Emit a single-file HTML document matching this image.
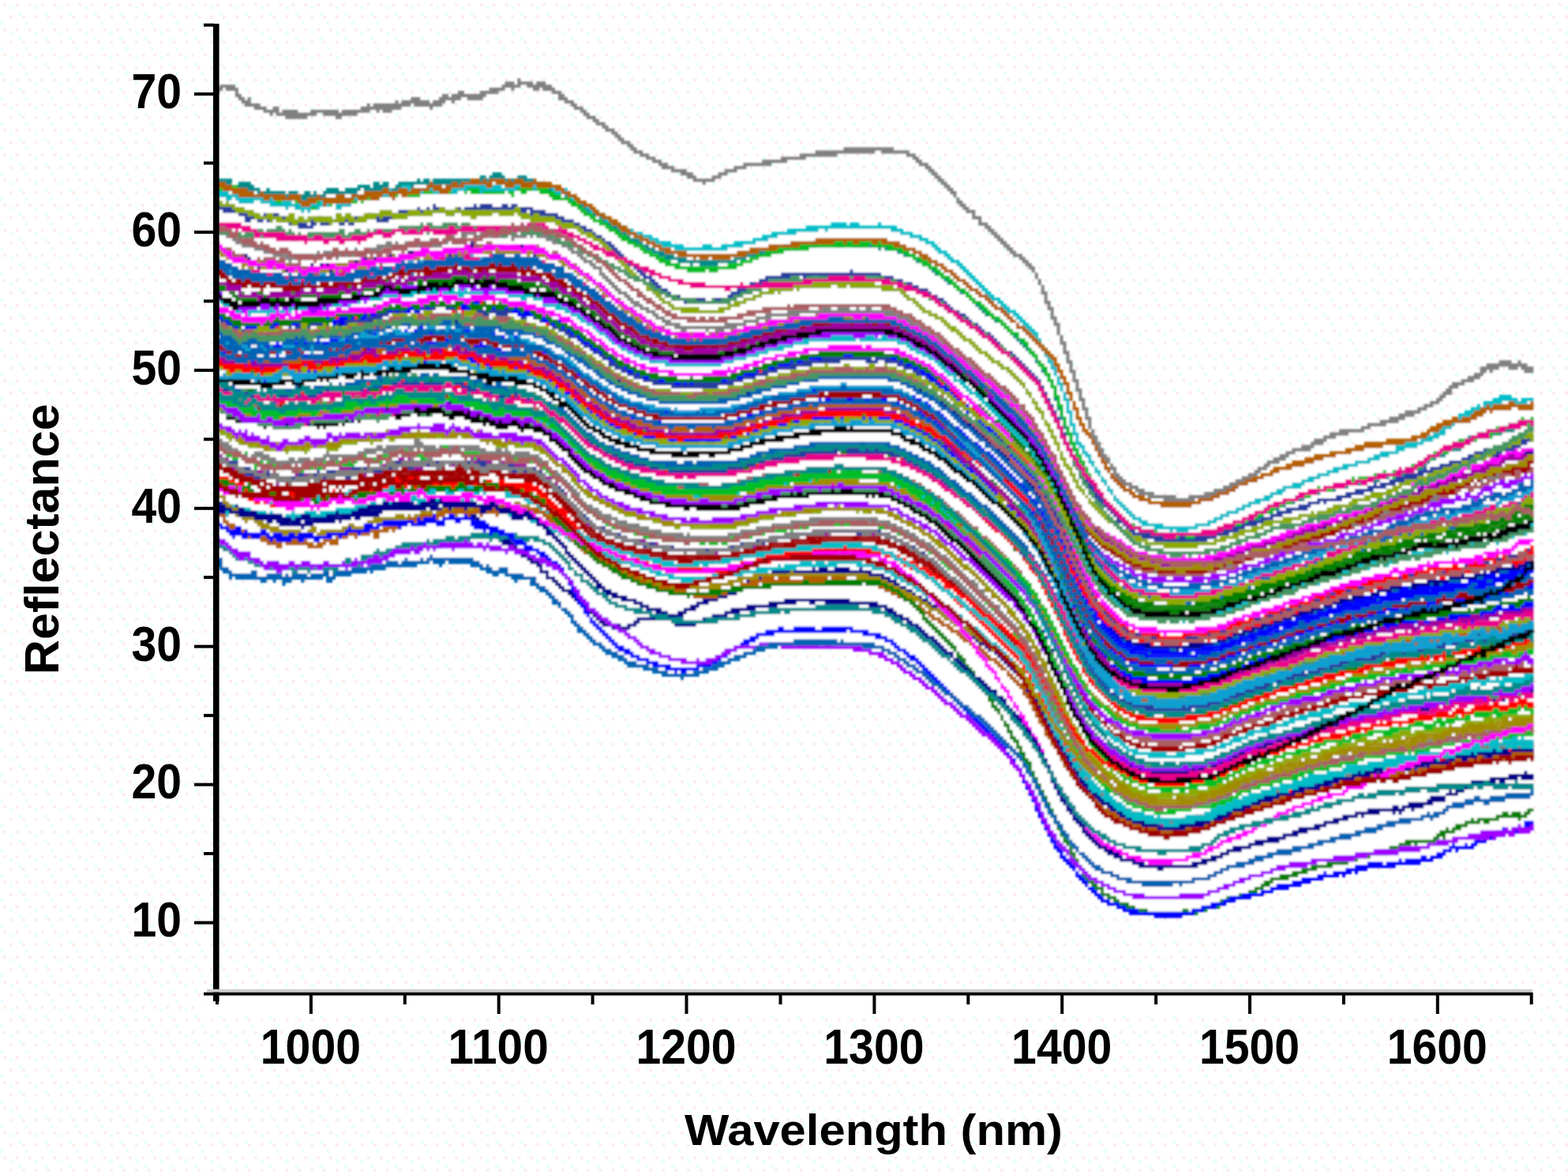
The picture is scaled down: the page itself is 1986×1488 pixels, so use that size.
<!DOCTYPE html><html><head><meta charset="utf-8"><title>Reflectance</title><style>html,body{margin:0;padding:0;background:#fff}svg{display:block}text{font-family:"Liberation Sans",sans-serif;font-weight:bold;fill:#000}</style></head><body>
<svg width="1986" height="1488" viewBox="0 0 1986 1488">
<defs><pattern id="dz" width="8" height="8" patternUnits="userSpaceOnUse" patternTransform="scale(3.9720 3.9680)"><rect width="8" height="8" fill="#fff"/><g fill="#fdeeee"><rect x="1" y="1" width="1" height="1"/><rect x="5" y="1" width="1" height="1"/><rect x="3" y="5" width="1" height="1"/><rect x="7" y="5" width="1" height="1"/></g><g fill="#e8ffff"><rect x="3" y="2" width="1" height="1"/><rect x="6" y="4" width="1" height="1"/><rect x="0" y="7" width="1" height="1"/></g></pattern><filter id="bl" x="0" y="0" width="100%" height="100%" filterUnits="userSpaceOnUse"><feGaussianBlur stdDeviation="0.9"/></filter></defs>
<rect width="100%" height="100%" fill="url(#dz)"/>
<g filter="url(#bl)"><g transform="scale(3.9720 3.9680)" stroke="none">
<polygon fill="#fff" points="69.0,57.3 71.0,57.8 73.0,58.3 75.0,58.8 77.0,59.3 79.0,59.7 81.0,60.2 83.0,60.6 85.0,61.1 87.0,61.6 89.0,62.0 91.0,62.2 93.0,62.1 95.0,62.0 97.0,61.9 99.0,61.8 101.0,61.6 103.0,61.5 105.0,61.3 107.0,61.1 109.0,60.9 111.0,60.7 113.0,60.5 115.0,60.3 117.0,60.1 119.0,59.9 121.0,59.7 123.0,59.5 125.0,59.3 127.0,59.1 129.0,58.9 131.0,58.7 133.0,58.5 135.0,58.4 137.0,58.2 139.0,58.1 141.0,57.9 143.0,57.8 145.0,57.7 147.0,57.7 149.0,57.6 151.0,57.5 153.0,57.4 155.0,57.4 157.0,57.4 159.0,57.3 161.0,57.4 163.0,57.4 165.0,57.5 167.0,57.7 169.0,57.8 171.0,58.2 173.0,58.7 175.0,59.1 177.0,59.7 179.0,60.2 181.0,61.2 183.0,62.4 185.0,63.8 187.0,65.3 189.0,66.6 191.0,67.9 193.0,69.2 195.0,70.5 197.0,71.5 199.0,72.6 201.0,73.5 203.0,74.4 205.0,75.2 207.0,76.0 209.0,76.9 211.0,77.6 213.0,78.3 215.0,78.9 217.0,79.3 219.0,79.4 221.0,79.4 223.0,79.4 225.0,79.4 227.0,79.4 229.0,79.3 231.0,79.0 233.0,78.6 235.0,78.1 237.0,77.6 239.0,77.1 241.0,76.6 243.0,76.1 245.0,75.6 247.0,75.2 249.0,74.8 251.0,74.4 253.0,74.1 255.0,73.7 257.0,73.4 259.0,73.0 261.0,72.8 263.0,72.5 265.0,72.3 267.0,72.2 269.0,72.2 271.0,72.2 273.0,72.2 275.0,72.2 277.0,72.3 279.0,72.3 281.0,72.5 283.0,72.9 285.0,73.3 287.0,73.7 289.0,74.3 291.0,75.0 293.0,75.9 295.0,76.8 297.0,77.9 299.0,79.2 301.0,80.8 303.0,82.5 305.0,84.1 307.0,85.8 309.0,87.7 311.0,89.6 313.0,91.5 315.0,93.3 317.0,95.0 319.0,96.6 321.0,98.3 323.0,99.9 325.0,101.7 327.0,103.6 329.0,105.6 331.0,108.2 333.0,111.3 335.0,113.3 337.0,116.4 339.0,120.6 341.0,125.2 343.0,130.8 345.0,135.8 347.0,138.2 349.0,141.2 351.0,145.7 353.0,149.5 355.0,152.5 357.0,154.9 359.0,156.5 361.0,157.7 363.0,158.7 365.0,159.6 367.0,160.4 369.0,160.9 371.0,161.1 373.0,161.1 375.0,161.1 377.0,161.1 379.0,161.0 381.0,160.6 383.0,160.0 385.0,159.4 387.0,158.6 389.0,157.7 391.0,156.9 393.0,156.0 395.0,155.0 397.0,154.1 399.0,153.2 401.0,152.5 403.0,151.7 405.0,151.0 407.0,150.3 409.0,149.6 411.0,149.0 413.0,148.4 415.0,147.8 417.0,147.2 419.0,146.6 421.0,146.1 423.0,145.5 425.0,145.0 427.0,144.5 429.0,143.9 431.0,143.4 433.0,142.9 435.0,142.5 437.0,142.1 439.0,141.8 441.0,141.6 443.0,141.5 445.0,141.3 447.0,141.1 449.0,140.7 451.0,140.0 453.0,139.0 455.0,137.9 457.0,136.8 459.0,136.0 461.0,135.4 463.0,134.8 465.0,134.1 467.0,132.7 469.0,131.6 471.0,130.5 473.0,129.4 475.0,128.5 477.0,127.9 479.0,127.6 481.0,127.6 483.0,127.6 485.0,127.6 487.0,127.6 489.0,127.6 489.0,127.6 489.0,264.5 489.0,264.5 487.0,264.6 485.0,264.8 483.0,265.0 481.0,265.2 479.0,265.5 477.0,266.0 475.0,266.8 473.0,267.8 471.0,268.7 469.0,269.5 467.0,270.2 465.0,270.9 463.0,271.6 461.0,272.3 459.0,272.9 457.0,273.4 455.0,273.9 453.0,274.3 451.0,274.7 449.0,275.0 447.0,275.3 445.0,275.6 443.0,275.8 441.0,276.1 439.0,276.4 437.0,276.6 435.0,277.0 433.0,277.3 431.0,277.8 429.0,278.3 427.0,278.8 425.0,279.2 423.0,279.6 421.0,280.0 419.0,280.5 417.0,281.0 415.0,281.5 413.0,282.0 411.0,282.5 409.0,283.1 407.0,283.6 405.0,284.1 403.0,284.5 401.0,285.0 399.0,285.5 397.0,286.1 395.0,286.7 393.0,287.3 391.0,288.0 389.0,288.6 387.0,289.1 385.0,289.8 383.0,290.4 381.0,291.0 379.0,291.7 377.0,291.9 375.0,292.0 373.0,292.0 371.0,292.0 369.0,291.9 367.0,291.7 365.0,291.4 363.0,291.1 361.0,290.7 359.0,290.1 357.0,289.5 355.0,288.9 353.0,288.0 351.0,286.8 349.0,285.0 347.0,283.0 345.0,280.7 343.0,278.2 341.0,275.8 339.0,273.2 337.0,270.2 335.0,266.7 333.0,262.7 331.0,258.3 329.0,253.3 327.0,249.1 325.0,245.7 323.0,243.1 321.0,240.8 319.0,238.7 317.0,236.7 315.0,234.9 313.0,233.2 311.0,231.5 309.0,229.8 307.0,228.1 305.0,226.4 303.0,224.8 301.0,223.2 299.0,221.6 297.0,220.0 295.0,218.3 293.0,216.7 291.0,215.3 289.0,213.9 287.0,212.5 285.0,211.1 283.0,209.9 281.0,208.9 279.0,208.2 277.0,207.7 275.0,207.3 273.0,206.9 271.0,206.7 269.0,206.5 267.0,206.5 265.0,206.4 263.0,206.3 261.0,206.3 259.0,206.2 257.0,206.2 255.0,206.1 253.0,206.1 251.0,206.1 249.0,206.1 247.0,206.1 245.0,206.5 243.0,207.0 241.0,207.7 239.0,208.4 237.0,209.3 235.0,210.1 233.0,210.9 231.0,211.7 229.0,212.6 227.0,213.4 225.0,214.1 223.0,214.6 221.0,215.1 219.0,215.5 217.0,215.7 215.0,215.6 213.0,215.2 211.0,214.7 209.0,214.2 207.0,213.6 205.0,213.0 203.0,212.3 201.0,211.5 199.0,210.7 197.0,209.7 195.0,208.6 193.0,207.4 191.0,206.1 189.0,204.6 187.0,202.7 185.0,200.5 183.0,198.0 181.0,195.6 179.0,193.5 177.0,191.6 175.0,189.8 173.0,188.0 171.0,186.5 169.0,185.3 167.0,184.5 165.0,183.9 163.0,183.3 161.0,182.8 159.0,182.3 157.0,181.8 155.0,181.2 153.0,180.7 151.0,180.2 149.0,179.7 147.0,179.4 145.0,179.2 143.0,179.2 141.0,179.3 139.0,179.3 137.0,179.4 135.0,179.5 133.0,179.6 131.0,179.8 129.0,179.9 127.0,180.1 125.0,180.3 123.0,180.6 121.0,180.9 119.0,181.2 117.0,181.6 115.0,182.1 113.0,182.6 111.0,183.0 109.0,183.4 107.0,183.6 105.0,183.8 103.0,184.0 101.0,184.2 99.0,184.3 97.0,184.4 95.0,184.5 93.0,184.6 91.0,184.7 89.0,184.7 87.0,184.7 85.0,184.7 83.0,184.6 81.0,184.5 79.0,184.3 77.0,184.1 75.0,183.5 73.0,182.6 71.0,181.4 69.0,180.3 69.0,180.3"/>
<path fill="#000000" d="M69 119h1v1h1v1h2v-1h1v1h6v1h2v-1h1v1h5v-1h6v1h2v-1h2v-1h2v-1h2v1h1v-1h1v1h1v-1h4v-1h2v1h2v-1h1v-1h1v1h1v1h1v-1h1v-1h1v1h5v-1h2v1h2v-1h5v-1h6v1h1v-1h4v1h2v1h4v1h6v1h5v1h1v-1h3v1h3v1h3v1h2v1h2v1h2v2h2v1h2v1h1v1h1v1h1v1h1v1h1v1h1v1h1v1h2v1h2v1h1v1h2v1h3v1h3v1h3v1h5v1h9v1h1v-1h13v-1h4v-1h3v-1h3v-1h5v-1h6v-1h5v-1h8v-1h4v1h1v-1h1v1h13v1h3v1h1v1h3v1h2v1h1v1h2v1h2v1h1v1h2v1h1v1h1v1h1v1h2v1h1v1h1v1h2v1h1v1h1v1h1v1h1v1h1v1h1v1h2v1h1v1h1v1h1v1h1v1h1v1h1v1h1v1h1v1h1v2h1v1h1v1h1v2h1v1h1v2h1v2h1v2h1v2h1v1h1v3h1v2h1v2h1v2h1v2h1v2h1v2h1v2h1v2h1v2h1v1h1v1h1v2h1v1h1v1h1v1h1v1h2v1h1v1h2v1h2v1h5v1h11v-1h5v-1h4v-1h3v-1h2v-1h3v-1h3v-1h3v-1h3v-1h2v-1h3v-1h3v-1h2v-1h4v-1h2v-1h3v-1h2v-1h4v-1h4v-1h4v-1h3v-1h2v-1h6v-1h3v-1h3v-1h2v1h1v-1h1v1h1v-1h2v-1h3v-1h4v-1h3v-1h3v-1h2v-1h1v1h1v-1h2v-1h1v-1h1v-1h2v-1h2v-1h1v-2h2v-2h1v3h-2v1h-1v2h-1v1h-3v2h-2v1h-2v1h-4v1h-1v2h-1v-1h-2v1h-4v1h-3v1h-4v1h-6v1h-5v1h-1v1h-1v-1h-1v1h-5v1h-2v1h-3v1h-3v1h-7v1h-2v1h-2v1h-3v1h-3v1h-3v1h-2v1h-2v1h-4v1h-2v1h-3v1h-4v1h-2v1h-2v1h-2v1h-5v1h-4v1h-4v1h-4v-1h-9v-1h-3v-1h-2v-1h-2v-1h-2v-1h-1v-1h-1v-1h-1v-1h-1v-1h-1v-2h-1v-1h-1v-2h-1v-2h-1v-1h-1v-2h-1v-2h-1v-2h-1v-2h-1v-2h-1v-2h-1v-3h-1v-2h-1v-2h-1v-1h-1v-2h-1v-2h-1v-2h-1v-2h-1v-1h-1v-1h-1v-2h-1v-1h-1v-1h-1v-1h-1v-1h-1v-1h-1v-1h-1v-1h-1v-1h-1v-1h-1v-1h-2v-1h-1v-1h-1v-1h-1v-1h-1v-1h-1v-1h-1v-1h-2v-1h-1v-1h-1v-1h-2v-1h-1v-1h-1v-1h-1v-1h-2v-1h-1v-1h-2v-1h-2v-1h-1v-1h-3v-1h-2v-1h-1v-1h-3v-1h-22v1h-7v1h-5v1h-6v1h-4v1h-3v1h-4v1h-5v1h-2v-1h-3v1h-9v-1h-7v-1h-4v-1h-4v-1h-3v-1h-2v-1h-2v-1h-1v-1h-2v-1h-2v-1h-1v-1h-1v-1h-1v-1h-1v-1h-1v-1h-1v-1h-3v-2h-2v-1h-1v-1h-1v-1h-2v-1h-2v-1h-6v-1h-7v1h-2v-2h-3v-1h-3v-1h-6v-1h-12v1h-7v1h-1v-1h-1v1h-3v-1h-1v1h-2v1h-1v-2h-1v1h-1v1h-3v-1h-2v1h-3v1h-1v-1h-1v1h-1v-1h-1v1h-4v2h-2v-1h-2v-1h-2v1h-4v1h-4v-1h-8v1h-1v-2h-3v1h-1v-1h-1z"/>
<path fill="#000000" d="M69 130h2v1h4v2h1v-1h4v1h3v1h1v1h2v-1h1v1h3v-1h2v1h2v-1h3v-2h2v2h7v-1h1v1h1v-1h5v-1h3v-1h1v1h2v-1h1v1h3v-2h2v1h1v1h1v-1h3v-1h4v1h2v-1h5v1h1v1h2v-1h4v1h1v-1h1v2h2v-1h1v2h1v-1h2v1h2v1h1v-1h1v1h3v-1h2v1h1v1h1v-1h2v1h4v1h1v1h2v2h2v1h1v1h1v1h2v2h1v1h1v1h1v1h1v1h1v1h2v1h1v1h2v1h1v1h3v1h1v1h4v1h2v1h3v1h2v1h6v1h16v1h2v-1h5v-1h4v-1h5v-1h6v-1h1v1h1v-1h2v1h1v-1h8v-1h1v1h2v-1h4v1h10v1h3v1h2v1h2v1h2v1h1v1h2v1h2v1h1v1h2v1h1v1h1v1h1v1h1v1h1v1h2v1h1v1h1v1h1v1h1v1h1v1h1v1h1v1h1v1h1v1h1v1h1v1h1v1h1v1h1v1h1v1h1v1h1v1h1v1h1v2h1v1h1v2h1v2h1v1h1v1h1v2h1v2h1v2h1v2h1v3h1v2h1v2h1v2h1v2h1v3h1v2h1v2h1v2h1v1h1v2h1v2h1v1h1v2h1v1h1v1h1v1h1v1h1v1h1v1h1v1h2v1h1v1h2v1h2v1h2v1h6v1h5v-1h7v-1h1v1h2v-1h3v-1h2v-1h2v-1h2v-1h2v-1h3v-1h2v-1h1v1h1v-1h1v-1h3v-1h2v-1h2v-1h2v-1h3v-1h1v-1h2v-1h2v-1h2v-1h3v-1h1v-1h2v-1h3v-1h1v-1h3v-1h1v-1h2v-1h2v-1h2v-2h2v-1h2v1h1v-1h2v-1h1v-1h3v-1h3v-1h2v-1h2v-1h3v-1h1v-1h3v-1h2v-1h2v-1h3v-1h2v-1h2v-1h2v-1h3v-1h3v-1h2v1h-1v1h-1v1h-4v1h-3v2h-3v1h-3v2h-2v-1h-1v1h-1v1h-4v1h-1v1h-3v1h-1v1h-3v1h-1v1h-4v1h-2v1h-1v1h-5v1h-1v1h-2v1h-2v1h-2v1h-1v1h-2v1h-2v1h-2v1h-2v1h-2v1h-2v1h-3v1h-1v1h-2v1h-2v1h-2v1h-3v1h-2v1h-2v1h-3v1h-1v1h-3v1h-2v1h-4v1h-2v1h-2v1h-2v1h-2v1h-7v1h-14v-1h-3v-1h-3v-1h-1v-1h-2v-1h-1v-1h-2v-1h-1v-1h-1v-1h-1v-1h-1v-1h-1v-1h-1v-1h-1v-2h-1v-1h-1v-2h-1v-2h-1v-1h-1v-2h-1v-2h-1v-3h-1v-2h-1v-2h-1v-2h-1v-2h-1v-2h-1v-3h-1v-2h-1v-2h-1v-2h-1v-2h-1v-1h-1v-2h-1v-2h-1v-1h-1v-1h-1v-2h-1v-1h-1v-1h-1v-1h-1v-1h-1v-1h-1v-1h-1v-1h-1v-1h-1v-1h-1v-1h-1v-1h-1v-1h-1v-1h-1v-1h-1v-1h-1v-1h-1v-1h-1v-1h-1v-1h-2v-1h-1v-1h-1v-1h-1v-1h-1v-1h-1v-1h-2v-1h-1v-1h-2v-1h-2v-1h-1v-1h-2v-1h-2v-1h-2v-1h-4v-1h-1v1h-1v-1h-1v1h-1v-1h-18v1h-10v1h-4v1h-5v1h-3v1h-14v-1h-2v1h-2v-1h-6v-1h-5v-1h-3v-1h-2v-1h-3v-1h-3v-1h-2v-1h-2v-1h-1v-1h-2v-1h-1v-1h-2v-1h-1v-1h-1v-1h-1v-1h-1v-1h-1v-2h-2v-1h-1v-1h-1v-1h-2v-2h-2v-1h-3v-1h-3v1h-1v-1h-1v-1h-3v1h-4v-1h-2v-1h-1v1h-1v-1h-4v-1h-2v-1h-3v1h-2v-1h-2v-1h-4v1h-1v-1h-2v1h-1v-1h-2v1h-3v1h-2v-1h-1v-1h-1v1h-1v1h-3v-1h-5v2h-1v-1h-3v1h-1v1h-1v-1h-1v1h-4v1h-1v-1h-1v1h-1v-1h-3v-1h-1v1h-4v1h-6v-1h-2v1h-1v-1h-1v-1h-5v-2h-1v2h-2v-1h-3v-2h-2v-1h-1z"/>
<path fill="#00008b" d="M69 78h1v1h3v2h2v1h2v-1h2v1h1v1h2v1h2v-1h2v1h1v1h1v-1h2v1h4v-1h1v1h4v-1h1v1h2v-1h3v1h1v-1h7v-1h2v-1h2v1h2v-1h5v-1h2v1h1v-1h1v1h1v-1h1v-1h2v1h1v-1h1v1h1v-1h2v1h2v-1h6v-1h3v-1h2v-1h1v1h7v1h1v-1h1v1h4v-1h3v1h3v1h1v-1h2v1h1v1h3v1h3v1h2v1h1v1h2v1h1v1h2v1h1v1h1v1h1v1h2v1h1v1h1v1h1v1h1v1h2v1h1v1h2v1h1v1h1v1h2v1h1v1h2v1h3v1h2v1h4v1h9v-1h7v-1h5v-1h3v-1h4v-1h7v-1h8v-1h12v1h1v-1h7v1h5v1h2v1h3v1h1v1h2v1h2v1h1v1h2v1h1v1h1v1h1v1h2v1h1v1h1v1h1v1h2v1h1v1h2v1h1v1h1v1h2v1h1v1h1v1h1v1h1v1h1v1h1v1h1v1h1v1h1v1h1v1h1v1h1v1h1v2h1v1h1v1h1v2h1v2h1v2h1v1h1v2h1v2h1v2h1v2h1v2h1v2h1v2h1v2h1v2h1v1h1v1h1v1h1v1h1v1h1v1h2v1h1v1h1v1h2v1h2v1h2v1h1v1h3v1h3v1h4v1h11v-1h6v-1h4v-1h3v-1h2v-1h4v-1h2v-1h3v-1h6v-1h2v-1h3v-1h3v-1h2v-1h6v-1h1v-1h2v-1h3v-1h4v-1h1v-1h3v-1h2v-1h2v-1h3v1h1v-1h2v-1h1v-1h3v-1h2v-1h1v1h1v-1h1v-1h1v-1h2v-1h2v1h3v-1h1v-1h1v-1h2v-1h3v-1h1v-1h9v-1h1v-1h2v2h-2v1h-3v1h-7v1h-1v1h-2v1h-3v2h-4v1h-2v-1h-1v2h-2v1h-4v1h-4v1h-1v1h-1v1h-7v1h-1v1h-2v1h-3v1h-3v1h-3v1h-2v1h-2v1h-4v1h-2v1h-5v1h-3v1h-2v1h-5v1h-3v1h-3v1h-2v1h-3v1h-3v1h-4v1h-4v1h-11v1h-2v-1h-3v-1h-4v-1h-4v-1h-2v-1h-1v-1h-2v-1h-2v-1h-2v-1h-1v-1h-2v-1h-1v-1h-1v-1h-1v-1h-1v-1h-1v-1h-1v-2h-1v-1h-1v-2h-1v-2h-1v-2h-1v-2h-1v-2h-1v-2h-1v-2h-1v-2h-1v-2h-1v-2h-1v-1h-1v-2h-1v-1h-1v-2h-1v-1h-1v-1h-1v-1h-1v-1h-1v-1h-1v-1h-1v-1h-1v-1h-1v-1h-1v-1h-1v-1h-1v-1h-1v-1h-1v-1h-2v-1h-1v-1h-1v-1h-2v-1h-1v-1h-2v-1h-1v-1h-1v-1h-1v-1h-2v-1h-1v-1h-1v-1h-1v-1h-2v-1h-1v-1h-2v-1h-2v-1h-2v-1h-3v-1h-4v-1h-26v1h-8v1h-4v1h-4v1h-5v1h-2v1h-18v-1h-2v-1h-2v-1h-3v-1h-2v-1h-2v-1h-1v-1h-1v-1h-1v-1h-2v-1h-1v-1h-1v-1h-2v-1h-1v-1h-1v-1h-1v-1h-2v-1h-1v-1h-1v-1h-1v-1h-2v-1h-1v-1h-2v-1h-1v-1h-2v-1h-3v-1h-3v-1h-2v1h-1v-1h-1v-1h-1v1h-1v-1h-2v1h-4v-1h-1v1h-2v-1h-1v1h-2v-1h-2v1h-1v-1h-2v1h-3v1h-2v-1h-1v1h-3v-1h-1v1h-2v1h-1v-1h-4v1h-1v-1h-1v1h-4v1h-1v-1h-2v1h-3v-1h-1v1h-1v1h-3v-1h-1v2h-5v-1h-2v1h-1v2h-1v-1h-1v-1h-1v-1h-1v2h-1v-1h-1v1h-6v-1h-1v1h-1v-1h-1v1h-2v-1h-5v-1h-2v1h-1v-1h-1v-1h-4v-1h-3v-1h-2v-1h-2v-1h-1z"/>
<path fill="#aa5f64" d="M69 77h1v2h4v1h1v1h3v1h1v1h1v1h1v-1h1v-1h1v1h1v-1h4v1h1v-1h2v2h5v1h2v1h3v-1h1v1h2v-1h5v-1h2v-1h2v1h1v-1h3v-1h2v1h3v-1h1v-1h1v1h3v-1h6v-1h4v1h1v-1h10v-1h1v-1h1v1h1v-1h3v1h1v-2h2v1h4v1h2v-1h3v1h3v-1h1v1h1v-1h1v1h2v1h1v1h1v-1h2v1h1v1h1v1h2v1h2v1h1v1h1v1h2v1h1v1h1v1h2v1h1v1h1v1h1v1h1v1h2v1h1v1h1v1h1v1h2v1h1v1h2v1h2v1h1v1h3v1h2v1h11v1h1v-1h7v-1h4v-1h4v-1h3v-1h7v-1h9v-1h23v1h3v1h2v1h2v1h3v1h1v1h2v1h1v1h2v1h1v1h1v1h1v1h2v1h1v1h1v1h2v1h1v1h1v1h1v1h1v1h1v1h2v1h1v1h1v1h1v1h2v2h2v1h1v1h1v2h2v2h1v1h1v1h1v1h1v2h1v1h1v2h1v1h1v2h1v2h1v2h1v2h1v2h1v3h1v2h1v2h1v2h1v1h1v2h1v2h1v1h1v2h1v1h1v1h1v1h1v1h1v1h1v1h2v1h2v1h1v1h1v1h2v1h1v1h4v1h5v1h8v-1h8v-1h6v-1h1v-1h2v-1h3v-1h5v-1h3v-1h3v-1h3v-1h2v-1h4v-1h3v-1h3v-1h2v-1h4v-1h1v-1h4v-1h4v-1h2v-1h4v-1h3v-1h4v-1h2v-1h3v-1h3v-1h1v-1h3v-1h5v-1h1v1h1v-1h2v-1h1v-1h2v-1h2v-1h3v1h1v-1h4v-1h2v2h-2v1h-1v-1h-1v2h-2v-1h-3v1h-3v1h-2v1h-1v1h-4v1h-2v-1h-2v1h-1v1h-3v1h-2v1h-4v1h-2v1h-3v1h-2v1h-4v1h-3v1h-4v1h-2v1h-4v1h-2v1h-1v-1h-1v1h-2v1h-3v1h-2v1h-3v1h-4v1h-3v1h-1v1h-5v1h-5v1h-3v1h-2v1h-1v1h-6v1h-4v1h-15v-1h-5v-1h-3v-1h-1v-1h-2v-1h-1v-1h-2v-1h-1v-1h-2v-1h-1v-1h-1v-1h-1v-1h-1v-1h-1v-1h-1v-2h-1v-1h-1v-2h-1v-2h-1v-2h-1v-2h-1v-1h-1v-3h-1v-2h-1v-2h-1v-2h-1v-2h-1v-2h-1v-2h-1v-2h-1v-1h-1v-1h-1v-2h-1v-1h-1v-1h-1v-2h-1v-1h-1v-1h-1v-1h-1v-1h-1v-1h-2v-2h-2v-1h-1v-1h-1v-1h-1v-1h-2v-1h-1v-1h-1v-1h-1v-1h-1v-1h-1v-1h-2v-1h-1v-1h-1v-1h-1v-1h-2v-1h-1v-1h-1v-1h-2v-1h-2v-1h-1v-1h-2v-1h-2v-1h-2v-1h-3v-1h-7v-1h-2v1h-11v-1h-3v1h-7v1h-7v1h-4v1h-4v1h-3v1h-4v1h-15v-1h-4v-1h-3v-1h-2v-1h-1v-1h-2v-1h-2v-1h-1v-1h-2v-1h-1v-1h-1v-1h-1v-1h-2v-1h-1v-1h-1v-1h-1v-1h-1v-1h-2v-1h-1v-1h-1v-1h-2v-1h-1v-1h-1v-1h-2v-1h-2v-1h-1v-1h-4v-1h-2v-1h-1v1h-2v-1h-1v1h-3v-1h-3v1h-1v-1h-4v-1h-1v1h-4v1h-2v-1h-1v1h-1v1h-4v-1h-1v1h-10v1h-2v1h-1v-1h-1v-1h-1v1h-2v1h-4v1h-1v-1h-4v1h-3v1h-5v1h-3v-1h-1v1h-1v1h-1v-1h-1v1h-4v-1h-2v-1h-4v-1h-4v-1h-2v1h-1v-1h-1v1h-5v-1h-1v-1h-3v-1h-1v-1h-1v1h-1v-1h-2v-1h-1z"/>
<path fill="#0aa0d2" d="M69 83h2v1h1v1h3v1h1v1h1v-1h2v1h1v-1h1v1h5v1h1v-1h2v1h11v1h1v-1h1v-1h2v1h1v-1h1v1h1v-1h4v-1h1v1h1v-1h1v1h1v-1h2v-1h5v1h1v-1h5v-1h2v-1h2v1h2v-1h4v-1h2v1h8v-1h1v-1h2v1h6v-1h2v1h9v1h1v-1h2v1h1v1h4v1h3v1h1v1h3v1h1v1h2v1h1v1h1v1h1v1h2v1h1v1h1v1h1v1h2v1h1v1h1v1h2v1h1v1h2v1h1v1h2v1h3v1h1v1h3v1h5v1h4v-1h11v-1h3v-1h4v-1h3v-1h6v-1h6v-1h13v-1h1v1h1v-1h4v1h1v-1h2v1h8v1h3v1h2v1h2v1h2v1h1v1h2v1h2v1h1v1h1v1h1v1h1v1h1v1h2v1h1v1h1v1h2v1h1v1h1v1h1v1h1v1h1v1h1v1h1v1h1v1h2v1h1v1h1v1h1v1h1v1h1v1h1v1h1v2h1v1h1v1h1v2h1v2h1v1h1v1h1v2h1v2h1v2h1v2h1v2h1v3h1v2h1v2h1v2h1v2h1v2h1v2h1v2h1v2h1v1h1v2h1v1h1v1h1v1h1v1h1v1h1v1h1v1h1v1h2v1h1v1h3v1h3v1h3v1h4v-1h1v1h2v-1h10v-1h4v-1h4v-1h2v-1h2v-1h3v-1h4v-1h3v-1h3v-1h3v-1h3v-1h3v-1h3v-1h2v-1h1v1h1v-1h1v-1h1v1h1v-1h4v-1h3v-1h3v-1h3v-1h2v-1h4v-1h2v-1h4v-1h3v-1h4v-1h3v-1h7v-1h5v-1h1v-1h3v-1h2v-1h1v1h1v-1h2v-1h2v2h-2v1h-4v1h-4v1h-1v1h-1v1h-1v-1h-3v2h-8v1h-2v1h-5v1h-3v1h-4v1h-2v1h-1v-1h-2v1h-2v1h-1v1h-3v1h-4v1h-2v1h-2v-1h-1v1h-3v1h-1v1h-2v-1h-1v1h-2v1h-3v1h-4v1h-2v1h-2v1h-3v1h-5v1h-3v1h-3v1h-2v1h-4v1h-3v1h-2v1h-3v-1h-1v1h-14v-1h-3v-1h-4v-1h-2v-1h-1v-1h-2v-1h-1v-1h-1v-1h-1v-1h-1v-1h-1v-1h-1v-1h-1v-2h-1v-1h-1v-2h-1v-1h-1v-2h-1v-2h-1v-2h-1v-2h-1v-2h-1v-2h-1v-2h-1v-3h-1v-2h-1v-2h-1v-2h-1v-2h-1v-2h-1v-1h-1v-2h-1v-1h-1v-2h-1v-1h-1v-1h-1v-2h-1v-1h-1v-1h-1v-1h-1v-1h-1v-1h-1v-1h-1v-1h-2v-1h-1v-1h-1v-1h-1v-1h-1v-1h-1v-1h-1v-1h-1v-1h-1v-1h-2v-1h-1v-1h-1v-1h-2v-1h-1v-1h-1v-1h-1v-1h-1v-1h-2v-1h-1v-1h-2v-1h-2v-1h-2v-1h-1v-1h-2v-1h-4v-1h-23v1h-7v1h-8v1h-3v1h-4v1h-3v1h-4v1h-16v-1h-3v-1h-4v-1h-1v-1h-2v-1h-2v-1h-2v-1h-1v-1h-1v-1h-2v-1h-1v-1h-2v-1h-1v-1h-1v-1h-1v-1h-1v-1h-2v-1h-1v-1h-1v-1h-1v-1h-2v-1h-2v-1h-2v-1h-2v-1h-4v-1h-2v-1h-2v1h-4v-1h-2v-1h-1v1h-2v-1h-5v1h-2v-1h-1v1h-5v1h-1v-1h-8v1h-3v1h-3v-1h-2v1h-1v1h-11v1h-2v1h-1v-1h-2v1h-2v-1h-1v1h-3v1h-1v-1h-1v1h-2v1h-1v-1h-10v1h-1v-1h-2v1h-1v-1h-1v-1h-4v-1h-2v1h-2v-1h-4v-1h-3v-1h-1v-1h-1v-1h-1z"/>
<path fill="#eb008c" d="M69 82h1v1h1v1h2v1h2v1h4v1h1v-1h3v1h4v1h1v-1h2v1h5v-1h1v1h1v-1h1v2h1v-1h6v-1h4v-1h1v1h1v-1h1v1h1v-1h4v1h1v-1h1v-1h1v1h1v-1h2v1h1v-1h4v-1h10v-1h2v-1h6v1h1v-1h1v-1h2v1h3v1h1v-1h2v-1h2v1h1v-1h2v1h2v1h1v-1h3v1h1v-1h1v1h1v-1h1v1h3v1h2v1h3v1h1v1h2v1h1v1h2v1h2v1h1v1h2v1h1v1h2v2h2v1h1v1h1v1h1v1h2v1h1v1h2v1h2v1h2v1h2v1h2v1h2v1h7v1h2v-1h2v1h3v-1h6v-1h4v-1h3v-1h4v-1h6v-1h8v-1h5v-1h3v1h1v-1h3v1h15v1h3v1h2v1h2v1h2v1h1v1h2v1h1v1h1v1h2v1h1v1h1v1h1v1h1v1h2v1h1v1h1v1h2v1h1v1h1v1h1v1h1v1h1v1h2v1h1v2h1v1h2v1h1v2h1v1h1v1h1v1h1v1h1v1h1v2h1v1h1v1h1v2h1v2h1v1h1v3h1v2h1v1h1v3h1v2h1v2h1v2h1v2h1v3h1v1h1v2h1v3h1v1h1v2h1v2h1v1h1v1h1v1h1v1h1v1h1v1h1v1h1v1h2v1h1v1h1v1h4v1h8v1h8v-1h5v-1h4v-1h5v-1h3v-1h2v-1h2v-1h4v-1h3v-1h3v-1h4v-1h3v-1h4v-2h3v-1h4v-1h3v-1h2v-1h1v1h3v-1h2v-1h3v-1h2v-1h4v-1h3v-1h3v-1h3v-1h2v1h2v-1h3v-1h4v-1h3v-1h2v-1h2v1h2v-1h2v-1h4v-1h1v-1h2v-1h1v2h-2v1h-1v1h-4v1h-2v1h-2v1h-6v1h-2v1h-1v-1h-1v1h-3v1h-1v1h-2v-1h-3v1h-3v1h-5v1h-3v1h-3v1h-3v1h-1v1h-6v1h-2v1h-4v1h-3v1h-2v1h-3v1h-4v1h-4v1h-2v1h-3v1h-3v1h-4v1h-2v1h-3v1h-4v1h-3v1h-3v1h-18v-1h-5v-1h-3v-1h-1v-1h-1v-1h-2v-1h-1v-1h-1v-1h-1v-1h-1v-1h-1v-1h-1v-1h-1v-2h-1v-1h-1v-2h-1v-2h-1v-2h-1v-2h-1v-2h-1v-2h-1v-2h-1v-2h-1v-2h-1v-2h-1v-3h-1v-2h-1v-2h-1v-2h-1v-1h-1v-2h-1v-2h-1v-1h-1v-2h-1v-1h-1v-1h-1v-1h-1v-1h-1v-1h-1v-2h-1v-1h-1v-1h-1v-1h-1v-1h-1v-1h-1v-1h-2v-1h-1v-1h-1v-1h-1v-1h-1v-1h-1v-1h-2v-1h-1v-1h-1v-1h-2v-1h-1v-1h-1v-1h-1v-1h-1v-1h-2v-1h-1v-1h-1v-1h-2v-1h-1v-1h-2v-1h-2v-1h-3v-1h-2v-1h-23v1h-9v1h-5v1h-5v1h-3v1h-3v1h-5v1h-15v-1h-4v-1h-2v-1h-2v-1h-3v-1h-1v-1h-3v-1h-1v-1h-1v-1h-2v-1h-1v-1h-1v-1h-1v-1h-1v-1h-1v-1h-2v-1h-1v-1h-2v-1h-1v-1h-2v-1h-2v-1h-1v-1h-2v-1h-2v-1h-2v-1h-2v-1h-1v1h-1v-1h-1v1h-3v-1h-3v1h-2v-2h-6v1h-7v-1h-1v1h-3v1h-1v-1h-4v1h-1v1h-8v-1h-1v1h-2v1h-9v1h-3v1h-1v-1h-2v1h-8v1h-1v-1h-2v1h-2v1h-2v-1h-2v-1h-1v1h-8v-1h-5v-1h-4v-1h-1v1h-2v-1h-1v-1h-1v1h-1v-1h-1v-1h-1v-1h-1z"/>
<path fill="#ff0000" d="M69 99h1v1h2v1h2v1h3v1h1v-1h4v-1h6v1h2v-1h1v1h2v-1h4v1h1v-1h7v-1h1v1h1v-1h2v-1h2v1h3v1h1v-1h1v-1h6v-1h3v1h1v-1h2v-1h3v-1h1v2h1v-1h2v1h2v-1h2v-1h4v1h1v1h1v-1h4v-1h2v1h2v-1h2v1h2v-1h1v2h4v-1h2v1h6v1h1v1h3v1h1v2h5v1h2v1h1v1h2v1h2v1h1v1h2v1h1v1h1v1h1v1h2v1h1v1h2v1h2v1h3v1h1v1h3v1h5v1h16v-1h6v-1h5v-1h2v-1h3v-1h5v-1h5v-1h5v-1h27v1h2v1h2v1h2v1h2v1h2v1h1v1h2v1h1v1h1v1h2v1h1v1h1v1h1v1h1v1h1v1h1v1h2v1h1v1h1v1h1v1h1v1h1v1h1v1h1v1h1v1h1v1h1v1h1v1h1v1h1v1h1v1h1v1h1v1h1v2h1v1h1v1h1v2h1v1h1v2h1v2h1v2h1v2h1v2h1v2h1v3h1v2h1v2h1v2h1v2h1v2h1v3h1v2h1v2h1v2h1v2h1v2h1v1h1v1h1v1h1v1h1v1h1v1h1v1h2v1h1v1h2v1h8v1h7v-1h7v-1h5v-1h3v-1h1v-1h5v-1h5v-1h1v-1h4v-1h3v-1h2v-1h4v-1h2v-1h3v-1h3v-1h4v-1h4v-1h3v-1h3v-1h1v1h1v-1h6v-1h4v-1h2v-1h1v1h1v-1h2v-1h1v1h5v-1h2v1h2v-1h1v-1h4v-1h2v-1h2v1h1v-1h1v1h1v-1h5v-1h2v-1h2v-1h1v3h-2v1h-6v1h-1v1h-2v-1h-4v1h-2v1h-4v1h-12v1h-3v1h-4v1h-4v1h-6v1h-5v1h-2v1h-4v1h-4v1h-3v1h-3v1h-3v1h-3v1h-3v1h-3v1h-2v1h-3v1h-1v-1h-1v1h-2v1h-4v1h-2v1h-3v1h-8v1h-13v-1h-6v-1h-2v-1h-2v-1h-1v-1h-1v-1h-1v-1h-1v-1h-1v-1h-1v-1h-1v-2h-1v-2h-1v-1h-1v-2h-1v-2h-1v-3h-1v-2h-1v-2h-1v-2h-1v-2h-1v-2h-1v-3h-1v-2h-1v-2h-1v-2h-1v-2h-1v-2h-1v-2h-1v-2h-1v-1h-1v-2h-1v-1h-1v-2h-1v-1h-1v-1h-1v-1h-1v-1h-1v-1h-1v-1h-1v-1h-1v-2h-2v-2h-2v-1h-1v-1h-1v-1h-1v-1h-1v-1h-1v-1h-1v-1h-2v-1h-1v-1h-1v-1h-1v-1h-1v-1h-1v-1h-1v-1h-2v-1h-1v-1h-1v-1h-2v-1h-1v-1h-2v-1h-2v-1h-2v-1h-2v-1h-3v-1h-22v1h-7v1h-4v1h-5v1h-3v1h-3v1h-3v1h-6v1h-22v-1h-4v-1h-2v-1h-2v-1h-2v-1h-3v-1h-1v-1h-1v-1h-2v-1h-1v-1h-1v-1h-2v-1h-1v-1h-1v-1h-2v-1h-2v-1h-2v-1h-3v-1h-3v-1h-1v-1h-2v-1h-2v-1h-3v-1h-3v1h-2v-1h-2v1h-1v-1h-3v-1h-3v1h-4v1h-1v-1h-1v1h-2v-1h-1v-1h-5v1h-7v1h-1v-1h-2v1h-6v1h-6v1h-1v1h-1v-1h-9v1h-4v1h-1v-1h-6v1h-1v-1h-1v1h-2v1h-2v-2h-6v1h-8v-1h-1v-1h-3v-1h-1z"/>
<path fill="#00008b" d="M69 104h2v1h1v1h1v-1h1v1h2v1h9v-1h2v1h2v-1h3v-1h1v2h4v-1h1v1h1v-1h2v-1h1v1h2v-1h3v-1h1v-1h1v1h4v1h1v-1h1v-1h7v-1h6v-1h1v1h1v-1h7v-1h1v1h1v-1h3v1h3v1h8v1h1v-1h5v1h1v1h3v-1h2v1h6v1h2v1h2v1h2v1h3v2h2v1h1v1h1v1h2v1h1v1h1v1h2v1h1v1h2v1h2v1h1v1h2v1h2v1h2v1h3v1h3v1h7v1h3v-1h4v1h5v-1h1v1h1v-1h4v-1h4v-1h4v-1h2v-1h6v-1h3v-1h6v-1h15v-1h2v1h11v1h3v1h1v1h2v1h2v1h2v1h1v1h1v1h2v1h1v1h2v1h1v1h1v1h2v2h2v1h1v1h1v1h1v1h2v1h1v1h1v1h1v1h1v1h1v1h1v1h1v1h1v1h1v1h1v1h1v1h1v1h1v2h1v1h1v1h1v1h1v2h1v1h1v2h1v2h1v2h1v2h1v2h1v2h1v2h1v2h1v3h1v2h1v2h1v2h1v2h1v2h1v2h1v2h1v2h1v1h1v2h1v1h1v1h1v1h1v1h1v1h1v1h2v1h2v1h6v1h12v-1h9v-1h2v-1h3v-1h3v-1h3v-1h3v-1h3v-1h3v-1h3v-1h2v-1h4v-1h5v-1h2v-1h3v-1h4v-1h6v-1h2v-1h4v-1h7v-1h5v-1h7v-1h3v-1h2v1h3v-1h1v-1h1v1h1v-1h1v1h1v-1h1v-1h6v-1h4v-1h2v-1h1v2h-1v1h-3v1h-2v1h-3v1h-1v-1h-2v1h-1v1h-2v-1h-1v1h-3v1h-1v-1h-6v1h-1v1h-8v1h-7v1h-2v-1h-1v1h-1v1h-1v-1h-2v1h-2v1h-5v1h-3v1h-5v1h-2v1h-4v1h-2v1h-5v1h-3v1h-3v1h-2v1h-4v1h-3v1h-3v1h-2v1h-3v1h-5v1h-8v1h-1v-1h-13v-1h-3v-1h-1v-1h-2v-1h-1v-1h-1v-1h-1v-1h-1v-1h-1v-2h-1v-1h-1v-1h-1v-2h-1v-2h-1v-2h-1v-2h-1v-2h-1v-2h-1v-2h-1v-3h-1v-2h-1v-2h-1v-3h-1v-2h-1v-1h-1v-2h-1v-2h-1v-2h-1v-2h-1v-2h-1v-1h-1v-1h-1v-1h-1v-2h-1v-1h-1v-1h-1v-1h-1v-1h-1v-1h-1v-1h-1v-1h-1v-1h-1v-1h-1v-1h-1v-1h-1v-1h-1v-1h-1v-1h-2v-1h-1v-1h-1v-1h-1v-1h-2v-2h-2v-1h-1v-1h-1v-1h-2v-1h-1v-1h-2v-1h-1v-1h-1v-1h-2v-1h-2v-1h-2v-1h-1v-1h-4v-1h-23v1h-6v1h-5v1h-4v1h-4v1h-2v1h-5v1h-3v1h-20v-1h-6v-1h-3v-1h-2v-1h-2v-1h-2v-1h-2v-1h-1v-1h-2v-1h-2v-1h-1v-1h-2v-1h-1v-1h-1v-1h-2v-1h-1v-1h-1v-1h-2v-2h-1v1h-1v-1h-2v-1h-2v-1h-1v-1h-2v-1h-1v1h-2v-1h-1v1h-2v-1h-3v1h-2v-2h-2v1h-1v-1h-11v-1h-2v-1h-4v1h-1v-1h-1v1h-2v1h-1v-1h-4v1h-1v-1h-1v1h-7v1h-5v1h-2v1h-1v-1h-6v1h-3v1h-14v1h-6v-1h-1v1h-3v-1h-2v1h-1v-1h-3v-1h-3v-1h-2z"/>
<path fill="#0000ff" d="M69 108h3v1h1v-1h1v2h4v-1h1v1h1v1h2v-1h6v-1h1v1h1v-1h6v-1h1v1h4v-1h1v2h1v-1h2v-1h4v1h1v-1h2v1h1v-1h1v-1h3v1h1v-1h1v-1h2v1h2v-1h2v1h3v-1h1v-1h1v1h2v-1h1v-1h2v1h3v1h3v-1h1v-1h1v1h7v1h3v-1h1v1h2v-1h1v1h1v1h3v1h1v-1h4v2h1v1h5v1h4v1h1v1h2v1h2v1h1v1h1v1h1v1h1v1h3v1h1v1h1v1h2v1h1v1h2v1h1v1h2v1h3v1h3v1h3v1h6v1h16v-1h6v-1h3v-1h3v-1h4v-1h3v-1h2v1h1v-1h3v-1h10v-1h18v1h5v1h2v1h3v1h2v1h2v1h1v1h1v1h2v1h1v1h1v1h1v1h1v1h2v1h1v1h1v1h1v1h1v1h2v1h1v1h1v1h2v1h1v1h1v1h1v1h1v1h1v1h1v1h1v1h1v1h1v1h1v1h1v1h1v2h1v1h1v1h1v2h1v1h1v2h1v2h1v2h1v2h1v2h1v2h1v2h1v2h1v2h1v3h1v2h1v2h1v2h1v2h1v2h1v2h1v1h1v2h1v1h1v1h1v1h1v1h1v1h1v1h1v1h2v1h3v1h5v1h10v-1h1v1h3v-1h5v-1h3v-1h2v-1h4v-1h4v-1h3v-1h4v-1h3v-1h1v-1h4v-1h3v-1h3v-1h3v-1h4v-1h4v-1h4v-1h3v-1h6v-1h4v-1h5v-1h1v1h2v-1h6v-1h5v-1h2v1h2v-1h3v-1h2v-1h2v1h1v-1h2v-1h4v-1h4v1h-1v1h-4v1h-4v1h-3v1h-3v1h-2v1h-2v-1h-3v1h-8v1h-3v1h-2v-1h-2v1h-5v1h-6v1h-4v1h-3v1h-5v1h-5v1h-3v1h-2v1h-3v1h-3v1h-3v1h-2v1h-4v1h-3v1h-5v1h-2v1h-3v1h-3v1h-2v1h-3v-1h-1v1h-19v-1h-3v-1h-2v-1h-2v-1h-1v-1h-1v-1h-1v-1h-1v-1h-1v-1h-1v-1h-1v-2h-1v-2h-1v-2h-1v-1h-1v-2h-1v-3h-1v-2h-1v-2h-1v-2h-1v-2h-1v-2h-1v-2h-1v-3h-1v-2h-1v-1h-1v-2h-1v-2h-1v-2h-1v-1h-1v-2h-1v-1h-1v-1h-1v-2h-1v-1h-1v-1h-1v-1h-1v-1h-1v-1h-1v-1h-1v-1h-1v-1h-1v-1h-1v-1h-1v-1h-1v-1h-2v-1h-1v-1h-1v-1h-2v-1h-1v-1h-1v-1h-1v-1h-1v-1h-2v-1h-1v-1h-1v-1h-1v-1h-1v-1h-2v-1h-1v-1h-1v-1h-2v-1h-3v-1h-2v-1h-2v-1h-28v1h-6v1h-5v1h-3v1h-3v1h-4v1h-5v1h-12v1h-2v-1h-8v-1h-5v-1h-3v-1h-3v-1h-2v-1h-2v-1h-1v-1h-2v-1h-1v-1h-2v-1h-1v-1h-1v-1h-3v-1h-1v-1h-1v-1h-1v-1h-1v-1h-2v-1h-2v-1h-3v-1h-2v-1h-1v1h-2v-1h-2v-2h-7v1h-1v-2h-4v-1h-1v1h-2v-1h-7v-1h-2v1h-1v1h-3v-1h-7v1h-3v1h-1v-1h-4v1h-2v-1h-2v1h-1v1h-2v-1h-1v1h-1v1h-2v-1h-2v1h-1v-1h-3v1h-2v1h-2v-1h-3v1h-1v-1h-8v1h-3v-1h-1v2h-1v-1h-3v1h-2v-1h-6v-1h-3v-1h-1v-1h-1z"/>
<path fill="#0000ff" d="M69 112h3v2h5v-1h2v1h1v1h2v-1h1v1h2v-1h2v1h1v-2h1v1h6v-1h9v1h1v-1h3v-1h7v-1h1v-1h2v1h3v-1h6v-1h4v1h5v-1h3v-1h2v1h1v-1h1v1h2v-1h2v1h2v1h4v-1h1v1h2v1h1v-1h1v1h2v1h3v-1h2v1h2v1h1v1h4v1h2v1h2v1h2v1h1v1h2v1h2v1h1v1h1v1h1v1h2v1h1v1h1v1h2v1h2v1h1v1h2v1h2v1h4v1h2v1h4v1h1v-1h1v1h20v-1h4v-1h3v-1h4v-1h4v-1h6v-1h4v-1h5v-1h1v1h1v-1h20v1h4v1h2v1h2v1h3v1h1v1h2v1h2v1h1v1h1v1h1v1h2v1h1v1h1v1h1v1h1v1h1v1h2v1h1v1h1v1h1v1h1v1h2v1h1v1h1v1h1v1h1v1h1v1h1v1h1v1h1v1h1v1h1v2h1v1h1v1h1v1h1v2h1v1h1v2h1v2h1v2h1v1h1v3h1v2h1v2h1v2h1v2h1v2h1v2h1v2h1v2h1v3h1v1h1v2h1v2h1v1h1v1h1v1h1v1h1v1h1v1h1v1h2v1h1v1h2v1h7v1h10v-1h1v1h1v-1h6v-1h3v-1h3v-1h2v-1h4v-1h3v-1h3v-1h4v-1h4v-1h1v-1h3v-1h4v-1h3v-1h6v-1h2v-1h6v-1h3v-1h8v-1h3v-1h6v-1h3v-1h9v-1h2v1h1v-1h2v1h2v-1h1v-1h1v1h2v-1h1v-2h1v1h1v1h2v-1h1v-1h3v2h-2v1h-2v1h-2v-1h-1v1h-5v1h-7v1h-10v1h-4v1h-2v-1h-1v1h-2v1h-3v1h-5v-1h-1v1h-2v1h-5v1h-2v-1h-1v1h-2v1h-3v1h-5v1h-3v1h-3v1h-3v1h-4v1h-3v1h-3v1h-4v1h-3v1h-2v1h-3v1h-4v1h-4v1h-20v-1h-3v-1h-2v-1h-1v-1h-2v-1h-1v-1h-2v-2h-1v-1h-1v-1h-1v-1h-1v-2h-1v-2h-1v-2h-1v-2h-1v-2h-1v-2h-1v-2h-1v-2h-1v-2h-1v-3h-1v-2h-1v-1h-1v-3h-1v-2h-1v-1h-1v-2h-1v-2h-1v-2h-1v-1h-1v-1h-1v-1h-1v-2h-1v-1h-1v-1h-1v-1h-1v-1h-1v-1h-1v-1h-1v-1h-1v-1h-1v-1h-1v-1h-1v-1h-2v-1h-1v-1h-1v-1h-1v-1h-1v-1h-2v-1h-1v-1h-1v-1h-1v-1h-1v-1h-1v-1h-2v-1h-1v-1h-1v-1h-1v-1h-2v-1h-2v-1h-1v-1h-3v-1h-3v-1h-2v-1h-14v-1h-1v1h-12v1h-4v1h-7v1h-3v1h-4v1h-3v1h-4v1h-7v1h-4v-1h-6v1h-2v-1h-6v-1h-4v-1h-3v-1h-4v-1h-1v-1h-2v-1h-1v-1h-2v-1h-2v-1h-1v-1h-1v-1h-2v-1h-1v-1h-1v-1h-1v-1h-2v-1h-2v-1h-2v-1h-1v-1h-2v-1h-2v-1h-4v-1h-2v-1h-2v1h-1v-1h-3v-1h-5v-1h-1v1h-2v1h-2v-2h-2v-1h-2v1h-1v-1h-1v1h-2v-1h-4v1h-2v1h-2v-1h-3v1h-1v-1h-3v1h-2v-1h-1v1h-3v1h-2v-1h-1v1h-2v1h-1v1h-1v-1h-6v1h-4v-1h-1v1h-1v-1h-1v1h-6v1h-9v1h-5v-1h-1v-1h-2v1h-3v-1h-3v-1h-2z"/>
<path fill="#008000" d="M69 116h1v-1h2v1h2v1h1v1h3v-1h1v1h1v-1h7v-1h2v1h2v-1h2v1h4v-1h5v-1h1v1h3v-1h2v1h1v-1h1v-1h1v2h1v-1h2v1h1v-1h1v-1h1v-1h4v1h3v-1h3v-1h10v-1h1v1h7v1h9v1h3v1h4v1h1v-1h4v2h5v1h1v1h3v1h1v1h2v1h1v1h2v1h2v2h2v1h1v1h1v1h1v1h3v1h1v1h2v1h1v1h2v1h3v1h3v1h4v1h4v1h3v-1h2v1h11v-1h8v-1h3v-1h3v-1h4v-1h5v-1h6v-1h7v-1h17v1h1v-1h1v1h5v1h2v1h1v1h2v1h3v1h1v1h2v1h2v1h1v1h1v1h1v1h1v1h2v1h1v1h1v1h1v1h1v1h2v1h1v1h1v1h1v1h2v1h1v2h2v1h1v1h1v1h1v1h1v1h1v1h1v1h1v1h1v1h1v2h1v1h1v2h1v1h1v2h1v2h1v2h1v2h1v2h1v2h1v2h1v2h1v2h1v2h1v2h1v2h1v3h1v2h1v2h1v1h1v1h1v2h1v1h1v1h1v1h1v1h2v1h1v1h2v1h1v1h5v1h8v1h1v-1h9v-1h5v-1h3v-1h3v-1h2v-1h3v-1h3v-1h4v-1h3v-1h2v-1h5v-1h3v-1h4v-1h2v-1h5v-1h2v-1h2v1h1v-1h7v-1h4v-1h6v-1h3v-1h13v-1h1v1h1v-1h4v-1h4v-1h6v-1h3v-1h1v1h1v1h-3v1h-1v1h-4v-1h-2v1h-1v1h-1v-1h-1v1h-2v1h-1v-1h-1v1h-4v1h-3v-1h-1v1h-9v1h-5v1h-6v1h-2v1h-2v-1h-2v1h-6v1h-2v1h-2v-1h-1v1h-2v1h-5v1h-1v1h-5v1h-3v1h-2v1h-4v1h-4v1h-4v1h-1v1h-4v1h-2v1h-4v1h-9v1h-8v-1h-8v-1h-2v-1h-2v-1h-1v-1h-1v-1h-2v-1h-1v-1h-1v-1h-1v-2h-1v-1h-1v-1h-1v-2h-1v-2h-1v-2h-1v-2h-1v-2h-1v-2h-1v-2h-1v-2h-1v-2h-1v-3h-1v-2h-1v-1h-1v-3h-1v-1h-1v-2h-1v-2h-1v-2h-1v-1h-1v-1h-1v-2h-1v-1h-1v-1h-1v-1h-1v-1h-1v-1h-1v-1h-1v-1h-1v-1h-1v-1h-2v-2h-1v-1h-2v-1h-1v-1h-1v-1h-1v-1h-2v-1h-1v-1h-1v-1h-1v-1h-1v-1h-2v-1h-1v-1h-1v-1h-1v-1h-1v-1h-2v-1h-2v-1h-2v-1h-2v-1h-2v-1h-2v-1h-2v-1h-8v-1h-1v1h-2v-1h-7v1h-9v1h-5v1h-6v1h-3v1h-5v1h-2v1h-5v1h-24v-1h-3v-1h-4v-1h-3v-1h-3v-1h-1v-1h-1v-1h-2v-1h-1v-1h-3v-1h-1v-1h-1v-1h-2v-1h-1v-2h-2v-1h-2v-1h-2v-1h-1v-1h-1v-1h-3v-1h-2v-1h-1v1h-1v-1h-1v-1h-1v1h-2v-1h-4v1h-1v-1h-3v-1h-1v-1h-5v-1h-2v1h-3v-1h-6v-1h-1v1h-5v-1h-3v1h-2v1h-10v1h-1v1h-1v1h-2v-1h-3v1h-2v-1h-7v1h-6v1h-2v-1h-4v1h-12v1h-1v-1h-2v-1h-4v-1h-1z"/>
<path fill="#469664" d="M69 123h3v1h2v1h3v-1h3v1h4v1h2v-1h2v-1h4v1h2v1h1v-1h4v-1h3v-1h7v1h1v-1h1v-1h4v-1h1v1h2v-1h1v1h1v-1h3v-1h2v-1h1v1h5v-1h2v1h1v1h1v-1h4v1h2v-1h1v1h1v-1h1v1h6v1h4v1h3v1h5v-1h1v1h3v1h5v1h2v1h1v1h2v1h2v1h1v1h1v1h1v1h1v1h1v1h2v2h1v1h2v1h1v1h1v1h2v1h2v1h1v1h3v1h3v1h4v1h4v1h7v1h1v-1h2v1h1v-1h1v1h3v-1h11v-1h4v-1h2v-1h5v-1h6v-1h4v-1h2v1h1v-1h15v-1h2v1h8v1h2v1h3v1h2v1h2v1h2v1h2v1h1v1h1v1h2v1h1v1h1v1h2v1h1v1h1v1h1v1h1v1h2v1h1v1h1v1h2v1h1v1h1v1h1v1h1v1h1v1h1v1h2v2h2v2h1v1h1v1h1v1h1v1h1v2h1v1h1v2h1v2h1v1h1v2h1v2h1v2h1v2h1v2h1v2h1v2h1v2h1v2h1v2h1v1h1v2h1v2h1v2h2v1h1v2h1v1h1v1h2v1h1v1h2v1h2v1h1v1h8v1h1v-1h12v-1h5v-1h3v-1h3v-1h3v-1h3v-1h2v-1h5v-1h3v-1h1v-1h5v-1h5v-1h1v-1h4v-1h4v-1h1v1h1v-1h5v-1h1v-1h4v1h1v-1h1v-1h9v-1h6v-1h1v-1h3v1h2v-1h1v-1h2v1h1v-1h9v-1h2v1h1v-1h6v-1h3v2h-6v1h-4v1h-1v-1h-5v1h-8v1h-3v1h-2v-1h-1v1h-3v1h-4v1h-4v-1h-1v1h-4v1h-6v1h-5v1h-5v1h-2v1h-4v1h-3v1h-5v1h-3v1h-2v1h-4v1h-2v1h-4v1h-4v1h-3v1h-2v1h-2v1h-7v1h-2v-1h-1v1h-11v-1h-6v-1h-1v-1h-2v-1h-2v-1h-1v-1h-2v-2h-1v-1h-1v-1h-1v-1h-1v-1h-1v-1h-1v-2h-1v-2h-1v-2h-1v-1h-1v-2h-1v-2h-1v-2h-1v-2h-1v-2h-1v-2h-1v-2h-1v-2h-1v-2h-1v-2h-1v-2h-1v-1h-1v-2h-1v-1h-1v-1h-1v-1h-1v-2h-2v-2h-1v-1h-1v-1h-2v-1h-1v-1h-1v-1h-1v-1h-1v-1h-1v-1h-2v-1h-1v-1h-1v-1h-1v-1h-2v-1h-1v-1h-1v-1h-1v-1h-1v-1h-2v-1h-1v-1h-1v-1h-2v-1h-1v-1h-1v-1h-2v-1h-2v-1h-2v-1h-2v-1h-3v-1h-7v-1h-14v1h-9v1h-6v1h-5v1h-4v1h-2v1h-5v1h-20v-1h-6v-1h-4v-1h-4v-1h-2v-1h-3v-1h-1v-1h-2v-1h-2v-1h-1v-1h-1v-1h-2v-1h-1v-2h-2v-1h-1v-1h-1v-1h-1v-1h-1v-1h-2v-1h-1v-1h-2v-1h-2v-1h-4v-1h-11v-1h-2v-1h-2v1h-3v-3h-1v1h-3v-1h-2v1h-3v-1h-7v-1h-1v1h-2v1h-1v-1h-6v1h-5v1h-3v-1h-1v1h-1v1h-1v-1h-1v1h-8v1h-2v-1h-1v1h-2v1h-2v1h-1v-1h-3v-1h-1v-1h-1v1h-2v1h-1v1h-2v-1h-6v-1h-2v2h-2v-1h-1v-1h-2v-2h-1v1h-2z"/>
<path fill="#008000" d="M69 123h5v2h5v-1h2v1h4v1h4v-2h2v1h2v-1h7v1h1v-1h2v1h2v-1h1v-1h2v1h2v-1h9v-1h4v1h2v-1h3v-2h2v1h3v-1h1v1h11v1h3v-1h2v2h2v1h6v1h11v1h2v1h1v1h2v1h2v2h2v1h2v1h1v1h1v1h1v1h1v1h1v1h1v1h1v1h2v1h1v1h2v1h1v1h2v1h2v1h3v1h3v1h5v1h4v1h2v-1h2v1h17v-1h3v-1h4v-1h4v-1h3v-1h8v-1h8v-1h15v1h1v-1h1v1h5v1h3v1h2v1h2v1h2v1h1v1h2v1h2v1h1v1h1v1h1v1h1v1h1v1h2v1h1v1h1v1h1v1h2v1h1v1h1v1h1v1h1v1h1v1h1v1h2v1h1v1h1v1h1v1h1v1h1v2h1v1h2v2h1v1h1v1h1v2h1v1h1v2h1v2h1v2h1v2h1v2h1v2h1v2h1v2h1v3h1v2h1v2h1v2h1v1h1v2h1v2h1v2h1v2h1v1h1v1h1v1h1v1h1v1h1v1h1v1h2v1h1v1h2v1h2v1h6v1h3v-1h1v1h1v-1h9v-1h4v-1h1v1h1v-1h2v-1h3v-1h2v-1h3v-1h3v-1h3v-1h3v-1h4v-1h2v-1h1v1h2v-1h2v-1h3v-1h3v-1h4v-1h4v-1h8v-1h3v-1h4v-1h2v1h1v-1h2v-1h7v-1h2v1h3v-1h5v-1h6v-1h2v1h1v-1h2v-1h8v1h1v2h-1v-1h-3v-1h-1v1h-5v1h-3v1h-8v1h-1v-1h-1v1h-2v1h-3v-1h-3v1h-5v1h-6v1h-6v1h-3v1h-1v-1h-1v1h-4v1h-6v1h-3v1h-3v1h-3v1h-5v1h-1v1h-4v1h-4v1h-3v1h-3v1h-3v1h-3v1h-2v1h-5v1h-4v1h-13v-1h-7v-1h-1v-1h-2v-1h-1v-1h-2v-1h-1v-1h-1v-1h-1v-1h-1v-1h-1v-1h-1v-2h-1v-1h-1v-2h-1v-2h-1v-2h-1v-2h-1v-2h-1v-2h-1v-2h-1v-2h-1v-2h-1v-2h-1v-2h-1v-2h-1v-2h-1v-2h-1v-2h-1v-2h-1v-1h-1v-2h-1v-1h-1v-1h-1v-2h-1v-1h-2v-2h-1v-1h-1v-1h-1v-1h-1v-1h-1v-1h-2v-1h-1v-1h-1v-1h-1v-1h-1v-1h-1v-1h-1v-1h-2v-1h-1v-1h-1v-1h-1v-1h-1v-1h-2v-1h-1v-1h-1v-1h-1v-1h-1v-1h-2v-1h-2v-1h-1v-1h-2v-1h-2v-1h-2v-1h-4v-1h-15v-1h-1v1h-8v1h-8v1h-6v1h-4v1h-2v1h-4v1h-24v-1h-6v-1h-4v-1h-2v-1h-3v-1h-2v-1h-2v-1h-2v-1h-1v-1h-1v-1h-1v-1h-2v-1h-1v-1h-1v-1h-1v-1h-1v-1h-1v-1h-1v-1h-2v-1h-2v-2h-3v-1h-1v-1h-1v1h-1v-2h-1v1h-2v-1h-4v1h-1v-1h-3v-1h-6v-1h-5v-2h-1v1h-1v1h-1v-2h-5v-1h-1v1h-1v-1h-1v1h-6v-1h-1v1h-1v1h-3v1h-10v-1h-1v1h-2v-1h-1v1h-1v1h-2v-1h-2v1h-1v1h-1v-1h-2v1h-3v-1h-2v1h-1v-1h-1v2h-4v-2h-1v1h-1v1h-4v-1h-1v-1h-2v1h-2v-1h-2v1h-4v-1h-1v-1h-4z"/>
<path fill="#ff0000" d="M69 122h2v1h1v1h2v1h2v1h4v1h1v-1h9v-1h1v-1h1v1h3v-1h4v1h2v-1h6v-1h1v1h2v-2h1v2h1v-1h4v-1h3v1h3v-1h2v-1h1v1h2v-1h9v1h2v-1h2v1h1v-1h2v1h2v-1h3v1h2v2h1v-1h3v1h6v1h4v1h6v1h3v1h1v1h2v1h1v1h1v1h2v1h2v2h1v1h2v2h1v1h2v1h1v1h1v1h2v1h2v1h1v1h3v1h3v1h4v1h3v1h7v1h10v-1h1v1h2v-1h1v1h1v-1h5v-1h3v-1h6v-1h3v-1h5v-1h8v-1h21v1h5v1h2v1h2v1h2v1h2v1h1v1h2v1h2v1h1v1h1v1h1v1h1v1h2v1h1v1h1v1h1v1h2v1h1v1h1v2h2v1h1v1h1v1h1v1h1v1h2v1h1v1h1v1h1v1h1v1h1v1h1v2h1v1h1v1h1v2h1v1h1v2h1v2h1v1h1v2h1v3h1v1h1v2h1v3h1v1h1v3h1v2h1v2h1v2h1v2h1v2h1v2h1v1h1v2h1v1h1v1h1v1h1v1h1v1h1v1h1v1h1v1h1v1h2v1h2v1h4v1h11v-1h9v-1h3v-1h4v-1h3v-1h2v-1h3v-1h3v-1h3v-1h2v-1h5v-1h3v-1h3v-1h3v-1h5v-1h6v-1h2v-1h6v-1h4v-1h3v-1h2v1h3v-1h1v1h1v-1h3v-1h4v-1h3v1h1v-1h5v-1h1v1h3v-1h3v-1h4v-1h1v1h2v-1h1v-1h1v1h2v2h-4v1h-2v-1h-1v1h-4v1h-3v1h-1v-1h-1v1h-4v-1h-1v1h-7v2h-1v-1h-1v1h-2v-1h-1v1h-7v1h-4v1h-8v1h-2v1h-6v1h-3v1h-4v1h-4v1h-4v1h-3v1h-4v1h-2v1h-3v1h-4v1h-2v1h-3v1h-3v1h-3v1h-5v1h-6v1h-7v-1h-7v-1h-2v-1h-2v-1h-2v-1h-1v-1h-1v-1h-1v-1h-1v-1h-1v-1h-1v-1h-1v-1h-1v-1h-1v-2h-1v-1h-1v-3h-1v-1h-1v-2h-1v-2h-1v-2h-1v-2h-1v-3h-1v-2h-1v-2h-1v-2h-1v-2h-1v-2h-1v-2h-1v-2h-1v-2h-1v-1h-1v-1h-1v-2h-1v-1h-1v-2h-1v-1h-1v-1h-1v-1h-1v-1h-1v-1h-1v-1h-1v-1h-2v-1h-1v-1h-1v-1h-1v-1h-1v-1h-1v-1h-1v-1h-1v-1h-2v-1h-1v-1h-1v-1h-1v-1h-1v-1h-2v-2h-2v-1h-1v-1h-1v-1h-2v-1h-2v-1h-1v-1h-2v-1h-2v-1h-2v-1h-3v-1h-13v-1h-4v1h-1v-1h-1v1h-9v1h-7v1h-4v1h-3v1h-5v1h-4v1h-21v-1h-6v-1h-4v-1h-3v-1h-3v-1h-2v-1h-1v-1h-2v-1h-2v-1h-1v-1h-1v-1h-2v-1h-1v-2h-2v-2h-2v-1h-2v-1h-1v-1h-2v-1h-1v-1h-2v-1h-2v-1h-2v-1h-1v2h-1v-2h-5v-1h-4v-1h-1v1h-1v1h-1v-2h-1v-1h-1v1h-2v-1h-8v-1h-3v1h-3v-1h-1v1h-1v-1h-8v1h-9v1h-8v1h-1v-1h-4v1h-4v1h-3v-1h-2v1h-4v2h-2v-1h-10v-1h-6v-2h-2v-1h-2z"/>
<path fill="#aa5f64" d="M69 125h1v1h3v2h3v1h1v-1h4v1h1v-1h2v1h5v1h1v-1h2v1h2v-1h5v-1h2v-1h2v1h6v-1h3v-1h11v1h1v-1h6v-1h1v-1h1v1h2v1h5v-1h1v1h3v-1h5v1h3v1h3v1h1v1h1v-1h3v1h2v-1h3v1h1v1h7v1h1v1h1v1h2v1h1v1h1v1h2v1h1v1h1v1h1v1h1v1h1v1h1v1h1v1h1v1h1v1h3v1h1v1h2v1h2v1h4v1h2v1h3v1h5v1h8v1h3v-1h4v1h5v-1h4v-1h3v-1h5v-1h8v-1h6v-1h26v1h2v1h3v1h2v1h2v1h2v1h1v1h2v1h1v1h2v1h1v1h1v1h1v1h1v1h2v1h1v1h1v1h1v1h1v1h2v2h1v1h2v1h1v1h1v1h1v1h1v1h1v1h1v1h1v1h1v1h1v1h1v1h1v2h1v1h1v1h1v2h1v1h1v2h1v2h1v1h1v3h1v2h1v2h1v2h1v2h1v2h1v2h1v2h1v2h1v2h1v2h1v2h1v2h1v2h1v1h1v1h1v1h1v2h2v1h1v1h1v1h1v1h2v1h2v1h2v1h5v1h12v-1h6v-1h4v-1h2v-1h2v-1h3v-1h2v-1h4v-1h3v-1h3v-1h2v-1h3v-1h4v-1h4v-1h2v-1h4v-1h5v-1h6v-1h3v-1h1v1h2v-1h6v-1h4v-1h1v1h1v-1h5v-1h8v-1h4v-1h2v1h1v-1h4v-1h2v1h2v-1h1v-1h3v1h1v2h-1v-1h-1v-1h-1v2h-5v1h-5v1h-2v-1h-1v1h-4v1h-10v1h-5v1h-2v-1h-1v1h-4v1h-7v1h-4v1h-4v1h-1v-1h-2v1h-2v1h-4v1h-3v1h-3v1h-4v1h-3v1h-3v1h-4v1h-2v1h-4v1h-3v1h-1v1h-3v1h-3v1h-4v1h-6v1h-8v-1h-6v-1h-2v-1h-3v-1h-1v-1h-2v-1h-1v-1h-1v-1h-1v-1h-2v-2h-1v-1h-1v-1h-1v-2h-1v-1h-1v-2h-1v-2h-1v-2h-1v-2h-1v-2h-1v-2h-1v-2h-1v-2h-1v-2h-1v-2h-1v-3h-1v-2h-1v-2h-1v-1h-1v-2h-1v-2h-1v-2h-1v-1h-1v-1h-1v-2h-1v-1h-1v-1h-1v-1h-1v-1h-1v-1h-1v-1h-1v-1h-1v-1h-1v-1h-1v-1h-1v-1h-1v-1h-2v-1h-1v-2h-2v-1h-1v-1h-1v-1h-1v-1h-1v-1h-2v-1h-1v-1h-1v-1h-1v-1h-1v-1h-2v-1h-1v-1h-2v-1h-2v-1h-2v-1h-1v-1h-3v-1h-2v-1h-4v-1h-18v1h-8v1h-7v1h-6v1h-4v1h-4v1h-19v-1h-5v-1h-4v-1h-3v-1h-3v-1h-4v-1h-1v-1h-2v-1h-1v-1h-3v-1h-1v-1h-1v-1h-1v-1h-1v-1h-1v-1h-1v-2h-2v-1h-2v-1h-1v-1h-1v-1h-1v-1h-2v-1h-1v-1h-2v1h-1v-1h-3v-1h-2v-1h-2v1h-3v-1h-1v-1h-1v1h-1v1h-2v-1h-3v-1h-1v-1h-3v-1h-1v1h-1v-1h-2v1h-1v-1h-2v1h-7v-1h-1v-1h-1v1h-1v1h-13v1h-2v-1h-2v1h-1v1h-1v-1h-2v1h-9v1h-7v1h-1v-1h-8v-1h-1v1h-2v-1h-5v1h-1v-1h-1v-1h-2v-1h-1v-1h-1v2h-1z"/>
<path fill="#a00000" d="M69 126h3v1h1v1h1v-1h1v1h2v1h2v1h3v-1h2v1h1v1h1v-1h3v-1h2v1h1v1h1v-1h1v-1h3v1h8v-1h1v1h3v-1h4v-1h5v-1h15v-1h1v1h3v-1h4v-1h2v1h2v1h4v1h5v1h2v1h4v-1h3v1h3v1h6v2h2v1h1v1h2v1h1v1h2v1h1v1h1v1h1v1h1v1h1v1h1v1h1v1h1v1h2v1h2v1h1v1h2v1h2v1h3v1h3v1h4v1h5v1h3v1h18v-1h6v-1h4v-1h4v-1h7v-1h10v-1h2v1h4v-1h2v1h1v-1h1v1h10v1h2v1h3v1h1v1h2v1h1v1h3v1h1v1h1v1h2v1h1v1h1v1h1v1h1v1h2v1h1v1h1v1h1v1h1v1h1v1h1v1h2v2h2v1h1v1h1v1h1v1h1v1h1v1h1v1h1v1h1v1h1v2h1v1h1v1h1v2h1v1h1v2h1v1h1v2h1v2h1v2h1v2h1v2h1v2h1v3h1v2h1v2h1v2h1v2h1v2h1v2h1v1h1v2h1v2h1v1h1v2h1v1h1v1h2v2h1v1h1v1h3v1h1v1h2v1h3v1h1v-1h1v1h10v1h1v-1h4v-1h5v-1h3v-1h1v-1h4v-1h2v-1h3v-1h4v-1h3v-1h1v-1h4v-1h3v-1h4v-1h4v-1h2v-1h3v-1h7v-1h5v-1h5v-1h1v1h1v-1h4v-1h7v-1h1v1h3v-1h4v-1h5v-1h5v-1h7v-1h1v-1h1v1h5v2h-8v1h-6v1h-6v1h-2v-1h-1v2h-3v-1h-1v1h-1v1h-1v-1h-2v1h-4v-1h-3v1h-2v1h-6v1h-8v1h-5v1h-3v1h-3v1h-4v1h-4v1h-3v1h-4v1h-2v1h-1v1h-6v1h-2v1h-3v1h-3v1h-2v1h-2v1h-3v1h-7v1h-11v-1h-5v-1h-2v-1h-2v-1h-2v-1h-2v-2h-1v-1h-1v-1h-2v-1h-1v-2h-1v-1h-1v-1h-1v-2h-1v-2h-1v-2h-1v-1h-1v-2h-1v-2h-1v-2h-1v-3h-1v-2h-1v-2h-1v-2h-1v-2h-1v-2h-1v-2h-1v-2h-1v-2h-1v-1h-1v-2h-1v-1h-1v-2h-1v-1h-1v-1h-1v-2h-1v-1h-1v-1h-1v-1h-1v-1h-1v-1h-1v-1h-1v-1h-1v-1h-1v-1h-1v-1h-1v-1h-2v-1h-1v-1h-1v-1h-1v-1h-1v-1h-1v-1h-1v-1h-2v-1h-1v-1h-1v-1h-1v-1h-1v-1h-2v-1h-1v-1h-2v-1h-2v-1h-1v-1h-2v-1h-1v-1h-3v-1h-2v-1h-24v1h-8v1h-7v1h-4v1h-3v1h-8v1h-1v-1h-2v1h-2v-1h-10v-1h-6v-1h-4v-1h-3v-1h-3v-1h-3v-1h-1v-1h-2v-1h-1v-1h-2v-1h-2v-1h-1v-1h-1v-1h-1v-1h-1v-1h-1v-1h-1v-1h-1v-1h-1v-1h-2v-1h-1v-1h-3v-1h-1v-1h-1v-1h-4v-1h-2v-1h-11v-1h-3v-1h-5v-1h-2v-1h-1v1h-1v-1h-1v1h-6v1h-4v-1h-1v1h-11v1h-7v1h-3v1h-2v-1h-3v1h-13v-1h-2v1h-3v1h-1v-1h-1v-1h-2v1h-1v-1h-1v1h-2v-1h-1v-1h-3v1h-1v-1h-1v-1h-1v-1h-2z"/>
<path fill="#00bec8" d="M69 127h3v1h1v1h1v1h6v1h1v-1h1v1h1v1h1v-1h9v1h1v-1h3v-1h2v1h2v-1h2v1h1v-1h1v-1h2v1h2v-1h2v1h3v-1h1v1h3v-1h4v-1h1v-1h4v1h1v-1h3v-1h2v1h1v-1h1v1h1v1h1v-1h5v1h3v-1h2v1h5v1h1v1h3v1h13v1h2v1h1v1h2v1h2v1h1v1h1v1h1v1h2v1h1v1h1v1h1v1h1v1h1v1h1v1h1v1h2v1h1v1h2v1h1v1h3v1h2v1h2v1h4v1h3v1h5v1h22v-1h3v-1h4v-1h5v-1h9v-1h10v-1h2v1h15v1h3v1h2v1h2v1h2v1h1v1h2v1h2v1h1v1h1v1h2v1h1v1h1v1h1v1h1v1h1v1h2v1h1v1h1v1h1v1h1v1h1v1h1v1h1v1h1v1h1v1h1v1h1v1h1v1h1v1h1v1h1v1h1v1h1v1h1v2h1v1h1v1h1v2h1v1h1v2h1v2h1v2h1v2h1v2h1v2h1v2h1v3h1v1h1v3h1v2h1v2h1v2h1v2h1v2h1v1h1v2h1v1h1v1h1v1h1v2h1v1h2v1h1v1h2v1h1v1h1v1h1v1h3v1h9v1h3v-1h6v-1h6v-1h2v-1h3v-1h1v-1h4v-1h1v-1h4v-1h3v-1h4v-1h2v-1h3v-1h3v-1h4v-1h4v-1h5v-1h7v-1h5v-1h3v-1h7v-1h2v-1h1v1h2v-1h5v-1h6v-1h2v-1h1v1h3v-1h1v1h2v-1h1v1h1v-1h7v-1h3v2h-2v1h-7v1h-2v-1h-4v1h-2v-1h-3v1h-1v1h-5v1h-6v1h-1v-1h-1v1h-6v1h-3v1h-5v1h-7v1h-8v1h-1v1h-3v1h-5v1h-4v1h-2v1h-4v1h-2v1h-5v1h-2v1h-2v1h-3v1h-2v1h-3v1h-4v1h-6v1h-12v-1h-5v-1h-2v-1h-1v-1h-1v-1h-2v-1h-1v-1h-1v-1h-2v-2h-1v-1h-1v-1h-1v-1h-1v-1h-1v-2h-1v-2h-1v-1h-1v-2h-1v-3h-1v-2h-1v-1h-1v-3h-1v-2h-1v-2h-1v-2h-1v-2h-1v-2h-1v-2h-1v-2h-1v-2h-1v-2h-1v-1h-1v-2h-1v-1h-1v-2h-1v-1h-1v-1h-1v-1h-1v-1h-1v-1h-1v-1h-1v-1h-1v-1h-1v-1h-1v-1h-1v-1h-1v-1h-1v-1h-1v-1h-1v-1h-1v-1h-1v-1h-1v-1h-1v-1h-2v-1h-1v-1h-1v-1h-1v-1h-1v-1h-1v-1h-2v-1h-1v-1h-2v-1h-1v-1h-2v-1h-2v-1h-1v-1h-3v-1h-1v-1h-4v-1h-20v1h-9v1h-7v1h-5v1h-4v1h-5v1h-4v-1h-2v1h-4v-1h-10v-1h-5v-1h-3v-1h-3v-1h-2v-1h-2v-1h-3v-1h-1v-1h-2v-1h-1v-1h-2v-1h-1v-1h-1v-1h-1v-1h-1v-1h-1v-1h-1v-1h-1v-1h-2v-1h-1v-1h-1v-1h-1v-1h-2v-1h-2v-1h-1v-1h-14v-1h-3v-1h-1v-1h-3v-1h-1v1h-2v-1h-1v1h-1v-1h-1v1h-1v-1h-3v-1h-1v2h-2v-1h-3v-1h-2v1h-8v1h-2v1h-3v1h-3v-1h-1v1h-3v-1h-2v1h-2v-1h-2v1h-1v1h-1v-1h-1v1h-2v-1h-3v1h-7v-1h-1v1h-3v-1h-1v1h-1v1h-2v-2h-6v-1h-3v-1h-1v-1h-3z"/>
<path fill="#00008b" d="M69 128h2v1h1v1h4v1h1v1h5v1h9v1h4v-1h3v1h2v-1h2v-1h2v1h3v-1h4v1h2v-1h4v-1h2v-1h1v-1h2v1h1v1h2v-1h3v-1h2v1h2v-1h5v1h1v-1h4v-1h2v3h1v-1h5v1h2v1h3v1h1v-1h2v1h3v-1h2v1h2v-1h1v1h4v1h1v1h2v1h1v1h2v1h1v1h2v1h1v1h1v1h1v1h1v1h1v1h1v1h1v1h1v1h1v1h2v1h1v1h2v1h2v1h2v1h1v1h4v1h4v1h3v1h4v1h12v1h4v-1h9v-1h4v-1h5v-1h6v-1h1v1h1v-1h8v-1h2v1h1v-1h10v1h7v1h3v1h2v1h2v1h1v1h2v1h2v1h1v1h2v1h1v1h1v1h1v1h1v1h2v1h1v1h1v1h1v1h1v1h1v1h1v1h2v2h1v1h1v1h1v1h2v1h1v2h1v1h1v1h1v1h1v1h1v1h1v1h1v1h1v2h1v1h1v2h1v1h1v2h1v2h1v1h1v2h1v3h1v1h1v3h1v2h1v2h1v3h1v2h1v2h1v2h1v2h1v2h1v1h1v2h1v2h1v1h1v1h1v2h1v1h2v1h1v1h1v1h1v1h2v1h1v1h2v1h2v1h4v1h11v-1h5v-1h4v-1h4v-1h2v-1h2v-1h1v-1h4v-1h3v-1h1v-1h3v-1h6v-1h1v-1h5v-1h4v-1h1v-1h1v1h1v-1h5v-1h5v-1h4v-1h6v-1h3v-1h1v1h1v-1h7v-1h3v-1h8v-1h8v-1h1v1h1v-1h1v1h2v-1h3v-1h1v-1h3v2h-3v1h-1v1h-5v1h-1v-1h-2v1h-2v-1h-1v1h-3v-1h-1v1h-2v1h-7v1h-1v-1h-1v1h-1v1h-1v-1h-1v1h-4v1h-1v-1h-2v1h-1v-1h-1v1h-4v1h-6v1h-3v1h-5v1h-5v1h-1v1h-1v-1h-1v1h-3v1h-4v1h-3v1h-4v1h-3v1h-2v1h-4v1h-2v1h-2v1h-2v1h-3v1h-4v1h-3v1h-11v1h-1v-1h-6v-1h-3v-1h-1v-1h-2v-1h-1v-1h-2v-1h-1v-1h-1v-1h-1v-1h-2v-1h-1v-2h-1v-1h-1v-1h-1v-2h-1v-2h-1v-2h-1v-2h-1v-2h-1v-1h-1v-2h-1v-3h-1v-2h-1v-2h-1v-2h-1v-3h-1v-1h-1v-3h-1v-2h-1v-2h-1v-1h-1v-2h-1v-2h-1v-1h-1v-1h-1v-2h-1v-1h-1v-1h-1v-1h-1v-1h-1v-1h-1v-1h-1v-1h-1v-2h-1v-1h-2v-1h-1v-1h-1v-1h-1v-2h-2v-1h-1v-1h-1v-1h-1v-1h-1v-1h-1v-1h-1v-1h-2v-1h-1v-1h-1v-1h-1v-1h-1v-1h-2v-1h-1v-1h-2v-1h-2v-1h-1v-1h-3v-1h-1v-1h-3v-1h-26v1h-6v1h-5v1h-5v1h-5v1h-16v-1h-1v1h-2v-1h-6v-1h-3v-1h-4v-1h-3v-1h-3v-1h-2v-1h-1v-1h-2v-1h-2v-1h-1v-1h-2v-1h-1v-1h-1v-1h-1v-1h-1v-1h-1v-1h-1v-1h-1v-1h-1v-1h-1v-1h-3v-1h-1v-1h-1v-1h-2v-1h-1v-1h-8v-1h-2v1h-2v-1h-6v-1h-2v-1h-7v-2h-2v2h-1v-1h-6v-1h-1v1h-2v1h-1v-1h-4v1h-4v-1h-2v1h-2v1h-2v1h-3v1h-2v-1h-4v1h-3v-1h-1v1h-3v1h-2v-1h-4v1h-1v-1h-1v1h-1v-1h-6v-1h-2v1h-3v-1h-3v-1h-1v-1h-1v1h-1v-1h-1v-1h-3v-1h-1z"/>
<path fill="#eb008c" d="M69 128h1v1h2v1h3v1h2v1h3v1h2v-1h2v2h1v-1h3v-1h2v1h5v1h3v-1h2v-1h1v1h1v-2h1v1h5v-1h3v1h5v-1h4v1h1v-1h3v-1h1v-1h3v1h2v-1h5v1h1v-1h4v-1h2v1h1v1h3v-1h1v1h3v1h2v1h5v1h1v-1h1v1h1v1h1v-1h2v1h8v1h2v1h1v1h2v1h2v1h1v1h1v1h1v1h1v1h1v2h2v1h1v1h1v1h1v1h1v1h3v1h1v1h2v1h2v1h1v1h2v1h5v1h4v1h4v1h6v1h1v-1h6v1h1v-1h1v1h1v-1h8v-1h4v-1h6v-1h9v-1h5v-1h1v1h3v-1h6v1h1v-1h2v1h8v1h4v1h2v1h2v1h1v1h2v1h2v1h1v1h1v1h2v1h1v1h1v1h1v1h1v1h1v1h2v1h1v1h1v1h1v1h1v1h1v1h1v1h1v1h1v1h1v1h1v1h1v1h1v1h1v1h1v1h1v1h1v1h1v1h1v1h1v1h1v2h1v1h1v2h1v2h1v1h1v2h1v2h1v2h1v2h1v2h1v3h1v2h1v2h1v3h1v2h1v2h1v2h1v2h1v1h1v2h1v2h1v2h1v1h1v1h1v1h1v1h1v1h1v1h1v1h1v1h1v1h1v1h2v1h1v1h3v1h4v1h12v-1h5v-1h4v-1h2v-1h3v-1h2v-1h2v-1h2v-1h5v-1h2v-1h3v-1h3v-1h4v-1h4v-1h3v-1h4v-1h3v-1h5v-1h6v-1h3v-1h5v-1h4v1h3v-1h1v-1h2v1h1v-1h3v-1h5v-1h5v-1h5v-1h2v1h1v-1h8v2h-3v-1h-1v1h-2v1h-2v-1h-2v1h-2v-1h-1v1h-1v1h-1v-1h-1v1h-5v1h-3v-1h-1v1h-1v1h-3v1h-1v-1h-1v1h-3v1h-3v-1h-5v1h-3v1h-5v1h-5v1h-4v1h-4v1h-5v1h-2v1h-4v1h-4v1h-2v1h-3v1h-3v1h-5v1h-2v1h-2v1h-2v1h-2v1h-3v1h-4v1h-7v1h-7v-1h-4v-1h-3v-1h-3v-1h-1v-1h-2v-1h-1v-1h-1v-1h-1v-1h-1v-1h-1v-1h-1v-1h-1v-1h-1v-1h-1v-1h-1v-2h-1v-2h-1v-2h-1v-2h-1v-1h-1v-3h-1v-2h-1v-2h-1v-2h-1v-2h-1v-2h-1v-3h-1v-2h-1v-2h-1v-2h-1v-2h-1v-2h-1v-2h-1v-1h-1v-2h-1v-1h-1v-2h-1v-1h-1v-1h-1v-1h-1v-1h-1v-1h-1v-1h-1v-1h-1v-1h-1v-2h-2v-1h-1v-1h-1v-1h-1v-1h-1v-1h-1v-1h-1v-1h-1v-1h-1v-1h-1v-1h-1v-1h-2v-1h-1v-1h-1v-1h-1v-1h-1v-1h-2v-1h-1v-1h-2v-1h-1v-1h-2v-1h-2v-1h-1v-1h-3v-1h-4v-1h-22v1h-8v1h-6v1h-5v1h-5v1h-17v-1h-6v-1h-4v-1h-4v-1h-4v-1h-2v-1h-2v-1h-1v-1h-2v-1h-2v-1h-2v-1h-1v-1h-1v-1h-1v-1h-1v-1h-2v-2h-1v-1h-1v-1h-1v-1h-1v-1h-2v-1h-1v-1h-2v-1h-2v-1h-6v-1h-1v1h-2v-1h-3v-1h-8v-1h-1v-1h-5v-1h-3v-1h-1v1h-6v1h-2v-1h-3v1h-4v1h-2v-1h-2v1h-3v-1h-1v1h-5v1h-2v-1h-2v1h-4v1h-1v-1h-4v1h-2v1h-2v-1h-13v-1h-2v1h-3v-1h-2v-1h-2v-1h-3v-1h-1v-1h-1z"/>
<path fill="#8caa00" d="M69 135h1v2h2v1h1v1h3v1h1v-1h1v1h1v1h2v1h1v-1h3v1h2v1h1v-1h3v1h2v-1h2v1h1v-1h1v1h1v-1h2v-2h2v1h3v1h1v-1h3v-1h3v1h1v-2h5v1h1v-1h4v-1h1v1h2v-1h12v-1h1v1h2v1h1v-1h1v-1h3v1h2v-1h2v1h3v1h1v1h2v-1h1v1h2v1h2v-1h1v1h7v1h2v1h2v1h2v1h1v1h1v1h1v1h2v1h1v1h1v1h1v2h1v1h1v1h1v1h1v1h2v1h1v1h3v1h1v1h2v1h2v1h4v1h3v1h4v1h4v1h8v1h5v-1h10v-1h4v-1h4v-1h7v-1h7v-1h24v1h3v1h2v1h1v1h2v1h2v1h2v1h1v1h2v1h1v1h2v1h1v1h1v1h1v1h1v1h1v1h2v2h2v1h1v1h1v1h1v1h1v1h1v1h1v1h1v1h1v1h1v1h1v1h1v1h1v1h1v1h1v1h1v2h1v1h1v1h1v2h1v1h1v2h1v2h1v1h1v3h1v1h1v3h1v2h1v2h1v2h1v2h1v2h1v3h1v2h1v2h1v1h1v2h1v2h1v2h1v2h1v1h1v1h1v1h1v1h1v1h1v1h2v1h1v1h1v1h2v1h2v1h2v1h3v1h13v-1h6v-1h3v-1h3v-1h2v-1h2v-1h2v-1h3v-1h3v-1h3v-1h3v-1h3v-1h3v-1h6v-1h3v-1h2v-1h6v-1h1v-1h3v1h3v-1h2v-1h1v-1h2v1h2v-1h4v1h1v-1h4v-1h7v-1h1v1h3v-1h1v-1h6v-2h3v1h1v-1h4v-1h1v1h6v-1h1v2h-1v1h-4v1h-1v-2h-2v1h-4v1h-4v1h-2v-1h-1v1h-3v1h-2v1h-1v-1h-4v1h-6v1h-2v1h-1v-1h-4v1h-6v1h-4v1h-2v-1h-2v1h-3v1h-4v1h-3v1h-5v1h-4v1h-4v1h-1v1h-5v1h-2v1h-3v1h-3v1h-2v1h-1v1h-3v1h-2v1h-3v1h-8v1h-2v-1h-1v1h-8v-1h-2v-1h-3v-1h-1v-1h-2v-1h-2v-1h-1v-1h-1v-1h-2v-1h-1v-1h-1v-1h-1v-1h-1v-1h-1v-2h-1v-1h-1v-2h-1v-2h-1v-2h-1v-2h-1v-2h-1v-1h-1v-3h-1v-2h-1v-2h-1v-2h-1v-2h-1v-2h-1v-3h-1v-2h-1v-2h-1v-1h-1v-2h-1v-2h-1v-1h-1v-2h-1v-1h-1v-2h-1v-1h-1v-1h-1v-1h-1v-1h-1v-1h-1v-1h-1v-1h-1v-1h-1v-1h-1v-1h-1v-1h-1v-1h-1v-1h-1v-1h-1v-1h-1v-1h-1v-1h-1v-1h-2v-1h-1v-1h-1v-1h-1v-1h-1v-1h-2v-1h-1v-1h-1v-1h-2v-1h-1v-1h-2v-1h-2v-1h-2v-1h-2v-1h-2v-1h-4v-1h-1v1h-3v-1h-1v1h-1v-1h-11v1h-8v1h-7v1h-5v1h-3v1h-4v1h-15v-1h-3v1h-2v-1h-3v-1h-4v-1h-5v-1h-4v-1h-2v-1h-2v-1h-2v-1h-2v-1h-2v-1h-2v-1h-1v-1h-1v-1h-1v-1h-1v-1h-1v-2h-1v-1h-1v-1h-1v-1h-2v-1h-1v-1h-1v-1h-1v-1h-2v-1h-2v-1h-6v-1h-2v1h-4v-1h-1v-1h-4v-1h-3v-1h-1v1h-2v-1h-4v1h-5v-1h-1v1h-11v1h-2v-1h-2v1h-3v1h-1v-1h-4v1h-5v1h-1v1h-4v-1h-2v-1h-1v1h-2v1h-1v1h-1v-1h-5v1h-1v-1h-6v-1h-6v-1h-3v-1h-1v-1h-1v1h-1v-1h-1v-1h-2v-1h-1z"/>
<path fill="#00be28" d="M69 141h2v2h1v1h2v1h1v-1h2v1h1v-1h1v2h2v1h3v1h1v-1h2v1h1v1h1v-1h1v-1h2v1h1v1h4v-1h1v1h1v-1h3v-1h4v-1h1v1h2v-1h3v1h1v-1h2v-1h2v1h4v-1h3v-1h5v-1h1v1h3v-1h1v2h1v-1h1v-1h3v1h1v-1h1v-1h2v1h4v1h6v1h3v-1h1v1h1v-1h2v1h2v-1h1v1h4v1h5v1h1v1h1v1h1v1h1v1h1v1h1v1h2v1h1v1h1v1h1v2h1v1h1v1h1v1h1v1h2v1h1v1h1v1h2v1h1v1h3v1h4v1h3v1h4v1h7v1h18v-1h6v-1h3v-1h6v-1h7v-1h8v-1h1v1h1v-1h9v1h9v1h3v1h1v1h2v1h2v1h2v1h1v1h2v1h1v1h2v1h1v1h1v1h1v1h1v1h2v1h1v1h1v1h1v1h1v1h1v1h1v1h1v1h1v1h1v1h1v1h1v1h1v1h1v1h1v1h1v1h1v1h1v1h1v1h1v2h1v1h1v1h1v2h1v1h1v2h1v2h1v2h1v2h1v2h1v2h1v3h1v2h1v2h1v2h1v2h1v2h1v2h1v2h1v2h1v2h1v2h1v1h1v2h1v1h1v1h1v1h1v1h1v1h1v1h1v1h2v1h2v1h1v1h1v1h2v1h4v1h5v1h1v-1h7v-1h7v-1h2v-1h3v-1h3v-1h1v-1h3v-1h3v-1h2v-1h4v-1h3v-1h4v-1h3v-1h2v-1h5v-1h5v-1h5v-1h4v-1h5v-1h12v-1h1v-1h7v-1h1v-1h1v1h6v-1h3v-1h3v1h2v-1h1v-1h1v1h2v-1h6v2h-5v1h-6v1h-4v-1h-1v1h-3v1h-4v-1h-2v1h-4v1h-4v1h-2v1h-3v-1h-1v1h-1v-1h-1v1h-6v1h-7v1h-2v1h-5v1h-4v1h-5v1h-3v1h-2v1h-5v1h-3v1h-4v1h-3v1h-3v1h-1v1h-2v1h-2v1h-3v1h-8v1h-5v1h-7v-1h-4v-1h-3v-1h-2v-1h-1v-1h-1v-1h-2v-1h-2v-1h-1v-1h-1v-1h-1v-1h-1v-1h-1v-1h-1v-2h-1v-1h-1v-1h-1v-2h-1v-2h-1v-2h-1v-2h-1v-2h-1v-2h-1v-2h-1v-2h-1v-2h-1v-3h-1v-2h-1v-2h-1v-2h-1v-2h-1v-2h-1v-2h-1v-2h-1v-2h-1v-1h-1v-1h-1v-1h-1v-2h-1v-1h-1v-1h-1v-1h-1v-1h-1v-1h-1v-1h-1v-1h-1v-1h-1v-1h-1v-1h-1v-1h-1v-1h-1v-1h-1v-1h-1v-1h-1v-1h-1v-1h-1v-1h-1v-1h-2v-1h-1v-1h-1v-1h-1v-1h-1v-1h-2v-1h-1v-1h-2v-1h-1v-1h-2v-1h-2v-1h-2v-1h-1v-1h-5v-1h-22v1h-5v1h-1v-1h-1v1h-7v1h-4v1h-5v1h-3v1h-2v-1h-1v1h-3v-1h-1v1h-2v-1h-3v1h-1v-1h-8v-1h-6v-1h-3v-1h-3v-1h-4v-1h-2v-1h-1v-1h-2v-1h-1v-1h-2v-1h-1v-1h-1v-1h-1v-1h-1v-1h-1v-2h-1v-1h-1v-1h-1v-1h-2v-1h-1v-1h-1v-1h-1v-1h-1v-1h-1v-1h-1v-1h-1v1h-3v-1h-5v-1h-4v1h-3v-1h-3v1h-1v-1h-4v-1h-4v-1h-1v1h-5v1h-1v1h-2v-1h-6v-1h-2v1h-1v1h-1v-1h-1v1h-1v1h-5v-1h-3v1h-1v1h-4v-1h-6v2h-2v-1h-1v1h-3v1h-1v1h-1v-1h-2v-1h-1v-1h-1v1h-4v-1h-5v1h-1v-2h-2v-1h-2v-1h-1v1h-2v-1h-2v-1h-1v-1h-1v-1h-1z"/>
<path fill="#a000a0" d="M69 144h1v1h1v1h2v1h1v2h5v1h5v2h1v-1h3v1h6v-1h1v1h2v-1h4v1h2v-1h3v-1h2v-1h4v1h4v-1h1v1h1v-1h4v-1h3v-1h2v-1h2v1h1v-1h1v1h2v1h1v-1h13v1h1v-1h2v-1h1v1h1v-1h2v1h3v1h2v-1h2v1h7v1h3v1h1v1h2v1h2v2h2v2h2v1h1v2h1v1h1v1h1v1h1v2h1v1h1v1h1v1h2v1h3v1h2v1h2v1h3v1h6v1h4v1h3v1h20v-1h5v-1h4v-1h4v-1h5v-1h8v-1h21v1h4v1h2v1h2v1h2v1h1v1h2v1h2v1h1v1h2v1h1v1h1v1h1v1h1v1h1v1h1v1h2v1h1v1h1v1h1v1h1v1h1v1h1v1h1v1h1v2h2v1h1v1h1v1h1v1h1v1h1v1h1v2h1v1h1v1h1v1h1v2h1v2h1v1h1v2h1v2h1v2h1v2h1v2h1v2h1v2h1v3h1v2h1v2h1v3h1v2h1v1h1v2h1v2h1v2h1v2h1v2h1v1h1v2h1v1h1v1h1v1h2v1h1v1h1v1h1v1h2v1h2v1h1v1h3v1h5v1h10v-1h4v-1h5v-1h2v-1h2v-1h2v-1h2v-1h5v-1h2v-1h3v-1h3v-1h4v-1h3v-1h3v-1h3v-1h5v-1h8v-1h3v-1h6v-1h7v-1h5v-1h1v1h1v-1h1v-1h3v1h1v-1h4v-1h1v1h1v-1h2v-1h2v1h6v-1h3v-1h2v1h1v-1h2v1h2v2h-2v-1h-1v1h-7v1h-1v-1h-8v1h-3v1h-1v1h-1v-1h-6v1h-3v1h-5v1h-4v1h-1v-1h-4v1h-2v1h-1v-1h-2v1h-3v1h-8v1h-4v1h-3v1h-1v-1h-1v1h-1v1h-4v1h-5v1h-1v1h-4v1h-5v1h-1v1h-3v1h-1v1h-3v1h-2v1h-6v1h-6v1h-2v-1h-8v-1h-3v-1h-2v-1h-1v-1h-2v-1h-2v-1h-1v-1h-1v-1h-1v-1h-2v-2h-2v-2h-1v-1h-1v-2h-1v-1h-1v-2h-1v-2h-1v-2h-1v-2h-1v-2h-1v-2h-1v-2h-1v-2h-1v-2h-1v-3h-1v-2h-1v-2h-1v-2h-1v-3h-1v-2h-1v-1h-1v-2h-1v-2h-1v-1h-1v-2h-1v-1h-1v-1h-1v-1h-1v-2h-1v-1h-1v-1h-1v-1h-1v-1h-1v-1h-1v-1h-1v-1h-1v-1h-1v-1h-1v-1h-1v-1h-1v-1h-1v-1h-1v-1h-1v-1h-1v-1h-2v-2h-2v-1h-1v-1h-1v-1h-1v-1h-1v-1h-2v-1h-1v-1h-2v-1h-2v-1h-1v-1h-2v-1h-2v-1h-2v-1h-6v-1h-12v1h-10v1h-8v1h-3v1h-3v1h-5v1h-7v1h-4v-1h-1v1h-2v-1h-11v-1h-4v-1h-4v-1h-4v-1h-3v-1h-3v-1h-2v-1h-2v-1h-2v-1h-1v-1h-1v-1h-1v-2h-1v-1h-1v-1h-1v-1h-1v-2h-2v-1h-1v-2h-2v-2h-2v-1h-2v-1h-1v-1h-3v-1h-1v1h-9v-1h-3v-1h-4v1h-2v1h-1v-1h-4v-1h-1v1h-6v-1h-1v2h-3v-2h-2v1h-6v1h-2v1h-5v1h-1v-1h-3v1h-2v-1h-1v1h-3v1h-1v-1h-1v1h-1v1h-3v-1h-3v1h-3v-1h-1v1h-5v1h-1v-2h-5v-1h-4v-1h-3v-1h-3v-2h-2v-1h-1v-1h-1z"/>
<path fill="#283ca0" d="M69 145h1v1h1v1h5v2h4v1h2v1h1v1h1v-1h1v-1h1v1h3v1h6v-1h2v1h1v-1h3v-1h1v1h2v-1h3v1h1v-1h2v1h1v-1h1v-1h11v-1h2v-1h26v1h1v-1h3v1h3v1h1v-1h5v1h7v1h2v1h1v2h2v1h1v1h2v1h1v2h1v1h1v1h1v1h1v2h1v1h2v1h1v1h1v1h1v1h3v1h1v1h4v1h2v1h4v1h5v1h6v1h18v-1h3v-1h5v-1h5v-1h6v-1h7v-1h22v1h3v1h2v1h2v1h2v1h2v1h1v1h2v1h1v1h1v1h2v1h1v1h1v1h1v1h1v1h1v1h2v2h2v1h1v1h1v2h1v1h1v1h2v1h1v1h1v1h1v2h2v1h1v2h2v2h1v1h1v1h1v2h1v1h1v2h1v1h1v2h1v2h1v2h1v2h1v2h1v2h1v2h1v3h1v2h1v3h1v2h1v2h1v2h1v2h1v2h1v2h1v2h1v1h1v2h1v1h1v1h1v1h1v1h1v1h1v1h2v1h1v1h1v1h2v1h1v1h3v1h3v1h4v1h2v-1h10v-1h3v-1h3v-1h3v-1h2v-1h3v-1h2v-1h3v-1h3v-1h3v-1h6v-1h2v-1h3v-1h3v-1h1v1h2v-1h3v-1h2v-1h4v-1h1v1h1v-1h1v-1h2v1h2v-1h10v-1h2v-1h8v-1h7v-1h1v1h1v-1h4v-1h2v-1h1v1h1v1h2v-1h2v-1h1v1h1v-1h5v1h1v2h-4v-1h-2v1h-1v-1h-1v1h-2v1h-1v-1h-2v-1h-2v1h-3v1h-3v1h-1v-1h-1v1h-6v1h-1v-1h-1v1h-1v1h-1v-2h-1v1h-3v1h-4v1h-3v-1h-1v1h-5v1h-1v-1h-1v1h-4v1h-5v1h-3v1h-3v1h-4v1h-4v1h-3v1h-6v1h-2v1h-4v1h-2v1h-3v1h-2v1h-3v1h-2v1h-3v1h-4v1h-2v-1h-2v1h-8v-1h-4v-1h-3v-1h-2v-1h-1v-1h-2v-1h-1v-1h-1v-1h-2v-1h-1v-1h-1v-1h-1v-1h-1v-1h-1v-2h-1v-1h-1v-2h-1v-2h-1v-2h-1v-1h-1v-2h-1v-2h-1v-2h-1v-3h-1v-2h-1v-2h-1v-3h-1v-2h-1v-2h-1v-2h-1v-2h-1v-2h-1v-2h-1v-2h-1v-2h-1v-1h-1v-1h-1v-2h-1v-1h-1v-2h-1v-1h-2v-2h-1v-1h-2v-2h-1v-1h-1v-1h-1v-1h-2v-2h-2v-2h-1v-1h-1v-1h-1v-1h-1v-1h-2v-1h-1v-1h-1v-1h-1v-1h-1v-1h-1v-1h-2v-1h-1v-1h-2v-1h-1v-1h-2v-1h-1v-1h-2v-1h-2v-1h-3v-1h-2v-1h-5v1h-2v-1h-11v1h-7v1h-7v1h-4v1h-1v-1h-1v1h-2v1h-6v1h-6v1h-4v-1h-13v-1h-6v-1h-3v-1h-3v-1h-3v-1h-3v-1h-2v-1h-2v-1h-1v-1h-1v-1h-1v-1h-2v-2h-1v-1h-1v-1h-1v-1h-1v-1h-1v-2h-2v-1h-1v-1h-2v-1h-1v-2h-2v-1h-1v-1h-1v1h-3v-1h-1v1h-2v-1h-6v-1h-11v-1h-4v1h-6v-1h-1v1h-3v1h-3v-1h-2v1h-3v1h-1v-1h-1v1h-3v-1h-2v1h-4v1h-1v1h-2v-1h-3v1h-5v-1h-1v1h-3v1h-10v-1h-2v-1h-1v1h-4v-1h-3v-1h-2v-1h-1v-1h-2v-1h-3v-1h-1z"/>
<path fill="#808080" d="M69 73h3v1h1v1h1v-1h1v2h1v1h5v1h4v1h2v1h3v1h11v-1h1v1h1v-1h3v1h2v-1h5v-1h1v1h4v-1h2v-1h3v-1h2v1h1v-1h1v1h2v-1h8v-1h1v1h4v-1h2v-1h1v1h2v-2h5v1h1v-1h4v1h2v-1h3v-1h3v2h1v-1h3v-1h2v1h4v1h1v1h2v1h3v1h1v1h1v1h2v1h1v1h1v1h2v1h1v1h2v2h1v1h1v1h1v1h1v1h1v1h1v1h2v1h1v1h1v1h2v1h1v1h2v1h2v1h1v1h2v1h2v1h3v1h14v-1h6v-1h4v-1h3v-1h7v-1h11v-1h3v1h2v-1h4v1h2v-1h1v1h2v-1h2v1h7v1h3v1h2v1h1v1h2v1h2v1h1v1h2v1h1v1h1v1h2v1h1v1h1v1h1v1h2v1h1v1h1v1h1v1h2v1h1v1h1v1h1v1h1v1h2v1h1v1h1v1h1v1h1v1h1v1h1v1h1v1h1v1h1v1h1v2h1v1h1v1h1v2h1v1h1v2h1v2h1v2h1v2h1v2h1v2h1v3h1v2h1v2h1v2h1v1h1v2h1v2h1v1h1v2h1v1h1v1h1v1h1v1h1v1h2v1h1v1h2v1h1v1h2v1h1v1h2v1h3v1h5v1h3v-1h2v1h4v-1h7v-1h4v-1h2v-1h3v-1h3v-1h4v-1h2v-1h4v-1h2v-1h4v-1h3v-1h4v-1h4v-1h1v-1h3v-1h3v-1h4v-1h1v-1h1v1h1v-1h2v-1h3v-1h4v-1h3v-1h1v-1h1v1h1v-1h1v1h1v-1h1v-1h1v-1h2v-1h3v-1h3v-1h2v-1h1v-1h1v1h3v-1h3v-2h3v-1h1v1h1v-1h4v-1h1v-1h2v2h-1v1h-4v1h-2v1h-4v2h-5v1h-2v-1h-1v1h-1v1h-2v1h-4v1h-3v1h-1v1h-1v1h-5v1h-3v1h-2v1h-5v1h-2v1h-3v1h-3v1h-2v1h-4v1h-2v1h-3v1h-2v1h-4v1h-1v-1h-1v1h-3v1h-3v1h-2v1h-3v1h-5v1h-3v1h-2v1h-2v1h-3v1h-6v1h-16v-1h-4v-1h-2v-1h-2v-1h-1v-1h-2v-1h-1v-1h-2v-1h-1v-1h-2v-1h-1v-1h-1v-1h-1v-1h-1v-2h-1v-1h-1v-2h-1v-1h-1v-2h-1v-2h-1v-1h-1v-2h-1v-2h-1v-3h-1v-2h-1v-2h-1v-2h-1v-2h-1v-2h-1v-2h-1v-1h-1v-2h-1v-1h-1v-1h-1v-2h-1v-1h-1v-1h-1v-1h-1v-1h-1v-1h-1v-1h-1v-1h-1v-1h-1v-1h-1v-1h-2v-1h-1v-1h-1v-1h-1v-1h-1v-1h-2v-1h-1v-1h-1v-1h-1v-1h-2v-1h-1v-1h-1v-1h-1v-1h-2v-1h-1v-1h-1v-1h-2v-1h-1v-1h-2v-1h-2v-1h-2v-1h-2v-1h-4v-1h-27v1h-9v1h-4v1h-4v1h-3v1h-4v1h-3v-1h-2v1h-1v-1h-6v1h-2v-1h-2v-1h-3v-1h-1v-1h-2v-1h-1v-1h-2v-1h-2v-1h-2v-1h-1v-1h-1v-1h-1v-1h-2v-1h-1v-1h-1v-1h-1v-1h-1v-1h-1v-1h-1v-2h-2v-1h-1v-1h-2v-1h-1v-1h-1v-1h-2v-1h-1v-1h-2v-1h-3v-1h-2v-1h-2v-1h-2v1h-1v-1h-1v1h-4v1h-1v-2h-2v1h-5v-1h-1v1h-4v-1h-2v1h-1v1h-1v1h-3v-1h-1v1h-2v1h-19v1h-1v1h-4v1h-3v-1h-1v1h-5v1h-1v-1h-4v1h-10v1h-1v-1h-1v-1h-4v-1h-3v-1h-3v-1h-4v-1h-2v-1h-1v-1h-2v-1h-2v-1h-1z"/>
<path fill="#0064b4" d="M69 84h1v1h2v1h1v1h1v-1h2v1h1v1h4v-1h1v1h1v1h8v1h1v1h1v-1h4v-1h1v-1h1v1h1v-1h5v1h1v-1h2v1h4v-1h7v-1h1v-1h3v-1h2v1h2v-1h1v1h2v-1h5v-1h1v-1h2v1h1v-1h7v1h1v-1h3v1h7v-1h6v1h10v1h2v1h1v1h5v1h1v1h2v1h2v2h2v1h1v1h2v1h1v1h1v1h1v1h1v1h1v1h2v1h1v1h1v1h2v1h2v1h1v1h3v1h3v1h2v1h7v1h1v-1h1v1h2v-1h9v-1h3v-1h4v-1h4v-1h5v-1h6v-1h6v-1h22v1h4v1h1v1h2v1h2v1h3v1h1v1h1v1h2v1h1v1h1v1h1v1h2v1h1v1h1v1h1v1h1v1h2v1h1v1h1v1h1v1h1v1h1v1h2v1h1v1h1v1h1v1h1v1h1v1h1v1h1v1h1v2h1v1h1v1h1v1h1v1h1v2h1v1h1v2h1v1h1v2h1v2h1v2h1v3h1v2h1v2h1v2h1v2h1v3h1v2h1v2h1v2h1v2h1v2h1v1h1v2h1v1h1v1h1v2h1v1h1v1h1v1h1v1h1v1h2v1h1v1h2v1h1v-1h1v1h4v1h16v-1h5v-1h3v-1h4v-1h2v-1h3v-1h1v-1h5v-1h3v-1h4v-1h2v-1h3v-1h2v-1h5v-1h2v-1h5v-1h1v-1h1v-1h4v-1h1v-1h6v-1h5v-1h3v-1h7v-1h3v-1h6v-1h2v-1h2v1h1v-1h2v-1h1v-1h4v-1h2v-1h3v-1h2v2h-2v1h-4v1h-1v1h-2v1h-3v1h-4v1h-3v1h-6v1h-3v1h-2v-1h-1v1h-4v1h-3v1h-5v1h-2v-1h-1v1h-3v1h-2v1h-3v1h-1v1h-4v1h-2v1h-4v1h-4v1h-3v1h-2v1h-2v1h-4v1h-5v1h-2v1h-3v1h-2v1h-4v1h-3v1h-3v1h-5v1h-1v-1h-1v1h-2v-1h-1v1h-4v-1h-7v-1h-5v-1h-2v-1h-1v-1h-2v-1h-1v-1h-1v-1h-1v-1h-1v-1h-1v-2h-1v-1h-1v-1h-1v-2h-1v-2h-1v-1h-1v-2h-1v-3h-1v-2h-1v-2h-1v-2h-1v-2h-1v-2h-1v-3h-1v-2h-1v-2h-1v-2h-1v-2h-1v-2h-1v-1h-1v-2h-1v-1h-1v-2h-1v-1h-1v-1h-1v-1h-1v-2h-1v-1h-1v-1h-1v-1h-1v-1h-1v-1h-1v-1h-1v-1h-1v-1h-1v-1h-2v-2h-2v-1h-1v-1h-1v-1h-1v-1h-2v-1h-1v-1h-1v-1h-1v-1h-1v-1h-2v-1h-1v-1h-1v-1h-1v-1h-2v-1h-1v-1h-2v-1h-2v-1h-2v-1h-2v-1h-1v-1h-16v-1h-1v1h-11v1h-6v1h-5v1h-5v1h-2v1h-5v1h-3v1h-1v-1h-3v1h-12v-1h-4v-1h-3v-1h-3v-1h-2v-1h-1v-1h-2v-1h-2v-1h-1v-1h-1v-1h-2v-1h-1v-1h-1v-1h-1v-1h-1v-1h-2v-1h-1v-1h-1v-1h-2v-1h-2v-1h-1v-1h-1v-1h-4v-1h-2v-1h-2v-1h-2v-1h-1v1h-3v1h-1v-1h-4v-1h-3v1h-9v-1h-5v1h-1v-1h-1v1h-1v-1h-3v1h-4v1h-1v-1h-1v1h-1v1h-2v-1h-1v1h-3v-1h-3v1h-3v1h-1v1h-1v-1h-1v1h-2v-1h-2v1h-4v2h-1v-2h-7v1h-2v-1h-1v1h-1v1h-1v-1h-1v1h-2v1h-1v-1h-1v-1h-9v-1h-6v-1h-2v-1h-2v1h-1v-2h-2z"/>
<path fill="#00bec8" d="M69 94h1v1h1v1h1v-1h1v1h2v1h1v1h1v1h1v-1h4v1h1v-1h4v1h3v-1h8v-1h1v-1h1v1h3v1h1v-1h3v-1h3v1h1v-1h1v-1h4v-1h6v-1h2v1h1v-1h7v-1h4v-1h2v1h7v1h1v-1h1v1h1v-1h1v1h1v-1h1v-1h1v1h1v1h1v-1h1v1h1v-1h3v1h1v-2h2v2h1v-1h1v1h2v1h7v1h1v1h1v-1h1v1h2v1h2v1h2v1h1v1h2v1h1v1h2v1h2v1h1v1h1v1h2v1h1v1h1v1h2v1h1v1h3v1h2v1h1v1h4v1h5v1h11v-1h8v-1h3v-1h5v-1h3v-1h3v-1h5v-1h4v-1h6v-1h17v1h2v-1h2v1h1v-1h1v1h2v1h3v1h1v1h2v1h3v1h1v1h2v1h1v1h1v1h1v1h1v1h2v2h2v1h1v1h1v1h1v1h2v1h1v1h1v1h1v1h1v1h1v1h1v1h1v1h1v1h1v1h1v1h1v1h1v1h1v1h1v1h1v1h1v1h1v2h1v1h1v2h1v1h1v2h1v1h1v3h1v1h1v2h1v3h1v2h1v2h1v2h1v3h1v2h1v2h1v2h1v3h1v2h1v2h1v2h1v1h1v2h1v1h1v1h1v1h1v1h1v1h1v1h1v1h2v1h2v1h6v1h13v-1h7v-1h3v-1h3v-1h2v-1h4v-1h3v-1h5v-1h1v-1h2v-1h4v-1h2v-1h4v-1h3v-1h4v-1h4v-1h1v-1h4v-1h6v-2h1v1h1v-1h5v-1h4v-1h4v-1h8v-1h8v-1h1v-1h5v-1h3v-1h4v-2h2v3h-2v1h-4v1h-1v-1h-1v1h-2v1h-1v1h-1v-1h-2v1h-4v1h-5v1h-4v1h-1v-1h-1v-1h-1v1h-1v1h-1v-1h-2v1h-3v1h-2v1h-2v-1h-2v1h-1v1h-2v1h-2v-1h-1v1h-3v1h-4v1h-2v1h-3v1h-2v-1h-1v1h-3v1h-1v1h-4v1h-3v1h-3v1h-2v1h-4v1h-3v1h-3v1h-4v1h-2v1h-3v1h-5v1h-7v1h-1v-1h-1v1h-3v-1h-8v-1h-5v-1h-1v-1h-2v-1h-1v-1h-1v-1h-1v-1h-1v-1h-1v-1h-1v-1h-1v-2h-1v-1h-1v-2h-1v-2h-1v-2h-1v-3h-1v-2h-1v-2h-1v-2h-1v-3h-1v-2h-1v-3h-1v-1h-1v-3h-1v-2h-1v-2h-1v-2h-1v-1h-1v-2h-1v-1h-1v-2h-1v-1h-1v-2h-1v-1h-1v-1h-1v-1h-1v-1h-1v-1h-1v-1h-1v-1h-1v-1h-1v-1h-1v-1h-1v-1h-1v-1h-1v-1h-1v-1h-1v-1h-1v-1h-1v-1h-2v-1h-1v-1h-1v-1h-1v-1h-2v-2h-2v-1h-1v-1h-1v-1h-1v-1h-1v-1h-2v-1h-2v-1h-2v-1h-2v-1h-1v-1h-3v-1h-12v-1h-1v1h-15v1h-5v1h-3v1h-5v1h-3v1h-4v1h-4v1h-4v1h-18v-1h-5v-1h-3v-1h-2v-1h-2v-1h-2v-1h-1v-1h-2v-1h-1v-1h-1v-1h-2v-1h-1v-1h-1v-1h-2v-1h-2v-1h-1v-1h-2v-1h-2v-1h-3v-1h-4v-2h-3v-1h-2v1h-2v-1h-4v-2h-1v1h-13v1h-2v-1h-14v1h-5v1h-1v-1h-4v1h-7v1h-3v1h-7v1h-6v1h-3v-1h-3v1h-7v1h-1v-1h-5v1h-1v-1h-4v-2h-4v-1h-1v-1h-1z"/>
<path fill="#283ca0" d="M69 100h2v2h2v1h3v1h1v1h4v-1h2v-1h4v-1h2v1h1v-1h2v1h3v-1h1v2h2v-2h2v1h3v-1h3v-1h1v1h2v-1h2v1h4v-1h1v1h1v-1h3v-1h3v-1h5v-1h6v-1h1v-1h1v1h2v-1h2v1h8v1h6v1h1v-1h2v1h5v-1h2v1h2v1h3v-1h1v1h1v1h3v1h2v1h2v1h1v1h3v1h1v1h2v1h1v1h1v1h2v1h1v1h2v1h1v1h2v2h3v1h1v1h3v1h1v1h4v1h4v1h21v-1h3v-1h3v-1h5v-1h3v-1h6v-1h4v-1h5v-1h17v1h1v-1h5v1h1v-1h1v1h1v1h3v1h2v1h1v1h3v1h1v1h2v1h1v1h1v1h1v1h1v1h1v1h1v1h2v1h1v1h1v1h2v1h1v1h1v1h1v1h1v1h1v1h1v1h1v1h1v1h1v1h1v1h1v1h1v1h1v1h1v1h1v2h1v1h1v1h1v1h1v2h1v1h1v2h1v1h1v2h1v2h1v2h1v2h1v2h1v3h1v2h1v2h1v3h1v2h1v2h1v2h1v2h1v2h1v2h1v2h1v2h1v1h1v1h1v1h1v1h1v1h1v1h1v1h2v1h1v1h4v1h5v1h9v-1h7v-1h4v-1h4v-1h3v-1h3v-1h1v-1h4v-1h4v-1h2v-1h4v-1h4v-1h1v-1h4v-1h1v-1h5v-1h4v-1h2v1h1v-1h2v-1h5v-1h3v-1h3v-1h9v-1h4v1h1v-1h2v-1h2v-1h1v1h1v-1h4v-1h2v1h1v-1h1v-1h3v-1h5v-1h2v-1h1v1h1v2h-1v-1h-2v1h-1v1h-5v1h-1v-1h-1v1h-1v1h-4v1h-4v1h-5v1h-9v1h-1v-1h-3v1h-2v1h-5v1h-4v1h-3v1h-5v1h-5v1h-3v1h-2v1h-3v1h-4v1h-3v1h-2v1h-2v1h-4v1h-4v1h-2v1h-3v1h-5v1h-3v1h-4v1h-18v-1h-4v-1h-2v-1h-1v-1h-2v-1h-1v-1h-1v-1h-1v-1h-1v-1h-1v-1h-1v-2h-1v-1h-1v-2h-1v-2h-1v-2h-1v-2h-1v-2h-1v-2h-1v-3h-1v-2h-1v-2h-1v-3h-1v-2h-1v-2h-1v-2h-1v-2h-1v-2h-1v-2h-1v-1h-1v-2h-1v-2h-1v-1h-1v-1h-1v-2h-2v-2h-1v-1h-1v-1h-1v-1h-1v-1h-1v-1h-1v-1h-1v-1h-1v-1h-1v-1h-1v-1h-1v-1h-1v-1h-1v-1h-1v-1h-1v-1h-2v-1h-1v-1h-1v-1h-2v-1h-1v-1h-1v-1h-1v-1h-1v-1h-1v-1h-1v-1h-2v-1h-1v-1h-3v-1h-1v-1h-3v-1h-2v-1h-4v-1h-2v1h-4v-1h-8v1h-9v1h-5v1h-6v1h-3v1h-4v1h-4v1h-3v1h-5v1h-15v-1h-6v-1h-3v-1h-3v-1h-2v-1h-2v-1h-2v-1h-2v-2h-2v-1h-1v-1h-2v-1h-1v-1h-2v-1h-1v-1h-1v-1h-3v-1h-1v-1h-2v-1h-2v-1h-1v-1h-3v-1h-2v-1h-2v1h-2v-1h-1v-1h-3v1h-4v-1h-2v1h-3v-1h-2v-1h-1v1h-1v-1h-2v-1h-1v1h-4v-1h-3v1h-5v1h-2v-1h-2v1h-2v1h-2v-1h-2v1h-2v1h-2v1h-8v1h-3v-1h-1v1h-2v-1h-1v1h-1v1h-3v-1h-2v1h-5v-1h-1v1h-1v-1h-4v1h-1v1h-1v-1h-2v1h-4v1h-2v-1h-2v-1h-3v-1h-1v-1h-2v-1h-1z"/>
<path fill="#0064b4" d="M69 105h1v1h1v1h3v1h1v-1h1v2h1v-1h10v-1h1v1h3v-1h1v1h2v-1h4v-1h2v1h4v-1h4v1h2v-1h2v-1h7v-1h4v-1h5v-1h3v1h3v-2h1v1h2v1h4v-1h4v1h4v-1h2v1h2v1h9v1h1v-1h1v1h4v1h3v1h3v1h3v1h1v1h2v1h1v1h1v1h2v1h2v1h1v1h1v1h2v1h1v1h2v1h1v1h1v1h2v1h2v1h2v1h4v1h2v1h7v1h11v-1h2v1h1v-1h5v-1h6v-1h2v-1h3v-1h3v-1h6v-1h5v-1h14v-1h1v1h1v-1h1v1h3v-1h1v1h7v1h2v1h2v1h2v1h1v1h3v1h2v1h1v1h1v1h1v1h2v1h1v1h1v1h1v1h1v1h1v1h2v1h1v1h1v1h1v1h1v1h1v1h2v1h1v1h1v1h1v1h1v1h1v1h1v1h1v1h1v1h1v1h1v2h1v1h1v1h1v2h1v1h1v1h1v2h1v2h1v2h1v2h1v2h1v2h1v2h1v3h1v2h1v2h1v2h1v2h1v3h1v2h1v2h1v1h1v2h1v1h1v2h1v1h1v1h1v1h1v1h1v1h1v1h2v1h1v1h4v1h11v1h2v-1h7v-1h3v-1h4v-1h2v-1h4v-1h3v-1h3v-1h3v-1h3v-1h4v-1h4v-1h2v-1h3v-1h4v-1h3v-1h3v-1h1v1h1v-1h4v-1h5v-1h1v-1h5v-1h1v1h2v-1h4v-1h1v1h2v-1h3v-1h4v1h4v-1h1v-1h3v-1h2v1h2v-2h8v-1h1v-1h2v2h-2v1h-1v1h-5v1h-1v-1h-1v1h-2v1h-6v1h-1v1h-2v-1h-7v1h-2v1h-1v-1h-2v1h-9v1h-1v1h-6v1h-5v1h-4v1h-3v1h-5v1h-2v1h-3v1h-2v1h-4v1h-4v1h-3v1h-2v1h-1v-1h-1v1h-3v1h-3v1h-2v1h-4v1h-3v1h-6v1h-11v-1h-2v1h-1v-1h-5v-1h-2v-1h-2v-1h-1v-1h-1v-1h-1v-1h-1v-1h-1v-1h-1v-2h-1v-1h-1v-1h-1v-2h-1v-2h-1v-2h-1v-2h-1v-2h-1v-2h-1v-2h-1v-2h-1v-2h-1v-3h-1v-2h-1v-2h-1v-2h-1v-2h-1v-2h-1v-2h-1v-2h-1v-1h-1v-2h-1v-1h-1v-1h-1v-1h-1v-2h-1v-1h-1v-1h-1v-1h-1v-1h-1v-1h-1v-1h-1v-1h-1v-1h-1v-1h-1v-1h-2v-2h-2v-1h-1v-1h-1v-1h-1v-1h-2v-1h-1v-1h-1v-1h-1v-1h-1v-1h-1v-1h-2v-1h-1v-1h-1v-1h-2v-1h-2v-1h-2v-1h-1v-1h-2v-1h-2v-1h-4v-1h-22v1h-6v1h-4v1h-5v1h-3v1h-3v1h-4v1h-4v1h-22v-1h-4v-1h-3v-1h-3v-1h-2v-1h-2v-1h-2v-1h-1v-1h-2v-1h-1v-1h-1v-1h-2v-1h-1v-1h-2v-1h-1v-1h-2v-1h-1v-1h-1v-1h-2v-1h-3v-1h-1v-1h-3v-1h-5v-1h-1v1h-3v-1h-2v-1h-1v1h-7v-2h-1v1h-5v-1h-6v1h-2v-1h-3v1h-1v-1h-2v1h-1v-1h-5v1h-2v1h-4v1h-2v1h-2v-1h-2v1h-4v1h-1v-1h-6v1h-1v-1h-3v1h-1v1h-2v-1h-1v1h-4v-1h-4v1h-1v1h-3v-1h-2v1h-1v-1h-2v1h-1v-1h-4v-1h-1v-1h-1v-1h-1z"/>
<path fill="#0064b4" d="M69 122h1v1h5v1h2v1h8v-1h1v1h1v-1h7v-1h1v1h1v-1h3v1h1v-1h8v-1h1v2h1v-2h3v-1h7v-1h2v1h4v-1h2v-1h2v1h2v1h1v-1h1v-1h3v1h1v-1h2v1h2v1h1v-1h7v1h4v1h1v1h3v-1h2v1h2v1h1v-1h2v1h2v1h3v1h2v1h2v1h2v1h1v1h3v1h1v1h1v1h1v1h1v1h1v1h1v1h1v1h2v1h1v1h1v1h2v1h3v1h2v1h3v1h3v1h3v1h9v1h2v-1h3v1h1v-1h13v-1h4v-1h2v-1h4v-1h8v-1h5v-1h26v1h3v1h2v1h2v1h2v1h2v1h2v1h1v1h2v1h1v1h1v1h1v1h2v1h1v1h1v1h1v1h2v1h1v1h1v1h1v1h2v1h1v1h1v1h1v1h1v1h1v1h1v1h1v1h1v1h1v1h1v1h1v1h1v1h1v2h1v1h1v2h1v1h1v2h1v1h1v2h1v2h1v2h1v2h1v2h1v2h1v2h1v2h1v3h1v2h1v1h1v2h1v2h1v2h1v1h1v1h1v2h1v1h1v1h1v1h1v1h2v1h1v1h2v1h2v1h2v1h16v-1h8v-1h2v-1h4v-1h3v-1h2v-1h3v-1h3v-1h3v-1h3v-1h3v-1h4v-1h5v-1h3v-1h3v-1h4v-1h6v-1h3v-1h4v-1h11v-1h5v-1h8v-1h3v-1h1v1h3v-1h1v1h2v-1h3v-1h2v1h1v-1h2v-1h2v2h-3v1h-4v1h-3v1h-2v-1h-2v1h-7v1h-1v-1h-1v1h-5v1h-6v1h-1v-1h-2v1h-7v1h-4v1h-5v1h-5v1h-4v1h-4v1h-5v1h-2v1h-3v1h-3v1h-4v1h-3v1h-2v1h-4v1h-3v1h-2v1h-3v1h-6v1h-8v1h-2v-1h-1v1h-3v-1h-2v1h-1v-1h-4v-1h-3v-1h-1v-1h-2v-1h-1v-1h-2v-1h-1v-1h-1v-1h-1v-1h-1v-2h-1v-1h-1v-2h-1v-1h-1v-2h-1v-2h-1v-2h-1v-2h-1v-2h-1v-2h-1v-2h-1v-2h-1v-2h-1v-2h-1v-2h-1v-2h-1v-2h-1v-1h-1v-2h-1v-2h-1v-1h-1v-2h-1v-1h-1v-1h-1v-1h-1v-1h-1v-1h-1v-1h-1v-1h-1v-1h-1v-1h-1v-1h-1v-1h-1v-1h-1v-1h-1v-1h-2v-1h-1v-1h-1v-1h-1v-1h-2v-1h-1v-1h-1v-1h-1v-1h-2v-1h-1v-1h-1v-1h-1v-1h-2v-1h-1v-1h-2v-1h-2v-1h-2v-1h-2v-1h-2v-1h-4v-1h-22v1h-6v1h-6v1h-5v1h-2v1h-5v1h-3v1h-26v-1h-2v-1h-4v-1h-2v-1h-2v-1h-2v-1h-3v-1h-2v-1h-1v-1h-1v-1h-2v-1h-1v-1h-1v-1h-1v-1h-1v-1h-1v-1h-1v-1h-3v-1h-1v-1h-1v-1h-4v-1h-1v-1h-4v-2h-3v1h-2v-1h-1v-1h-1v1h-1v-1h-1v1h-3v-1h-1v-1h-2v-1h-6v1h-1v-1h-3v-1h-6v1h-2v1h-2v-1h-2v-1h-1v1h-4v1h-2v-1h-1v2h-2v-1h-1v-1h-1v1h-3v1h-3v1h-8v2h-2v-2h-1v1h-1v-1h-4v1h-1v-1h-3v1h-1v-1h-1v1h-1v1h-2v-1h-1v1h-1v-1h-1v1h-1v-1h-1v1h-4v-1h-3v-1h-3v-1h-2z"/>
<path fill="#469664" d="M69 128h1v1h1v1h2v1h2v1h3v1h2v-1h1v1h1v1h3v1h1v-1h2v1h3v1h1v-1h3v-1h3v-1h2v1h1v-1h6v-1h13v1h1v-1h3v-1h1v-1h2v1h2v-1h4v1h4v-1h2v-1h2v1h4v1h3v1h2v-1h1v-1h1v1h1v1h3v1h5v1h1v1h1v-1h1v1h5v-1h2v1h1v1h1v1h2v1h1v1h1v1h1v1h2v1h1v1h1v1h1v1h1v2h2v1h1v1h1v1h2v1h1v1h2v1h2v1h2v1h2v1h3v1h3v1h3v1h3v1h15v1h4v-1h7v-1h4v-1h5v-1h7v-1h12v-1h1v1h15v1h4v1h2v1h2v1h2v1h2v1h1v1h2v1h1v1h2v1h1v1h1v1h1v1h2v1h1v1h1v1h1v1h1v1h1v1h1v1h1v1h1v1h2v1h1v1h1v1h1v1h1v1h1v1h1v1h1v1h1v2h1v1h1v1h1v1h1v1h1v2h1v1h1v1h1v2h1v2h1v2h1v2h1v2h1v2h1v2h1v2h1v2h1v3h1v1h1v2h1v2h1v2h1v2h1v2h1v2h1v1h1v2h1v1h1v1h1v1h1v1h2v1h1v1h1v1h2v1h2v1h1v1h4v1h5v1h7v-1h5v-1h5v-1h2v-1h2v-1h3v-1h2v-1h3v-1h3v-1h3v-1h4v-1h3v-1h3v-1h3v-1h5v-1h3v-1h3v-1h7v-1h4v-1h5v-1h4v-1h6v-1h2v1h2v-2h6v1h1v-2h3v1h1v-1h1v-1h2v1h1v-1h2v1h3v-1h2v-1h2v1h1v-1h1v-1h2v1h2v1h-1v1h-1v-1h-2v2h-7v1h-3v-1h-3v1h-5v1h-5v1h-7v1h-1v-1h-1v1h-5v1h-3v1h-1v-1h-1v1h-3v1h-7v1h-5v1h-3v1h-3v1h-6v1h-1v1h-1v-1h-1v1h-3v1h-3v1h-4v1h-3v1h-2v1h-3v1h-2v1h-3v1h-2v1h-2v1h-6v1h-14v-1h-4v-1h-2v-1h-2v-1h-1v-1h-2v-1h-1v-1h-1v-1h-2v-1h-1v-1h-1v-1h-1v-1h-1v-2h-1v-1h-1v-2h-1v-2h-1v-2h-1v-2h-1v-2h-1v-2h-1v-2h-1v-2h-1v-2h-1v-2h-1v-2h-1v-2h-1v-2h-1v-2h-1v-2h-1v-2h-1v-2h-1v-1h-1v-2h-1v-1h-1v-1h-1v-1h-1v-1h-1v-1h-1v-2h-1v-1h-1v-1h-1v-1h-1v-1h-1v-1h-1v-1h-1v-1h-2v-1h-1v-1h-1v-1h-1v-1h-1v-1h-1v-1h-1v-1h-1v-1h-1v-1h-1v-1h-2v-1h-1v-1h-1v-1h-1v-1h-2v-1h-1v-1h-2v-1h-2v-1h-1v-1h-2v-1h-2v-1h-2v-1h-4v-1h-23v1h-9v1h-4v1h-5v1h-4v1h-16v-1h-1v1h-2v-1h-1v1h-1v-1h-5v-1h-2v-1h-3v-1h-4v-1h-2v-1h-3v-1h-2v-1h-1v-1h-2v-1h-1v-1h-2v-1h-1v-1h-1v-1h-2v-2h-1v-1h-1v-1h-1v-1h-1v-1h-2v-1h-1v-1h-1v-1h-1v-1h-2v-1h-1v-1h-1v1h-2v-1h-1v1h-2v-1h-4v-1h-1v1h-1v-1h-4v-1h-1v1h-1v-1h-1v-1h-3v1h-1v-1h-3v-1h-4v-1h-2v1h-1v1h-5v-1h-8v1h-1v1h-3v1h-1v-1h-8v1h-1v-1h-1v1h-10v1h-1v-1h-2v1h-1v1h-9v-1h-5v-1h-5v-1h-2v-1h-3v-1h-2v-1h-1z"/>
<path fill="#808080" d="M69 139h1v1h1v1h2v1h1v1h2v1h1v1h2v1h1v-1h1v-1h3v1h2v1h2v1h4v-1h2v1h1v-1h4v1h1v-1h3v-1h1v-1h1v1h9v-1h2v-1h4v-1h2v1h1v-1h9v-2h2v1h1v1h4v1h1v-1h1v1h2v-1h10v1h2v1h3v-1h2v1h1v-1h1v1h1v1h1v-1h5v1h3v1h1v1h2v2h1v1h2v1h1v1h1v1h1v1h1v1h1v1h1v1h1v2h1v1h1v1h2v1h2v1h1v1h3v1h2v1h3v1h4v1h3v1h4v1h7v1h1v-1h1v1h12v-1h4v-1h5v-1h5v-1h6v-1h6v-1h22v1h4v1h2v1h2v1h2v1h2v1h1v1h2v1h2v1h1v1h1v1h1v1h2v1h1v1h1v1h1v1h1v1h1v1h1v1h1v1h2v1h1v2h2v2h1v1h1v1h1v1h2v2h1v1h1v1h1v1h1v1h1v1h1v2h1v1h1v1h1v2h1v2h1v1h1v3h1v1h1v3h1v2h1v2h1v2h1v2h1v2h1v2h1v3h1v2h1v2h1v2h1v1h1v2h1v2h1v1h1v1h1v2h1v1h2v1h1v1h1v1h1v1h1v1h1v1h2v1h1v1h4v1h3v1h8v-1h2v1h4v-1h4v-1h3v-1h2v-1h2v-1h2v-1h2v-1h3v-1h3v-1h3v-1h4v-1h4v-1h2v-1h5v-1h4v-1h3v-1h5v-1h3v-1h2v1h2v-1h2v-1h9v-1h5v-1h2v-1h8v-1h2v-1h2v1h2v-1h1v1h2v-1h1v-1h3v1h1v-1h1v1h2v-1h6v-1h1v2h-3v1h-7v1h-2v-1h-1v1h-10v2h-7v1h-1v-1h-1v1h-2v1h-1v-1h-1v1h-4v1h-8v1h-6v1h-3v1h-1v-1h-2v1h-2v1h-4v1h-1v-1h-1v1h-4v1h-3v1h-3v1h-3v1h-3v1h-4v1h-2v1h-4v1h-2v1h-1v1h-3v1h-3v1h-4v1h-16v-1h-4v-1h-3v-1h-1v-1h-2v-1h-1v-1h-1v-1h-1v-1h-1v-1h-1v-1h-2v-2h-1v-1h-1v-1h-1v-1h-1v-2h-1v-2h-1v-2h-1v-2h-1v-1h-1v-2h-1v-3h-1v-2h-1v-2h-1v-2h-1v-2h-1v-2h-1v-3h-1v-2h-1v-2h-1v-2h-1v-2h-1v-1h-1v-2h-1v-1h-1v-2h-1v-1h-1v-1h-1v-1h-1v-1h-1v-1h-1v-1h-1v-2h-2v-1h-1v-1h-1v-1h-1v-2h-1v-1h-1v-1h-2v-1h-1v-1h-1v-1h-1v-1h-1v-1h-1v-1h-1v-1h-1v-1h-1v-1h-2v-1h-1v-1h-1v-1h-1v-1h-2v-1h-2v-1h-2v-1h-1v-1h-2v-1h-2v-1h-3v-1h-5v-1h-1v1h-2v-1h-8v1h-1v-1h-1v1h-9v1h-8v1h-5v1h-2v1h-7v1h-18v-1h-7v-1h-4v-1h-4v-1h-3v-1h-1v-1h-3v-1h-2v-1h-1v-1h-2v-1h-2v-1h-1v-1h-1v-2h-1v-1h-1v-1h-1v-1h-1v-1h-1v-1h-1v-1h-1v-1h-2v-1h-1v-2h-2v-1h-3v-1h-7v-1h-4v1h-4v-1h-1v-1h-5v-1h-1v1h-1v-1h-1v1h-10v-1h-3v1h-2v-1h-3v2h-1v-1h-1v1h-3v-1h-2v1h-4v1h-1v1h-1v-1h-1v1h-4v-1h-1v1h-3v-1h-1v1h-1v1h-12v1h-3v-1h-2v-1h-3v-1h-2v1h-3v-1h-2v-1h-1v-1h-3v-1h-2v-2h-1z"/>
<path fill="#a00000" d="M69 147h1v2h4v1h2v1h2v1h3v1h4v1h2v1h4v-1h2v1h5v-1h2v-1h1v1h1v-1h12v-2h2v1h3v-1h3v-1h6v-1h2v1h9v-1h3v1h3v-1h1v-1h1v1h1v-1h1v1h4v1h1v-1h1v1h1v-1h1v1h1v-1h1v1h1v1h2v-1h1v1h1v1h1v-1h6v1h2v1h2v1h1v2h1v1h1v1h1v1h1v1h1v1h1v1h1v1h1v2h1v1h1v1h1v1h2v1h1v1h2v1h1v1h3v1h3v1h4v1h5v1h5v1h20v-1h4v-1h4v-1h4v-1h7v-1h5v-1h24v1h3v1h2v1h3v1h1v1h2v1h2v1h1v1h2v1h1v1h2v1h1v1h1v1h1v1h1v1h2v2h1v1h2v2h1v1h1v1h2v1h1v1h1v1h1v1h1v1h1v1h1v1h1v1h1v2h2v2h1v1h1v1h1v2h1v1h1v2h1v1h1v2h1v2h1v2h1v2h1v3h1v2h1v2h1v2h1v2h1v2h1v2h1v2h1v2h1v2h1v2h1v1h1v2h1v1h1v2h1v1h1v1h1v1h2v1h1v1h1v1h2v1h1v1h2v1h2v1h2v1h4v1h2v-1h1v1h6v-1h5v-1h4v-1h3v-1h2v-1h3v-1h3v-1h2v-1h3v-1h2v-1h2v-1h6v-1h2v-1h4v-1h3v-1h5v-1h5v-1h3v-1h6v-1h1v1h1v-1h7v-1h7v-1h5v-1h3v-1h5v1h1v-1h1v-1h5v-1h1v1h1v-1h4v-1h2v1h5v2h-3v-1h-2v1h-4v-1h-1v1h-5v2h-1v-1h-1v1h-5v-1h-1v1h-3v1h-4v1h-5v1h-3v1h-1v-1h-1v1h-2v-1h-1v1h-1v-1h-1v1h-5v1h-5v1h-3v1h-2v-1h-1v1h-4v1h-3v1h-3v1h-5v1h-2v1h-6v1h-2v1h-2v1h-3v1h-2v1h-4v1h-2v1h-3v1h-2v1h-6v1h-12v-1h-4v-1h-2v-1h-2v-1h-2v-1h-1v-1h-2v-1h-1v-1h-1v-1h-2v-1h-1v-1h-1v-2h-1v-1h-1v-1h-1v-2h-1v-1h-1v-2h-1v-2h-1v-2h-1v-2h-1v-2h-1v-2h-1v-2h-1v-2h-1v-3h-1v-2h-1v-2h-1v-2h-1v-2h-1v-2h-1v-2h-1v-1h-1v-2h-1v-2h-1v-1h-1v-1h-1v-1h-1v-2h-1v-1h-1v-1h-1v-1h-1v-1h-1v-1h-1v-1h-1v-1h-1v-1h-1v-1h-1v-1h-2v-2h-1v-1h-1v-1h-2v-1h-1v-2h-2v-1h-1v-1h-1v-1h-1v-1h-1v-1h-2v-1h-1v-1h-2v-1h-1v-1h-2v-1h-2v-1h-2v-1h-2v-1h-3v-1h-2v-1h-18v1h-1v-1h-1v1h-7v1h-7v1h-3v1h-4v1h-4v1h-5v1h-5v-1h-1v1h-2v-1h-3v1h-3v-1h-5v-1h-5v-1h-6v-1h-3v-1h-2v-1h-3v-1h-2v-1h-1v-1h-1v-1h-2v-1h-1v-1h-1v-1h-1v-2h-1v-1h-1v-1h-1v-1h-1v-1h-1v-2h-2v-2h-1v-1h-2v-1h-1v-1h-4v-1h-2v1h-4v-1h-3v-1h-5v1h-1v-1h-3v-1h-1v1h-4v1h-2v-1h-2v1h-1v-1h-1v1h-1v-1h-1v1h-2v-1h-1v1h-2v-1h-4v1h-1v-1h-2v1h-3v1h-4v1h-2v-1h-1v1h-1v1h-10v-1h-1v1h-1v1h-4v1h-5v-1h-3v1h-2v-1h-2v-1h-2v-1h-1v1h-3v-1h-3v-1h-1v-1h-3v-1h-2v-1h-2z"/>
<path fill="#a00000" d="M69 148h2v1h2v2h1v-1h1v1h2v1h2v1h2v1h2v1h2v1h5v-1h2v1h4v-1h2v1h1v-1h5v-1h1v-1h1v1h1v-1h1v1h3v-1h7v-1h4v-1h1v1h3v-1h1v-1h1v1h3v-1h14v1h1v-1h3v1h1v-1h4v1h1v-1h1v-1h2v1h1v1h6v1h1v-1h1v1h2v-1h1v2h3v1h1v1h1v2h2v1h1v1h1v1h1v1h1v1h1v1h1v2h1v1h1v1h1v1h1v1h1v1h1v1h2v1h3v1h2v1h3v1h3v1h5v1h5v1h21v-1h5v-1h2v-1h5v-1h5v-1h8v-1h14v-1h2v1h7v1h3v1h3v1h2v1h1v1h2v1h1v1h2v1h2v1h1v1h1v1h2v1h1v1h1v1h1v1h1v1h1v1h2v1h1v1h1v1h1v1h1v1h1v1h1v1h1v1h1v1h1v1h1v1h1v1h1v1h1v1h1v1h1v1h1v2h1v1h1v1h1v2h1v1h1v2h1v2h1v2h1v1h1v3h1v2h1v2h1v2h1v2h1v3h1v2h1v2h1v2h1v2h1v1h1v2h1v2h1v1h1v2h1v1h1v1h1v1h1v1h1v1h2v1h1v1h2v1h1v1h2v1h1v1h3v1h3v1h10v-1h4v-1h1v1h2v-1h2v-1h3v-1h3v-1h1v-1h4v-1h2v-1h2v-1h4v-1h2v-1h5v-1h5v-1h2v-1h4v-1h3v-1h1v1h1v-1h2v-1h7v-1h5v-1h1v1h1v-1h5v-1h2v-1h2v1h4v-1h4v-1h1v-1h6v-1h1v1h1v-1h3v1h1v-1h7v-1h1v1h3v-1h4v1h-1v1h-3v1h-1v-1h-3v1h-7v1h-1v-1h-5v1h-6v1h-1v1h-9v1h-1v-1h-1v1h-2v1h-1v-1h-1v1h-5v1h-7v1h-4v1h-5v1h-5v1h-2v1h-5v1h-2v1h-4v1h-4v1h-2v1h-3v1h-4v1h-1v1h-3v1h-2v1h-3v1h-5v1h-14v-1h-3v-1h-3v-1h-1v-1h-2v-1h-2v-1h-1v-1h-2v-1h-1v-1h-1v-1h-1v-1h-1v-1h-1v-2h-1v-1h-1v-2h-1v-1h-1v-2h-1v-1h-1v-2h-1v-2h-1v-2h-1v-2h-1v-3h-1v-2h-1v-2h-1v-2h-1v-3h-1v-2h-1v-2h-1v-1h-1v-2h-1v-2h-1v-1h-1v-2h-1v-1h-1v-1h-1v-2h-1v-1h-1v-1h-1v-1h-1v-1h-1v-1h-1v-1h-1v-1h-1v-1h-1v-1h-1v-1h-1v-1h-1v-1h-1v-1h-1v-1h-1v-1h-1v-1h-2v-1h-1v-1h-1v-1h-1v-1h-1v-1h-1v-1h-2v-1h-1v-1h-1v-1h-2v-1h-2v-1h-1v-1h-2v-1h-2v-1h-1v-1h-3v-1h-4v-1h-15v1h-10v1h-7v1h-4v1h-4v1h-3v1h-5v1h-2v-1h-1v1h-12v-1h-6v-1h-6v-1h-3v-1h-5v-1h-2v-1h-2v-1h-2v-1h-2v-1h-1v-1h-1v-1h-1v-2h-2v-2h-1v-1h-1v-1h-1v-1h-1v-1h-1v-1h-1v-1h-1v-1h-2v-2h-1v-1h-2v-1h-4v-1h-3v-1h-3v1h-2v-1h-1v-1h-2v1h-6v1h-2v-1h-7v-1h-1v1h-6v1h-7v1h-4v-1h-1v1h-4v1h-1v1h-1v-2h-1v1h-5v1h-1v-1h-1v1h-1v-1h-2v1h-2v1h-1v1h-1v-1h-1v1h-8v-1h-2v1h-2v1h-1v-2h-4v-1h-1v-1h-3v-1h-3v-1h-2v-1h-1v-1h-2v-1h-2z"/>
<path fill="#ff0000" d="M69 152h1v1h1v2h3v1h1v1h1v-1h1v1h2v1h3v1h3v1h5v-1h5v1h3v-1h4v1h2v-2h5v-1h3v1h1v-1h5v-1h1v1h2v-2h3v1h1v-1h2v-1h2v1h1v1h1v-1h2v-1h2v-1h1v1h6v1h1v-1h8v-1h2v1h2v1h2v-1h2v1h4v-1h3v1h4v1h3v2h1v1h1v1h1v1h1v1h1v1h2v1h1v2h1v1h1v1h1v2h1v1h1v1h1v1h1v1h1v1h3v1h1v1h3v1h5v1h3v1h5v1h4v1h18v-1h5v-1h4v-1h3v-1h5v-1h7v-1h6v-1h1v1h2v-1h16v1h3v1h3v1h2v1h1v1h2v1h2v1h2v1h1v1h2v1h1v1h1v1h2v1h1v1h1v1h1v1h1v1h1v1h2v1h1v1h1v1h1v1h1v1h1v1h1v1h1v1h1v1h1v1h1v1h1v1h1v1h1v1h1v1h1v1h1v1h1v2h1v1h1v2h1v1h1v2h1v1h1v3h1v2h1v2h1v2h1v2h1v2h1v2h1v2h1v2h1v2h1v2h1v1h1v2h1v2h1v1h1v2h1v1h1v1h2v1h1v1h1v1h2v1h1v1h2v1h2v1h2v1h2v1h2v1h11v-1h4v-1h6v-1h2v-1h3v-1h1v-1h4v-1h2v-1h3v-1h3v-1h4v-1h3v-1h5v-1h2v-1h4v-1h4v-1h3v-1h8v-1h6v-1h6v-1h1v1h1v-1h3v-1h5v-1h6v-1h6v-1h6v-1h3v1h5v-1h3v2h-7v1h-1v-1h-6v1h-3v1h-8v1h-4v1h-5v1h-7v1h-5v1h-6v1h-2v-1h-1v1h-1v-1h-1v1h-2v1h-3v1h-2v-1h-1v1h-3v1h-3v1h-3v1h-3v1h-5v1h-3v1h-3v1h-2v1h-3v1h-3v1h-1v1h-4v1h-3v1h-4v1h-5v1h-4v-1h-7v-1h-3v-1h-2v-1h-2v-1h-1v-1h-2v-1h-1v-1h-2v-1h-1v-1h-1v-1h-2v-1h-1v-2h-1v-1h-1v-1h-1v-2h-1v-2h-1v-1h-1v-2h-1v-2h-1v-2h-1v-2h-1v-2h-1v-2h-1v-2h-1v-2h-1v-2h-1v-2h-1v-3h-1v-1h-1v-2h-1v-2h-1v-1h-1v-2h-1v-1h-1v-1h-1v-1h-1v-1h-1v-1h-1v-1h-1v-1h-1v-1h-1v-1h-1v-1h-1v-1h-1v-1h-1v-1h-1v-1h-1v-1h-1v-1h-1v-1h-1v-1h-2v-1h-1v-1h-1v-1h-1v-1h-1v-1h-1v-1h-2v-1h-1v-1h-1v-1h-2v-1h-1v-1h-2v-1h-2v-1h-2v-1h-1v-1h-2v-1h-3v-1h-10v-1h-2v1h-2v-1h-1v1h-10v1h-7v1h-4v1h-4v1h-3v1h-4v1h-1v-1h-1v1h-21v-1h-6v-1h-4v-1h-4v-1h-3v-1h-3v-1h-1v-1h-3v-1h-1v-1h-1v-1h-1v-2h-2v-2h-1v-1h-1v-1h-1v-2h-1v-1h-2v-1h-1v-1h-1v-1h-1v-1h-1v-1h-1v-1h-1v-1h-4v-1h-4v1h-2v-1h-1v1h-2v-1h-2v1h-2v-1h-3v-1h-1v1h-6v1h-2v-1h-2v-1h-1v1h-4v1h-1v-1h-2v1h-3v-1h-3v1h-3v-1h-1v2h-1v1h-2v-1h-2v1h-4v1h-3v-1h-1v1h-4v1h-1v1h-2v-1h-2v-1h-1v1h-1v1h-3v-1h-5v1h-4v-1h-2v-1h-1v1h-2v-1h-2v-1h-2v-1h-3v-1h-2v-1h-2v-1h-1z"/>
<path fill="#0000ff" d="M69 117h2v-1h3v1h1v1h2v1h9v-1h2v-1h1v1h1v-1h2v1h1v-2h3v1h4v1h3v-1h2v-1h6v-1h3v1h2v-1h2v1h3v-1h5v-1h2v-1h1v1h1v-1h1v1h1v-1h2v1h3v-1h2v1h1v-2h2v1h4v1h5v-1h1v2h3v1h5v1h2v-1h1v1h2v1h1v-1h2v1h3v1h2v1h2v1h2v1h1v1h2v1h1v1h2v2h1v1h2v2h2v1h1v1h2v1h2v1h2v1h2v1h2v1h2v1h3v1h7v1h21v-1h6v-1h2v-1h3v-1h5v-1h5v-1h5v-1h28v1h2v1h2v1h2v1h2v1h2v1h1v1h2v1h1v1h2v2h2v1h1v1h1v1h1v1h1v1h2v1h1v1h2v2h2v1h1v1h1v1h1v1h1v1h1v1h2v2h1v1h1v1h1v1h1v1h1v1h1v1h1v2h1v1h1v2h1v1h1v2h1v2h1v2h1v2h1v2h1v2h1v2h1v2h1v2h1v2h1v3h1v2h1v1h1v2h1v2h1v2h1v1h1v1h1v1h1v1h1v2h1v1h2v1h1v1h2v1h2v1h5v1h14v-1h5v-1h4v-1h3v-1h4v-1h2v-1h3v-1h3v-1h4v-1h4v-1h3v-1h3v-1h1v-1h4v-1h5v-1h3v-1h2v1h1v-1h5v-1h2v-1h6v-1h11v-1h4v-1h10v-1h4v-1h1v-1h2v1h2v-1h2v1h2v-1h1v-1h3v2h-3v1h-1v1h-5v-1h-3v2h-2v-1h-2v1h-2v1h-1v1h-3v-1h-4v1h-9v1h-1v-1h-2v1h-5v1h-6v1h-5v1h-5v1h-3v1h-5v1h-3v1h-2v1h-3v1h-2v1h-4v1h-5v1h-3v1h-3v1h-3v1h-3v1h-5v1h-3v1h-10v1h-3v-1h-8v-1h-3v-1h-1v-1h-2v-1h-1v-1h-2v-2h-1v-1h-1v-1h-1v-1h-1v-1h-1v-1h-1v-2h-1v-2h-1v-2h-1v-2h-1v-2h-1v-2h-1v-2h-1v-2h-1v-2h-1v-3h-1v-1h-1v-3h-1v-1h-1v-2h-1v-2h-1v-2h-1v-2h-1v-1h-1v-2h-1v-1h-1v-1h-1v-1h-1v-1h-1v-1h-1v-1h-1v-1h-1v-2h-1v-1h-2v-1h-1v-1h-1v-1h-1v-1h-1v-1h-1v-1h-1v-1h-2v-1h-1v-1h-2v-1h-1v-1h-1v-1h-1v-1h-1v-1h-2v-2h-2v-1h-1v-1h-2v-1h-2v-1h-1v-1h-2v-1h-2v-1h-2v-1h-3v-1h-20v1h-1v-1h-2v1h-6v1h-5v1h-6v1h-3v1h-2v1h-4v1h-7v1h-3v-1h-2v1h-6v-1h-2v1h-1v-1h-8v-1h-5v-1h-1v-1h-3v-1h-2v-1h-1v-1h-2v-1h-2v-1h-2v-1h-2v-2h-1v-1h-2v-1h-1v-2h-2v-1h-1v-1h-2v-1h-1v-1h-2v-1h-3v-1h-2v1h-1v-2h-9v-1h-4v-1h-1v-1h-1v1h-1v-1h-4v1h-1v-2h-8v1h-1v-1h-1v1h-3v-1h-2v1h-2v-1h-3v1h-1v1h-3v-1h-1v1h-3v1h-6v-1h-3v1h-5v1h-1v1h-1v-1h-1v1h-2v-1h-7v1h-3v-1h-1v1h-3v1h-1v1h-1v-1h-1v-1h-1v1h-5v-1h-2v-1h-3v-1h-2v1h-1z"/>
<path fill="#0000ff" d="M69 99h2v1h1v1h1v1h2v1h1v-1h2v1h4v-1h13v-1h1v1h3v-1h1v1h1v-2h2v2h1v-1h1v-1h1v2h2v-1h4v-1h1v-1h4v-1h1v1h2v-1h1v1h1v-1h4v-1h1v1h3v-1h2v1h1v-1h2v-1h1v1h1v-1h2v1h1v-1h3v1h2v-1h1v-1h1v2h1v-1h1v1h1v-1h3v1h5v1h4v-1h2v1h2v1h1v-1h1v1h1v1h4v1h3v1h3v1h1v1h2v1h1v1h2v1h1v1h1v1h2v1h1v1h2v1h2v1h1v1h1v1h2v1h2v1h2v1h2v1h3v1h6v1h16v-1h4v-1h2v1h1v-1h3v-1h2v-1h4v-1h5v-1h3v-1h7v-1h26v1h2v1h2v1h2v1h2v1h1v1h2v1h1v1h1v1h1v1h2v1h1v1h1v1h1v1h1v1h1v1h2v2h2v1h1v1h1v1h1v2h2v1h1v1h1v2h1v1h1v1h1v1h1v1h1v1h1v1h1v1h1v2h1v1h1v1h1v1h1v2h1v1h1v2h1v2h1v2h1v2h1v2h1v2h1v3h1v2h1v2h1v3h1v2h1v2h1v3h1v2h1v3h1v2h1v2h1v1h1v2h1v1h1v2h1v1h1v1h1v1h1v1h1v1h1v1h3v1h4v1h8v1h4v-1h6v-1h6v-1h3v-1h3v-1h3v-1h3v-1h3v-1h2v-1h3v-1h4v-1h2v-1h5v-1h3v-1h3v-1h2v-1h4v-1h3v-1h2v1h1v-1h4v-1h4v-1h1v-1h2v1h3v-1h8v-1h8v-1h5v-1h1v-1h3v1h1v-1h3v-1h4v-1h3v-1h1v2h-3v1h-2v1h-2v1h-4v1h-2v-1h-2v1h-1v1h-2v-1h-2v1h-1v1h-5v-1h-1v1h-2v1h-2v-1h-2v1h-4v1h-2v-1h-1v1h-3v1h-2v1h-1v-1h-2v1h-1v-1h-1v1h-4v1h-4v1h-3v1h-2v1h-5v1h-2v1h-5v1h-2v1h-4v1h-2v1h-2v1h-4v1h-4v1h-2v1h-3v1h-4v1h-8v1h-12v-1h-6v-1h-2v-1h-2v-1h-1v-1h-1v-1h-1v-1h-1v-1h-1v-1h-1v-2h-1v-1h-1v-2h-1v-2h-1v-1h-1v-3h-1v-2h-1v-3h-1v-2h-1v-2h-1v-2h-1v-3h-1v-2h-1v-3h-1v-2h-1v-2h-1v-2h-1v-2h-1v-2h-1v-2h-1v-2h-1v-1h-1v-2h-1v-1h-1v-1h-1v-2h-1v-1h-1v-1h-1v-1h-1v-1h-1v-1h-1v-1h-1v-1h-1v-1h-1v-2h-1v-1h-1v-1h-1v-1h-1v-1h-1v-1h-1v-1h-1v-1h-2v-2h-2v-1h-1v-1h-1v-1h-1v-1h-1v-1h-1v-1h-1v-1h-1v-1h-2v-1h-1v-1h-2v-1h-1v-1h-2v-1h-2v-1h-2v-1h-3v-1h-22v1h-6v1h-4v1h-5v1h-5v1h-1v1h-4v1h-5v1h-11v1h-1v-1h-1v1h-1v-1h-1v1h-2v-1h-5v-1h-5v-1h-2v-1h-3v-1h-1v-1h-2v-1h-2v-1h-1v-1h-1v-1h-2v-1h-2v-1h-1v-1h-2v-1h-1v-1h-1v-1h-2v-1h-1v-1h-2v-1h-3v-1h-3v-1h-1v-1h-7v-1h-2v-1h-8v-1h-1v1h-2v-1h-2v1h-3v-1h-10v1h-1v-1h-1v1h-1v1h-2v-1h-1v1h-2v-1h-2v1h-1v-1h-1v1h-1v-1h-1v1h-3v1h-2v-1h-1v2h-3v-1h-1v1h-3v2h-1v-1h-2v1h-1v-1h-2v1h-1v-1h-5v1h-2v-1h-1v1h-2v-1h-1v1h-2v-1h-1v1h-2v1h-1v-1h-3v1h-5v-1h-2v1h-1v-1h-2v-1h-1v-1h-2v-1h-1z"/>
<path fill="#b45f00" d="M69 113h3v1h5v1h3v1h1v-1h1v1h1v-1h3v-1h3v1h3v-1h7v-1h2v1h3v-1h6v-1h5v-2h2v2h2v-1h5v-1h1v1h3v-1h11v-1h3v1h2v-1h1v1h2v-1h2v1h2v1h4v1h5v1h1v1h1v-1h5v1h1v-1h1v1h1v1h3v1h1v1h2v1h2v1h2v1h1v1h1v1h1v1h1v1h2v1h1v1h2v1h1v1h2v1h2v1h1v1h2v1h2v1h2v1h4v1h4v1h23v-1h4v-1h4v-1h2v-1h5v-1h6v-1h3v-1h8v-1h2v1h13v-1h2v1h5v1h2v1h2v1h2v1h2v1h1v1h2v1h1v1h1v1h1v1h1v1h1v1h2v1h1v1h1v1h1v1h1v1h1v1h1v1h1v1h1v1h1v1h1v1h1v1h1v1h1v1h2v2h1v1h1v1h1v1h1v1h1v1h1v1h1v2h1v1h1v1h1v2h1v1h1v2h1v2h1v2h1v2h1v2h1v2h1v3h1v2h1v2h1v3h1v2h1v3h1v2h1v2h1v3h1v2h1v2h1v1h1v2h1v2h1v1h1v1h1v1h1v1h1v1h1v1h1v1h2v1h2v1h3v1h17v-1h6v-1h4v-1h2v-1h2v-1h5v-1h2v-1h3v-1h3v-1h3v-1h4v-1h4v-1h3v-1h3v-1h3v-1h2v1h1v-1h3v-1h2v-1h4v1h1v-1h4v-1h3v-1h8v-1h9v-1h2v-1h1v2h1v-1h2v1h1v-1h1v-1h4v-1h2v1h2v-1h2v-1h6v2h-1v-1h-2v1h-3v1h-2v1h-1v-1h-3v1h-2v-1h-1v1h-1v1h-8v1h-1v-1h-1v1h-9v1h-7v1h-3v1h-9v1h-2v1h-6v1h-3v1h-2v1h-5v1h-4v1h-4v1h-1v1h-4v1h-3v1h-4v1h-3v1h-2v1h-3v1h-5v1h-6v1h-12v-1h-4v-1h-3v-1h-1v-1h-2v-1h-1v-1h-1v-1h-1v-1h-1v-1h-1v-1h-1v-2h-1v-1h-1v-2h-1v-1h-1v-2h-1v-2h-1v-3h-1v-2h-1v-2h-1v-3h-1v-2h-1v-3h-1v-2h-1v-3h-1v-2h-1v-2h-1v-2h-1v-2h-1v-2h-1v-2h-1v-2h-1v-1h-1v-2h-1v-1h-1v-1h-1v-2h-1v-1h-1v-1h-1v-1h-1v-1h-1v-1h-1v-1h-1v-2h-2v-1h-1v-1h-1v-1h-1v-1h-1v-1h-1v-2h-2v-1h-1v-1h-1v-1h-1v-1h-1v-1h-1v-1h-1v-1h-2v-1h-1v-1h-1v-1h-1v-1h-1v-1h-1v-1h-2v-1h-1v-1h-3v-1h-1v-1h-2v-1h-3v-1h-23v1h-7v1h-3v1h-7v1h-2v1h-4v1h-4v1h-4v1h-9v-1h-1v1h-7v-1h-7v-1h-3v-1h-3v-1h-2v-1h-2v-1h-2v-1h-2v-1h-1v-1h-2v-1h-1v-1h-2v-1h-1v-1h-2v-1h-1v-1h-1v-1h-1v-1h-2v-1h-2v-1h-1v-1h-2v-1h-3v-1h-2v-1h-12v-1h-1v-1h-2v-1h-1v1h-1v-1h-6v-1h-2v1h-1v-1h-1v1h-5v-1h-1v2h-2v-1h-5v1h-3v-1h-3v1h-3v1h-1v-1h-3v1h-5v1h-7v1h-3v-1h-1v1h-5v1h-2v-1h-1v1h-3v-1h-1v1h-2v-1h-1v1h-6v-1h-4v1h-2v-2h-3z"/>
<path fill="#a00000" d="M69 110h2v1h3v1h1v1h4v-1h2v-1h1v1h2v-1h2v-1h1v1h10v-1h3v1h1v-1h2v1h3v-1h2v1h1v-2h1v1h1v-1h1v1h1v-1h1v1h3v-1h4v-1h7v-1h15v-1h1v1h2v-1h2v1h1v1h4v-1h2v1h3v1h9v1h2v1h3v1h1v1h2v1h1v1h2v1h2v1h1v1h2v1h1v1h2v1h1v1h1v1h2v1h2v1h1v1h1v1h2v1h2v1h3v1h2v1h3v1h5v1h20v-1h3v-1h5v-1h3v-1h4v-1h4v-1h5v-1h6v-1h2v1h1v-1h20v1h3v1h2v1h2v1h2v1h2v1h1v1h2v1h2v1h1v1h1v1h1v1h1v1h1v1h2v1h1v1h1v1h1v1h2v1h1v1h1v1h1v1h1v1h1v1h1v1h1v1h1v1h1v1h1v1h1v1h1v1h1v1h1v1h1v1h1v1h1v1h1v2h1v1h1v2h1v2h1v1h1v2h1v2h1v2h1v2h1v3h1v2h1v2h1v2h1v2h1v2h1v2h1v2h1v2h1v2h1v2h1v1h1v1h1v2h1v1h1v1h2v1h1v1h2v1h1v1h6v1h15v-1h5v-1h3v-1h4v-1h3v-1h3v-1h4v-1h2v-1h4v-1h3v-1h3v-1h1v-1h6v-1h2v-1h5v-1h3v-1h2v1h1v-1h1v-1h5v-1h2v-1h11v-1h2v-1h2v1h1v-1h2v1h2v-1h1v-1h5v-1h5v-1h9v-1h4v-1h2v1h-1v1h-2v1h-2v1h-8v1h-1v-1h-1v1h-4v1h-6v1h-5v1h-1v-1h-3v1h-4v1h-9v1h-3v1h-3v1h-5v1h-2v1h-2v-1h-1v1h-3v1h-4v1h-3v1h-3v1h-3v1h-2v1h-4v1h-4v1h-2v1h-4v1h-3v1h-2v1h-4v1h-6v1h-5v-1h-11v-1h-4v-1h-1v-1h-2v-1h-1v-1h-2v-1h-1v-2h-1v-1h-1v-1h-1v-1h-1v-2h-1v-2h-1v-2h-1v-2h-1v-2h-1v-2h-1v-2h-1v-2h-1v-2h-1v-2h-1v-3h-1v-2h-1v-2h-1v-2h-1v-2h-1v-1h-1v-3h-1v-1h-1v-2h-1v-1h-1v-1h-1v-1h-1v-1h-1v-1h-1v-1h-1v-1h-1v-1h-1v-1h-1v-1h-1v-1h-1v-1h-1v-2h-2v-1h-1v-1h-1v-1h-1v-1h-1v-1h-2v-1h-1v-1h-1v-1h-1v-1h-2v-1h-1v-1h-1v-1h-1v-1h-1v-1h-1v-1h-2v-1h-2v-1h-1v-1h-2v-1h-2v-1h-2v-1h-2v-1h-8v-1h-3v1h-18v1h-4v1h-5v1h-4v1h-4v1h-4v1h-4v1h-24v-1h-3v-1h-3v-1h-2v-1h-3v-1h-2v-1h-2v-1h-1v-1h-2v-1h-1v-1h-2v-1h-1v-1h-1v-1h-2v-1h-1v-1h-2v-1h-1v-1h-2v-1h-2v-1h-2v-1h-2v-1h-2v-1h-2v-1h-7v-1h-1v1h-2v-1h-2v-1h-2v1h-4v-1h-1v-1h-1v1h-4v-1h-1v1h-1v1h-2v-2h-1v1h-2v1h-2v-1h-3v-1h-1v1h-2v1h-2v-1h-1v1h-5v1h-3v1h-1v-1h-3v1h-1v-1h-1v1h-2v1h-6v-1h-6v1h-1v-1h-1v1h-4v-1h-2v1h-9v1h-1v1h-5v-2h-2v-1h-3z"/>
<path fill="#a00000" d="M69 86h2v1h1v1h1v1h1v1h1v-1h2v1h1v-1h2v1h3v1h1v-1h4v1h4v-1h1v1h3v-1h1v1h1v-1h1v1h3v-1h3v1h1v-1h9v-1h1v-1h1v1h3v-1h2v1h1v-1h2v-1h1v-1h3v1h1v-1h1v-1h1v1h2v-1h3v1h2v-1h6v-1h1v2h1v-1h3v-1h2v1h4v-1h2v1h1v-1h1v1h3v-1h1v1h1v1h1v-1h1v1h1v-1h1v1h2v1h5v1h1v1h3v1h1v1h2v1h1v1h2v1h2v1h1v1h2v1h1v1h1v1h1v1h2v1h1v1h1v1h2v1h2v1h1v1h1v1h3v1h3v1h3v1h19v-1h4v-1h4v-1h3v-1h4v-1h8v-1h4v-1h26v1h3v1h2v1h2v1h2v1h2v1h2v1h1v1h1v1h1v1h2v1h1v1h1v1h1v1h2v1h1v1h1v1h2v1h1v1h1v1h1v1h1v1h1v1h2v1h1v1h1v1h1v1h1v1h1v1h1v1h1v1h1v1h1v1h1v2h1v1h1v1h1v2h1v2h1v1h1v2h1v2h1v2h1v2h1v2h1v3h1v1h1v2h1v2h1v2h1v1h1v2h1v1h1v1h1v1h1v1h1v1h1v1h2v1h2v1h1v1h2v1h2v1h2v1h3v1h4v1h11v-1h6v-1h3v-1h4v-1h3v-1h2v-1h1v1h1v-1h1v-1h4v-1h3v-1h3v-1h4v-1h2v-1h5v-1h3v-1h4v-2h4v-1h3v-1h2v-1h1v-1h5v-1h4v-1h1v-1h5v-1h1v-1h1v-1h6v-1h3v-1h2v-1h1v-1h3v-1h1v-1h4v-1h1v1h2v-1h7v-2h1v-1h1v2h-1v2h-1v1h-2v-1h-2v2h-1v-1h-5v1h-3v1h-2v1h-1v-1h-1v1h-1v1h-2v1h-3v2h-7v1h-1v1h-2v1h-4v1h-3v1h-6v1h-1v1h-2v1h-3v1h-4v2h-4v1h-1v1h-4v1h-4v1h-4v1h-2v1h-4v1h-3v1h-2v1h-4v1h-3v1h-5v1h-2v1h-4v1h-16v-1h-5v-1h-3v-1h-2v-1h-1v-1h-2v-1h-2v-1h-1v-1h-2v-1h-1v-1h-1v-1h-1v-1h-1v-1h-1v-1h-1v-2h-1v-1h-1v-2h-1v-2h-1v-2h-1v-2h-1v-2h-1v-2h-1v-2h-1v-2h-1v-2h-1v-2h-1v-2h-1v-1h-1v-2h-1v-1h-1v-1h-1v-2h-1v-1h-1v-1h-1v-1h-1v-1h-1v-1h-1v-1h-1v-1h-1v-1h-1v-1h-1v-1h-2v-1h-1v-1h-1v-1h-1v-1h-1v-1h-1v-1h-2v-1h-1v-1h-1v-1h-2v-1h-1v-1h-1v-1h-1v-1h-2v-1h-1v-1h-1v-1h-1v-1h-2v-1h-2v-1h-3v-1h-1v-1h-2v-1h-4v-1h-21v1h-6v1h-7v1h-4v1h-3v1h-4v1h-4v1h-5v1h-2v-1h-2v1h-10v-1h-4v-1h-3v-1h-2v-1h-3v-1h-1v-1h-2v-1h-1v-1h-2v-1h-1v-1h-1v-1h-2v-1h-1v-1h-1v-1h-1v-1h-2v-1h-1v-1h-3v-1h-1v-1h-1v-1h-3v-1h-1v-1h-3v-1h-1v-1h-1v1h-2v-1h-2v-1h-1v1h-2v-1h-8v-1h-2v1h-4v-1h-1v1h-7v-1h-1v1h-2v1h-6v-1h-1v1h-1v-1h-2v1h-2v1h-1v-1h-2v1h-2v1h-3v1h-4v-1h-1v1h-2v1h-5v-1h-1v1h-7v1h-1v-1h-4v1h-6v-1h-4v-1h-1v1h-1v1h-1v-1h-3v-1h-1v1h-2v-1h-1v1h-2v-1h-1v-1h-1v-1h-2v-1h-1z"/>
<path fill="#008000" d="M69 99h1v1h2v1h1v-1h1v1h2v1h3v1h1v-1h7v-1h2v1h7v-1h8v1h1v-1h1v-1h3v-1h3v1h3v-1h3v-1h1v-1h1v1h3v-1h2v1h1v-1h4v-1h3v1h1v-1h10v1h1v-1h6v1h3v-1h1v1h4v-2h1v2h7v1h3v1h4v1h1v1h1v1h2v1h3v1h2v1h2v1h1v1h1v1h2v1h1v1h2v1h1v1h1v1h2v1h1v1h2v1h2v1h2v1h3v1h4v1h6v1h4v-1h1v1h3v-1h9v-1h3v-1h4v-1h3v-1h3v-1h4v-1h5v-1h6v-1h21v1h6v1h2v1h2v1h3v1h1v1h2v1h1v1h2v1h1v1h1v1h2v1h1v1h1v1h2v1h1v1h1v1h2v1h1v1h1v1h1v1h1v1h2v1h1v1h1v1h1v1h1v1h1v1h1v1h1v1h1v2h2v2h1v1h1v1h1v2h1v1h1v2h1v2h1v2h1v1h1v3h1v1h1v2h1v2h1v2h1v3h1v1h1v3h1v1h1v2h1v2h1v2h1v1h1v1h1v1h1v2h1v1h2v2h2v1h2v1h2v1h4v1h18v-1h5v-1h2v-1h3v-1h2v-1h5v-1h2v-1h2v-1h3v-1h3v-1h5v-1h2v-1h4v-1h2v-1h4v-1h3v-1h4v-1h4v-1h2v-1h4v-1h2v-1h8v-1h5v-1h1v-1h4v1h1v-1h1v-1h4v-1h3v1h1v-1h3v-1h2v-1h3v-1h3v-1h3v2h-3v1h-5v1h-1v1h-3v1h-4v1h-1v-1h-1v1h-4v1h-6v1h-2v1h-6v1h-1v-1h-2v1h-3v1h-3v1h-4v1h-1v1h-7v1h-2v1h-3v1h-4v1h-1v1h-1v-1h-1v1h-3v1h-3v1h-4v1h-3v1h-2v1h-3v1h-4v1h-3v1h-3v1h-2v1h-4v1h-9v1h-6v-1h-7v-1h-4v-1h-1v-1h-3v-2h-1v-1h-2v-1h-1v-2h-1v-1h-1v-1h-1v-2h-1v-1h-1v-2h-1v-2h-1v-2h-1v-2h-1v-2h-1v-2h-1v-2h-1v-2h-1v-2h-1v-2h-1v-2h-1v-2h-1v-1h-1v-2h-1v-2h-1v-2h-1v-1h-1v-1h-1v-2h-1v-1h-2v-2h-1v-1h-1v-1h-1v-1h-1v-1h-1v-1h-1v-1h-1v-1h-2v-1h-1v-1h-1v-1h-1v-1h-1v-1h-1v-1h-2v-1h-1v-1h-1v-1h-2v-1h-1v-1h-1v-1h-2v-1h-1v-1h-1v-1h-2v-1h-1v-1h-2v-1h-2v-1h-2v-1h-3v-1h-2v-1h-14v-1h-3v1h-11v1h-4v1h-1v-1h-1v1h-4v1h-3v1h-4v1h-4v1h-2v1h-5v1h-18v-1h-5v-1h-3v-1h-2v-1h-2v-1h-3v-1h-1v-1h-1v-1h-2v-1h-1v-1h-1v-1h-2v-1h-1v-1h-2v-1h-1v-1h-2v-1h-1v-1h-2v-1h-1v1h-1v-1h-1v-1h-2v-1h-1v-1h-1v1h-2v-1h-1v-1h-1v-1h-2v1h-1v-1h-1v-1h-1v1h-2v-1h-1v1h-3v-1h-1v1h-1v1h-1v-2h-1v1h-4v-1h-1v-1h-2v1h-1v1h-1v-1h-11v1h-2v-1h-2v1h-7v1h-5v1h-1v-1h-1v1h-1v1h-1v-1h-2v1h-1v-1h-4v1h-1v1h-1v1h-2v-1h-4v1h-2v-1h-4v1h-4v-1h-2v1h-10v1h-1v-1h-2v-1h-1v-1h-2v-1h-2z"/>
<path fill="#008000" d="M69 91h4v1h1v1h1v1h2v-1h1v1h3v-1h3v1h6v1h1v1h1v-2h1v-1h2v1h2v-1h1v1h1v-1h1v1h4v-1h2v1h2v-1h2v-1h1v-1h1v1h4v-1h4v-1h1v-1h1v1h1v-1h1v1h5v-1h5v-1h17v-1h6v1h5v1h3v1h6v1h1v-1h2v1h2v1h2v1h2v1h3v1h1v1h2v1h1v1h2v1h1v1h2v1h1v1h1v1h1v1h1v1h2v1h2v1h2v1h1v1h3v1h3v1h2v1h8v1h2v-1h9v-1h5v-1h4v-1h3v-1h3v-1h5v-1h6v-1h6v-1h22v1h4v1h1v1h3v1h1v1h2v1h2v1h1v1h1v1h1v1h2v1h1v1h1v1h1v1h2v1h1v1h1v1h1v1h2v1h1v1h1v1h1v1h1v1h1v1h1v1h1v1h1v1h1v1h1v1h1v1h1v1h1v1h1v1h1v1h1v1h1v2h1v1h1v1h1v2h1v2h1v2h1v2h1v2h1v1h1v3h1v2h1v2h1v2h1v2h1v3h1v2h1v2h1v2h1v2h1v2h1v2h1v1h1v2h1v1h1v1h1v1h1v1h1v1h2v1h1v1h2v1h2v1h5v1h5v-1h1v1h7v-1h5v-1h4v-1h3v-1h4v-1h3v-1h2v-1h4v-1h3v-1h3v-1h2v-1h1v1h1v-1h2v-1h3v-1h2v-1h3v-1h5v-1h1v-1h3v-1h1v1h1v-1h2v-1h3v-1h5v-1h3v-1h4v-1h5v-1h5v-1h6v-2h2v1h3v-1h3v-1h2v-1h2v-1h4v-2h3v2h-2v1h-1v1h-1v-1h-1v2h-2v1h-4v1h-3v1h-3v-1h-1v1h-2v1h-6v1h-2v-1h-1v1h-2v1h-4v1h-1v-1h-2v2h-4v1h-4v1h-4v1h-2v1h-1v-1h-1v1h-3v1h-4v1h-2v1h-3v1h-4v1h-2v1h-3v1h-4v1h-2v1h-4v1h-3v1h-3v1h-3v1h-3v1h-3v1h-5v1h-19v-1h-3v-1h-2v-1h-2v-1h-1v-1h-2v-1h-1v-1h-1v-1h-1v-1h-1v-2h-1v-1h-1v-2h-1v-1h-1v-2h-1v-2h-1v-2h-1v-2h-1v-2h-1v-3h-1v-2h-1v-2h-1v-2h-1v-3h-1v-2h-1v-1h-1v-3h-1v-2h-1v-2h-1v-1h-1v-2h-1v-1h-1v-1h-1v-2h-1v-1h-1v-1h-1v-1h-1v-1h-1v-1h-1v-1h-1v-1h-1v-1h-1v-1h-1v-1h-1v-1h-1v-1h-1v-1h-1v-1h-1v-1h-1v-1h-1v-1h-2v-1h-1v-1h-1v-1h-1v-1h-2v-1h-1v-1h-1v-1h-1v-1h-2v-2h-2v-1h-2v-1h-1v-1h-2v-1h-2v-1h-2v-1h-2v-1h-27v1h-6v1h-5v1h-5v1h-2v1h-4v1h-3v1h-4v1h-14v-1h-6v-1h-3v-1h-3v-1h-2v-1h-1v-1h-2v-1h-2v-1h-2v-1h-1v-1h-1v-1h-1v-1h-1v-1h-2v-1h-1v-1h-2v-1h-1v-1h-2v-1h-2v-1h-2v-1h-3v-1h-2v-1h-7v-1h-5v-1h-2v1h-1v-1h-1v-1h-4v1h-1v-1h-3v1h-2v-1h-2v1h-2v1h-4v-1h-5v1h-2v-1h-1v1h-4v1h-3v-1h-1v1h-4v1h-4v1h-1v-1h-1v1h-2v-1h-1v1h-2v1h-2v1h-1v-1h-3v1h-2v-1h-5v1h-2v-1h-1v2h-3v-1h-6v-1h-2v1h-7v-1h-1v-1h-1v-1h-2v1h-2z"/>
<path fill="#a000a0" d="M69 114h3v1h3v1h6v-1h1v1h5v-1h3v1h6v-1h1v1h1v-1h3v-1h1v1h3v-1h6v-1h4v-1h3v-1h2v2h3v-1h1v-1h1v1h1v-1h2v-1h1v1h2v1h1v-1h4v1h1v-1h4v1h3v-1h1v-1h2v2h1v-1h2v1h3v1h1v1h1v-1h6v1h1v1h5v1h3v1h4v1h2v1h1v1h2v1h1v1h2v2h2v1h1v1h1v1h1v1h2v1h2v1h1v1h2v1h1v1h3v1h3v1h2v1h4v1h5v1h1v-1h1v1h14v-1h6v-1h5v-1h4v-1h3v-1h3v-1h6v-1h8v-1h19v1h4v1h3v1h1v1h2v1h2v1h2v1h2v1h1v1h2v1h1v1h1v1h1v1h1v1h1v1h1v1h1v1h2v1h1v1h1v1h1v1h1v1h1v1h1v1h1v1h1v1h2v1h1v1h1v1h1v2h1v1h1v1h1v1h1v1h1v1h1v2h1v1h1v2h1v2h1v2h1v1h1v2h1v2h1v2h1v3h1v2h1v2h1v2h1v3h1v2h1v2h1v2h1v2h1v2h1v1h1v2h1v1h1v1h1v1h1v1h1v2h2v1h1v1h1v1h2v1h4v1h18v-1h6v-1h2v-1h3v-1h3v-1h3v-1h3v-1h4v-1h2v-1h3v-1h4v-1h2v-1h4v-1h5v-1h3v-1h4v-1h5v-1h2v-1h2v1h1v-1h3v-1h5v1h1v-2h2v1h2v-1h5v-1h1v1h3v-1h4v-1h3v1h1v-1h4v-1h1v1h1v-1h6v-1h4v2h-5v1h-1v1h-1v-1h-3v1h-1v-1h-3v1h-6v1h-8v1h-5v1h-1v-1h-2v1h-1v1h-2v-1h-5v1h-6v1h-3v1h-5v1h-4v1h-3v1h-6v1h-2v1h-2v1h-3v1h-4v1h-3v1h-3v1h-4v1h-2v1h-2v1h-4v1h-4v1h-6v1h-1v-1h-3v1h-1v-1h-1v1h-1v-1h-1v1h-1v-1h-1v1h-1v-1h-6v-1h-3v-1h-2v-1h-1v-1h-1v-1h-2v-2h-1v-1h-1v-1h-1v-1h-1v-1h-1v-2h-1v-2h-1v-1h-1v-2h-1v-3h-1v-1h-1v-2h-1v-3h-1v-2h-1v-2h-1v-2h-1v-3h-1v-2h-1v-2h-1v-2h-1v-2h-1v-2h-1v-2h-1v-1h-1v-1h-1v-2h-1v-1h-1v-1h-1v-1h-1v-1h-1v-1h-1v-2h-1v-1h-1v-1h-1v-1h-2v-1h-1v-1h-1v-1h-1v-1h-1v-1h-1v-1h-1v-1h-1v-1h-1v-1h-2v-1h-1v-1h-1v-1h-1v-1h-1v-1h-1v-1h-1v-1h-1v-1h-2v-1h-1v-1h-2v-1h-2v-1h-2v-1h-2v-1h-1v-1h-3v-1h-11v-1h-1v1h-1v-1h-1v1h-11v1h-8v1h-5v1h-3v1h-4v1h-4v1h-3v1h-9v1h-2v-1h-13v-1h-3v-1h-1v1h-1v-1h-3v-1h-2v-1h-4v-1h-1v-1h-1v-1h-2v-1h-2v-1h-1v-1h-2v-1h-1v-1h-1v-1h-1v-1h-2v-2h-2v-1h-3v-2h-2v-1h-2v-1h-1v1h-1v-1h-3v-1h-4v-1h-2v-1h-2v-1h-1v2h-4v-1h-1v-1h-3v-1h-1v1h-1v-1h-2v-1h-1v1h-3v1h-1v-1h-13v-1h-1v2h-5v1h-2v-1h-5v1h-6v1h-4v1h-3v-1h-1v1h-2v1h-2v-1h-1v2h-2v-1h-2v-1h-1v1h-5v-1h-1v1h-2v-1h-2v1h-2v1h-2v-1h-2v-1h-1v1h-1v-1h-1v-1h-3z"/>
<path fill="#a000a0" d="M69 90h4v1h4v3h3v-1h2v1h2v1h1v-1h1v-1h7v1h1v-1h2v-1h1v1h2v-1h2v1h2v-1h5v-1h2v1h2v-1h1v1h2v-1h1v-1h5v-1h1v1h2v-1h1v1h1v-1h1v-1h1v2h1v-1h1v-1h8v-1h6v-1h2v1h1v-1h2v1h5v-1h1v1h10v1h7v1h2v1h4v1h1v1h2v1h2v1h2v1h1v1h1v1h3v1h1v1h1v1h1v1h1v1h2v1h1v1h1v1h3v1h1v1h2v1h2v1h2v1h4v1h6v1h3v-1h11v-1h4v-1h3v-1h4v-1h4v-1h4v-1h6v-1h8v-1h6v1h1v-1h4v1h1v-1h1v1h2v-1h2v1h4v1h2v1h3v1h2v1h2v1h2v1h2v1h1v1h1v1h1v1h1v1h2v1h1v1h1v1h2v1h1v1h1v1h2v1h1v1h1v1h1v1h1v1h2v2h2v1h1v1h1v1h1v1h1v1h1v1h1v1h1v1h1v2h1v1h1v1h1v2h1v1h1v2h1v2h1v2h1v1h1v3h1v2h1v2h1v1h1v2h1v2h1v2h1v1h1v1h1v2h1v1h1v1h2v1h2v1h1v1h2v1h2v1h3v2h4v1h2v1h9v1h4v-1h6v-1h3v-1h4v-1h3v-1h3v-1h2v-1h5v-1h2v-1h4v-1h2v-1h4v-1h3v-1h2v-1h5v-1h2v-1h1v1h1v-1h1v-1h3v-1h3v-1h2v-1h3v-1h1v-1h4v-1h4v-1h1v-1h3v-1h1v1h1v-1h1v-1h4v-1h1v-1h4v-1h2v-1h3v-1h4v-1h1v-1h1v-1h9v2h-9v1h-1v1h-2v1h-3v1h-3v1h-2v1h-4v1h-2v1h-3v1h-3v1h-2v1h-3v1h-4v1h-2v1h-4v1h-2v1h-2v1h-4v1h-1v1h-3v1h-5v1h-3v1h-2v1h-3v1h-4v1h-3v1h-3v1h-3v1h-4v1h-3v1h-2v1h-4v1h-2v1h-7v1h-12v-1h-4v-1h-3v-1h-3v-1h-2v-1h-1v-1h-2v-1h-2v-1h-2v-1h-1v-1h-2v-1h-1v-1h-1v-2h-1v-1h-1v-2h-1v-1h-1v-2h-1v-2h-1v-1h-1v-3h-1v-2h-1v-2h-1v-2h-1v-1h-1v-2h-1v-2h-1v-1h-1v-2h-1v-1h-1v-2h-1v-1h-1v-1h-1v-1h-1v-1h-1v-1h-1v-1h-1v-1h-1v-1h-1v-1h-1v-1h-1v-1h-2v-1h-1v-1h-1v-1h-1v-1h-2v-1h-1v-1h-1v-1h-1v-1h-2v-1h-1v-1h-1v-1h-2v-1h-1v-1h-1v-1h-1v-1h-2v-1h-1v-1h-2v-1h-2v-1h-2v-1h-3v-1h-3v-1h-21v1h-2v-1h-1v1h-6v1h-5v1h-4v1h-4v1h-3v1h-4v1h-5v1h-14v-1h-5v-1h-3v-1h-3v-1h-1v-1h-2v-1h-2v-1h-2v-1h-1v-1h-1v-1h-2v-1h-1v-1h-1v-1h-1v-1h-2v-1h-2v-1h-1v-1h-1v-1h-2v-1h-3v-1h-1v-1h-1v1h-1v-1h-1v-1h-2v-1h-7v-1h-7v1h-1v-2h-2v1h-1v-1h-1v1h-3v-1h-1v1h-1v-1h-5v1h-8v1h-1v-1h-2v1h-3v1h-4v1h-2v-1h-4v1h-4v1h-4v1h-2v-1h-2v1h-6v1h-1v-1h-5v1h-10v1h-4v-1h-6v-2h-4v-2h-3z"/>
<path fill="#a08c00" d="M69 135h1v1h3v1h1v1h2v1h2v1h4v1h3v1h1v-1h3v1h3v-1h3v1h2v-1h2v-1h1v1h2v-1h3v1h2v-1h2v-1h2v1h3v-1h1v1h2v-1h1v-1h2v1h2v-1h1v-1h1v1h5v1h1v-1h3v-1h1v1h6v-1h3v1h3v-1h2v1h4v-1h1v1h1v1h4v1h2v1h1v-1h8v1h1v-1h1v1h1v1h1v1h2v1h1v2h1v1h1v1h2v2h2v1h1v1h1v1h1v2h1v1h2v1h1v1h2v1h1v1h3v1h2v1h3v1h3v1h3v1h5v1h4v1h18v-1h4v-1h5v-1h7v-1h6v-1h12v-1h1v1h13v1h4v1h1v1h2v1h3v1h1v1h2v1h1v1h2v1h1v1h2v2h2v1h1v1h1v1h1v1h1v1h1v1h1v1h1v1h2v1h1v1h1v1h1v2h1v1h2v2h2v1h1v1h1v2h1v1h1v1h1v1h1v2h1v1h1v1h1v2h1v2h1v1h1v2h1v2h1v2h1v3h1v2h1v2h1v2h1v3h1v2h1v2h1v2h1v2h1v2h1v2h1v2h1v1h1v2h1v1h1v1h1v1h1v1h1v1h1v1h1v1h2v1h1v1h2v1h1v1h1v1h3v1h5v1h6v-1h7v-1h4v-1h3v-1h2v-1h2v-1h3v-1h3v-1h2v-1h5v-1h2v-1h2v-1h4v-1h1v1h1v-1h4v-1h2v-1h4v-1h4v-1h5v-1h3v-1h1v1h3v-1h1v1h1v-1h4v-1h4v-1h8v-1h2v-1h6v-1h7v-1h1v1h1v-1h2v-1h2v1h1v-1h6v-1h1v3h-7v1h-3v-1h-1v1h-3v1h-8v1h-1v-1h-3v1h-2v1h-2v1h-2v-1h-2v1h-3v1h-2v-1h-1v1h-3v1h-10v1h-1v1h-2v-1h-2v1h-3v1h-4v1h-3v1h-4v1h-4v1h-4v1h-2v1h-4v1h-2v1h-4v1h-2v1h-3v1h-2v1h-2v1h-4v1h-6v1h-11v-1h-4v-1h-3v-1h-1v-1h-2v-1h-1v-1h-1v-1h-2v-1h-1v-1h-1v-1h-1v-1h-1v-1h-1v-1h-1v-1h-1v-2h-1v-2h-1v-1h-1v-3h-1v-2h-1v-2h-1v-2h-1v-2h-1v-2h-1v-2h-1v-2h-1v-2h-1v-3h-1v-2h-1v-2h-1v-2h-1v-2h-1v-2h-1v-1h-1v-2h-1v-1h-1v-2h-1v-1h-1v-1h-1v-1h-1v-2h-1v-1h-1v-1h-1v-1h-2v-2h-2v-2h-1v-1h-1v-1h-1v-1h-1v-1h-1v-1h-2v-1h-1v-1h-1v-1h-1v-1h-1v-1h-1v-1h-1v-1h-2v-2h-2v-1h-1v-1h-2v-1h-1v-1h-2v-1h-2v-1h-2v-1h-2v-1h-2v-1h-3v-1h-2v1h-1v-1h-18v1h-7v1h-1v-1h-1v1h-7v1h-3v1h-4v1h-25v-1h-1v-1h-7v-1h-1v-1h-4v-1h-2v-1h-3v-1h-2v-1h-2v-1h-1v-1h-1v-1h-2v-1h-1v-2h-1v-1h-1v-1h-1v-1h-2v-2h-2v-1h-1v-1h-1v-2h-2v-1h-1v-1h-2v-1h-2v-1h-3v1h-4v1h-1v-1h-3v-1h-1v1h-1v-1h-2v-1h-5v-1h-2v1h-5v-1h-2v1h-3v-1h-1v1h-1v-1h-1v1h-9v-1h-1v1h-1v1h-1v-1h-1v1h-1v-1h-1v1h-9v1h-1v1h-4v-1h-1v1h-6v1h-1v-1h-4v1h-4v-1h-2v1h-2v-1h-2v-1h-5v-1h-2v-1h-1v-1h-1v-1h-1v-1h-1v1h-2z"/>
<path fill="#a08c00" d="M69 128h3v2h3v1h3v1h4v1h7v-2h2v1h4v-1h1v1h1v-1h1v1h2v-1h2v1h1v-1h4v-1h4v1h1v-1h6v-1h4v-1h3v1h3v-1h6v1h6v-1h1v1h3v-1h2v1h2v1h1v1h3v-1h2v1h3v1h2v-1h1v1h2v1h1v-1h2v1h2v1h5v1h2v1h2v2h2v1h1v1h1v1h1v1h1v1h1v1h1v1h1v1h2v1h1v1h1v1h2v1h1v1h3v1h1v1h2v1h4v1h3v1h2v1h6v1h8v1h2v-1h15v-1h3v-1h3v-1h9v-1h6v-1h15v1h10v1h2v1h3v1h1v1h2v1h2v1h2v1h2v1h1v1h1v1h2v1h1v1h1v1h2v1h1v1h1v1h2v1h1v1h1v1h1v1h1v1h2v1h1v1h1v1h1v1h1v1h1v1h1v1h1v1h1v1h1v1h1v1h1v1h1v1h1v2h1v1h1v2h1v1h1v2h1v2h1v2h1v2h1v1h1v2h1v2h1v2h1v2h1v1h1v2h1v1h1v2h1v1h1v2h1v1h1v1h1v1h1v1h1v1h2v1h1v1h2v1h1v1h2v1h3v1h18v-1h5v-1h3v-1h2v-1h4v-1h3v-1h2v-1h3v-1h4v-1h4v-1h2v-1h4v-1h4v-1h2v-1h6v-1h2v-1h5v-1h5v-1h7v-1h1v-1h1v1h3v-1h2v1h1v-1h5v-1h6v-1h4v-1h8v-1h4v-1h4v-1h2v2h-2v1h-3v1h-5v1h-2v-1h-1v1h-7v1h-3v1h-2v-1h-1v1h-2v1h-5v1h-4v-1h-1v1h-5v1h-1v-1h-3v1h-5v1h-1v1h-5v1h-5v1h-3v1h-5v1h-4v1h-2v1h-4v1h-3v1h-2v1h-4v1h-2v1h-5v1h-2v1h-1v1h-4v1h-8v1h-12v-1h-4v-1h-3v-1h-1v-1h-1v-1h-2v-1h-1v-1h-2v-1h-1v-1h-1v-1h-1v-1h-1v-1h-1v-2h-1v-1h-1v-2h-1v-1h-1v-2h-1v-1h-1v-2h-1v-2h-1v-2h-1v-2h-1v-2h-1v-1h-1v-2h-1v-2h-1v-2h-1v-2h-1v-1h-1v-2h-1v-1h-1v-1h-1v-1h-1v-1h-1v-1h-1v-1h-1v-1h-1v-1h-1v-1h-1v-1h-1v-1h-1v-1h-1v-1h-2v-1h-1v-1h-1v-1h-1v-1h-1v-1h-1v-1h-2v-1h-1v-1h-1v-1h-2v-1h-1v-1h-1v-1h-2v-1h-1v-1h-1v-1h-2v-1h-2v-1h-2v-1h-2v-1h-2v-1h-2v-1h-3v-1h-16v-1h-1v1h-8v1h-6v1h-1v-1h-3v1h-4v1h-3v1h-5v1h-19v-1h-6v-1h-4v-1h-3v-1h-3v-1h-3v-1h-2v-1h-2v-1h-2v-1h-1v-1h-2v-1h-1v-1h-1v-1h-2v-1h-1v-1h-1v-1h-1v-1h-1v-1h-1v-1h-1v-1h-1v-1h-2v-2h-3v-1h-1v-1h-6v-1h-2v1h-1v-1h-2v-1h-2v1h-2v-1h-3v-1h-5v-1h-3v-1h-1v1h-2v-1h-4v1h-1v-1h-1v1h-2v-1h-4v1h-2v1h-1v-1h-3v-1h-2v1h-1v1h-1v-1h-1v1h-1v1h-1v-1h-5v1h-1v-1h-5v1h-1v1h-3v-1h-2v2h-1v-1h-3v-1h-2v1h-3v-1h-1v1h-1v1h-6v-1h-4v-1h-5v-2h-4v-2h-1z"/>
<path fill="#a08c00" d="M69 79h3v2h2v1h2v1h7v1h7v1h1v-1h1v1h2v1h4v-1h3v1h2v-1h2v-1h12v-1h3v-1h5v-1h1v1h4v-1h2v-1h3v1h5v-1h2v-1h4v1h1v-1h3v1h3v-2h1v1h3v-1h1v1h8v1h1v-1h3v1h3v1h4v1h2v1h2v1h1v1h2v1h2v1h1v1h1v1h2v1h1v1h1v1h1v1h1v1h2v1h1v1h1v1h1v1h2v1h1v1h1v1h2v1h2v1h1v1h2v1h3v1h4v1h13v-1h5v-1h5v-1h3v-1h5v-1h6v-1h12v-1h5v1h1v-1h2v1h11v1h2v1h3v1h1v1h3v1h1v1h2v1h2v1h1v1h1v1h1v1h1v1h1v1h2v1h1v1h2v1h1v1h1v1h2v1h1v1h1v1h1v1h2v2h2v2h2v1h1v1h1v2h1v1h1v1h1v1h1v1h1v1h1v2h1v1h1v1h1v2h1v2h1v2h1v1h1v3h1v2h1v2h1v2h1v2h1v2h1v2h1v1h1v2h1v2h1v1h1v1h1v1h1v1h1v1h1v1h2v1h2v1h1v1h2v1h1v1h3v1h4v1h3v1h10v-1h8v-1h4v-1h2v-1h4v-1h1v-1h6v-1h2v-1h3v-1h3v-1h3v-1h4v-1h3v-1h3v-1h2v-1h2v-1h3v-1h3v-1h2v-1h3v-1h3v-1h2v-1h3v-1h4v-1h1v-1h5v-1h3v-1h4v-1h2v-1h2v-1h4v-1h1v-1h5v-1h4v-1h2v-1h1v-1h2v2h-2v2h-5v1h-3v1h-3v1h-3v1h-4v1h-2v1h-3v1h-2v1h-1v-1h-1v1h-2v1h-3v1h-2v1h-5v1h-2v1h-3v1h-3v1h-2v1h-2v1h-1v-1h-1v1h-2v1h-2v1h-3v1h-3v1h-3v1h-3v1h-4v1h-2v1h-3v1h-3v1h-4v1h-3v1h-4v1h-2v1h-3v1h-3v1h-9v1h-3v-1h-7v-1h-4v-1h-3v-1h-2v-1h-1v-1h-2v-1h-1v-1h-2v-1h-2v-1h-1v-1h-1v-1h-1v-1h-1v-1h-1v-2h-1v-1h-1v-2h-1v-2h-1v-1h-1v-2h-1v-2h-1v-2h-1v-2h-1v-3h-1v-2h-1v-1h-1v-2h-1v-2h-1v-2h-1v-1h-1v-1h-1v-2h-1v-1h-1v-1h-1v-1h-1v-2h-1v-1h-1v-1h-1v-1h-1v-1h-2v-2h-1v-1h-1v-1h-2v-1h-1v-1h-1v-1h-2v-1h-1v-1h-1v-1h-1v-1h-2v-1h-1v-1h-2v-1h-1v-1h-1v-1h-1v-1h-1v-1h-1v-1h-2v-1h-2v-1h-2v-1h-2v-1h-2v-1h-2v-1h-3v-1h-25v1h-8v1h-5v1h-4v1h-5v1h-3v1h-3v1h-2v-1h-5v1h-2v-1h-6v-1h-3v-1h-3v-1h-2v-1h-1v-1h-3v-1h-1v-1h-1v-1h-2v-1h-1v-1h-1v-1h-1v-1h-1v-1h-2v-1h-1v-1h-1v-1h-1v-1h-1v-1h-2v-1h-1v-1h-2v-1h-1v-1h-2v-1h-2v-1h-1v-1h-4v-1h-3v-1h-2v1h-1v-1h-10v-1h-1v1h-10v1h-1v-1h-1v1h-1v-2h-1v2h-1v-1h-1v1h-1v2h-1v-1h-4v-1h-1v1h-1v-1h-1v1h-3v1h-3v-1h-1v1h-5v1h-3v1h-5v1h-1v-1h-2v1h-3v-1h-1v1h-8v1h-2v-1h-3v-1h-1v1h-1v-1h-3v-1h-1v1h-3v-1h-2v1h-2v-1h-1v1h-1v-2h-3v-1h-2v-1h-2v-1h-1z"/>
<path fill="#808080" d="M69 145h1v1h2v1h1v1h3v1h2v1h4v1h2v-1h1v2h1v-1h3v1h4v1h1v-1h4v-1h2v1h1v-1h6v-1h8v-1h1v1h1v-1h4v-1h1v1h1v-1h1v-1h2v1h2v-1h3v-1h1v1h4v-1h2v1h1v1h1v-1h9v1h1v-1h1v1h2v1h2v-1h4v-1h1v1h2v1h8v1h2v1h2v2h2v1h1v1h1v1h1v1h1v1h1v1h1v1h1v1h1v1h1v1h1v2h1v1h2v1h1v1h2v1h3v1h2v1h3v1h4v1h3v1h7v1h11v1h1v-1h6v-1h1v1h1v-1h3v-1h5v-1h3v-1h5v-1h9v-1h21v1h4v1h2v1h2v1h2v1h1v1h2v1h1v1h2v1h2v1h1v1h1v1h1v1h1v1h1v1h2v1h1v1h1v1h1v1h1v1h1v1h1v1h1v1h1v1h1v1h1v1h1v1h1v1h1v1h1v1h1v1h1v1h1v1h1v2h2v2h1v2h1v1h1v2h1v2h1v1h1v2h1v2h1v2h1v2h1v3h1v2h1v2h1v3h1v2h1v2h1v2h1v1h1v3h1v1h1v2h1v2h1v1h1v1h1v2h1v1h1v1h2v1h1v1h1v1h2v1h2v1h1v1h3v1h3v1h4v1h7v-1h6v-1h3v-1h2v-1h3v-1h3v-1h3v-1h2v-1h4v-1h2v-1h3v-1h3v-1h4v-1h3v-1h3v-1h8v-1h5v-1h1v-1h6v-1h1v1h1v-1h6v-1h9v-2h8v-1h3v-1h1v1h1v-1h10v-1h5v1h1v-1h2v1h-1v1h-7v1h-1v-1h-1v1h-4v-1h-1v1h-3v1h-1v-1h-1v1h-5v1h-5v1h-3v1h-1v-1h-4v1h-4v1h-7v1h-5v1h-3v1h-4v1h-7v1h-4v1h-3v1h-4v1h-3v1h-3v1h-4v1h-2v1h-2v1h-2v1h-3v1h-4v1h-2v1h-4v1h-15v-1h-3v-1h-2v-1h-2v-1h-2v-1h-1v-1h-2v-1h-1v-1h-1v-1h-2v-1h-1v-2h-1v-1h-1v-1h-1v-2h-1v-1h-1v-2h-1v-2h-1v-2h-1v-2h-1v-1h-1v-3h-1v-2h-1v-2h-1v-2h-1v-2h-1v-3h-1v-2h-1v-2h-1v-2h-1v-2h-1v-2h-1v-1h-1v-2h-1v-2h-1v-1h-1v-2h-1v-1h-1v-1h-1v-1h-1v-1h-1v-1h-1v-1h-1v-1h-1v-1h-1v-1h-1v-1h-1v-1h-1v-1h-1v-1h-1v-1h-1v-1h-1v-1h-1v-1h-1v-1h-1v-1h-1v-1h-2v-1h-1v-1h-1v-1h-1v-1h-1v-1h-1v-1h-2v-1h-2v-1h-1v-1h-2v-1h-1v-1h-2v-1h-2v-1h-3v-1h-3v-1h-1v1h-3v-1h-10v1h-1v-1h-1v1h-8v1h-7v1h-5v1h-3v1h-4v1h-8v1h-6v-1h-3v1h-1v-1h-7v-1h-5v-1h-4v-1h-4v-1h-2v-1h-3v-1h-2v-1h-2v-1h-1v-1h-2v-1h-1v-1h-1v-2h-1v-1h-1v-1h-1v-1h-1v-1h-1v-1h-1v-1h-2v-2h-1v-1h-2v-1h-1v-1h-1v-1h-3v-1h-1v1h-2v-1h-2v1h-1v-1h-6v1h-3v-1h-2v-1h-1v1h-2v-1h-1v-1h-1v1h-1v-1h-1v1h-1v-1h-1v1h-1v1h-2v-1h-2v-1h-1v1h-9v1h-2v-1h-1v1h-5v1h-5v1h-7v1h-3v-1h-1v1h-1v1h-2v-1h-1v1h-6v1h-1v-1h-4v-1h-5v-1h-2v-1h-5v-1h-1v-1h-3v-1h-2v-1h-1z"/>
<path fill="#00be28" d="M69 126h1v1h1v1h4v1h2v1h3v1h4v1h1v1h1v-1h3v-1h6v-1h2v1h1v-1h6v-1h1v1h3v-1h6v-2h1v2h3v-1h6v-1h2v-1h1v1h1v-1h1v1h9v-1h1v1h2v1h1v-1h2v-1h2v1h1v1h3v1h3v1h4v1h4v1h1v-1h6v1h5v1h2v2h1v1h2v1h1v1h2v2h1v1h1v1h1v1h1v1h1v1h1v1h1v1h2v1h1v1h2v1h1v1h3v1h2v1h4v1h3v1h4v1h6v1h17v-1h4v-1h6v-1h4v-1h10v-1h6v-1h1v1h1v-1h3v1h15v1h3v1h2v1h2v1h1v1h2v1h1v1h2v1h1v1h2v1h1v1h1v1h1v1h1v1h1v1h1v1h1v1h1v1h1v1h1v1h1v1h1v1h1v1h1v1h1v1h1v1h1v1h1v1h1v1h1v1h1v1h1v2h1v1h1v1h1v1h1v2h1v1h1v2h1v1h1v2h1v2h1v2h1v2h1v2h1v2h1v3h1v2h1v2h1v3h1v2h1v3h1v2h1v2h1v2h1v3h1v1h1v2h1v2h1v2h1v1h1v1h1v1h1v1h1v2h1v1h1v1h2v1h1v1h1v1h2v1h3v1h2v1h13v-1h5v-1h4v-1h3v-1h2v-1h1v-1h3v-1h3v-1h2v-1h4v-1h3v-1h4v-1h4v-1h2v-1h3v-1h6v-1h1v1h1v-1h1v-1h5v-1h7v-1h6v-1h2v-1h3v1h3v-1h1v-1h2v1h1v-1h3v-1h1v1h2v-1h1v-1h8v-1h2v1h2v-1h4v-1h5v3h-1v-1h-2v-1h-1v1h-1v1h-5v1h-2v-1h-2v1h-5v-1h-1v2h-5v1h-3v1h-2v-1h-1v1h-1v1h-3v-1h-4v1h-4v1h-2v1h-3v-1h-3v1h-4v1h-3v1h-3v1h-1v-1h-4v1h-2v1h-3v1h-3v1h-5v1h-3v1h-2v1h-4v1h-3v1h-2v1h-2v1h-2v1h-2v1h-2v1h-6v1h-4v1h-2v-1h-2v1h-4v-1h-5v-1h-2v-1h-3v-1h-2v-1h-1v-1h-1v-1h-2v-1h-1v-1h-1v-2h-1v-1h-1v-1h-1v-1h-1v-1h-1v-2h-1v-2h-1v-2h-1v-2h-1v-2h-1v-2h-1v-3h-1v-1h-1v-3h-1v-2h-1v-3h-1v-2h-1v-2h-1v-3h-1v-2h-1v-3h-1v-1h-1v-2h-1v-2h-1v-2h-1v-2h-1v-1h-1v-2h-1v-1h-1v-1h-1v-1h-1v-1h-1v-2h-1v-1h-1v-1h-1v-1h-1v-1h-1v-1h-1v-1h-1v-1h-1v-1h-1v-1h-1v-1h-1v-1h-1v-1h-1v-1h-1v-1h-1v-1h-1v-1h-1v-1h-1v-1h-1v-1h-1v-1h-1v-1h-1v-1h-2v-1h-1v-1h-2v-1h-1v-1h-2v-1h-1v-1h-2v-1h-2v-1h-5v-1h-19v1h-1v-1h-2v1h-6v1h-1v-1h-1v1h-6v1h-3v1h-6v1h-11v1h-1v-1h-12v-1h-4v-1h-4v-1h-2v-1h-3v-1h-3v-1h-2v-1h-1v-1h-2v-1h-1v-1h-2v-1h-1v-1h-1v-1h-1v-2h-2v-1h-1v-2h-1v-1h-3v-2h-2v-2h-2v-1h-1v-1h-1v1h-2v1h-1v-1h-1v-1h-5v1h-2v-1h-3v-1h-4v-1h-2v-1h-1v1h-2v-1h-1v-1h-2v-1h-2v1h-10v-1h-2v1h-7v1h-1v-1h-2v1h-4v1h-2v-1h-2v1h-4v1h-4v-1h-3v1h-1v1h-2v-1h-4v1h-6v1h-3v1h-2v-1h-1v-2h-1v1h-2v-1h-4v-1h-1v-1h-2v1h-2v-1h-1v-2h-1z"/>
<path fill="#00be28" d="M69 126h1v1h1v1h1v-1h1v1h1v1h2v1h1v-1h1v1h2v-1h1v2h5v-1h5v1h1v-1h4v-1h5v-1h1v1h1v-1h1v1h4v-1h7v-1h1v1h1v-1h3v-1h2v1h1v-1h1v1h2v-3h2v2h12v1h3v-1h1v1h2v-1h1v1h2v1h1v-1h2v1h3v1h5v1h5v1h1v-1h2v1h1v-1h1v1h2v2h1v-1h1v1h1v1h2v2h1v1h1v1h2v1h1v2h2v1h1v1h1v1h1v1h1v1h2v1h1v1h2v1h2v1h2v1h3v1h3v1h3v1h4v1h6v1h15v-1h7v-1h3v-1h5v-1h9v-1h6v-1h1v1h1v-1h1v1h1v-1h2v1h1v-1h7v1h9v1h3v1h2v1h2v1h1v1h2v1h2v1h2v1h1v1h1v1h2v1h1v1h1v1h1v1h1v1h2v1h1v1h1v1h2v1h1v2h2v1h1v1h1v1h1v1h1v1h1v1h2v1h1v2h1v1h1v1h1v1h1v1h1v1h1v2h1v1h1v2h1v2h1v1h1v2h1v2h1v2h1v2h1v2h1v2h1v2h1v2h1v2h1v1h1v3h1v1h1v2h1v1h1v2h1v1h1v1h1v1h2v1h1v1h1v1h1v1h2v1h2v1h3v1h7v1h5v-1h1v1h3v-1h3v-1h6v-1h3v-1h2v-1h2v-1h3v-1h2v-1h3v-1h5v-1h3v-1h2v-1h5v-1h3v-1h3v-1h4v-1h2v-1h6v-1h7v-1h2v-1h1v1h1v-1h2v1h1v-1h4v-1h7v-1h6v-1h2v1h1v-1h5v-1h4v-1h3v1h2v-1h3v-1h2v2h-3v1h-9v1h-2v1h-3v-1h-1v1h-3v1h-1v-1h-2v1h-3v1h-2v-1h-3v1h-6v1h-6v1h-6v1h-5v1h-5v1h-3v1h-3v1h-4v1h-3v1h-2v1h-4v1h-6v1h-2v1h-3v1h-3v1h-1v1h-3v1h-3v1h-3v1h-6v1h-14v-1h-4v-1h-3v-1h-2v-1h-2v-1h-1v-1h-1v-1h-1v-1h-2v-1h-1v-1h-1v-2h-1v-1h-1v-2h-1v-1h-1v-2h-1v-2h-1v-1h-1v-3h-1v-1h-1v-2h-1v-2h-1v-2h-1v-2h-1v-2h-1v-2h-1v-2h-1v-2h-1v-1h-1v-2h-1v-1h-1v-2h-1v-1h-1v-1h-1v-1h-1v-1h-1v-2h-1v-1h-1v-1h-2v-1h-1v-1h-1v-1h-1v-1h-1v-1h-1v-1h-2v-2h-1v-1h-2v-1h-1v-1h-1v-1h-2v-1h-1v-1h-1v-1h-1v-1h-1v-1h-2v-1h-1v-1h-2v-1h-1v-1h-2v-1h-2v-1h-1v-1h-3v-1h-2v-1h-2v-1h-25v1h-9v1h-5v1h-4v1h-4v1h-7v1h-1v-1h-16v-1h-3v-1h-5v-1h-2v-1h-4v-1h-2v-1h-2v-1h-2v-1h-2v-1h-1v-1h-2v-1h-1v-1h-1v-1h-1v-1h-1v-1h-2v-2h-2v-1h-1v-1h-1v-1h-1v-2h-2v-1h-3v-2h-3v1h-4v-1h-3v-1h-4v1h-1v-1h-2v-1h-2v-1h-5v-1h-1v1h-2v-1h-2v2h-1v-2h-6v-1h-1v1h-2v-1h-5v1h-1v1h-6v1h-1v-1h-1v1h-2v-1h-2v1h-6v1h-6v-1h-1v1h-3v1h-1v-1h-2v1h-2v1h-2v-1h-4v1h-4v-1h-1v1h-1v-1h-5v-1h-2v-1h-1v-1h-3v-1h-1z"/>
<path fill="#ff00ff" d="M69 97h1v1h3v1h2v1h2v1h1v-2h1v2h7v-1h2v-1h1v1h2v-1h1v1h1v1h1v-2h1v1h1v-1h4v-1h1v1h6v-1h2v1h2v-1h9v-1h2v-1h2v-1h3v-1h1v2h5v-1h3v-1h4v-1h1v1h5v1h4v-1h8v1h4v1h6v1h3v1h3v1h3v1h2v1h3v1h1v1h1v1h2v1h2v1h1v1h1v1h2v1h1v1h1v1h2v1h1v1h2v1h2v1h2v1h3v1h4v1h5v1h12v-1h5v-1h1v1h1v-1h3v-1h3v-1h3v-1h4v-1h4v-1h5v-1h8v-1h11v1h1v-1h2v1h9v1h2v1h2v1h2v1h2v1h2v1h1v1h1v1h2v1h1v1h1v1h1v1h1v1h1v1h1v1h2v1h1v1h1v1h1v1h1v1h1v1h1v1h2v2h2v1h1v1h1v1h1v2h1v1h1v1h1v1h1v1h1v1h1v1h1v2h1v1h1v1h1v2h1v2h1v2h1v2h1v2h1v2h1v2h1v2h1v2h1v3h1v2h1v2h1v2h1v3h1v2h1v2h1v2h1v2h1v1h1v2h1v1h1v1h1v1h1v1h1v1h1v1h1v1h2v1h2v1h7v1h12v-1h7v-1h3v-1h2v-1h3v-1h3v-1h3v-1h4v-1h3v-1h2v-1h4v-1h3v-1h4v-1h2v-1h3v-1h3v-1h4v-1h4v-1h5v-1h1v-1h2v1h2v-1h4v-1h3v-1h1v1h1v-1h6v-1h1v1h1v-1h5v-1h3v-1h4v-1h1v1h1v-1h3v-1h1v-1h1v-1h5v1h-1v1h-4v1h-1v1h-1v1h-5v1h-3v-1h-1v3h-2v-1h-1v1h-11v1h-5v1h-3v1h-4v1h-1v-1h-2v1h-3v1h-5v1h-2v1h-5v1h-4v1h-2v1h-4v1h-1v1h-1v-1h-1v1h-2v1h-4v1h-2v1h-4v1h-2v1h-5v1h-3v1h-2v1h-1v1h-6v1h-13v1h-1v-1h-8v-1h-2v-1h-2v-1h-2v-1h-1v-1h-1v-1h-1v-1h-1v-1h-1v-1h-1v-2h-1v-1h-1v-1h-1v-2h-1v-2h-1v-2h-1v-2h-1v-3h-1v-2h-1v-2h-1v-2h-1v-3h-1v-2h-1v-2h-1v-2h-1v-3h-1v-2h-1v-2h-1v-1h-1v-2h-1v-2h-1v-1h-1v-1h-1v-2h-1v-1h-1v-1h-1v-1h-1v-1h-1v-1h-1v-1h-1v-2h-1v-1h-1v-1h-1v-1h-2v-2h-2v-1h-1v-1h-1v-1h-1v-1h-1v-1h-1v-1h-1v-1h-2v-1h-1v-1h-1v-1h-1v-1h-1v-1h-1v-1h-1v-1h-2v-1h-1v-1h-1v-1h-2v-1h-2v-1h-2v-1h-3v-1h-2v-1h-27v1h-4v1h-6v1h-4v1h-2v1h-3v1h-4v1h-3v1h-19v-1h-6v-1h-3v-1h-2v-1h-3v-1h-1v-1h-2v-1h-1v-1h-2v-1h-1v-1h-1v-1h-2v-1h-1v-1h-1v-1h-2v-1h-2v-1h-1v-1h-3v-1h-1v-1h-3v-1h-1v1h-1v-1h-2v-1h-4v-1h-5v-1h-2v-1h-10v1h-2v-1h-4v1h-2v-1h-1v-1h-1v2h-1v-1h-2v1h-2v1h-1v-1h-3v1h-3v-1h-4v1h-2v1h-2v1h-13v1h-11v1h-4v-1h-1v1h-2v-1h-1v1h-1v1h-1v-1h-1v1h-1v1h-1v-1h-6v-1h-3v-1h-1v-1h-4z"/>
<path fill="#ff00ff" d="M69 77h1v1h1v1h1v1h2v2h4v1h4v1h3v-1h3v1h3v1h5v1h2v-1h5v-1h1v1h1v-1h2v1h4v-1h4v-2h1v1h4v-1h7v-1h5v-1h2v-1h3v1h4v-1h7v-1h2v1h4v-1h12v1h1v-1h4v1h3v1h1v1h4v1h2v1h1v1h1v1h2v1h1v1h2v1h1v1h1v1h2v1h1v1h1v1h1v1h1v1h1v1h2v1h1v1h2v1h1v1h2v1h1v1h2v1h1v1h2v1h3v1h6v1h1v-1h4v1h2v-1h1v1h1v-1h5v-1h3v-1h5v-1h3v-1h7v-1h9v-1h21v1h4v1h3v1h1v1h3v1h1v1h2v1h2v1h1v1h1v1h2v1h1v1h1v1h1v1h2v1h1v1h1v1h1v1h2v1h1v1h1v1h2v1h1v1h1v1h1v1h1v1h2v2h1v1h2v2h2v2h1v1h1v1h1v2h1v1h1v2h1v1h1v2h1v2h1v1h1v3h1v2h1v2h1v2h1v2h1v1h1v2h1v2h1v1h1v2h1v1h1v1h1v1h2v1h1v1h2v1h2v1h2v1h1v1h2v1h1v1h4v1h6v1h5v-1h1v1h4v-1h1v1h1v-1h4v-1h4v-1h2v-1h3v-1h5v-1h3v-1h3v-1h2v-1h4v-1h2v-1h5v-1h2v-1h3v-1h2v-1h4v-1h4v-1h1v-1h4v-1h1v-1h3v-1h3v-1h2v-2h5v-1h2v-1h2v1h1v-1h1v-1h2v-1h3v-1h2v-1h5v-1h2v-1h3v-1h2v-1h2v-1h2v1h1v-1h4v1h-3v1h-1v1h-2v-1h-2v1h-2v1h-1v1h-4v1h-2v1h-5v1h-1v1h-3v1h-2v1h-3v1h-3v1h-1v-1h-1v1h-2v1h-1v1h-4v1h-2v1h-2v1h-3v1h-2v1h-2v1h-3v1h-5v1h-1v1h-4v1h-2v1h-1v-1h-1v1h-3v1h-3v1h-2v1h-3v1h-4v1h-4v1h-2v1h-3v1h-3v1h-4v1h-18v-1h-5v-1h-3v-1h-2v-1h-1v-1h-1v-1h-2v-1h-2v-1h-2v-1h-1v-1h-2v-1h-1v-1h-1v-2h-1v-1h-1v-1h-1v-2h-1v-2h-1v-2h-1v-1h-1v-2h-1v-2h-1v-3h-1v-2h-1v-2h-1v-1h-1v-2h-1v-2h-1v-1h-1v-2h-1v-1h-1v-1h-1v-2h-1v-1h-1v-1h-1v-1h-2v-2h-1v-1h-2v-1h-1v-1h-1v-1h-1v-1h-1v-1h-2v-1h-1v-1h-1v-1h-2v-1h-1v-1h-1v-1h-1v-1h-2v-1h-1v-1h-1v-1h-1v-1h-2v-1h-1v-1h-1v-1h-2v-1h-2v-1h-1v-1h-3v-1h-1v-1h-3v-1h-8v-1h-2v1h-3v-1h-6v1h-13v1h-5v1h-5v1h-4v1h-4v1h-4v1h-15v-1h-4v-1h-2v-1h-2v-1h-1v-1h-2v-1h-1v-1h-2v-1h-1v-1h-2v-1h-1v-1h-2v-1h-1v-1h-1v-1h-1v-1h-1v-1h-1v-1h-2v-1h-1v-1h-1v-1h-2v-1h-1v-1h-2v-1h-1v-1h-1v-1h-5v-1h-1v-1h-4v-1h-2v1h-2v-1h-7v-1h-1v1h-4v1h-5v-1h-1v1h-1v-1h-1v1h-4v1h-2v1h-2v-1h-1v-1h-1v1h-4v1h-3v1h-9v1h-2v1h-1v-1h-3v1h-2v1h-2v-1h-2v2h-1v-2h-5v1h-3v1h-3v-1h-1v-1h-1v1h-2v-1h-4v-1h-1v1h-2v-1h-6v-1h-5v-1h-1v-1h-1v-1h-1v-1h-1v-1h-1z"/>
<path fill="#283ca0" d="M69 123h1v1h3v1h1v1h1v-1h2v1h1v-1h1v1h2v-1h4v1h1v-1h1v1h2v-1h1v1h2v-1h1v1h1v1h1v-1h2v-1h3v1h2v-2h4v-1h2v1h1v-1h9v-1h1v-1h1v1h2v-1h3v1h1v-1h1v1h11v-1h4v1h1v-1h1v1h1v-1h1v1h2v1h1v-1h2v1h1v1h2v1h1v-1h2v1h9v1h1v1h1v-1h2v1h3v1h1v1h2v1h2v1h1v1h1v1h1v1h1v1h1v1h1v1h1v1h1v1h1v1h2v1h1v1h2v1h1v1h3v1h2v1h3v1h3v1h3v1h8v1h2v-1h3v1h9v-1h7v-1h3v-1h5v-1h4v-1h6v-1h6v-1h2v1h2v-1h17v1h4v1h4v1h1v1h2v1h2v1h2v1h2v1h1v1h1v1h1v1h2v1h1v1h1v1h1v1h2v1h1v1h1v1h1v1h2v1h1v1h1v1h1v1h1v1h1v1h2v1h1v1h1v1h1v1h1v1h1v1h1v2h1v1h1v1h1v1h1v2h1v2h1v1h1v2h1v2h1v1h1v2h1v3h1v1h1v3h1v2h1v2h1v2h1v2h1v1h1v2h1v2h1v2h1v1h1v1h1v1h1v2h1v1h1v1h1v1h2v1h1v1h2v1h4v1h5v1h1v-1h1v1h2v-1h1v1h3v-1h5v-1h6v-1h4v-1h2v-1h3v-1h3v-1h4v-1h2v-1h3v-1h4v-1h3v-1h1v1h1v-1h3v-1h3v-1h4v-1h1v-1h5v-1h2v1h2v-1h3v-1h6v-1h1v1h1v-1h2v-1h1v1h3v-1h4v-1h4v-1h10v-1h8v-1h1v1h1v-1h2v-1h5v1h-1v1h-5v2h-9v1h-1v-1h-6v1h-6v1h-4v1h-4v1h-8v1h-3v-1h-1v1h-2v1h-6v1h-5v1h-3v1h-4v1h-3v1h-5v1h-1v1h-6v1h-1v1h-4v1h-3v1h-3v1h-3v1h-2v1h-4v1h-6v1h-15v-1h-5v-1h-2v-1h-2v-1h-1v-1h-2v-1h-1v-1h-1v-1h-1v-2h-1v-1h-1v-1h-1v-2h-1v-1h-1v-2h-1v-2h-1v-1h-1v-2h-1v-3h-1v-1h-1v-2h-1v-3h-1v-2h-1v-2h-1v-2h-1v-2h-1v-1h-1v-2h-1v-2h-1v-1h-1v-2h-1v-1h-1v-1h-1v-1h-1v-2h-1v-1h-1v-1h-1v-1h-1v-1h-1v-1h-1v-1h-2v-1h-1v-1h-1v-1h-1v-1h-1v-1h-1v-1h-2v-1h-1v-1h-1v-1h-1v-1h-2v-1h-1v-1h-1v-1h-1v-1h-2v-1h-1v-1h-1v-1h-1v-1h-2v-1h-2v-1h-2v-1h-2v-1h-1v-1h-4v-1h-14v-1h-3v1h-10v1h-6v1h-4v1h-6v1h-4v1h-5v1h-19v-1h-8v-1h-3v-1h-3v-1h-3v-1h-1v-1h-3v-1h-2v-1h-1v-1h-1v-1h-2v-1h-1v-1h-1v-1h-1v-1h-1v-1h-1v-1h-1v-1h-1v-1h-1v-1h-1v-1h-2v-1h-2v-1h-2v-1h-5v-1h-2v-1h-1v1h-4v1h-1v-2h-5v-1h-4v-1h-2v-1h-7v1h-1v-1h-1v2h-1v-1h-1v-1h-2v1h-6v-1h-6v1h-1v-1h-2v1h-1v1h-6v1h-1v-1h-4v1h-4v1h-7v1h-3v-1h-1v1h-2v-1h-2v2h-1v-2h-7v1h-2v-1h-3v1h-1v-1h-1v-1h-1v-1h-3z"/>
<path fill="#8caa00" d="M69 116h2v1h2v1h1v-1h2v1h2v1h7v-1h6v-1h4v-1h1v1h3v-1h2v1h5v-1h7v-1h4v1h4v-1h5v-1h9v-1h4v1h1v-1h3v1h4v1h3v1h2v1h1v-1h1v1h2v1h1v-1h7v1h4v1h4v1h2v1h1v1h2v2h3v2h2v1h1v1h1v1h2v1h1v1h1v1h2v1h1v1h2v1h1v1h2v1h4v1h2v1h3v1h8v1h17v-1h5v-1h4v-1h3v-1h3v-1h6v-1h4v-1h11v-1h2v1h1v-1h6v1h1v-1h1v1h1v-1h2v1h5v1h3v1h2v1h2v1h2v1h2v1h1v1h2v1h1v1h1v1h1v1h1v1h2v1h1v1h1v1h1v1h1v1h2v1h1v1h1v1h1v1h1v1h1v1h1v1h2v1h1v2h1v1h1v1h2v2h1v1h1v1h1v1h1v1h1v2h1v1h1v2h1v2h1v1h1v2h1v2h1v2h1v2h1v3h1v2h1v2h1v2h1v3h1v2h1v2h1v2h1v2h1v2h1v1h1v2h1v1h1v1h1v1h1v1h1v2h2v1h1v1h2v1h2v1h3v1h14v-1h7v-1h5v-1h3v-1h2v-1h3v-1h3v-1h3v-1h4v-1h4v-1h2v-1h4v-1h3v-1h3v-1h2v1h1v-1h2v-1h5v-1h3v-1h7v-1h6v-1h3v-1h1v1h2v-1h1v1h1v-1h3v-1h3v1h1v-1h3v-1h1v1h2v-1h5v-1h1v1h1v-1h2v1h1v-1h3v-1h5v1h-2v1h-3v1h-3v1h-1v-1h-5v1h-1v-1h-1v1h-1v1h-7v1h-10v1h-1v-1h-3v1h-3v1h-6v1h-6v1h-4v1h-4v1h-5v1h-3v1h-5v1h-2v1h-3v1h-3v1h-4v1h-3v1h-3v1h-3v1h-3v1h-1v1h-1v-1h-1v1h-5v1h-7v1h-7v-1h-1v1h-3v-1h-3v-1h-2v-1h-3v-1h-1v-1h-1v-1h-2v-2h-1v-1h-1v-1h-1v-1h-1v-1h-1v-2h-1v-2h-1v-1h-1v-2h-1v-2h-1v-2h-1v-2h-1v-3h-1v-2h-1v-2h-1v-3h-1v-2h-1v-2h-1v-2h-1v-2h-1v-2h-1v-2h-1v-1h-1v-2h-1v-1h-1v-2h-1v-1h-1v-1h-1v-1h-1v-1h-1v-2h-2v-1h-1v-2h-1v-1h-1v-1h-2v-1h-1v-1h-1v-1h-1v-1h-1v-1h-1v-1h-1v-1h-2v-1h-1v-1h-1v-1h-1v-1h-1v-1h-2v-1h-1v-1h-1v-1h-1v-1h-1v-1h-2v-1h-1v-1h-2v-1h-2v-1h-2v-1h-2v-1h-3v-1h-25v1h-5v1h-6v1h-3v1h-4v1h-3v1h-6v1h-23v-1h-6v-1h-2v-1h-4v-1h-2v-1h-2v-1h-1v-1h-2v-1h-1v-1h-2v-1h-1v-1h-1v-1h-2v-1h-1v-1h-1v-1h-1v-1h-1v-1h-3v-2h-2v-1h-2v-1h-2v-1h-1v1h-1v-1h-4v-1h-3v-1h-1v2h-2v-1h-3v-1h-2v1h-2v-2h-4v-1h-2v-1h-4v1h-2v-1h-4v1h-4v1h-1v-1h-5v1h-2v-1h-1v1h-2v1h-2v-1h-4v1h-2v1h-2v-1h-2v-1h-1v1h-1v1h-5v-1h-1v1h-1v-1h-1v1h-2v-1h-1v1h-1v-1h-1v2h-5v1h-8v-1h-3v-1h-1v1h-4v-2h-3z"/>
<path fill="#8caa00" d="M69 103h1v1h4v1h3v1h3v-1h2v-1h4v1h3v-1h1v1h6v-2h2v2h3v-1h2v-1h1v1h4v1h1v-1h2v-1h8v-1h6v-2h5v1h1v-1h2v1h2v-2h3v1h1v1h1v-1h5v-1h1v1h2v-1h4v1h2v1h2v1h1v-1h7v1h4v1h3v1h4v1h2v1h1v1h2v1h2v1h1v1h2v1h1v1h1v1h2v1h1v1h2v1h1v1h2v1h1v1h2v1h2v1h2v1h2v1h3v1h7v1h10v-1h8v-1h5v-1h3v-1h4v-1h4v-1h4v-1h6v-1h5v-1h1v1h5v-1h2v1h6v-1h2v1h3v-1h1v1h3v1h3v1h3v1h2v1h2v1h2v1h1v1h2v1h2v1h1v1h1v1h2v1h1v1h2v1h1v1h1v1h2v1h1v1h2v1h1v1h1v1h1v1h1v1h1v1h2v1h1v1h1v1h1v1h1v1h1v1h1v2h1v1h1v1h1v1h1v2h1v2h1v2h1v1h1v2h1v2h1v2h1v2h1v2h1v1h1v2h1v2h1v2h1v1h1v1h1v2h1v1h1v1h1v1h1v1h1v1h1v1h2v1h1v1h2v1h3v1h3v1h1v-1h3v1h12v-1h6v-1h2v-1h3v-1h4v-1h3v-1h5v-1h2v-1h3v-1h4v-1h3v-1h3v-1h2v-1h4v-1h2v-1h3v-1h2v-1h3v-1h3v-1h1v1h2v-1h1v1h1v-2h3v-1h2v1h1v-1h1v-1h4v-1h4v-1h1v1h1v-1h1v-1h3v1h3v-1h2v-1h4v-2h3v-1h5v-1h3v-1h1v-1h1v-1h1v1h1v2h-3v1h-1v1h-3v1h-5v1h-2v1h-1v1h-4v1h-8v1h-1v1h-6v1h-1v-1h-1v1h-2v1h-5v1h-1v1h-5v1h-6v1h-2v1h-2v1h-2v1h-3v1h-3v1h-4v1h-2v1h-3v1h-3v1h-3v1h-5v1h-4v1h-1v1h-4v1h-4v1h-3v1h-8v1h-6v-1h-7v-1h-4v-1h-2v-1h-2v-1h-1v-1h-2v-1h-1v-1h-1v-1h-1v-1h-1v-1h-1v-1h-1v-2h-1v-1h-1v-2h-1v-1h-1v-2h-1v-2h-1v-2h-1v-1h-1v-2h-1v-2h-1v-2h-1v-2h-1v-2h-1v-1h-1v-2h-1v-2h-1v-1h-1v-1h-1v-2h-1v-1h-1v-1h-1v-1h-1v-1h-1v-1h-1v-1h-1v-1h-2v-1h-1v-1h-1v-1h-1v-1h-1v-1h-1v-1h-2v-1h-1v-1h-2v-1h-1v-1h-1v-1h-2v-1h-2v-1h-1v-1h-1v-1h-1v-1h-2v-1h-2v-1h-1v-1h-2v-1h-2v-1h-3v-1h-2v-1h-4v-1h-24v1h-5v1h-6v1h-3v1h-4v1h-4v1h-4v1h-5v1h-18v-1h-5v-1h-3v-1h-2v-1h-3v-1h-2v-1h-1v-1h-1v-1h-2v-1h-1v-1h-2v-1h-1v-1h-2v-1h-1v-1h-1v-1h-2v-1h-2v-1h-1v-1h-2v-1h-2v-1h-4v-1h-3v-1h-4v-1h-1v1h-2v-2h-1v1h-3v1h-1v-1h-3v-1h-1v-1h-4v1h-2v-1h-1v1h-7v-1h-2v1h-1v1h-1v-1h-6v1h-3v1h-1v-1h-2v2h-1v-1h-3v1h-8v1h-1v1h-2v-1h-6v1h-1v-1h-5v1h-5v-1h-1v1h-1v1h-1v-2h-3v1h-4v1h-4v-1h-2v-1h-3v-1h-2z"/>
<path fill="#eb008c" d="M69 123h2v2h3v1h2v-1h1v1h1v1h3v-1h2v1h1v-1h4v1h6v-1h1v1h1v-1h2v1h3v-1h2v-1h6v1h1v-1h2v-1h2v1h2v-1h1v1h4v-1h3v-1h3v-1h1v1h6v-1h1v1h6v-1h4v2h1v1h1v-1h2v1h3v-1h1v1h3v1h1v-1h2v2h1v1h1v-1h4v-1h2v1h1v1h1v-1h2v1h2v1h1v1h1v1h2v1h1v1h2v1h1v1h1v1h1v1h1v1h1v1h1v1h1v1h1v1h2v1h2v1h1v1h2v1h2v1h2v1h3v1h5v1h5v1h20v-1h7v-1h3v-1h2v-1h6v-1h7v-1h25v1h4v1h3v1h2v1h2v1h2v1h2v1h1v1h2v1h1v1h1v1h2v1h1v1h2v1h1v1h1v1h2v1h1v1h1v1h1v1h2v1h1v1h1v1h1v1h1v1h2v1h1v1h1v1h1v1h1v1h1v1h1v1h1v1h1v2h1v1h1v2h1v1h1v2h1v2h1v2h1v2h1v1h1v2h1v2h1v2h1v2h1v1h1v2h1v2h1v1h1v1h1v2h1v1h1v1h1v1h1v1h1v1h2v1h1v1h2v1h2v1h7v1h3v-1h1v1h8v-1h5v-1h4v-1h4v-1h2v-1h3v-1h4v-1h3v-1h3v-1h4v-1h3v-1h2v-1h5v-1h2v-1h5v-1h4v-1h5v-1h7v-1h4v-1h1v1h1v-1h1v1h1v-1h2v-1h3v1h1v-1h1v-1h2v1h2v-1h2v-1h1v1h2v-1h1v1h1v-1h8v-1h1v-1h7v-1h3v3h-1v-1h-2v1h-1v-1h-2v1h-4v1h-1v1h-8v1h-1v-1h-1v1h-2v-1h-2v1h-5v1h-6v1h-7v1h-4v1h-7v1h-5v1h-4v1h-4v1h-2v1h-4v1h-2v1h-3v1h-6v1h-3v1h-3v1h-3v1h-3v1h-3v1h-4v1h-4v1h-18v-1h-5v-1h-2v-1h-2v-1h-1v-1h-2v-1h-1v-1h-1v-1h-1v-1h-1v-2h-1v-1h-1v-1h-1v-1h-1v-2h-1v-2h-1v-2h-1v-1h-1v-2h-1v-2h-1v-2h-1v-2h-1v-2h-1v-1h-1v-2h-1v-2h-1v-1h-1v-2h-1v-1h-1v-2h-1v-1h-1v-1h-1v-1h-1v-1h-1v-1h-1v-1h-1v-1h-1v-1h-1v-1h-2v-1h-1v-1h-1v-1h-1v-1h-2v-1h-1v-1h-1v-1h-1v-1h-2v-1h-1v-1h-1v-1h-2v-1h-1v-1h-2v-1h-1v-1h-1v-1h-2v-1h-1v-1h-2v-1h-2v-1h-2v-1h-3v-1h-3v-1h-8v-1h-10v1h-11v1h-7v1h-4v1h-4v1h-5v1h-13v1h-3v-1h-1v1h-3v-1h-6v-1h-5v-1h-4v-1h-2v-1h-2v-1h-2v-1h-2v-1h-1v-1h-2v-1h-2v-1h-1v-1h-1v-1h-1v-1h-1v-1h-1v-1h-1v-1h-1v-1h-2v-1h-1v-1h-2v-1h-1v-1h-1v-1h-1v-1h-1v1h-1v-1h-3v-1h-3v1h-3v1h-2v-2h-1v-1h-1v1h-1v-1h-2v-1h-9v-1h-1v-1h-3v1h-13v-1h-1v1h-1v1h-1v-1h-1v1h-1v-1h-1v1h-2v1h-5v-1h-2v1h-3v1h-1v-1h-2v1h-2v-1h-3v1h-1v1h-2v-1h-3v1h-1v-1h-1v1h-2v-1h-3v1h-1v-1h-4v1h-2v-1h-1v1h-2v1h-1v-2h-1v-1h-3v1h-1v-1h-2v-1h-1v-1h-1z"/>
<path fill="#a000ff" d="M69 135h2v1h3v1h1v1h1v-1h1v1h1v-1h1v2h1v-1h1v1h2v1h2v-1h1v2h2v1h1v-1h1v-1h2v1h3v-1h2v-1h2v1h5v-2h2v1h2v-1h1v1h1v-1h5v1h1v-1h3v1h1v-1h4v-1h3v-1h6v-1h1v1h4v-1h4v2h1v-1h1v-1h1v1h2v1h1v-1h2v1h1v1h2v-1h1v1h3v1h2v-1h6v1h5v1h3v1h1v1h1v1h1v1h1v1h1v1h2v1h1v1h1v1h1v1h1v1h1v2h2v1h1v1h1v1h2v1h1v1h2v1h2v1h3v1h2v1h4v1h4v1h4v1h6v1h1v-1h3v1h4v-1h9v-1h5v-1h4v-1h8v-1h7v-1h17v1h7v1h3v1h1v1h2v1h2v1h2v1h2v1h1v1h2v1h1v1h1v1h1v1h2v1h1v1h1v1h1v1h1v1h2v1h1v1h1v1h1v1h1v1h1v1h1v1h1v1h1v1h1v1h1v1h1v1h1v1h1v1h1v1h1v1h1v2h1v1h1v1h1v2h1v1h1v2h1v2h1v2h1v2h1v2h1v2h1v1h1v3h1v2h1v1h1v2h1v2h1v2h1v2h1v1h1v2h1v1h1v1h1v2h2v1h1v1h1v1h1v1h2v1h1v1h2v1h1v1h2v1h3v1h11v-1h8v-1h4v-1h2v-1h2v-1h2v-1h3v-1h3v-1h2v-1h2v-1h4v-1h4v-1h4v-1h3v-1h4v-1h2v-1h7v-1h4v-1h5v-1h2v1h1v-1h3v-1h1v1h1v-1h5v-1h6v-1h4v-1h5v-1h4v-1h7v1h1v-1h4v-1h3v-1h1v2h-1v1h-4v1h-10v2h-1v-1h-3v1h-7v1h-1v-1h-1v1h-3v1h-6v1h-6v1h-5v1h-6v1h-5v1h-6v1h-2v1h-5v1h-2v1h-5v1h-3v1h-4v1h-2v1h-2v1h-4v1h-2v1h-1v1h-3v1h-4v1h-3v1h-1v-1h-1v1h-16v-1h-3v-1h-2v-1h-2v-1h-1v-1h-2v-1h-1v-1h-1v-1h-1v-1h-1v-1h-2v-2h-1v-1h-1v-2h-1v-1h-1v-1h-1v-2h-1v-2h-1v-2h-1v-2h-1v-2h-1v-1h-1v-3h-1v-2h-1v-1h-1v-3h-1v-1h-1v-2h-1v-2h-1v-2h-1v-2h-1v-1h-1v-1h-1v-2h-1v-1h-1v-1h-1v-2h-2v-1h-1v-1h-1v-1h-1v-1h-1v-1h-1v-1h-1v-1h-1v-1h-1v-1h-1v-1h-1v-1h-1v-1h-1v-1h-2v-1h-1v-1h-1v-1h-1v-1h-1v-1h-2v-1h-1v-1h-1v-1h-1v-1h-2v-1h-2v-1h-1v-1h-2v-1h-2v-1h-2v-1h-1v-1h-3v-1h-14v-1h-2v1h-1v-1h-2v1h-8v1h-8v1h-6v1h-4v1h-4v1h-17v-1h-6v-1h-4v-1h-4v-1h-4v-1h-2v-1h-2v-1h-2v-1h-2v-1h-1v-1h-2v-1h-1v-1h-1v-1h-2v-2h-1v-1h-1v-1h-1v-1h-1v-1h-1v-1h-2v-1h-1v-1h-1v-1h-1v-1h-1v-1h-2v-1h-4v1h-1v-1h-3v-1h-1v1h-1v-1h-10v-1h-1v-1h-5v-1h-1v1h-1v1h-1v-1h-5v-1h-6v1h-3v1h-5v1h-5v-1h-1v1h-9v1h-2v-1h-1v1h-1v1h-3v1h-1v-1h-1v-1h-2v1h-6v1h-1v1h-2v-1h-2v-1h-3v-1h-5v-1h-1v-1h-1v1h-1v-1h-1v-1h-2v-1h-2v-1h-1z"/>
<path fill="#a000ff" d="M69 128h1v1h2v1h4v1h1v1h1v1h4v-1h1v2h2v-1h2v1h4v-1h3v1h2v-1h7v-1h10v-1h3v-1h7v1h1v-1h3v-1h11v1h2v-1h2v-1h1v1h5v1h2v1h4v1h3v1h4v-1h2v1h3v1h1v-1h3v1h1v1h2v1h1v1h2v1h2v1h1v1h1v1h1v1h1v1h1v2h2v1h1v1h1v1h1v1h1v1h2v1h2v1h1v1h2v1h3v1h2v1h3v1h4v1h4v1h7v1h4v-1h3v1h8v-1h3v-1h4v-1h4v-1h8v-1h14v-1h2v1h14v1h2v1h2v1h3v1h1v1h3v1h2v1h1v1h1v1h2v1h1v1h2v1h1v1h1v1h1v1h1v1h2v1h1v1h1v1h1v1h1v1h2v1h1v1h1v1h1v1h1v1h1v1h1v1h1v1h1v1h1v1h1v1h1v1h1v1h1v2h1v1h1v1h1v2h1v2h1v1h1v2h1v2h1v2h1v2h1v2h1v2h1v2h1v1h1v2h1v2h1v1h1v2h1v1h1v2h1v1h1v1h1v1h1v1h1v1h1v1h2v1h2v1h1v1h2v1h5v1h18v-1h4v-1h3v-1h2v-1h1v-1h1v1h1v-1h2v-1h3v-1h3v-1h2v-1h3v-1h3v-1h4v-1h6v-1h2v-1h4v-1h5v-1h3v-1h1v1h2v-1h2v-1h6v-1h9v-1h4v-1h1v1h3v-1h1v1h1v-2h6v-1h5v-1h5v1h2v-1h2v-1h1v-1h1v1h1v1h1v2h-2v-1h-2v1h-5v-1h-1v1h-3v1h-2v-1h-1v1h-2v1h-1v-1h-1v2h-1v-1h-2v1h-1v1h-1v-1h-2v1h-1v-1h-2v1h-4v1h-1v-1h-2v1h-2v-1h-1v1h-5v1h-1v-1h-2v1h-2v1h-6v1h-1v1h-2v-1h-1v1h-4v1h-3v1h-1v1h-6v1h-6v1h-2v1h-3v1h-2v1h-4v1h-2v1h-3v1h-2v1h-2v1h-4v1h-5v1h-13v-1h-6v-1h-2v-1h-2v-1h-1v-1h-3v-1h-1v-1h-1v-1h-1v-1h-1v-1h-1v-1h-1v-1h-1v-2h-1v-1h-1v-2h-1v-1h-1v-2h-1v-2h-1v-2h-1v-1h-1v-2h-1v-2h-1v-2h-1v-2h-1v-2h-1v-2h-1v-2h-1v-1h-1v-2h-1v-1h-1v-1h-1v-2h-1v-1h-1v-1h-1v-1h-1v-1h-1v-1h-1v-1h-1v-1h-1v-1h-1v-1h-1v-1h-1v-1h-1v-1h-1v-1h-2v-1h-1v-1h-1v-1h-1v-1h-2v-1h-1v-1h-1v-1h-1v-1h-1v-1h-1v-1h-2v-1h-1v-1h-2v-1h-1v-1h-2v-1h-2v-1h-2v-1h-2v-1h-2v-1h-2v-1h-4v-1h-18v1h-1v-1h-5v1h-7v1h-6v1h-5v1h-3v1h-21v-1h-4v-1h-4v-1h-3v-1h-3v-1h-3v-1h-2v-1h-2v-1h-1v-1h-2v-1h-2v-1h-1v-1h-1v-1h-1v-1h-1v-1h-1v-1h-1v-1h-1v-1h-1v-1h-1v-1h-2v-1h-1v-1h-1v-1h-2v-1h-1v-1h-2v-1h-3v1h-1v-1h-7v1h-1v-1h-2v-1h-1v-1h-6v-1h-1v-1h-6v-1h-1v1h-1v1h-2v-1h-5v-1h-1v1h-4v1h-6v-1h-1v1h-5v1h-1v-1h-1v1h-1v1h-2v-1h-1v1h-11v1h-5v1h-2v-1h-1v1h-4v-1h-10v-1h-1v-1h-2v-1h-2v-1h-1v-1h-2z"/>
<path fill="#a000ff" d="M69 94h1v-1h1v2h2v1h3v1h10v-1h4v1h2v-1h3v1h1v-1h2v1h5v-1h3v-1h4v1h2v-1h1v-1h1v-1h1v1h6v-2h7v-1h10v-1h2v1h4v-1h4v1h4v1h2v-1h3v1h1v-1h3v1h1v-1h1v1h4v1h1v-1h1v1h3v1h2v1h4v1h2v1h2v1h2v1h2v1h1v1h1v1h2v1h1v1h1v1h2v1h1v1h1v1h2v1h1v1h2v1h3v1h2v1h5v1h6v1h1v-1h15v-1h3v-1h4v-1h3v-1h3v-1h4v-1h4v-1h6v-1h25v1h4v1h2v1h1v1h3v1h1v1h2v1h2v1h1v1h1v1h1v1h1v1h2v1h1v1h1v1h2v1h1v1h1v1h1v1h1v1h2v1h1v1h1v1h1v1h1v1h1v1h2v1h1v2h1v1h1v1h1v1h1v1h1v1h1v2h1v1h1v1h1v2h1v2h1v1h1v2h1v2h1v2h1v2h1v2h1v2h1v2h1v2h1v2h1v1h1v2h1v2h1v1h1v1h1v1h1v1h1v1h2v1h1v1h2v1h2v1h2v1h1v1h4v1h6v1h2v-1h4v1h2v-1h6v-1h5v-1h3v-1h2v-1h5v-1h2v-1h3v-1h2v-1h4v-1h2v-1h1v1h1v-1h1v-1h5v-1h4v-1h1v-1h5v-1h2v-1h3v-1h2v-1h3v-1h3v-1h3v-1h1v1h1v-1h2v-1h3v-1h1v-1h3v-1h5v-1h2v1h1v-2h2v1h2v-1h1v-1h1v-1h3v-1h2v-1h2v1h1v-1h4v-1h1v-1h1v1h1v-1h1v2h-3v1h-2v1h-2v1h-3v-1h-2v1h-1v2h-1v-1h-2v1h-1v1h-1v1h-1v-1h-2v1h-4v1h-4v1h-2v1h-1v-1h-1v1h-2v1h-3v1h-3v1h-4v1h-3v1h-3v1h-3v1h-2v1h-4v1h-2v1h-4v1h-2v1h-4v1h-4v1h-3v1h-2v1h-3v1h-3v1h-4v1h-3v1h-3v1h-3v1h-3v1h-1v-1h-1v1h-17v-1h-3v-1h-3v-1h-1v-1h-2v-1h-2v-1h-2v-1h-1v-1h-2v-1h-1v-1h-1v-1h-1v-1h-1v-2h-1v-1h-1v-2h-1v-1h-1v-2h-1v-2h-1v-2h-1v-2h-1v-2h-1v-2h-1v-2h-1v-2h-1v-2h-1v-1h-1v-2h-1v-2h-1v-1h-1v-1h-1v-2h-1v-1h-1v-1h-1v-1h-1v-1h-1v-1h-1v-2h-1v-1h-2v-1h-1v-1h-1v-1h-1v-1h-1v-1h-1v-1h-2v-1h-1v-1h-1v-1h-1v-1h-1v-1h-2v-1h-1v-1h-1v-1h-2v-1h-1v-1h-1v-1h-1v-1h-2v-1h-1v-1h-2v-1h-2v-1h-2v-1h-1v-1h-3v-1h-4v-1h-3v1h-1v-1h-3v1h-4v-1h-7v1h-9v1h-3v1h-5v1h-4v1h-3v1h-3v1h-4v1h-3v1h-18v-1h-6v-1h-2v-1h-3v-1h-2v-1h-2v-1h-2v-1h-1v-1h-1v-1h-1v-1h-2v-1h-1v-1h-1v-1h-2v-1h-1v-1h-1v-1h-3v-1h-1v-1h-2v-1h-6v-2h-2v-1h-10v-1h-5v1h-2v-1h-4v-1h-2v1h-1v-1h-1v-1h-1v1h-1v1h-4v-1h-3v1h-2v-1h-2v1h-2v1h-3v-1h-1v1h-5v1h-4v1h-1v1h-1v-1h-2v1h-3v1h-2v-1h-3v1h-1v1h-1v-1h-1v1h-2v1h-2v-1h-1v-1h-6v1h-2v-1h-1v1h-2v-1h-1v1h-3v-1h-1v1h-4v1h-1v-1h-1v-1h-3v-1h-2v-1h-2z"/>
<path fill="#ff0000" d="M69 150h1v2h3v1h2v1h3v1h1v1h2v1h2v1h1v-1h5v1h2v1h1v-2h2v1h7v-1h3v1h1v-1h1v-1h1v1h5v-1h1v1h3v-2h2v1h2v-1h2v-1h4v-2h1v1h3v-1h2v1h1v-1h1v1h3v-1h1v1h1v1h3v-1h2v1h1v-2h2v1h5v1h2v-1h3v1h2v-1h2v1h9v1h2v1h1v1h1v1h1v1h1v1h1v1h1v1h2v1h1v2h1v1h1v1h1v1h1v2h1v1h1v1h1v1h2v1h2v1h2v1h2v1h3v1h6v1h2v1h1v-1h1v1h4v1h19v-1h4v-1h5v-1h3v-1h6v-1h6v-1h7v-1h2v1h1v-1h7v1h9v1h3v1h2v1h2v1h3v1h1v1h3v1h1v1h2v1h2v1h1v1h1v1h2v1h1v1h1v1h2v1h1v1h1v1h1v1h1v1h1v1h2v1h1v1h1v1h2v1h1v1h1v1h1v1h1v1h1v1h1v1h1v2h1v1h1v1h1v2h1v2h1v1h1v2h1v2h1v2h1v1h1v2h1v2h1v2h1v1h1v2h1v1h1v2h1v1h1v1h1v2h1v1h2v1h1v1h1v1h1v1h2v1h2v1h2v1h2v1h2v1h3v1h5v1h1v-1h8v-1h2v1h1v-1h3v-1h4v-1h2v-1h2v-1h2v-1h2v-1h3v-1h2v-1h3v-1h4v-1h4v-1h4v-1h3v-1h4v-1h5v-1h3v-1h5v-1h3v-1h1v1h1v-1h7v-1h3v-1h6v-1h4v1h1v-1h1v-1h3v1h2v-1h1v-1h3v-1h1v1h2v-1h2v1h3v-1h3v-1h3v1h2v2h-2v-1h-1v1h-1v-1h-1v1h-3v1h-3v-1h-2v1h-6v1h-3v1h-1v-1h-2v1h-7v1h-6v1h-4v1h-1v-1h-2v1h-6v1h-2v1h-1v-1h-1v1h-3v1h-3v1h-6v1h-4v1h-4v1h-4v1h-2v1h-4v1h-3v1h-2v1h-2v1h-2v1h-3v1h-1v1h-3v1h-4v1h-6v1h-10v-1h-5v-1h-2v-1h-2v-1h-2v-1h-2v-1h-2v-1h-2v-1h-1v-1h-1v-1h-1v-1h-2v-2h-1v-1h-1v-1h-1v-1h-1v-2h-1v-1h-1v-2h-1v-1h-1v-2h-1v-2h-1v-2h-1v-2h-1v-1h-1v-2h-1v-2h-1v-2h-1v-1h-1v-2h-1v-1h-1v-2h-1v-1h-1v-1h-1v-1h-1v-1h-1v-1h-1v-1h-1v-1h-1v-1h-2v-1h-1v-1h-1v-1h-2v-1h-1v-1h-1v-1h-1v-1h-1v-1h-1v-1h-2v-1h-1v-1h-1v-1h-2v-1h-1v-1h-1v-1h-2v-1h-2v-1h-2v-1h-2v-1h-2v-1h-2v-1h-2v-1h-2v-1h-4v-1h-21v1h-7v1h-6v1h-3v1h-4v1h-5v1h-23v-1h-5v-1h-4v-1h-5v-1h-2v-1h-2v-1h-2v-1h-3v-1h-1v-1h-1v-1h-1v-1h-1v-2h-1v-1h-1v-1h-1v-1h-1v-2h-2v-1h-1v-2h-2v-1h-1v-1h-1v-1h-1v-1h-2v-1h-6v-1h-9v1h-4v-2h-1v1h-10v1h-2v-1h-3v-1h-2v1h-1v-1h-1v1h-4v1h-1v1h-2v-1h-1v1h-4v1h-2v1h-3v-1h-1v1h-2v1h-1v-1h-3v-1h-1v1h-2v1h-1v-1h-2v1h-5v-1h-1v1h-1v-1h-1v1h-1v1h-1v-1h-2v-1h-9v-1h-2v-1h-1v-1h-1v-1h-3v-1h-2v-1h-2z"/>
<path fill="#ff0000" d="M69 114h1v1h1v1h7v1h1v-1h1v1h3v1h1v-1h8v-1h4v-1h4v1h1v1h1v-1h1v-1h2v1h1v-1h1v1h1v-1h3v-1h1v1h3v-1h1v-1h3v1h2v-1h7v-1h5v1h2v-1h1v2h1v-1h1v-1h2v1h1v-2h1v1h4v1h4v-1h1v1h1v1h2v1h1v-1h1v1h6v1h2v-1h1v1h1v1h1v-1h2v1h1v1h3v1h1v1h1v-1h1v1h1v1h1v1h2v1h1v1h2v2h2v1h1v1h1v1h2v1h1v1h2v1h1v1h2v1h2v1h3v1h1v1h4v1h7v1h17v-1h6v-1h3v-1h3v-1h4v-1h5v-1h6v-1h5v-1h21v1h5v1h2v1h3v1h2v1h3v1h1v1h1v1h3v1h1v1h2v1h1v1h1v1h2v1h1v1h2v1h1v1h2v1h1v1h1v1h2v1h1v1h1v1h2v1h1v1h1v1h1v1h1v1h1v1h1v1h1v1h1v1h1v2h1v1h1v2h1v1h1v2h1v2h1v1h1v3h1v1h1v2h1v2h1v2h1v2h1v1h1v2h1v2h1v1h1v1h1v2h1v1h1v1h1v1h1v1h2v1h1v1h1v1h2v1h5v1h18v-1h3v-1h5v-1h3v-1h3v-1h3v-1h3v-1h3v-1h3v-1h4v-1h3v-1h2v-1h3v-1h3v-1h2v-1h5v-1h2v1h1v-1h2v-1h4v-1h4v-1h3v-1h4v-1h2v1h2v-1h2v-1h1v1h3v-1h2v-1h6v-1h7v-1h3v-1h2v1h1v-1h2v-1h1v1h1v-1h1v-1h2v2h-2v1h-1v1h-2v1h-1v-1h-4v1h-3v1h-6v1h-7v1h-2v1h-2v-1h-2v1h-6v1h-4v1h-5v1h-4v1h-3v1h-5v1h-4v1h-2v1h-3v1h-4v1h-3v1h-4v1h-1v1h-3v1h-4v1h-3v1h-4v1h-2v1h-2v1h-5v1h-1v-1h-1v1h-7v1h-7v-1h-2v1h-1v-1h-4v-1h-4v-1h-2v-1h-1v-1h-1v-1h-2v-1h-1v-1h-1v-1h-1v-2h-1v-1h-1v-1h-1v-2h-1v-1h-1v-2h-1v-2h-1v-2h-1v-1h-1v-2h-1v-2h-1v-2h-1v-2h-1v-1h-1v-2h-1v-2h-1v-1h-1v-2h-1v-1h-1v-2h-1v-1h-1v-1h-1v-1h-1v-1h-1v-1h-1v-1h-1v-1h-1v-1h-2v-1h-1v-1h-1v-1h-1v-1h-2v-1h-1v-1h-1v-1h-2v-1h-1v-1h-2v-1h-1v-1h-2v-1h-1v-1h-1v-1h-2v-1h-1v-1h-3v-1h-1v-1h-2v-1h-2v-1h-3v-1h-2v-1h-4v-1h-8v-1h-1v1h-16v1h-7v1h-4v1h-5v1h-3v1h-3v1h-4v1h-1v-1h-1v1h-13v1h-2v-1h-7v-1h-6v-1h-3v-1h-2v-1h-2v-1h-2v-1h-2v-1h-1v-1h-2v-1h-1v-1h-2v-1h-1v-1h-1v-1h-2v-2h-2v-1h-2v-1h-1v-1h-1v-1h-3v-1h-3v-1h-1v-1h-4v-1h-1v1h-2v-1h-6v-1h-1v1h-1v-1h-2v-1h-1v-1h-2v1h-3v-1h-4v1h-7v-1h-5v-1h-1v1h-1v1h-1v-1h-1v1h-4v1h-5v-1h-1v1h-6v1h-7v1h-5v-2h-1v1h-1v1h-2v1h-5v-1h-1v1h-4v1h-1v-1h-2v-1h-1v1h-3v-1h-2v1h-2v-1h-2v-1h-2z"/>
<path fill="#aa5f64" d="M69 141h1v1h1v1h1v1h5v1h1v1h4v1h1v1h4v1h1v-1h1v1h1v-1h3v1h1v-1h1v1h1v-1h1v-1h4v1h1v-1h1v1h1v-1h3v1h1v-1h1v-1h5v-1h2v1h3v1h1v-2h2v1h2v-2h3v-1h2v1h4v-1h1v1h6v-1h3v1h1v-1h1v-1h1v2h2v1h15v1h1v1h1v-1h6v1h1v1h1v-1h1v1h1v1h1v1h1v2h2v1h1v1h1v1h1v2h1v1h1v1h1v1h1v1h1v1h1v1h2v1h1v1h2v1h2v1h2v1h3v1h4v1h5v1h6v1h19v-1h3v-1h5v-1h4v-1h7v-1h8v-1h16v1h1v-1h1v1h4v1h3v1h2v1h1v1h2v1h2v1h2v1h1v1h2v1h1v1h1v1h2v1h1v1h1v1h1v1h1v1h1v1h1v1h1v1h1v1h1v1h1v1h1v1h1v1h2v2h2v2h1v1h1v1h1v1h1v1h1v1h1v1h1v2h1v1h1v1h1v2h1v1h1v2h1v2h1v2h1v2h1v2h1v2h1v3h1v2h1v2h1v2h1v2h1v2h1v2h1v2h1v2h1v1h1v2h1v1h1v2h2v2h2v1h1v1h1v1h1v1h1v1h2v1h1v1h2v1h3v1h3v1h10v-1h6v-1h3v-1h3v-1h3v-1h2v-1h3v-1h3v-1h1v-1h5v-1h3v-1h3v-1h3v-1h5v-1h3v-1h5v-1h1v1h1v-1h1v-1h6v-1h6v-1h6v-1h9v-1h2v-1h5v-1h6v-1h3v1h1v-1h4v-1h8v-1h1v1h1v2h-1v-1h-1v1h-2v-1h-1v1h-5v1h-2v-1h-1v1h-3v1h-1v-1h-1v1h-2v-1h-1v1h-3v1h-1v-1h-2v1h-2v1h-6v1h-1v-1h-1v1h-1v1h-1v-1h-1v1h-7v1h-7v1h-2v-1h-1v2h-5v1h-4v1h-1v-1h-1v1h-2v1h-1v-1h-1v1h-3v1h-2v1h-5v1h-2v1h-4v1h-3v1h-3v1h-2v1h-3v1h-2v1h-4v1h-4v1h-9v1h-3v-1h-3v-1h-2v-1h-3v-1h-2v-1h-1v-1h-2v-1h-1v-1h-1v-1h-1v-1h-1v-1h-1v-1h-1v-1h-1v-1h-1v-1h-1v-1h-1v-2h-1v-2h-1v-1h-1v-2h-1v-2h-1v-2h-1v-2h-1v-2h-1v-3h-1v-1h-1v-3h-1v-2h-1v-2h-1v-2h-1v-2h-1v-2h-1v-2h-1v-1h-1v-2h-1v-1h-1v-2h-1v-1h-1v-1h-1v-1h-1v-1h-1v-1h-1v-1h-1v-1h-1v-2h-2v-2h-2v-1h-1v-1h-1v-1h-1v-1h-1v-1h-1v-1h-1v-1h-1v-1h-1v-1h-1v-1h-1v-1h-1v-1h-1v-1h-2v-1h-1v-1h-1v-1h-2v-1h-2v-1h-1v-1h-2v-1h-2v-1h-1v-1h-3v-1h-2v-1h-11v-1h-2v1h-1v-1h-2v1h-9v1h-1v-1h-1v1h-8v1h-4v1h-4v1h-3v1h-16v1h-2v-1h-7v-1h-4v-1h-4v-1h-5v-1h-2v-1h-2v-1h-2v-1h-2v-1h-1v-1h-2v-1h-1v-1h-1v-1h-1v-1h-1v-1h-1v-2h-1v-1h-1v-1h-1v-1h-2v-1h-1v-2h-1v-1h-1v-1h-1v1h-1v-1h-1v-1h-1v-1h-1v1h-8v-2h-1v1h-7v-1h-4v1h-1v-1h-1v-1h-3v1h-1v-1h-2v1h-6v-1h-2v1h-5v-1h-1v1h-2v1h-1v1h-1v-1h-2v1h-3v1h-1v-1h-1v-1h-3v1h-1v-1h-1v1h-2v1h-5v1h-1v-1h-2v1h-1v-1h-1v1h-3v1h-3v-1h-5v1h-1v-1h-4v-1h-1v-1h-4v-1h-1v-1h-3v-1h-3v-1h-2z"/>
<path fill="#aa5f64" d="M69 103h3v1h1v1h3v1h2v-1h3v1h8v-1h10v1h1v-1h4v-1h1v1h6v-1h3v-1h8v-1h2v-1h8v1h1v-2h2v1h2v-1h7v1h1v-2h1v1h2v1h1v1h1v-1h1v-1h3v1h2v1h2v-1h5v2h3v1h1v-1h2v1h2v1h3v1h2v1h3v1h1v1h3v2h2v1h2v2h2v1h1v1h2v1h2v1h1v1h2v1h2v1h2v1h2v1h3v1h3v1h8v1h4v-1h5v1h1v-1h5v-1h5v-1h3v-1h2v-1h6v-1h4v-1h5v-1h9v-1h6v1h4v-1h1v1h2v-1h4v1h3v1h2v1h3v1h2v1h2v1h1v1h2v1h1v1h2v1h1v1h1v1h1v1h2v1h1v1h1v1h1v1h1v1h2v1h1v1h1v1h1v1h1v1h1v1h1v1h2v1h1v1h1v2h1v1h1v1h1v1h1v1h1v1h1v1h1v1h1v1h1v2h1v1h1v2h1v2h1v2h1v2h1v2h1v1h1v3h1v2h1v3h1v2h1v2h1v2h1v2h1v2h1v2h1v2h1v2h1v1h1v1h1v2h1v1h1v1h1v1h2v1h1v1h1v1h3v1h5v1h15v-1h4v-1h5v-1h2v-1h3v-1h3v-1h3v-1h4v-1h3v-1h3v-1h3v-1h3v-1h4v-1h4v-1h2v-1h3v-1h4v-1h3v-1h4v-1h7v-1h3v-1h6v-1h2v1h2v-1h4v-1h8v-1h3v-1h3v-2h1v1h3v-2h3v1h2v2h-2v-1h-1v1h-4v1h-3v1h-2v1h-5v1h-3v-1h-2v1h-1v1h-8v1h-7v1h-4v1h-4v1h-2v-1h-2v1h-2v1h-2v1h-5v1h-3v1h-2v1h-4v1h-3v1h-5v1h-1v1h-3v1h-4v1h-5v1h-3v1h-2v1h-3v1h-4v1h-4v1h-8v1h-5v-1h-6v-1h-5v-1h-2v-1h-1v-1h-1v-1h-2v-1h-1v-1h-1v-2h-1v-1h-1v-1h-1v-1h-1v-2h-1v-2h-1v-2h-1v-2h-1v-2h-1v-2h-1v-2h-1v-2h-1v-3h-1v-2h-1v-3h-1v-1h-1v-2h-1v-2h-1v-2h-1v-2h-1v-2h-1v-1h-1v-2h-1v-1h-1v-1h-1v-1h-1v-1h-1v-1h-1v-1h-1v-1h-1v-2h-1v-1h-1v-1h-1v-1h-2v-1h-1v-1h-1v-1h-1v-1h-1v-1h-1v-1h-1v-1h-1v-1h-2v-1h-1v-1h-1v-1h-1v-1h-2v-1h-1v-1h-1v-1h-1v-1h-2v-1h-1v-1h-2v-1h-1v-1h-2v-1h-3v-1h-2v-1h-2v-1h-24v1h-7v1h-4v1h-5v1h-4v1h-3v1h-4v1h-4v1h-16v-1h-7v-1h-3v-1h-2v-1h-3v-1h-1v-1h-2v-1h-2v-1h-1v-1h-2v-1h-2v-1h-1v-1h-2v-2h-3v-1h-1v-1h-2v-1h-1v-1h-2v-1h-3v-1h-3v-1h-2v-1h-5v-1h-2v-1h-7v1h-1v-2h-1v1h-1v1h-4v-2h-11v1h-3v1h-2v-1h-9v1h-1v1h-1v-1h-1v1h-5v1h-6v1h-8v1h-1v-1h-6v1h-2v-1h-4v1h-2v-1h-4v1h-1v-1h-2v1h-1v1h-1v-1h-1v-1h-2v-1h-2v-1h-3z"/>
<path fill="#469664" d="M69 103h1v1h1v1h3v1h1v1h1v1h1v-1h1v-1h1v1h1v-1h2v1h8v-1h6v-1h2v1h1v1h1v-1h2v-1h2v1h1v-1h1v-1h1v1h1v-1h1v1h3v-1h4v-1h4v-1h2v1h1v-1h1v1h1v-1h3v-1h4v1h4v-1h1v1h2v-1h6v-1h2v2h1v-1h2v1h2v-1h2v1h5v1h3v-1h2v1h2v1h4v1h1v-1h1v1h3v2h2v1h1v1h2v1h2v1h1v1h2v1h2v1h1v1h1v1h1v1h2v1h1v1h2v1h1v1h1v1h3v1h2v1h3v1h3v1h11v1h3v-1h11v-1h3v-1h4v-1h4v-1h3v-1h7v-1h4v-1h28v1h3v1h2v1h3v1h2v1h2v1h1v1h1v1h2v1h1v1h2v1h1v1h1v1h2v1h1v1h2v1h1v1h1v1h1v1h2v1h1v1h1v1h2v2h2v1h1v1h1v1h1v1h1v1h1v1h1v1h1v1h1v2h1v1h1v2h1v1h1v2h1v2h1v2h1v1h1v2h1v2h1v2h1v2h1v2h1v2h1v2h1v2h1v2h1v1h1v2h1v1h1v2h1v1h1v1h1v1h1v1h1v1h1v1h2v1h2v1h6v1h16v-1h7v-1h3v-1h3v-1h2v-1h2v-1h2v-1h4v-1h3v-1h4v-1h3v-1h3v-1h2v-1h4v-1h5v-1h1v-1h4v-1h4v-1h1v-1h6v-1h8v-1h3v-1h3v-1h1v1h2v-1h4v-1h2v1h1v-1h4v-1h1v-1h6v-1h2v-1h2v-1h4v2h-3v1h-4v1h-1v1h-6v1h-1v1h-8v1h-6v1h-3v1h-4v1h-2v-1h-1v1h-4v1h-2v-1h-1v1h-1v1h-1v-1h-1v1h-4v1h-2v1h-3v1h-4v1h-3v1h-4v1h-3v1h-3v1h-1v1h-5v1h-3v1h-4v1h-2v1h-2v1h-3v1h-3v1h-5v1h-5v1h-2v-1h-3v1h-3v-1h-1v1h-3v-1h-6v-1h-4v-1h-1v-1h-1v-1h-2v-1h-1v-1h-1v-1h-1v-1h-1v-1h-1v-2h-1v-1h-1v-2h-1v-1h-1v-2h-1v-2h-1v-2h-1v-2h-1v-2h-1v-2h-1v-2h-1v-2h-1v-2h-1v-2h-1v-1h-1v-2h-1v-2h-1v-1h-1v-2h-1v-2h-1v-1h-1v-1h-1v-1h-1v-1h-1v-1h-1v-1h-1v-1h-1v-1h-1v-1h-1v-1h-1v-1h-2v-1h-1v-1h-1v-1h-2v-1h-1v-1h-1v-1h-1v-1h-2v-1h-1v-1h-2v-1h-1v-1h-1v-1h-2v-1h-1v-1h-2v-1h-1v-1h-2v-1h-2v-1h-2v-1h-2v-1h-3v-1h-3v-1h-23v1h-5v1h-5v1h-5v1h-5v1h-3v1h-3v1h-6v1h-19v-1h-4v-1h-2v-1h-3v-1h-2v-1h-3v-1h-1v-1h-2v-1h-1v-1h-1v-1h-2v-1h-1v-1h-1v-1h-1v-1h-2v-1h-2v-1h-2v-1h-1v-1h-2v-1h-2v-1h-1v-1h-2v-1h-5v-1h-7v-1h-9v-1h-3v1h-1v-1h-1v-1h-1v2h-1v-2h-3v1h-1v1h-3v-1h-1v1h-1v-1h-1v1h-3v-1h-3v1h-1v1h-1v-1h-3v1h-1v-1h-3v1h-3v1h-4v1h-2v1h-1v-2h-1v1h-3v1h-2v-1h-2v1h-1v1h-2v-1h-1v-1h-1v1h-1v-1h-1v1h-3v1h-9v-1h-3v1h-2v1h-1v-1h-1v-1h-1v-1h-3v-1h-1v-1h-1z"/>
<path fill="#0aa0d2" d="M69 118h1v2h1v-1h1v1h2v-1h7v1h1v-1h1v1h4v-1h2v-1h1v-1h2v1h2v1h9v-1h1v1h2v-1h2v-1h12v-1h2v-1h2v1h1v-1h2v1h1v-1h3v1h2v-1h1v1h2v-1h5v1h1v-1h3v-1h1v1h1v1h3v1h3v1h2v-1h1v1h3v1h1v-1h1v1h7v1h3v1h3v1h1v1h1v1h2v1h1v1h2v1h1v1h1v1h1v1h1v1h1v1h2v1h1v1h2v1h1v1h2v1h2v1h2v1h4v1h3v1h5v1h22v-1h3v-1h4v-1h4v-1h3v-1h6v-1h6v-1h7v-1h2v1h1v-1h1v1h2v-1h4v1h2v-1h2v1h7v1h2v1h2v1h2v1h2v1h1v1h2v1h2v1h1v1h1v1h1v1h1v1h1v1h2v1h1v1h1v1h1v1h1v1h2v1h1v1h1v1h1v1h1v1h1v1h1v1h1v1h1v1h1v1h1v1h1v1h1v1h1v1h1v1h1v2h1v1h1v2h1v1h1v1h1v2h1v2h1v2h1v2h1v3h1v2h1v2h1v2h1v2h1v3h1v2h1v2h1v2h1v3h1v1h1v2h1v2h1v1h1v2h1v1h1v1h1v1h1v1h1v1h1v1h1v1h2v1h2v1h3v1h8v1h2v-1h6v-1h7v-1h3v-1h2v-1h3v-1h3v-1h4v-1h2v-1h4v-1h3v-1h2v-1h5v-1h2v-1h5v-1h4v-1h3v-1h6v-1h6v-1h6v-1h1v1h1v-1h7v-1h5v-1h8v-1h3v1h1v-1h3v1h1v-1h1v-1h3v-1h1v-1h3v1h1v2h-1v-1h-2v1h-4v1h-1v1h-1v1h-2v-1h-6v1h-2v-1h-3v1h-4v1h-2v-1h-1v1h-2v1h-6v1h-7v1h-3v-1h-2v1h-3v1h-5v1h-5v1h-3v1h-4v1h-5v1h-3v1h-2v1h-3v1h-4v1h-3v1h-3v1h-3v1h-2v1h-2v1h-5v1h-6v1h-1v-1h-1v1h-9v-1h-7v-1h-2v-1h-1v-1h-2v-1h-1v-1h-1v-1h-1v-1h-1v-1h-1v-1h-1v-1h-1v-2h-1v-1h-1v-2h-1v-2h-1v-1h-1v-3h-1v-2h-1v-2h-1v-2h-1v-3h-1v-2h-1v-2h-1v-3h-1v-2h-1v-2h-1v-2h-1v-2h-1v-2h-1v-2h-1v-1h-1v-2h-1v-1h-1v-1h-1v-2h-1v-1h-1v-1h-1v-1h-1v-1h-1v-1h-1v-1h-1v-1h-1v-1h-1v-1h-1v-1h-1v-1h-1v-1h-1v-1h-1v-1h-1v-1h-2v-1h-1v-1h-1v-1h-1v-1h-1v-1h-2v-1h-1v-1h-1v-1h-1v-1h-1v-1h-1v-1h-2v-1h-2v-1h-1v-1h-2v-1h-3v-1h-1v-1h-3v-1h-24v1h-7v1h-5v1h-4v1h-3v1h-4v1h-3v1h-15v1h-2v-1h-8v-1h-5v-1h-1v1h-1v-1h-3v-1h-2v-1h-2v-1h-2v-1h-2v-1h-2v-1h-1v-1h-1v-1h-2v-1h-1v-1h-1v-1h-1v-1h-1v-1h-1v-1h-2v-1h-1v-1h-2v-1h-1v-1h-2v-1h-2v-1h-6v-1h-1v1h-2v-1h-1v1h-1v-1h-3v-1h-4v-1h-3v-1h-3v-1h-1v1h-1v-1h-1v1h-8v1h-1v-1h-2v1h-1v-1h-3v1h-5v-1h-1v1h-2v1h-4v-1h-1v1h-6v1h-1v-1h-1v1h-6v1h-5v1h-2v-1h-1v-1h-1v-1h-2v2h-1v1h-4v-1h-1v1h-1v-1h-1v1h-1v-1h-12z"/>
<path fill="#0aa0d2" d="M69 108h1v1h3v1h6v1h4v-1h1v1h2v-1h1v1h3v-1h10v-1h1v1h2v1h1v-1h1v-1h3v-1h2v1h1v-1h3v-1h1v-1h2v1h3v-1h1v1h1v-1h3v-1h3v1h4v1h1v-1h1v-1h2v-1h3v1h3v-1h2v1h4v1h2v-1h1v1h5v1h2v1h4v-1h2v1h1v-1h1v1h3v1h2v1h3v1h2v1h1v1h3v1h2v1h1v1h1v1h1v1h1v1h2v1h1v1h2v1h1v1h2v1h1v1h2v1h2v1h2v1h4v1h4v1h5v1h1v-1h1v1h7v-1h10v-1h5v-1h2v-1h3v-1h5v-1h6v-1h4v-1h10v-1h2v1h15v1h3v1h2v1h1v1h1v1h3v1h1v1h2v1h1v1h1v1h1v1h1v1h1v1h1v1h1v1h1v1h1v1h1v1h1v1h1v1h1v1h1v1h1v1h1v1h1v1h1v1h1v1h1v1h1v1h1v2h1v1h1v1h1v1h1v1h1v2h1v1h1v1h1v2h1v1h1v2h1v2h1v2h1v2h1v2h1v2h1v3h1v2h1v3h1v2h1v3h1v2h1v3h1v2h1v2h1v3h1v2h1v3h1v1h1v2h1v1h1v2h1v1h1v1h1v1h1v1h1v1h1v1h2v1h1v1h1v1h7v1h10v-1h8v-1h2v-1h4v-1h2v-1h2v-1h4v-1h5v-1h2v-1h5v-1h3v-1h4v-1h2v-1h3v-1h5v-1h3v-1h3v-1h6v-1h2v1h1v-1h3v-1h1v1h2v-1h1v-1h9v-1h3v1h1v-1h1v1h3v-1h1v-1h3v-1h1v1h1v1h1v-1h3v1h1v-2h1v1h1v-2h3v1h1v-1h3v-1h1v3h-3v1h-2v-1h-2v1h-2v1h-7v-1h-2v1h-2v1h-11v1h-1v-1h-1v1h-5v1h-5v1h-5v1h-1v-1h-2v1h-2v1h-1v-1h-1v1h-4v1h-3v1h-5v1h-2v1h-2v1h-1v-1h-1v1h-3v1h-3v1h-3v1h-5v1h-2v1h-1v-1h-1v1h-2v1h-3v1h-2v1h-4v1h-7v1h-5v1h-3v-1h-6v-1h-6v-1h-1v-1h-1v-1h-2v-1h-1v-1h-1v-1h-1v-1h-1v-1h-1v-1h-1v-2h-1v-1h-1v-2h-1v-2h-1v-2h-1v-2h-1v-3h-1v-2h-1v-3h-1v-2h-1v-3h-1v-2h-1v-3h-1v-2h-1v-3h-1v-2h-1v-2h-1v-2h-1v-2h-1v-2h-1v-2h-1v-2h-1v-1h-1v-2h-1v-1h-1v-2h-1v-1h-1v-1h-1v-1h-1v-1h-1v-1h-1v-2h-1v-1h-1v-1h-1v-1h-1v-1h-1v-1h-1v-1h-1v-1h-1v-1h-1v-1h-1v-1h-1v-1h-1v-1h-1v-1h-1v-1h-1v-1h-1v-1h-1v-1h-1v-1h-1v-1h-1v-1h-1v-1h-1v-1h-2v-1h-2v-1h-2v-1h-1v-1h-1v-1h-3v-1h-2v-1h-25v1h-3v1h-6v1h-5v1h-4v1h-2v1h-5v1h-4v1h-17v-1h-7v-1h-2v-1h-4v-1h-2v-1h-2v-1h-2v-1h-2v-1h-1v-1h-1v-1h-2v-1h-1v-1h-2v-1h-1v-1h-1v-1h-1v-1h-2v-1h-3v-1h-1v-1h-2v-1h-3v-1h-2v-1h-3v-1h-4v1h-3v-1h-2v-1h-6v-1h-1v1h-2v-1h-4v-1h-1v1h-4v-1h-2v1h-3v1h-6v-1h-3v1h-5v1h-5v1h-6v1h-2v1h-1v-1h-1v1h-4v-1h-1v2h-1v-1h-3v-1h-1v1h-3v-1h-1v1h-1v1h-2v-1h-2v1h-8v-1h-4v-1h-3v-1h-2z"/>
<path fill="#0064b4" d="M69 111h1v1h1v1h4v1h4v-1h1v-1h1v1h1v1h2v-1h2v1h5v-1h2v-1h3v1h1v1h1v-1h5v-1h5v-1h1v1h1v-1h2v-1h4v-1h5v1h1v-1h1v1h3v-1h3v-1h2v2h1v-1h2v1h1v-1h1v1h3v-1h4v-1h4v1h2v1h1v1h5v-1h2v1h1v1h2v1h1v-1h2v-1h3v1h4v2h2v1h3v1h2v1h1v1h2v1h1v1h2v1h1v1h1v1h2v1h1v1h1v1h2v1h1v1h2v1h2v1h1v1h3v1h3v1h3v1h4v1h21v-1h5v-1h4v-1h3v-1h3v-1h5v-1h4v-1h10v-1h5v1h2v-1h4v1h1v-1h4v1h5v1h3v1h2v1h2v1h1v1h2v1h2v1h1v1h1v1h2v1h1v1h1v1h1v1h1v1h1v1h2v1h1v1h1v1h2v1h1v1h1v1h1v1h1v1h1v1h1v1h1v1h1v1h1v1h1v1h1v1h1v1h1v1h1v1h1v1h1v2h1v1h1v2h1v2h1v1h1v2h1v2h1v2h1v2h1v2h1v2h1v3h1v2h1v2h1v2h1v2h1v2h1v2h1v2h1v2h1v1h1v1h1v2h1v1h1v1h1v1h1v1h2v1h1v1h1v1h4v1h6v1h4v-1h1v1h4v-1h6v-1h4v-1h3v-1h3v-1h3v-1h2v-1h3v-1h5v-1h3v-1h2v-1h1v1h1v-1h2v-1h3v-1h3v-1h3v-1h5v-1h2v-1h1v1h2v-1h3v-1h5v-1h3v-1h2v1h1v-1h1v-1h5v1h1v-1h3v-1h1v1h3v-1h7v-1h5v-1h4v-1h1v1h1v-1h2v-1h3v-1h1v1h2v2h-2v-1h-1v1h-3v1h-4v1h-5v1h-6v1h-3v-1h-1v1h-2v1h-1v-1h-2v1h-3v1h-1v-1h-2v1h-1v-1h-1v1h-6v1h-2v1h-5v1h-1v-1h-1v1h-5v1h-1v1h-5v1h-4v1h-3v1h-2v1h-4v1h-4v1h-4v1h-3v1h-3v1h-1v1h-1v-1h-1v1h-2v1h-4v1h-3v1h-5v1h-16v-1h-4v-1h-3v-1h-1v-1h-2v-1h-1v-1h-1v-1h-1v-1h-1v-1h-1v-2h-1v-1h-1v-2h-1v-1h-1v-2h-1v-2h-1v-2h-1v-2h-1v-2h-1v-2h-1v-2h-1v-3h-1v-2h-1v-2h-1v-2h-1v-2h-1v-2h-1v-2h-1v-2h-1v-1h-1v-2h-1v-1h-1v-2h-1v-1h-1v-1h-1v-1h-1v-1h-1v-1h-1v-1h-1v-1h-1v-1h-1v-1h-1v-1h-1v-1h-1v-1h-1v-1h-1v-1h-1v-1h-1v-1h-2v-1h-1v-1h-1v-1h-2v-1h-1v-1h-1v-1h-1v-1h-1v-1h-2v-1h-1v-1h-1v-1h-1v-1h-2v-1h-2v-1h-2v-1h-1v-1h-3v-1h-3v-1h-23v1h-2v-1h-1v1h-5v1h-5v1h-4v1h-3v1h-4v1h-3v1h-6v1h-1v-1h-5v1h-3v-1h-4v1h-2v-1h-5v-1h-3v-1h-3v-1h-4v-1h-2v-1h-2v-1h-1v-1h-2v-1h-1v-1h-2v-1h-1v-1h-1v-1h-2v-1h-1v-1h-1v-1h-2v-1h-1v-1h-2v-1h-2v-1h-1v-1h-3v-1h-2v-2h-1v1h-10v-1h-6v-1h-3v-1h-2v-1h-2v1h-1v-1h-1v1h-6v2h-1v-1h-2v-1h-2v1h-1v-1h-1v-1h-1v1h-3v1h-3v-1h-8v1h-3v1h-1v1h-1v-1h-2v1h-3v1h-9v-1h-1v1h-5v1h-4v-1h-2v1h-2v-1h-3v1h-4v-1h-3v-1h-2v-1h-1z"/>
<path fill="#0064b4" d="M69 108h2v1h1v1h1v-1h1v1h3v1h1v1h2v-1h4v1h1v-1h9v-1h1v-1h1v1h2v-1h3v1h1v-1h1v1h2v-1h6v-1h10v-1h3v-1h2v1h5v-1h2v-1h6v1h1v-1h2v1h1v-1h2v1h2v-1h1v1h9v1h3v1h3v1h1v-1h2v1h2v1h5v1h2v1h1v1h2v1h2v1h1v1h1v1h2v1h1v1h1v1h2v1h1v1h2v1h1v1h2v1h2v1h1v1h2v1h2v1h4v1h2v1h5v1h1v-1h2v1h7v-1h1v1h1v-1h1v1h3v-1h6v-1h2v-1h4v-1h3v-1h3v-1h8v-1h6v-1h8v-1h2v1h15v1h3v1h2v1h2v1h2v1h2v1h1v1h2v1h1v1h1v1h2v1h1v1h1v1h1v1h1v1h1v1h2v1h1v1h1v1h1v1h2v1h1v1h1v1h1v1h1v1h1v1h1v1h1v1h1v1h1v1h1v1h1v1h1v1h1v2h1v1h1v1h1v2h1v2h1v1h1v2h1v2h1v2h1v2h1v2h1v2h1v2h1v3h1v2h1v2h1v2h1v2h1v2h1v2h1v2h1v2h1v1h1v1h1v1h1v1h1v1h1v1h1v1h1v1h2v1h1v1h5v1h17v-1h4v-1h4v-1h3v-1h4v-1h3v-1h1v-1h5v-1h3v-1h3v-1h2v-1h4v-1h3v-1h4v-1h3v-1h6v-1h3v-1h4v-1h7v-1h3v-1h8v-1h5v-1h4v-1h1v1h5v-1h5v-1h1v-1h1v1h1v-1h2v-1h3v-1h1v1h1v1h-2v1h-4v1h-2v1h-2v1h-5v1h-6v-1h-3v1h-1v1h-3v-1h-1v1h-2v1h-4v-1h-1v1h-4v1h-5v1h-3v1h-5v1h-4v1h-1v-1h-2v1h-3v1h-2v1h-4v1h-3v1h-4v1h-3v1h-2v1h-3v1h-4v1h-3v1h-3v1h-4v1h-2v1h-4v1h-9v1h-2v-1h-2v1h-4v-1h-5v-1h-4v-1h-1v-1h-2v-1h-1v-1h-1v-1h-1v-1h-1v-1h-1v-1h-1v-1h-1v-2h-1v-1h-1v-2h-1v-2h-1v-2h-1v-2h-1v-2h-1v-2h-1v-3h-1v-2h-1v-2h-1v-2h-1v-2h-1v-3h-1v-1h-1v-2h-1v-2h-1v-2h-1v-1h-1v-2h-1v-1h-1v-2h-1v-1h-1v-1h-1v-1h-1v-1h-1v-1h-1v-1h-1v-1h-1v-1h-1v-1h-1v-1h-1v-1h-1v-1h-1v-1h-1v-1h-2v-1h-1v-1h-1v-1h-1v-1h-2v-1h-1v-1h-1v-1h-1v-1h-1v-1h-2v-1h-1v-1h-1v-1h-1v-1h-2v-1h-2v-1h-1v-1h-2v-1h-2v-1h-2v-1h-6v-1h-20v1h-4v1h-5v1h-7v1h-3v1h-3v1h-4v1h-5v1h-20v-1h-4v-1h-3v-1h-3v-1h-3v-1h-1v-1h-1v-1h-2v-1h-2v-1h-1v-1h-2v-1h-1v-1h-2v-2h-2v-1h-2v-1h-1v-1h-1v-1h-3v-1h-1v-1h-1v-1h-7v-2h-1v1h-1v-1h-1v1h-1v-1h-4v-1h-3v-1h-7v-1h-2v1h-3v-1h-1v1h-1v-1h-4v-1h-1v1h-2v1h-2v1h-2v-1h-6v1h-4v1h-3v-1h-1v1h-2v-1h-1v1h-4v1h-5v1h-5v-2h-1v2h-2v-1h-2v1h-1v1h-1v-1h-4v1h-1v-1h-2v1h-5v1h-1v1h-1v-2h-1v1h-1v-2h-1v1h-2v-1h-2v-1h-1v-1h-2z"/>
<path fill="#0064b4" d="M69 82h1v1h2v1h2v1h2v1h4v1h5v1h2v-1h3v1h1v1h1v-2h1v1h2v-1h1v1h2v-1h2v1h5v-1h2v1h3v-1h3v-1h5v-1h2v1h2v-1h3v1h1v-2h2v-1h1v1h4v-1h1v1h1v-1h7v-1h3v-1h1v1h2v1h6v-1h3v-1h4v1h3v-1h2v1h6v1h1v1h4v1h3v2h2v1h2v1h1v1h1v1h2v1h2v1h1v1h1v1h1v1h2v1h1v1h1v1h2v1h1v1h2v1h1v1h2v1h1v1h2v1h3v1h3v1h5v1h1v-1h1v1h1v-1h1v1h1v-1h8v-1h5v-1h2v-1h6v-1h5v-1h5v-1h9v-1h5v1h7v-1h1v1h9v1h2v1h2v1h2v1h2v1h2v1h1v1h2v1h1v1h1v1h1v1h2v1h1v1h1v1h1v1h1v1h2v1h1v1h1v1h1v1h1v1h1v1h2v1h1v1h1v1h1v1h1v1h1v1h1v1h1v1h1v1h1v1h1v1h1v2h1v1h1v1h1v2h1v1h1v2h1v2h1v2h1v2h1v1h1v3h1v2h1v2h1v2h1v3h1v1h1v2h1v2h1v2h1v2h1v1h1v1h1v1h1v2h1v1h1v1h1v1h2v1h1v1h2v1h2v1h2v1h3v1h5v1h8v-1h7v-1h5v-1h3v-1h2v-1h3v-1h4v-1h2v-1h4v-1h3v-1h3v-1h2v-1h4v-1h2v-1h4v-1h3v-1h4v-1h2v-1h6v-1h1v-1h2v-1h4v-1h2v-1h3v-1h5v-1h7v-1h3v-2h1v1h1v-1h2v-1h3v-1h3v1h1v-1h2v-1h2v-2h2v1h2v-2h1v3h-2v1h-4v1h-2v1h-4v1h-2v-1h-1v1h-1v1h-1v1h-3v1h-5v1h-2v-1h-1v1h-4v1h-4v1h-2v1h-2v1h-2v1h-1v-1h-1v1h-2v1h-3v1h-1v-1h-1v1h-2v1h-4v1h-4v1h-2v1h-3v1h-3v1h-4v1h-2v1h-3v1h-3v1h-3v1h-4v1h-3v1h-3v1h-3v1h-3v1h-6v1h-14v-1h-5v-1h-2v-1h-3v-1h-1v-1h-2v-1h-1v-1h-2v-1h-1v-2h-1v-1h-1v-1h-1v-1h-1v-1h-1v-2h-1v-1h-1v-2h-1v-2h-1v-2h-1v-2h-1v-2h-1v-2h-1v-2h-1v-3h-1v-2h-1v-2h-1v-2h-1v-1h-1v-2h-1v-2h-1v-2h-1v-1h-1v-1h-1v-1h-1v-2h-1v-1h-1v-1h-1v-1h-1v-1h-1v-1h-1v-1h-1v-1h-1v-1h-1v-1h-1v-1h-1v-1h-1v-1h-2v-1h-1v-1h-1v-1h-1v-1h-1v-1h-2v-1h-1v-1h-1v-1h-1v-1h-1v-1h-2v-1h-1v-1h-1v-1h-1v-1h-2v-1h-1v-1h-2v-1h-2v-1h-2v-1h-2v-1h-3v-1h-26v1h-1v-1h-1v1h-4v1h-5v1h-4v1h-4v1h-4v1h-6v1h-12v-1h-4v-1h-3v-1h-3v-1h-2v-1h-2v-1h-1v-1h-2v-1h-1v-1h-1v-1h-2v-1h-1v-1h-1v-1h-2v-1h-1v-1h-1v-1h-1v-1h-2v-1h-2v-1h-1v-1h-1v-1h-2v-1h-2v-1h-2v-1h-4v-1h-1v-1h-9v-1h-6v1h-4v1h-2v1h-1v-1h-2v-1h-9v1h-2v-1h-1v1h-1v1h-1v-1h-2v1h-3v-1h-1v1h-1v1h-3v1h-4v-1h-2v1h-4v1h-4v1h-3v-1h-3v1h-4v-1h-6v1h-4v-1h-2v1h-4v-1h-3v1h-1v-2h-3v1h-1v-2h-1v1h-1v-2h-2v-1h-1v1h-1v-2h-1z"/>
<path fill="#008b8b" d="M69 125h2v1h4v1h1v1h2v1h1v-1h1v-1h2v1h2v1h2v-1h1v1h1v1h2v-1h2v-1h2v1h1v-1h3v1h8v-1h3v-2h3v1h5v-1h2v1h2v-1h2v-1h1v1h1v-1h1v-1h3v1h3v-1h1v1h4v-1h1v1h3v-1h1v1h3v1h4v-1h1v1h1v1h3v1h1v-1h1v1h3v-1h2v2h4v1h5v1h4v1h1v1h2v1h1v1h1v1h1v1h1v1h1v1h1v1h1v1h1v1h1v1h1v1h1v1h2v1h2v1h1v1h2v1h3v1h3v1h3v1h4v1h4v1h11v1h7v-1h6v-1h4v-1h4v-1h6v-1h7v-1h9v-1h3v1h14v1h3v1h2v1h2v1h1v1h2v1h2v1h1v1h2v1h1v1h2v2h1v1h2v1h1v1h1v1h1v1h1v1h1v1h1v1h1v1h1v1h1v1h1v1h1v1h1v1h1v1h1v1h1v1h1v1h1v1h1v1h1v1h1v2h1v1h1v1h1v1h1v2h1v2h1v1h1v2h1v2h1v2h1v2h1v3h1v2h1v2h1v2h1v3h1v2h1v2h1v2h1v2h1v3h1v2h1v1h1v2h1v2h1v1h1v1h1v1h1v1h1v2h1v1h1v1h2v1h1v1h2v1h2v1h3v1h5v1h1v-1h4v1h1v-1h8v-1h3v-1h2v-1h3v-1h2v-1h2v-1h2v-1h3v-1h3v-1h5v-1h3v-1h4v-1h2v-1h3v-1h4v-1h4v-1h1v1h1v-1h4v-1h5v-1h3v-1h5v-1h6v-1h1v1h1v-1h6v-1h2v-1h3v-1h2v1h2v-1h1v1h4v-1h6v-1h4v-1h2v-1h1v2h-1v1h-3v1h-2v1h-4v-1h-1v1h-2v1h-7v-1h-1v1h-4v1h-2v1h-8v1h-7v1h-4v1h-1v-1h-1v1h-2v1h-6v1h-5v1h-4v1h-3v1h-4v1h-2v1h-5v1h-3v1h-4v1h-3v1h-3v1h-2v1h-2v1h-2v1h-3v1h-3v1h-5v1h-1v-1h-2v1h-10v-1h-4v-1h-3v-1h-1v-1h-2v-1h-1v-1h-2v-1h-1v-2h-1v-1h-1v-1h-1v-1h-1v-1h-1v-2h-1v-1h-1v-2h-1v-2h-1v-2h-1v-2h-1v-2h-1v-2h-1v-2h-1v-3h-1v-2h-1v-2h-1v-3h-1v-2h-1v-2h-1v-2h-1v-2h-1v-2h-1v-2h-1v-1h-1v-2h-1v-2h-1v-1h-1v-1h-1v-2h-1v-1h-1v-1h-1v-1h-1v-1h-1v-1h-1v-1h-1v-1h-1v-1h-1v-1h-1v-1h-1v-1h-1v-1h-1v-1h-1v-1h-1v-1h-1v-1h-1v-1h-1v-1h-1v-1h-1v-1h-1v-1h-2v-1h-1v-2h-2v-1h-1v-1h-2v-1h-1v-1h-2v-1h-2v-1h-2v-1h-2v-1h-2v-1h-3v-1h-17v1h-11v1h-6v1h-5v1h-4v1h-5v1h-15v-1h-9v-1h-3v-1h-5v-1h-2v-1h-2v-1h-3v-1h-2v-1h-1v-1h-2v-1h-2v-1h-1v-1h-1v-1h-1v-1h-1v-1h-1v-1h-1v-1h-1v-1h-1v-1h-1v-1h-1v-1h-2v-2h-5v-1h-1v-1h-8v-1h-2v1h-2v-1h-1v-1h-3v-1h-7v-1h-2v-1h-2v2h-3v-1h-9v-1h-4v1h-1v1h-1v-1h-1v1h-3v1h-2v-1h-2v1h-2v-1h-4v2h-4v1h-2v-1h-1v1h-7v-1h-1v1h-4v1h-2v-1h-6v-1h-1v-1h-2v1h-4v-1h-2v-1h-4v-2h-1z"/>
<path fill="#008b8b" d="M69 122h4v1h1v1h1v1h3v1h1v-1h2v-1h1v1h1v-1h1v1h1v-1h2v1h1v-1h3v1h2v-1h3v-1h3v1h4v-1h2v-1h1v1h9v-1h2v1h1v-1h1v-1h2v1h1v-2h2v1h2v-1h1v-1h3v1h4v1h1v-1h4v-1h1v1h4v1h3v-1h1v1h3v2h1v-1h2v2h7v1h1v-1h1v-1h2v1h3v1h2v1h2v1h2v1h1v1h2v1h1v1h1v1h2v1h1v1h1v1h1v1h1v1h1v1h1v1h2v1h1v1h2v1h2v1h1v1h3v1h3v1h3v1h4v1h4v1h9v-1h1v1h5v-1h9v-1h3v-1h5v-1h3v-1h7v-1h6v-1h23v1h3v1h3v1h1v1h2v1h2v1h2v1h1v1h2v1h1v1h2v1h1v1h1v1h1v1h1v1h1v1h2v1h1v1h1v1h1v1h1v1h1v1h2v1h1v1h1v1h1v1h1v1h1v1h1v1h1v1h1v1h1v1h1v1h1v1h1v2h1v1h1v2h1v1h1v2h1v2h1v2h1v2h1v2h1v2h1v2h1v2h1v2h1v2h1v2h1v2h1v2h1v2h1v2h1v2h1v1h1v1h1v2h1v1h1v1h1v1h1v1h2v1h1v1h2v1h2v1h4v1h16v-1h5v-1h3v-1h3v-1h3v-1h2v-1h3v-1h4v-1h1v-1h1v1h1v-1h2v-1h4v-1h4v-1h4v-1h2v-1h1v1h1v-1h3v-1h2v-1h9v-1h2v-1h2v-1h4v1h1v-1h6v-1h10v-1h1v-1h4v1h1v-1h1v-1h2v1h1v-1h1v-1h2v1h4v-1h7v-1h1v3h-1v-1h-2v1h-3v-1h-1v2h-6v-1h-1v1h-4v1h-6v1h-2v1h-2v-1h-1v1h-3v1h-1v-1h-4v1h-10v1h-2v1h-6v1h-5v1h-3v1h-4v1h-4v1h-2v1h-4v1h-4v1h-2v1h-4v1h-3v1h-3v1h-3v1h-3v1h-1v1h-5v1h-6v1h-6v-1h-4v1h-2v-1h-3v-1h-4v-1h-1v-1h-2v-1h-2v-1h-1v-1h-1v-1h-1v-1h-1v-1h-1v-2h-1v-1h-1v-1h-1v-2h-1v-2h-1v-2h-1v-2h-1v-2h-1v-2h-1v-2h-1v-2h-1v-2h-1v-2h-1v-3h-1v-1h-1v-3h-1v-1h-1v-2h-1v-2h-1v-2h-1v-1h-1v-1h-1v-2h-1v-1h-1v-1h-1v-1h-1v-1h-1v-1h-1v-1h-1v-1h-1v-1h-1v-1h-1v-1h-1v-1h-1v-1h-2v-1h-1v-1h-1v-1h-1v-1h-1v-1h-1v-1h-2v-1h-1v-1h-1v-1h-1v-1h-1v-1h-1v-1h-2v-1h-1v-1h-2v-1h-2v-1h-1v-1h-2v-1h-2v-1h-2v-1h-2v-1h-5v-1h-1v1h-2v-1h-1v1h-2v-1h-4v1h-3v-1h-1v1h-11v1h-5v1h-4v1h-4v1h-4v1h-6v1h-22v-1h-4v-1h-4v-1h-3v-1h-2v-1h-3v-1h-2v-1h-1v-1h-2v-1h-1v-1h-2v-1h-1v-1h-1v-1h-1v-1h-1v-1h-1v-1h-1v-1h-2v-1h-1v-1h-2v-1h-1v-1h-1v-1h-3v-1h-4v-1h-1v-1h-1v1h-2v1h-1v-1h-4v-1h-4v-1h-3v-1h-1v-1h-4v1h-1v-1h-2v1h-1v-1h-3v-1h-1v1h-4v-1h-1v1h-2v-1h-3v1h-2v1h-6v1h-4v1h-10v-1h-1v1h-3v1h-4v-1h-1v1h-2v1h-2v-1h-3v1h-1v-1h-1v1h-1v-1h-1v1h-2v-1h-3v1h-1v1h-2v-1h-2v-1h-1v-1h-1v-1h-3v-1h-1z"/>
<path fill="#00bec8" d="M69 155h5v1h4v1h1v-1h2v1h2v1h2v1h1v-1h7v1h4v-1h5v-1h1v1h4v-1h1v1h1v-1h2v-1h1v1h2v1h1v-1h4v-1h5v-1h2v1h10v-1h1v1h1v-1h3v1h4v-1h3v1h1v-1h2v1h1v-1h5v1h1v-1h4v2h4v1h2v1h1v1h1v-1h1v1h1v2h1v1h2v1h3v1h1v1h1v1h1v1h2v1h2v1h1v1h2v1h2v1h3v1h3v1h2v1h4v1h5v1h4v1h4v1h6v-1h9v-1h6v-1h5v-1h5v-1h8v-1h8v-1h13v1h5v1h2v1h3v1h1v1h2v1h2v1h2v1h1v1h2v1h1v1h2v1h1v1h1v1h1v1h2v1h1v1h2v1h1v1h1v1h1v1h2v1h1v1h1v1h2v1h1v1h1v1h1v1h1v1h1v1h1v1h1v1h1v1h1v1h1v1h1v2h1v1h1v2h1v2h1v2h1v2h1v2h1v1h1v3h1v2h1v2h1v2h1v1h1v3h1v1h1v2h1v2h1v2h1v1h1v2h1v1h1v1h1v2h1v1h1v1h1v1h2v1h1v1h1v1h1v1h2v1h1v1h2v1h4v1h3v1h1v-1h1v1h8v-1h6v-1h2v-1h2v-1h3v-1h2v-1h3v-1h2v-1h4v-1h3v-1h3v-1h4v-1h3v-1h2v-1h6v-1h5v-1h1v-1h7v-1h5v-1h4v-1h7v-1h8v-1h1v1h1v-1h2v-1h6v-1h5v-1h3v1h1v-1h3v-1h2v1h1v-1h1v1h3v1h-1v1h-2v-1h-1v1h-1v-1h-2v1h-4v1h-1v-1h-1v1h-1v-1h-3v1h-3v1h-2v-1h-1v1h-1v1h-9v1h-4v1h-7v1h-5v1h-6v1h-5v1h-3v1h-6v1h-3v1h-3v1h-2v1h-5v1h-3v1h-3v1h-4v1h-2v1h-2v1h-2v1h-3v1h-3v1h-5v1h-14v-1h-5v-1h-1v-1h-2v-1h-1v-1h-2v-1h-1v-1h-1v-1h-1v-1h-2v-1h-1v-1h-1v-1h-1v-2h-1v-1h-1v-2h-1v-1h-1v-2h-1v-1h-1v-2h-1v-2h-1v-2h-1v-2h-1v-2h-1v-2h-1v-2h-1v-2h-1v-2h-1v-2h-1v-1h-1v-2h-1v-3h-1v-1h-1v-2h-1v-1h-1v-2h-1v-1h-1v-1h-1v-1h-1v-1h-1v-1h-1v-1h-1v-1h-1v-1h-1v-1h-1v-1h-1v-1h-2v-1h-1v-1h-1v-1h-2v-1h-1v-1h-1v-1h-1v-1h-2v-1h-1v-1h-2v-1h-1v-1h-1v-1h-1v-1h-2v-1h-1v-1h-2v-1h-1v-1h-2v-1h-2v-1h-2v-1h-1v-1h-3v-1h-3v-1h-8v-1h-1v1h-10v1h-9v1h-6v1h-7v1h-4v1h-7v1h-2v-1h-1v1h-12v-1h-3v-1h-4v-1h-3v-1h-4v-1h-3v-1h-3v-1h-2v-1h-2v-1h-2v-1h-1v-1h-2v-1h-2v-1h-1v-1h-1v-1h-2v-1h-2v-1h-2v-1h-1v-2h-3v-1h-1v-1h-6v-2h-6v1h-1v-1h-1v1h-5v-1h-3v1h-3v-1h-3v1h-4v-1h-1v1h-5v-1h-1v1h-2v-1h-3v1h-4v1h-10v1h-1v-1h-2v1h-9v1h-2v-1h-1v1h-2v-1h-3v1h-1v-1h-1v1h-2v-1h-2v-1h-1v-1h-2v1h-2v-1h-1v-1h-1v1h-2v-1h-2v-1h-1v1h-2z"/>
<path fill="#00bec8" d="M69 161h1v1h3v-1h3v1h4v1h5v1h1v-1h1v1h3v1h1v-1h2v-1h1v1h3v-1h4v1h1v-1h5v-1h6v-1h1v-1h2v1h1v1h1v-2h2v1h2v-2h1v1h1v-1h2v1h1v-1h1v-1h4v-1h1v2h3v-1h4v1h1v-1h3v1h2v-1h1v1h4v1h1v1h2v-1h1v1h4v1h3v1h5v1h3v1h1v1h2v1h2v1h3v1h2v1h1v1h1v1h2v1h2v1h2v1h3v1h3v1h2v1h2v1h5v1h3v1h2v1h3v1h4v1h12v-1h8v-1h6v-1h7v-1h1v1h1v-1h5v-1h4v1h1v-1h3v1h1v-1h11v1h6v1h2v1h2v1h1v1h3v1h1v1h2v1h1v1h2v1h1v1h2v1h1v1h2v1h1v1h2v1h1v1h2v2h2v1h1v1h2v1h1v1h1v1h1v1h1v1h2v1h1v1h1v1h1v1h1v1h1v1h1v1h1v1h1v1h1v2h1v1h1v2h1v2h1v2h1v2h1v2h1v2h1v2h1v2h1v1h1v2h1v2h1v2h1v1h1v2h1v1h1v2h1v1h1v2h1v1h1v1h1v1h1v1h1v1h2v1h1v1h2v1h1v1h2v1h1v1h2v1h5v1h6v1h1v-1h6v-1h5v-1h2v-1h3v-1h1v-1h4v-1h2v-1h2v-1h5v-1h4v-1h2v-1h4v-1h3v-1h2v-1h4v-1h1v1h1v-1h2v-1h7v-1h4v-1h1v1h1v-1h5v-1h2v-1h5v1h1v-1h5v-1h1v-1h3v1h1v-1h3v-1h1v1h1v-1h8v-1h2v1h2v-1h2v-1h4v1h1v-1h2v2h-4v-1h-1v1h-3v1h-2v1h-1v-1h-2v1h-10v1h-1v-1h-1v1h-5v1h-3v1h-1v-1h-1v1h-8v1h-4v1h-7v1h-2v1h-1v-1h-3v1h-3v1h-4v1h-3v1h-4v1h-4v1h-2v1h-4v1h-4v1h-2v1h-3v1h-2v1h-3v1h-1v1h-3v1h-3v1h-5v1h-8v-1h-6v-1h-4v-1h-2v-1h-1v-1h-2v-1h-1v-1h-2v-1h-1v-1h-2v-1h-1v-1h-1v-1h-1v-1h-1v-1h-1v-2h-1v-1h-1v-2h-1v-2h-1v-1h-1v-2h-1v-1h-1v-2h-1v-2h-1v-2h-1v-1h-1v-2h-1v-2h-1v-2h-1v-2h-1v-2h-1v-2h-1v-2h-1v-1h-1v-2h-1v-1h-1v-1h-1v-1h-1v-1h-1v-1h-1v-1h-1v-1h-1v-1h-1v-1h-2v-1h-1v-1h-1v-1h-1v-1h-1v-1h-2v-1h-1v-1h-1v-1h-1v-1h-2v-1h-1v-1h-2v-1h-1v-1h-2v-1h-1v-1h-2v-1h-1v-1h-2v-1h-1v-1h-2v-1h-2v-1h-2v-1h-1v-1h-2v-1h-4v-1h-5v-1h-6v1h-13v1h-9v1h-8v1h-6v1h-8v1h-6v-1h-4v-1h-4v-1h-2v-1h-3v-1h-3v-1h-4v-1h-3v-1h-2v-1h-2v-1h-3v-1h-2v-1h-2v-1h-2v-1h-1v-1h-2v-1h-2v-1h-2v-1h-3v-1h-2v-1h-1v-1h-3v-1h-1v1h-2v-1h-2v-1h-3v-1h-6v-1h-4v-1h-2v1h-1v-1h-7v1h-4v-1h-5v1h-1v1h-2v-1h-1v1h-3v1h-2v-1h-1v2h-2v-1h-1v-1h-1v1h-1v1h-6v1h-1v1h-1v-1h-3v1h-1v-1h-2v1h-4v-1h-1v1h-1v-1h-1v1h-7v-1h-4v-1h-2v1h-4v-2h-2v2h-2v-2h-2z"/>
<path fill="#00008b" d="M69 160h3v1h2v1h1v-1h1v1h1v1h5v1h2v1h3v-1h1v1h1v1h3v1h1v-1h3v1h1v-1h3v-1h1v1h1v-1h7v-1h4v-1h8v-1h1v-1h7v-1h2v1h8v1h2v-1h1v1h3v-1h1v1h2v1h3v1h1v1h1v1h1v1h2v1h1v1h2v2h1v1h1v-1h1v1h1v1h1v1h1v1h2v1h1v1h1v1h1v1h2v1h1v2h2v2h2v1h1v1h1v1h1v1h2v1h1v1h1v1h1v1h1v1h1v1h1v1h2v1h1v1h1v1h1v1h5v1h2v-1h2v-1h1v-1h5v-1h2v1h3v-1h3v-1h2v-1h2v-1h2v-1h2v-1h3v-1h3v-1h4v-1h1v-1h2v-1h1v-1h1v-1h2v-1h5v-1h13v-1h1v1h1v-1h3v1h2v-1h5v1h3v-1h1v1h3v1h4v1h2v1h2v1h1v1h2v1h2v1h1v1h2v1h2v1h1v1h2v1h1v1h2v1h1v1h1v1h2v1h1v1h2v1h1v1h1v1h1v1h1v1h2v1h1v1h2v1h1v1h1v1h1v1h1v1h1v1h1v1h1v1h1v2h1v1h1v2h1v1h1v2h1v2h1v2h1v2h1v2h1v2h1v2h1v1h1v2h1v2h1v1h1v2h1v2h1v1h1v2h1v1h1v1h1v2h1v1h2v1h1v1h1v1h2v1h1v1h1v1h2v1h1v1h2v1h4v1h4v1h7v-1h5v-1h6v-1h1v-1h3v-1h2v-1h3v-1h3v-1h2v-1h2v-1h4v-1h5v-1h2v-1h2v1h1v-1h3v-1h2v-1h3v-1h6v-1h2v-1h1v1h1v-1h3v-1h3v1h2v-1h5v-1h5v-1h3v-1h2v1h4v-1h2v-1h5v-1h1v1h1v-1h5v-1h1v1h2v-1h2v1h1v-1h7v2h-3v-1h-1v1h-9v1h-2v-1h-1v1h-5v1h-5v1h-2v1h-2v-1h-3v1h-1v-1h-1v1h-4v1h-3v1h-7v-1h-1v1h-2v1h-4v1h-2v1h-2v-1h-1v1h-4v1h-2v1h-4v1h-4v1h-6v1h-2v1h-4v1h-1v1h-2v1h-4v1h-2v1h-2v1h-3v1h-3v1h-5v1h-13v-1h-4v-1h-3v-1h-2v-1h-1v-1h-2v-1h-1v-1h-1v-1h-2v-1h-1v-1h-1v-1h-1v-1h-2v-2h-1v-1h-1v-2h-1v-1h-1v-2h-1v-1h-1v-2h-1v-1h-1v-2h-1v-2h-1v-2h-1v-1h-1v-2h-1v-2h-1v-2h-1v-2h-1v-2h-1v-2h-1v-1h-1v-2h-1v-2h-1v-1h-1v-1h-1v-1h-1v-1h-1v-1h-1v-1h-1v-1h-1v-1h-1v-1h-2v-1h-1v-1h-2v-1h-1v-1h-1v-1h-1v-1h-1v-1h-2v-1h-1v-1h-2v-1h-1v-1h-1v-1h-2v-1h-2v-1h-1v-1h-2v-1h-1v-1h-2v-1h-1v-1h-2v-1h-2v-1h-1v-1h-2v-1h-3v-1h-4v-1h-25v1h-8v1h-3v1h-1v1h-1v1h-2v1h-1v1h-3v1h-3v1h-3v1h-3v1h-1v1h-3v1h-1v1h-3v1h-11v1h-1v1h-2v1h-6v-1h-3v-1h-1v-1h-1v-1h-1v-1h-2v-1h-1v-1h-1v-1h-1v-1h-1v-1h-1v-1h-1v-1h-2v-1h-1v-1h-1v-1h-1v-1h-2v-2h-2v-2h-1v-1h-2v-1h-1v-1h-2v-1h-2v-2h-2v-1h-2v-1h-1v-1h-1v-1h-1v-1h-1v-1h-3v-2h-1v-1h-2v-1h-2v-1h-1v-1h-3v1h-1v-1h-6v-1h-1v1h-6v-1h-1v1h-7v1h-1v1h-6v1h-2v-1h-1v1h-3v1h-1v-1h-1v1h-7v1h-3v1h-1v-1h-7v-1h-1v-1h-1v1h-2v-1h-1v1h-2v-1h-1v-1h-4v-1h-1v-1h-1v1h-2v-2h-2v-1h-1v1h-1z"/>
<path fill="#a08c00" d="M69 156h1v2h2v2h1v1h1v1h2v1h2v1h2v1h3v1h1v1h2v1h3v1h7v1h2v-1h1v-1h2v2h1v-1h7v-1h2v-1h2v1h3v-1h1v-1h2v-1h7v-1h3v1h1v-1h1v1h1v-1h2v-1h4v1h1v-1h2v-1h4v1h1v-1h4v-1h2v1h1v-1h2v1h1v-1h1v1h2v-1h2v1h2v-1h1v-1h2v1h3v1h3v1h2v1h2v1h1v1h1v1h2v2h2v2h2v1h1v1h1v1h1v1h2v1h2v1h1v1h2v1h2v1h2v1h2v1h1v1h3v1h2v1h4v1h4v1h12v-1h6v-1h3v-1h5v-1h12v-1h1v1h24v1h4v1h2v1h2v1h2v1h2v1h2v1h2v1h1v1h2v1h1v1h3v1h1v1h1v1h2v1h1v1h2v1h2v1h1v1h2v1h1v1h2v1h1v1h1v1h2v1h1v1h2v2h2v1h1v1h1v1h1v2h1v1h1v2h1v2h1v1h1v2h1v2h1v2h1v1h1v2h1v1h1v1h1v2h1v1h1v1h1v2h1v1h1v2h1v1h1v1h1v1h1v1h1v1h2v1h1v1h2v1h1v1h2v1h2v1h3v1h4v1h3v1h7v-1h6v-1h4v-1h3v-1h3v-1h2v-1h1v-1h3v-1h4v-1h2v-1h4v-1h4v-1h2v-1h5v-1h3v-1h2v-1h3v-1h6v-1h10v-1h3v-1h2v1h1v-1h2v-1h1v1h1v-1h5v-1h2v-1h2v-1h3v1h1v-1h2v1h1v-1h4v-1h4v1h1v-1h2v-1h9v2h-4v1h-1v-1h-4v1h-7v1h-6v1h-1v-1h-1v1h-1v-1h-1v1h-2v1h-3v1h-1v-1h-2v1h-3v1h-2v1h-2v-1h-2v1h-6v1h-3v1h-1v-1h-3v1h-2v-1h-1v1h-5v1h-1v1h-4v1h-4v1h-3v1h-2v1h-1v-1h-1v1h-4v1h-2v1h-4v1h-3v1h-1v1h-2v1h-2v1h-3v1h-3v1h-4v1h-15v-1h-3v-1h-3v-1h-2v-1h-2v-1h-2v-1h-1v-1h-2v-1h-1v-1h-2v-1h-1v-1h-1v-1h-1v-1h-1v-1h-1v-2h-1v-1h-1v-2h-1v-1h-1v-1h-1v-2h-1v-1h-1v-2h-1v-1h-1v-2h-1v-1h-1v-2h-1v-2h-1v-1h-1v-2h-1v-2h-1v-1h-1v-2h-1v-1h-1v-1h-1v-1h-2v-2h-2v-1h-1v-1h-2v-1h-1v-1h-1v-1h-2v-1h-1v-1h-2v-1h-1v-1h-2v-1h-2v-1h-1v-1h-2v-1h-1v-1h-1v-1h-3v-1h-1v-1h-2v-1h-2v-1h-2v-1h-1v-1h-2v-1h-2v-1h-2v-1h-3v-1h-6v-1h-31v1h-5v1h-3v1h-4v1h-7v1h-1v-1h-3v1h-2v-1h-6v-1h-3v-1h-3v-1h-2v-1h-3v-1h-2v-1h-1v-1h-2v-1h-3v-1h-1v-1h-2v-1h-1v-1h-2v-1h-1v-1h-2v-2h-2v-2h-2v-1h-1v-1h-1v-1h-1v-1h-2v-1h-1v-1h-2v-1h-1v1h-2v-1h-2v-1h-2v1h-1v1h-2v-1h-2v1h-1v-1h-2v1h-1v-1h-3v1h-4v-1h-1v1h-1v1h-1v-1h-1v-1h-1v1h-3v1h-3v-1h-1v1h-2v1h-8v1h-7v1h-2v1h-3v1h-1v-1h-2v1h-1v1h-2v-1h-1v1h-5v1h-1v-2h-1v1h-11v-1h-3v-1h-3v-1h-1v-1h-1v-1h-2v1h-1v-1h-1v-1h-2v-1h-2v-2h-1v-1h-1v-2h-2z"/>
<path fill="#b45f00" d="M69 162h1v2h2v2h1v1h2v1h2v1h2v1h1v1h6v1h2v1h1v-1h4v-1h2v1h1v1h1v-1h1v1h2v1h1v-1h2v-1h4v-1h1v-1h3v-1h11v-1h2v-1h4v-1h2v-1h4v-1h6v-1h2v-1h2v1h1v-1h3v1h3v-1h9v-1h1v-1h1v1h1v1h9v1h2v1h1v1h1v1h2v1h1v1h1v1h1v1h1v1h1v1h1v1h1v1h1v1h1v1h2v1h1v1h2v1h2v1h1v1h2v1h2v1h3v1h2v1h2v1h3v1h5v1h5v1h4v1h5v-1h3v-1h2v-1h3v-1h3v-1h4v-1h4v1h1v-1h4v1h4v-1h8v1h1v-1h5v1h8v1h4v1h1v1h2v1h2v1h2v1h2v1h1v1h2v1h1v1h2v1h1v1h2v1h1v1h2v1h1v1h2v1h1v1h1v1h2v1h1v1h2v1h1v1h1v1h1v1h2v1h1v1h1v1h1v1h1v1h1v1h1v1h1v1h1v1h1v2h1v1h1v2h1v2h1v2h1v2h1v2h1v2h1v1h1v2h1v2h1v1h1v2h1v2h1v1h1v2h1v1h1v2h1v1h1v1h1v1h1v1h1v1h1v1h1v1h1v1h2v1h2v1h1v1h2v1h2v1h3v1h5v1h9v-1h6v-1h2v-1h4v-1h2v-1h1v-1h4v-1h2v-1h3v-1h4v-1h2v-1h5v-1h3v-1h5v-1h4v-1h2v-1h5v-1h5v-1h8v-1h3v1h1v-1h1v-1h1v1h1v-1h4v-1h7v-1h1v-1h2v1h2v-1h2v1h1v-2h2v1h3v-1h6v-1h7v2h-8v1h-3v-1h-1v1h-1v1h-10v1h-1v-1h-1v1h-1v1h-7v1h-2v-1h-1v1h-3v1h-6v1h-2v-1h-1v1h-6v1h-7v1h-1v1h-4v1h-3v1h-1v-1h-1v1h-3v1h-4v1h-4v1h-3v1h-3v1h-3v1h-3v1h-2v1h-2v1h-4v1h-2v1h-6v1h-3v1h-3v-1h-1v1h-1v-1h-6v-1h-3v-1h-2v-1h-2v-1h-2v-1h-2v-1h-1v-1h-2v-1h-1v-1h-1v-1h-1v-1h-1v-1h-1v-1h-1v-1h-1v-1h-1v-2h-1v-1h-1v-2h-1v-1h-1v-2h-1v-2h-1v-2h-1v-1h-1v-2h-1v-1h-1v-3h-1v-1h-1v-2h-1v-2h-1v-2h-1v-2h-1v-1h-1v-2h-1v-1h-1v-1h-1v-1h-1v-1h-1v-2h-2v-1h-1v-1h-1v-1h-2v-1h-1v-1h-1v-1h-1v-1h-2v-1h-1v-1h-2v-1h-1v-1h-1v-1h-2v-1h-1v-1h-2v-1h-1v-1h-2v-1h-1v-1h-2v-1h-1v-1h-2v-1h-1v-1h-2v-1h-2v-1h-2v-1h-2v-1h-2v-1h-4v-1h-34v1h-4v1h-4v1h-2v1h-3v1h-8v-1h-4v-1h-5v-1h-5v-1h-2v-1h-3v-1h-2v-1h-2v-1h-2v-1h-2v-1h-2v-1h-1v-1h-2v-1h-1v-1h-2v-1h-1v-1h-1v-1h-1v-1h-1v-1h-1v-1h-1v-1h-1v-1h-1v-1h-1v-1h-2v-1h-1v-1h-1v-1h-5v-1h-2v1h-2v-1h-5v2h-1v-1h-4v1h-1v-1h-3v1h-2v-1h-3v1h-2v-1h-1v1h-2v1h-7v1h-3v1h-2v1h-2v1h-1v-1h-1v1h-3v2h-2v-2h-1v1h-3v-1h-1v2h-1v-1h-2v1h-3v2h-3v-1h-1v1h-1v1h-5v-1h-7v-1h-1v2h-2v-1h-3v-1h-2v-1h-5v-1h-1v-1h-3v-1h-1v-1h-1v-1h-1v-2h-2z"/>
<path fill="#000000" d="M69 93h1v1h1v1h3v1h2v1h1v-1h6v-1h3v1h2v-1h1v1h3v-1h2v1h7v-1h11v-1h7v-1h2v-1h1v-1h3v1h8v-1h3v-1h4v1h1v-1h2v1h1v-1h1v-1h3v1h1v-1h1v1h1v-1h2v1h1v-1h4v1h4v1h5v1h2v1h2v-1h1v1h5v1h1v1h2v1h3v1h1v1h2v1h1v1h2v1h1v1h2v1h1v1h2v1h1v1h1v1h1v1h2v1h2v1h2v1h2v1h4v1h5v1h1v-1h15v-1h4v-1h4v-1h3v-1h3v-1h4v-1h5v-1h6v-1h25v1h3v1h2v1h2v1h2v1h2v1h1v1h2v1h1v1h1v1h1v1h2v1h1v1h1v1h1v1h1v1h2v1h1v1h1v1h1v1h1v1h1v1h1v1h1v1h1v1h1v1h1v1h1v1h1v1h1v1h1v1h1v1h1v1h1v1h1v2h1v1h1v1h1v2h1v1h1v2h1v2h1v2h1v1h1v2h1v3h1v2h1v2h1v3h1v2h1v2h1v2h1v3h1v2h1v2h1v2h1v2h1v2h1v1h1v1h1v1h1v2h2v1h1v1h1v1h1v1h2v1h3v1h9v1h3v-1h2v1h1v-1h7v-1h4v-1h1v-1h4v-1h4v-1h4v-1h3v-1h1v-1h4v-1h3v-1h3v-1h2v-1h2v-1h5v-1h3v-1h3v-1h2v-1h3v-1h7v-1h4v-1h2v-1h2v-1h5v1h1v-1h5v-1h1v1h1v-1h3v-1h6v-1h2v1h1v-1h1v-1h2v-1h3v-1h4v-1h2v1h-1v2h-4v1h-3v1h-2v1h-3v1h-1v-1h-2v1h-5v1h-3v1h-1v-1h-2v1h-10v1h-3v1h-4v1h-3v1h-1v-1h-1v1h-3v1h-4v1h-2v1h-3v1h-2v1h-5v1h-2v1h-4v1h-3v1h-3v1h-2v1h-3v1h-3v1h-5v1h-2v1h-3v1h-3v1h-5v1h-18v-1h-4v-1h-1v-1h-2v-1h-1v-1h-1v-1h-1v-1h-2v-2h-1v-1h-1v-1h-1v-2h-1v-1h-1v-2h-1v-2h-1v-2h-1v-3h-1v-2h-1v-2h-1v-2h-1v-3h-1v-2h-1v-2h-1v-2h-1v-3h-1v-2h-1v-2h-1v-1h-1v-2h-1v-2h-1v-1h-1v-2h-1v-1h-1v-2h-1v-1h-1v-1h-1v-1h-1v-1h-1v-1h-1v-1h-1v-1h-1v-1h-1v-1h-1v-1h-1v-1h-1v-1h-1v-2h-2v-1h-1v-1h-1v-1h-1v-1h-1v-1h-2v-1h-1v-1h-1v-1h-1v-1h-1v-1h-2v-1h-1v-1h-1v-1h-1v-1h-2v-1h-1v-1h-3v-1h-1v-1h-2v-1h-3v-1h-4v-1h-20v1h-4v1h-7v1h-3v1h-4v1h-4v1h-2v1h-4v1h-4v1h-16v-1h-6v-1h-3v-1h-2v-1h-2v-1h-2v-1h-2v-1h-1v-1h-1v-1h-1v-1h-2v-1h-1v-1h-2v-1h-1v-1h-2v-1h-1v-1h-2v-1h-2v-1h-3v-1h-1v-1h-5v-1h-1v1h-1v-1h-3v-1h-5v-1h-4v-1h-2v1h-3v-1h-2v1h-1v-1h-5v1h-1v1h-1v-1h-3v1h-1v-1h-1v1h-1v-1h-1v1h-2v1h-1v-1h-2v1h-4v-1h-3v-1h-1v1h-1v1h-1v1h-6v1h-7v1h-4v1h-1v-1h-1v1h-7v1h-1v-2h-1v1h-4v-1h-1v1h-2v-1h-3v1h-7v1h-2v-1h-1v-1h-2v-1h-1v-1h-1z"/>
<path fill="#008b8b" d="M69 57h5v2h2v-1h4v1h1v1h2v1h2v-1h1v1h5v1h1v-1h3v1h2v-1h2v1h1v-1h1v1h2v-1h1v-1h4v1h2v-1h4v-1h4v1h1v-2h2v1h1v-1h2v2h2v-1h1v-1h6v-1h1v1h1v-1h2v1h1v-1h13v1h1v-1h1v-1h2v1h1v-1h1v-1h3v1h1v1h4v-1h3v1h3v1h3v1h2v1h1v1h1v-1h1v1h2v1h1v1h2v1h1v1h2v1h1v1h2v1h2v1h1v1h1v1h1v1h2v1h1v1h2v1h1v1h3v1h1v1h2v1h2v1h3v1h3v1h4v1h15v-1h3v-1h3v-1h5v-1h5v-1h9v-1h18v1h8v1h3v1h2v1h2v1h1v1h2v1h2v1h1v1h1v1h2v1h1v1h2v1h1v1h1v1h1v1h2v2h2v1h1v1h1v1h1v1h1v1h2v1h1v1h2v1h1v1h1v1h1v1h1v1h1v1h1v1h1v1h1v1h1v1h1v2h1v1h1v1h1v2h1v1h1v2h1v3h1v3h1v3h1v3h1v3h1v3h1v2h1v2h1v3h1v1h1v2h1v3h1v1h1v2h1v2h1v1h1v1h1v2h1v1h1v1h1v1h1v1h2v1h1v1h2v1h2v1h5v1h2v1h12v-1h5v-1h2v-1h4v-1h2v-1h3v-1h2v-1h1v-1h1v-1h4v-1h2v-1h2v-1h2v-1h3v-1h3v-1h3v-1h2v1h1v-1h3v-1h4v-1h5v-1h2v-1h7v-1h2v-1h5v-1h1v-1h1v-1h2v-1h3v-1h1v-1h2v-1h3v-1h1v-1h1v-1h3v-1h6v-1h2v-1h2v-1h1v1h1v-1h2v-1h4v3h-1v-2h-1v1h-2v1h-2v1h-4v1h-4v1h-4v1h-2v1h-2v1h-1v1h-4v1h-1v1h-3v1h-2v1h-1v1h-1v1h-3v1h-2v1h-6v1h-3v1h-4v1h-6v1h-4v1h-5v1h-3v1h-2v1h-3v1h-3v1h-2v1h-2v1h-3v1h-1v1h-2v1h-3v1h-1v1h-4v1h-3v1h-4v1h-3v1h-10v-1h-2v-1h-5v-1h-2v-1h-2v-1h-2v-1h-1v-1h-2v-1h-1v-1h-1v-1h-1v-1h-1v-2h-1v-1h-1v-1h-1v-2h-1v-2h-1v-2h-1v-2h-1v-2h-1v-2h-1v-2h-1v-2h-1v-3h-1v-2h-1v-3h-1v-3h-1v-3h-1v-4h-1v-2h-1v-2h-1v-1h-1v-2h-1v-1h-1v-2h-1v-1h-1v-1h-1v-1h-1v-1h-1v-1h-1v-1h-1v-1h-1v-1h-1v-1h-1v-1h-1v-1h-2v-1h-1v-1h-2v-1h-1v-1h-1v-1h-1v-1h-1v-1h-1v-1h-1v-1h-2v-1h-1v-1h-1v-1h-2v-1h-1v-1h-1v-1h-2v-1h-1v-1h-1v-1h-2v-1h-2v-1h-1v-1h-3v-1h-2v-1h-4v-1h-1v1h-1v-1h-8v-1h-3v1h-3v-1h-5v1h-7v1h-1v-1h-1v1h-4v1h-5v1h-5v1h-3v1h-6v1h-6v-1h-2v1h-1v-1h-4v-1h-4v-1h-2v-1h-2v-1h-2v-1h-2v-1h-3v-1h-1v-1h-1v-1h-2v-1h-1v-1h-2v-1h-1v-1h-1v-1h-1v-1h-2v-1h-2v-1h-1v-1h-2v-1h-1v-1h-2v-1h-1v-1h-4v-1h-3v-2h-1v1h-2v-1h-1v-1h-4v1h-3v-1h-2v-1h-3v1h-4v1h-3v-1h-3v2h-1v-1h-14v1h-2v1h-1v-1h-2v2h-3v-1h-8v-1h-1v1h-1v1h-4v1h-2v-1h-4v1h-1v1h-2v-1h-2v1h-1v1h-2v-2h-7v-1h-1v1h-1v-1h-2v1h-1v-1h-2v-1h-4v-1h-5v-1h-3v-1h-1z"/>
<path fill="#00be28" d="M69 58h1v1h1v1h2v-1h3v1h3v1h2v1h4v1h2v1h3v1h1v-1h2v1h1v-1h5v1h2v-1h9v-1h4v-1h2v1h1v-1h4v-1h1v-1h2v1h4v-2h2v2h4v-1h2v1h1v-1h4v1h1v-1h7v-1h2v1h1v-1h2v2h1v-1h3v-1h1v1h2v-1h1v1h1v-1h2v1h5v-1h2v1h3v1h2v1h2v1h3v1h2v1h1v1h1v1h1v1h2v1h1v1h2v1h2v1h1v1h2v1h1v1h2v1h1v1h2v1h2v1h1v1h2v1h2v1h2v1h2v1h3v1h15v-1h4v-1h3v-1h2v-1h3v-1h4v-1h5v-1h9v-1h19v1h5v1h2v1h2v1h2v1h2v1h2v1h1v1h2v1h1v1h1v1h2v1h1v1h1v1h1v1h2v1h1v1h1v1h1v1h2v1h1v1h1v1h1v1h1v1h2v1h1v1h1v1h1v1h1v1h2v2h2v1h1v2h1v1h1v1h1v2h1v1h1v1h1v2h1v2h1v2h1v3h1v3h1v4h1v3h1v2h1v3h1v2h1v2h1v2h1v2h1v2h1v2h1v2h1v1h1v2h1v1h1v1h1v1h1v1h1v1h1v1h1v1h1v1h1v1h2v1h2v1h5v1h3v1h10v-1h5v-1h2v-1h4v-1h3v-1h2v-1h2v-1h2v-1h2v-1h1v-1h3v-1h2v-1h3v-1h3v-1h3v-1h1v-1h1v1h1v-1h4v-1h3v-1h2v-1h1v1h1v-1h5v-1h3v-1h1v1h2v-1h5v-1h1v-1h3v-1h1v-1h2v-1h1v-1h3v-1h2v-1h1v-1h2v-1h4v-1h3v-1h2v-1h3v-1h1v1h1v-1h2v-1h3v-1h1v-1h1v1h2v-1h1v2h-1v1h-5v1h-3v1h-2v1h-1v-1h-1v2h-1v-1h-2v1h-2v1h-5v1h-1v1h-2v1h-1v1h-4v1h-1v1h-2v1h-1v1h-1v1h-1v-1h-1v1h-1v1h-1v1h-1v-1h-1v1h-2v1h-1v-1h-4v1h-2v1h-7v1h-2v1h-4v1h-5v1h-2v1h-4v1h-2v1h-3v1h-2v1h-1v1h-3v1h-2v1h-2v1h-2v1h-3v1h-2v1h-3v1h-3v1h-8v1h-2v-1h-5v-1h-5v-1h-3v-1h-2v-1h-2v-1h-1v-1h-1v-1h-1v-1h-1v-1h-1v-1h-1v-1h-1v-1h-1v-1h-1v-2h-1v-1h-1v-2h-1v-2h-1v-2h-1v-2h-1v-2h-1v-2h-1v-2h-1v-3h-1v-3h-1v-3h-1v-3h-1v-3h-1v-3h-1v-2h-1v-2h-1v-2h-1v-1h-1v-2h-1v-1h-1v-1h-1v-2h-1v-1h-1v-1h-1v-1h-1v-1h-2v-1h-1v-1h-1v-1h-1v-1h-1v-1h-2v-1h-1v-1h-1v-1h-1v-1h-1v-1h-2v-1h-1v-1h-1v-1h-1v-1h-2v-1h-1v-1h-1v-1h-1v-1h-2v-1h-1v-1h-1v-1h-2v-1h-2v-1h-1v-1h-2v-1h-2v-1h-2v-1h-4v-1h-5v-1h-1v1h-19v1h-8v1h-4v1h-4v1h-2v1h-3v1h-2v1h-6v1h-3v-1h-1v1h-6v-1h-4v-1h-3v-1h-2v-1h-1v-1h-2v-1h-2v-1h-1v-1h-2v-1h-2v-1h-2v-1h-1v-1h-1v-1h-2v-1h-1v-1h-2v-1h-2v-1h-1v-1h-2v-1h-1v-1h-1v-1h-2v-1h-1v-1h-5v-1h-1v-1h-3v-1h-4v1h-2v-1h-2v2h-1v-1h-1v-1h-1v1h-11v-1h-1v1h-1v-1h-2v1h-12v1h-4v-1h-3v1h-3v-1h-1v1h-2v1h-2v-1h-1v1h-2v1h-1v-1h-1v1h-3v1h-4v-1h-1v1h-1v-1h-2v1h-2v1h-2v-1h-3v1h-2v-1h-6v-1h-3v-1h-5v-2h-4v-1h-1v2h-1v-2h-1v1h-2v-1h-2z"/>
<path fill="#00bec8" d="M69 61h4v1h1v-1h1v1h4v1h6v1h1v-1h1v1h1v1h2v-1h3v1h3v1h1v-1h2v-1h2v1h1v-1h6v-1h1v2h1v-1h1v-1h1v-1h6v-1h1v1h1v-1h4v-1h1v1h2v-1h1v-1h3v1h5v-1h2v1h8v-1h4v-1h4v1h6v1h2v-1h4v-1h3v1h2v-1h3v1h3v1h1v-1h1v1h2v1h1v1h1v1h2v1h2v1h1v1h1v1h2v1h2v1h1v1h2v1h2v1h2v1h2v1h3v1h3v1h2v1h4v1h4v1h6v-1h3v1h3v-1h4v-1h6v-1h3v-1h3v-1h5v-1h6v-1h8v-1h5v1h1v-1h3v1h6v-1h1v1h5v1h2v1h3v1h3v1h2v1h2v1h1v1h1v1h2v1h1v1h1v1h2v1h1v1h1v1h1v1h1v1h1v1h1v1h1v1h1v1h1v1h1v1h1v1h2v1h1v1h1v1h1v1h2v1h1v1h1v1h1v1h1v1h1v1h1v1h1v2h1v2h1v1h1v2h1v2h1v2h1v3h1v2h1v3h1v2h1v4h1v4h1v3h1v3h1v1h1v2h1v1h1v2h1v2h1v1h1v2h1v1h1v2h1v1h1v2h1v1h1v1h1v1h1v1h1v1h1v1h1v1h2v1h2v1h5v1h10v-1h4v-1h2v-1h2v-1h2v-1h3v-1h2v-1h2v-1h2v-1h3v-1h2v-1h2v-1h2v-1h3v-1h3v-1h2v-1h3v-1h3v-1h2v-1h3v-1h4v-1h4v-1h2v-1h2v-1h5v-2h3v-1h5v-1h1v-1h3v-1h2v-1h1v-1h1v-1h2v-1h2v-2h2v-1h2v-1h2v-1h1v1h1v-2h3v-1h2v-1h4v1h2v1h1v-1h4v1h-2v1h-5v-1h-3v1h-3v1h-2v1h-2v1h-1v-1h-1v2h-4v2h-2v1h-1v1h-2v2h-2v1h-2v1h-3v1h-2v1h-4v1h-2v1h-3v1h-3v1h-3v1h-4v1h-3v1h-3v1h-3v1h-3v1h-2v1h-3v1h-1v1h-5v1h-1v1h-3v1h-1v1h-3v1h-3v1h-2v1h-2v1h-3v1h-2v1h-2v1h-2v1h-4v1h-3v1h-4v-1h-1v1h-1v-1h-5v-1h-4v-1h-1v-1h-2v-1h-1v-1h-1v-1h-1v-1h-1v-1h-1v-1h-1v-2h-1v-1h-1v-2h-1v-1h-1v-2h-1v-1h-1v-2h-1v-1h-1v-2h-1v-1h-1v-2h-1v-1h-1v-3h-1v-3h-1v-4h-1v-4h-1v-3h-1v-2h-1v-3h-1v-2h-1v-2h-1v-2h-1v-2h-1v-2h-1v-1h-1v-2h-1v-1h-1v-1h-1v-1h-1v-1h-1v-1h-1v-1h-1v-1h-2v-1h-1v-1h-1v-1h-1v-1h-2v-1h-1v-1h-1v-1h-1v-1h-1v-1h-1v-1h-1v-1h-1v-1h-1v-1h-1v-1h-1v-1h-1v-1h-2v-1h-1v-1h-1v-1h-2v-1h-1v-1h-1v-1h-2v-1h-2v-1h-3v-1h-3v-1h-3v-1h-20v1h-1v-1h-2v1h-7v1h-6v1h-3v1h-4v1h-4v1h-5v1h-17v-1h-4v-1h-2v-1h-2v-1h-3v-1h-3v-1h-2v-1h-2v-1h-2v-1h-2v-1h-1v-1h-2v-1h-2v-1h-1v-1h-1v-1h-2v-1h-2v-1h-1v-1h-4v-1h-1v-1h-5v1h-1v-1h-5v1h-11v1h-1v-2h-4v1h-3v1h-2v-1h-4v1h-2v-1h-3v1h-4v-1h-1v1h-6v1h-8v1h-1v-1h-1v1h-2v2h-3v1h-2v-2h-2v1h-3v1h-1v-1h-2v2h-1v-1h-1v1h-1v-1h-2v-1h-2v1h-1v-1h-5v-1h-3v-1h-2v1h-5v-1h-1v-1h-1v1h-2v-1h-3z"/>
<path fill="#b45f00" d="M69 58h3v1h2v1h5v1h2v1h2v-1h1v1h7v1h1v-1h4v2h2v-1h3v-1h1v1h5v-1h3v1h2v-1h4v-1h6v-1h2v1h3v-1h3v1h1v-1h5v-1h1v-1h1v1h3v1h1v-1h2v-1h2v1h1v-1h3v-1h3v1h1v-1h1v1h1v-1h5v1h1v-1h1v1h1v-1h3v1h3v-1h1v1h5v1h3v1h1v1h2v1h2v1h1v1h2v1h2v1h1v1h1v1h2v1h2v1h2v1h1v1h2v1h1v1h2v1h2v1h2v1h2v1h2v1h3v1h5v1h16v-1h4v-1h6v-1h7v-1h8v-1h23v1h4v1h2v1h3v1h2v1h2v1h1v1h2v1h2v1h1v1h2v1h1v1h1v1h2v1h1v1h1v1h2v1h1v1h2v1h1v1h1v1h1v1h2v1h1v1h1v1h1v1h1v1h1v1h2v1h1v1h1v1h1v1h1v1h1v1h1v1h1v1h1v1h1v1h1v2h1v2h1v2h1v2h1v3h1v3h1v2h1v3h1v2h1v2h1v1h1v1h1v2h1v2h1v2h1v2h1v2h1v2h1v1h1v1h1v1h1v1h1v1h2v1h1v1h3v1h2v1h15v-1h4v-1h2v-1h2v-1h2v-1h2v-1h3v-1h2v-1h3v-1h3v-1h1v-1h4v-1h2v-1h4v-1h3v-1h5v-1h5v-1h3v-1h3v-1h7v-1h8v-1h3v-1h2v-1h1v-1h2v-1h2v-1h3v-1h2v1h1v-1h3v-1h1v-1h2v-1h2v-1h1v1h1v-1h5v-1h2v1h5v-1h1v3h-5v-1h-2v1h-6v1h-1v-1h-1v1h-1v1h-2v1h-2v1h-6v1h-3v1h-1v1h-3v1h-1v1h-3v1h-4v1h-7v1h-6v1h-4v1h-5v1h-4v1h-3v1h-3v1h-4v1h-4v1h-2v1h-3v1h-2v1h-3v1h-3v1h-1v1h-2v1h-3v1h-2v1h-4v1h-3v1h-10v-1h-4v-1h-3v-1h-2v-1h-1v-1h-2v-1h-1v-1h-1v-1h-1v-1h-1v-2h-1v-1h-1v-2h-1v-2h-1v-2h-1v-2h-1v-2h-1v-1h-1v-1h-1v-2h-1v-2h-1v-3h-1v-3h-1v-2h-1v-3h-1v-2h-1v-2h-1v-2h-1v-2h-1v-1h-1v-1h-1v-1h-1v-1h-1v-1h-1v-1h-1v-1h-1v-1h-1v-1h-1v-1h-2v-2h-2v-1h-1v-1h-1v-1h-1v-1h-2v-1h-1v-1h-1v-1h-1v-1h-2v-1h-1v-1h-2v-1h-1v-1h-1v-1h-2v-1h-1v-1h-1v-1h-2v-1h-1v-1h-2v-1h-2v-1h-2v-1h-1v-1h-2v-1h-3v-1h-3v-1h-4v-1h-1v1h-2v-1h-4v1h-2v-1h-2v1h-1v-1h-3v1h-11v1h-7v1h-6v1h-4v1h-5v1h-6v-1h-1v1h-3v-1h-1v1h-1v-1h-5v-1h-4v-1h-2v-1h-2v-1h-2v-1h-2v-1h-2v-1h-2v-1h-2v-1h-1v-1h-2v-1h-1v-1h-2v-1h-2v-1h-1v-1h-1v-1h-2v-1h-2v-1h-1v-1h-2v-1h-2v-1h-2v-1h-6v-1h-1v1h-4v-1h-2v1h-3v-1h-3v-1h-1v2h-2v-1h-7v1h-4v1h-1v1h-3v-1h-2v-1h-1v1h-3v1h-4v1h-2v-1h-2v2h-1v-1h-1v-1h-2v1h-1v1h-3v-1h-1v1h-3v-1h-1v1h-1v1h-8v1h-1v-2h-2v1h-2v1h-3v-1h-1v-1h-8v-1h-1v1h-2v-1h-8v-1h-2v-1h-3v-1h-2z"/>
<path fill="#283ca0" d="M69 65h1v1h1v-1h1v1h3v1h3v1h1v1h1v-1h2v1h2v-1h1v1h2v-1h2v1h3v1h4v1h2v1h1v-2h2v-1h2v1h4v-1h1v1h2v-1h2v1h1v-1h4v-1h2v1h6v-1h2v-1h6v-1h1v1h2v-1h1v1h1v-2h1v1h3v1h4v-1h1v1h1v-1h3v-1h1v1h1v-1h4v1h3v-1h2v1h1v-1h2v1h5v1h4v1h4v1h2v1h3v1h2v1h2v1h2v1h1v1h2v1h1v1h2v1h1v1h1v1h1v1h1v1h1v1h1v1h2v1h1v1h1v1h1v1h2v1h1v1h1v1h1v1h2v1h1v1h3v1h8v1h2v-1h5v-1h1v-1h2v-1h2v-1h2v-1h3v-1h2v-1h5v-1h22v-1h1v1h9v1h4v1h3v1h3v1h2v1h3v1h1v1h2v1h2v1h1v1h1v1h1v1h2v1h2v1h1v1h1v1h2v1h1v1h1v1h2v1h1v1h1v1h1v1h1v1h1v1h2v1h1v1h1v1h1v1h1v1h1v1h1v1h1v1h1v1h1v2h1v2h1v2h1v2h1v2h1v2h1v3h1v2h1v3h1v2h1v2h1v2h1v2h1v2h1v2h1v1h1v1h1v2h1v1h1v1h1v1h1v1h1v2h2v1h1v2h2v1h1v1h1v1h1v1h5v1h4v1h2v-1h1v1h2v-1h2v1h3v-1h6v-1h3v-1h3v-1h3v-1h2v-1h4v-1h3v-1h2v-1h3v-1h4v-1h3v-1h3v-1h6v-1h3v-1h3v-1h4v-1h2v-1h1v1h1v-1h3v-1h2v-1h3v-1h4v-1h2v-1h1v1h1v-1h3v-1h3v-1h4v-1h2v-1h2v-1h3v-1h2v1h2v-1h2v-1h3v-1h2v-1h3v-1h2v2h-2v1h-2v1h-2v1h-4v1h-2v1h-2v-1h-2v1h-3v1h-3v2h-2v-1h-1v1h-2v1h-4v1h-4v1h-2v1h-4v1h-3v1h-3v1h-4v1h-3v1h-4v1h-3v1h-5v1h-1v-1h-1v1h-3v1h-1v1h-5v1h-3v1h-3v1h-2v1h-3v1h-4v1h-2v1h-3v1h-4v1h-3v1h-17v-1h-4v-1h-3v-1h-1v-1h-1v-1h-1v-1h-2v-2h-1v-1h-1v-1h-1v-1h-1v-1h-1v-1h-1v-1h-1v-1h-1v-2h-1v-1h-1v-1h-1v-2h-1v-2h-1v-2h-1v-3h-1v-2h-1v-1h-1v-3h-1v-2h-1v-3h-1v-2h-1v-2h-1v-2h-1v-2h-1v-2h-1v-2h-1v-1h-1v-1h-1v-2h-2v-1h-1v-1h-1v-1h-1v-1h-1v-1h-2v-1h-1v-1h-1v-1h-1v-1h-1v-1h-1v-1h-2v-1h-1v-1h-2v-1h-1v-1h-1v-1h-2v-1h-1v-1h-2v-1h-1v-1h-1v-1h-1v-1h-2v-1h-2v-1h-1v-1h-3v-1h-2v-1h-3v-1h-3v-1h-4v-1h-5v1h-2v-1h-8v1h-4v-1h-2v1h-3v-1h-4v1h-7v1h-2v1h-1v1h-3v1h-2v1h-3v1h-1v1h-3v1h-7v-1h-4v1h-1v-1h-2v-1h-3v-1h-1v-1h-2v-1h-1v-1h-1v-1h-1v-1h-2v-1h-1v-1h-1v-1h-1v-1h-2v-1h-1v-1h-1v-1h-1v-1h-1v-1h-1v-1h-1v-1h-2v-1h-2v-1h-1v-1h-1v-1h-2v-1h-3v-1h-2v-1h-3v-1h-4v-1h-3v1h-1v-1h-1v-2h-1v2h-1v-1h-2v-1h-2v1h-1v-1h-3v1h-2v-1h-1v1h-1v-1h-1v1h-1v-1h-1v1h-7v1h-2v-1h-12v1h-5v1h-2v1h-4v-1h-4v1h-3v1h-2v-1h-1v1h-2v-1h-3v1h-3v-1h-1v1h-1v1h-5v-1h-3v-1h-3v-1h-2v1h-2v-1h-1v1h-2v-1h-2v1h-2v-2h-2v-1h-5v-1h-2z"/>
<path fill="#8caa00" d="M69 63h1v1h1v1h1v-1h1v1h2v1h3v1h3v1h2v1h2v-1h2v1h3v1h1v-1h1v-1h2v2h1v-1h2v1h1v-1h8v1h1v-2h2v1h1v-1h2v1h1v1h1v-1h2v-1h5v-1h4v1h5v-1h4v1h1v-1h5v-1h2v1h3v-1h1v1h18v-1h2v2h3v1h1v-1h2v1h5v1h2v1h4v1h2v1h1v1h3v1h1v1h2v1h1v1h1v1h1v1h1v1h1v1h1v1h1v1h1v1h1v1h1v1h1v1h1v1h2v2h1v1h2v1h1v1h1v1h1v1h2v1h1v1h8v1h6v-1h3v-1h2v-1h3v-1h3v-1h2v-1h3v-1h7v-1h7v-1h20v1h6v1h3v1h1v1h1v1h2v1h1v1h1v1h1v1h2v1h2v1h2v1h1v1h1v1h2v1h1v1h1v1h1v1h2v1h1v1h1v1h1v1h2v1h1v1h1v1h2v1h1v1h2v1h1v1h1v1h1v1h1v1h1v2h1v1h1v2h1v1h1v2h1v1h1v3h1v1h1v2h1v2h1v2h1v3h1v2h1v2h1v1h1v2h1v2h1v2h1v1h1v2h1v1h1v1h1v1h1v1h1v1h1v1h1v1h2v1h1v1h1v1h1v1h2v1h1v1h3v1h2v1h21v-1h2v-1h4v-1h2v-1h4v-1h3v-1h1v-1h6v-1h5v-1h4v-1h1v1h1v-1h3v-1h2v-1h5v-1h1v-1h4v-1h2v-1h5v-1h2v-1h2v-1h2v-1h4v-1h3v-1h2v-1h3v-1h3v-1h3v-1h3v-1h1v-1h4v-1h2v-1h2v-1h3v-1h1v-1h2v-1h2v-1h3v3h-1v-1h-3v2h-3v1h-2v1h-3v1h-1v1h-2v1h-3v1h-2v1h-4v1h-2v1h-3v1h-4v2h-3v1h-2v-1h-1v1h-3v1h-1v1h-2v1h-3v1h-4v1h-4v1h-2v1h-3v1h-3v1h-4v1h-6v1h-3v1h-6v1h-3v1h-2v1h-4v1h-2v1h-4v1h-3v1h-6v1h-11v-1h-6v-1h-3v-1h-2v-1h-1v-1h-2v-1h-1v-1h-1v-1h-2v-1h-1v-1h-1v-1h-1v-1h-1v-1h-1v-1h-1v-2h-1v-1h-1v-1h-1v-1h-1v-2h-1v-2h-1v-2h-1v-1h-1v-2h-1v-3h-1v-2h-1v-2h-1v-2h-1v-2h-1v-2h-1v-2h-1v-1h-1v-2h-1v-2h-1v-1h-1v-2h-1v-1h-1v-1h-1v-1h-1v-1h-1v-1h-1v-1h-2v-1h-1v-1h-2v-1h-1v-1h-1v-1h-2v-1h-1v-1h-1v-1h-1v-1h-2v-1h-1v-1h-1v-1h-2v-1h-1v-1h-1v-1h-1v-1h-2v-1h-2v-1h-2v-1h-1v-1h-1v-1h-1v-1h-2v-1h-1v-1h-1v-1h-6v-1h-10v-1h-1v1h-3v-1h-2v1h-10v1h-1v-1h-1v1h-4v1h-1v-1h-1v1h-4v1h-2v1h-3v1h-2v1h-3v1h-2v1h-14v-1h-3v-1h-1v-1h-2v-1h-1v-1h-1v-1h-1v-1h-2v-2h-1v-1h-2v-1h-1v-1h-1v-1h-1v-1h-1v-1h-1v-1h-1v-1h-1v-1h-1v-1h-1v-1h-1v-1h-1v-1h-1v-1h-2v-1h-2v-1h-2v-1h-1v-1h-5v-1h-2v-1h-8v-1h-3v-1h-1v-1h-1v1h-5v-1h-2v1h-5v1h-2v-1h-3v-1h-2v1h-3v-1h-4v1h-8v1h-5v-1h-3v1h-1v-1h-1v1h-3v1h-6v-1h-1v1h-4v1h-1v-1h-5v-1h-1v1h-4v1h-2v-1h-5v-1h-1v1h-1v-1h-5v-1h-2v-1h-4v-1h-1v-1h-4v-1h-1z"/>
<path fill="#469664" d="M69 73h2v-1h1v1h2v1h3v1h1v-1h4v-1h2v1h1v-1h3v-1h2v1h1v1h1v-1h1v1h1v1h1v-1h1v1h2v-1h10v-1h2v2h1v-1h2v-1h2v1h2v-1h1v1h1v-1h8v-1h7v-1h1v1h1v-1h2v1h3v-1h5v1h1v-1h3v1h10v1h7v-1h1v1h6v1h2v1h2v1h1v1h4v1h2v1h2v1h1v1h3v1h1v1h2v1h2v1h2v1h2v1h1v1h3v1h2v1h2v1h1v1h2v1h2v1h3v1h6v1h5v-1h1v1h2v-1h4v-1h2v-1h2v-1h2v-1h3v-1h2v-1h7v-1h3v1h2v-1h25v1h4v1h3v1h2v1h2v1h3v1h2v1h1v1h2v1h1v1h1v1h2v1h1v1h2v1h1v1h2v1h1v1h1v1h2v1h1v1h1v1h1v1h2v1h1v1h1v1h1v1h1v1h1v1h1v1h1v1h1v1h1v1h1v1h1v1h1v2h1v2h1v2h1v2h1v2h1v2h1v3h1v2h1v2h1v3h1v2h1v2h1v2h1v2h1v2h1v2h1v1h1v2h1v1h1v1h1v2h1v1h1v1h1v1h1v1h1v1h1v1h1v1h1v1h1v1h1v1h2v1h3v1h4v1h13v-1h5v-1h3v-1h2v-1h3v-1h3v-1h3v-1h2v-1h3v-1h7v-1h2v-1h3v-1h5v-1h2v-1h1v1h1v-1h2v-1h6v-1h2v-1h3v-1h3v-1h2v-1h3v-1h1v-1h1v-1h2v1h1v-2h3v-1h3v-1h2v-1h2v-1h3v-1h1v-1h3v-1h1v-1h1v-1h2v-1h3v-1h2v-1h1v-1h2v-1h2v-1h1v-1h2v2h-2v1h-1v1h-2v1h-2v1h-1v1h-1v1h-4v1h-2v1h-1v1h-2v1h-2v2h-1v-1h-2v1h-1v1h-3v1h-1v1h-3v1h-2v1h-4v1h-1v1h-1v1h-4v1h-3v1h-3v1h-1v1h-4v1h-4v1h-5v1h-2v1h-3v1h-1v-1h-1v1h-3v1h-3v1h-7v1h-2v1h-2v1h-4v1h-2v1h-3v1h-2v1h-3v1h-1v-1h-1v1h-6v1h-1v-1h-2v1h-4v-1h-4v-1h-4v-1h-2v-1h-2v-1h-1v-1h-1v-1h-1v-1h-1v-1h-1v-1h-1v-1h-1v-1h-1v-2h-1v-1h-1v-1h-1v-1h-1v-2h-1v-1h-1v-2h-1v-1h-1v-2h-1v-3h-1v-1h-1v-3h-1v-2h-1v-2h-1v-2h-1v-3h-1v-2h-1v-3h-1v-1h-1v-2h-1v-2h-1v-2h-1v-2h-1v-1h-1v-1h-1v-1h-1v-1h-1v-1h-1v-1h-1v-1h-1v-1h-1v-1h-1v-1h-1v-1h-1v-1h-2v-1h-1v-1h-1v-1h-1v-1h-2v-1h-1v-1h-1v-1h-2v-1h-1v-1h-2v-1h-1v-1h-2v-1h-1v-1h-1v-1h-2v-1h-2v-1h-2v-1h-2v-1h-3v-1h-2v-1h-4v-1h-4v-1h-9v1h-1v-1h-4v1h-1v-1h-2v1h-15v1h-3v1h-1v1h-3v1h-3v1h-2v1h-2v1h-14v-1h-5v-1h-2v-1h-2v-1h-2v-1h-1v-1h-2v-1h-3v-1h-2v-1h-1v-1h-2v-1h-2v-1h-2v-1h-2v-1h-2v-1h-2v-1h-2v-1h-1v-1h-3v-1h-3v-1h-1v-1h-2v-1h-3v1h-1v-1h-5v-1h-2v1h-2v1h-2v-2h-2v1h-2v-1h-6v-1h-2v1h-2v-1h-1v1h-2v-1h-2v1h-1v-1h-1v1h-1v-1h-1v2h-1v-2h-1v1h-4v-1h-1v1h-4v1h-3v1h-1v-1h-5v1h-1v-1h-4v1h-3v-1h-1v1h-13v1h-2v-2h-1v1h-1v-1h-1v-1h-1v1h-4v1h-2v-1h-2v2h-1v-1h-1v1h-1v-1h-1v1h-1v-1h-1v-1h-6z"/>
<path fill="#eb008c" d="M69 71h8v1h3v1h2v1h9v1h7v1h2v-1h3v1h4v-1h2v1h3v-1h5v-1h3v-1h2v1h3v-1h4v1h1v-1h3v1h1v-1h1v-1h2v1h6v-1h2v1h2v-1h4v1h1v-1h14v-1h1v1h1v-1h6v1h1v1h3v-1h1v1h2v1h2v1h2v1h2v1h2v1h2v1h2v1h3v1h1v1h3v1h2v1h2v1h3v1h2v1h2v1h3v1h4v1h7v1h11v-1h1v1h4v-1h1v1h1v-1h13v-1h8v-1h7v1h1v-1h4v1h8v1h4v1h3v1h2v1h3v1h2v1h1v1h1v1h2v1h1v1h2v1h1v1h1v1h2v1h1v1h2v1h1v1h1v1h2v1h1v1h1v1h1v1h1v1h2v2h2v1h1v1h1v1h1v1h1v1h1v1h1v1h1v1h1v2h1v2h1v2h1v2h1v2h1v2h1v2h1v3h1v2h1v2h1v2h1v1h1v2h1v1h1v2h1v1h1v1h1v1h1v2h1v1h1v2h1v1h1v1h1v1h1v1h1v1h1v1h1v1h1v1h1v1h3v1h4v1h15v-1h5v-1h2v-1h3v-1h3v-1h2v-1h2v-1h3v-1h1v-1h2v-1h3v-1h4v-1h1v-1h3v-1h5v-1h3v-1h4v-1h2v1h1v-1h4v-1h3v-1h6v-1h1v-1h1v1h1v-1h3v-1h1v-1h2v-1h1v-1h3v-1h1v-1h1v-1h3v-1h4v-1h2v-1h2v-1h3v-1h4v-1h3v-1h3v-1h5v2h-1v-1h-1v1h-2v1h-5v1h-5v2h-5v1h-1v1h-2v1h-4v1h-3v1h-1v1h-3v1h-1v1h-1v1h-2v1h-1v1h-4v1h-5v1h-4v1h-2v1h-2v-1h-1v1h-4v1h-6v1h-3v1h-4v1h-2v1h-4v1h-2v1h-3v1h-1v1h-3v1h-1v1h-3v1h-3v1h-1v1h-3v1h-2v1h-13v1h-4v-1h-4v-1h-4v-1h-3v-1h-1v-1h-1v-1h-1v-1h-1v-1h-1v-1h-1v-1h-1v-1h-1v-2h-1v-1h-1v-1h-1v-2h-1v-1h-1v-1h-1v-1h-1v-2h-1v-1h-1v-2h-1v-1h-1v-2h-1v-2h-1v-2h-1v-3h-1v-2h-1v-2h-1v-2h-1v-2h-1v-2h-1v-2h-1v-2h-1v-1h-1v-1h-1v-1h-1v-1h-1v-1h-1v-1h-1v-1h-1v-1h-1v-1h-1v-1h-2v-1h-1v-1h-1v-1h-1v-1h-1v-1h-2v-1h-1v-1h-1v-1h-2v-1h-1v-1h-2v-1h-1v-1h-1v-1h-2v-1h-1v-1h-2v-1h-1v-1h-1v-1h-3v-1h-2v-1h-4v-1h-2v-1h-5v-1h-22v1h-6v1h-20v1h-2v-1h-11v-1h-4v-1h-3v-1h-3v-1h-3v-1h-2v-1h-2v-1h-2v-1h-2v-1h-3v-1h-3v-1h-1v-1h-3v-1h-1v-1h-2v-1h-2v-1h-3v-1h-2v-1h-5v-1h-1v-1h-1v1h-2v-1h-1v1h-4v1h-4v1h-1v-1h-1v1h-1v-1h-12v1h-2v1h-2v-1h-4v-1h-3v1h-7v-1h-2v1h-1v1h-3v-1h-3v1h-2v1h-2v1h-1v-1h-4v1h-2v-1h-3v1h-2v-1h-5v1h-1v-1h-9v-1h-4v-1h-1v1h-2v-2h-4v-1h-1v1h-1v-1h-6z"/>
<path fill="#aa5f64" d="M69 72h3v1h2v1h2v2h5v1h1v1h1v-1h1v1h2v1h2v1h1v-1h3v1h1v1h7v1h1v-1h5v-2h2v1h2v-1h1v1h5v-1h2v1h4v-1h3v-1h5v-1h2v-1h2v1h4v-1h2v1h1v-1h1v-1h2v1h7v-1h1v1h1v-1h1v-1h1v-1h3v1h1v-1h1v-1h2v1h1v-2h1v1h2v-1h1v1h2v-1h2v1h2v1h4v1h2v1h2v1h2v1h1v1h2v1h1v1h2v1h2v2h2v1h1v1h1v1h1v1h1v1h1v1h2v1h1v1h1v1h2v1h1v1h1v1h2v1h1v1h2v1h1v1h2v1h2v1h6v1h1v-1h2v1h1v-1h2v1h1v-1h6v-1h3v-1h5v-1h8v-1h1v1h1v-1h31v1h2v1h2v1h3v1h1v1h2v1h1v1h2v1h1v1h2v1h1v1h1v1h1v1h1v1h2v1h1v1h1v1h2v1h1v1h1v1h1v1h1v1h2v1h1v1h1v1h1v1h2v1h1v1h1v1h1v1h1v2h2v2h1v1h1v1h1v2h1v2h1v1h1v2h1v2h1v2h1v1h1v3h1v2h1v2h1v2h1v2h1v2h1v2h1v1h1v2h1v1h1v1h1v2h1v1h2v1h1v1h1v1h2v1h1v1h2v1h1v1h2v1h2v1h4v1h4v1h19v-1h4v-1h4v-1h7v-1h8v-1h9v-1h5v-1h2v1h1v-1h4v-1h5v-1h2v-1h4v-1h5v-1h8v-1h7v-1h5v-1h5v-1h1v1h2v-1h2v1h1v-1h1v-1h1v-1h2v1h3v1h1v2h-1v-1h-3v-1h-2v1h-1v2h-2v-1h-2v1h-3v-1h-1v1h-3v1h-1v-1h-1v1h-4v1h-2v-1h-1v1h-1v-1h-1v1h-2v1h-8v1h-2v-1h-1v1h-2v1h-4v1h-2v1h-2v-1h-1v1h-4v1h-6v1h-1v-1h-1v1h-6v1h-7v1h-1v-1h-3v1h-4v1h-6v1h-6v1h-3v1h-1v-1h-2v1h-2v-1h-3v1h-7v-1h-5v-1h-3v-1h-4v-1h-1v-1h-2v-1h-1v-1h-2v-1h-1v-1h-2v-1h-1v-1h-1v-1h-2v-2h-1v-1h-1v-1h-1v-1h-1v-2h-1v-1h-1v-2h-1v-2h-1v-2h-1v-2h-1v-2h-1v-3h-1v-2h-1v-2h-1v-1h-1v-2h-1v-2h-1v-1h-1v-2h-1v-2h-1v-1h-1v-1h-1v-2h-1v-1h-1v-1h-1v-1h-1v-1h-1v-1h-1v-1h-2v-1h-1v-1h-1v-1h-1v-1h-2v-1h-1v-1h-1v-1h-1v-1h-1v-1h-2v-1h-1v-1h-1v-1h-2v-1h-1v-1h-1v-1h-1v-1h-1v-1h-2v-1h-1v-1h-2v-1h-1v-1h-2v-1h-1v-1h-3v-1h-2v-1h-4v-1h-19v1h-1v-1h-3v1h-12v1h-5v1h-4v1h-5v1h-13v-1h-5v-1h-2v-1h-1v-1h-2v-1h-1v-1h-2v-1h-1v-1h-2v-2h-2v-1h-1v-1h-1v-1h-2v-1h-1v-1h-1v-1h-1v-1h-1v-1h-1v-1h-2v-2h-2v-1h-2v-1h-1v-1h-2v-1h-1v-1h-2v-1h-3v-1h-4v-1h-3v-1h-1v1h-4v-1h-1v1h-1v1h-4v1h-2v-1h-1v1h-2v1h-2v1h-1v-1h-2v1h-5v-1h-2v1h-4v1h-4v-1h-1v1h-3v1h-1v1h-1v-1h-3v1h-3v1h-2v-1h-1v1h-1v-1h-1v1h-4v-1h-1v1h-1v-1h-1v1h-1v-1h-1v1h-2v1h-2v-1h-1v1h-2v1h-1v-1h-4v1h-1v-1h-1v-1h-2v-1h-6v-1h-2v-1h-4v-1h-3v-1h-1v-1h-3v-2h-4z"/>
<path fill="#008000" d="M69 153h4v1h2v1h4v-1h1v2h1v1h7v1h1v1h1v-1h3v1h1v-1h1v1h3v-1h3v2h1v-1h1v-2h1v1h1v1h4v-2h1v1h3v1h1v-2h5v-1h3v1h4v-1h2v-1h1v2h1v-1h1v-1h1v1h1v-1h1v1h1v-1h9v1h1v-1h1v-1h2v1h1v1h2v-1h3v-2h1v1h4v1h4v1h4v1h3v1h2v1h2v2h1v1h1v1h1v1h1v2h1v1h1v1h1v1h1v1h1v2h1v1h2v1h1v2h2v1h1v1h1v1h2v1h2v1h2v1h1v1h2v1h2v1h2v1h4v1h2v1h5v1h11v-1h7v-1h10v-1h13v-1h2v1h5v-1h18v1h2v1h2v1h2v1h1v1h1v1h2v1h1v1h1v1h1v1h1v2h1v1h1v1h1v1h1v1h1v1h1v1h1v1h1v1h1v1h1v2h1v1h1v1h1v2h1v1h1v1h1v2h1v1h1v2h1v1h1v2h1v1h1v2h1v1h1v2h1v2h1v1h1v2h1v2h1v1h1v2h1v2h1v2h1v1h1v3h1v2h1v2h1v2h1v2h1v2h1v2h1v2h1v2h1v2h1v2h1v2h1v2h1v2h1v2h1v2h1v1h1v2h1v1h1v1h1v1h1v1h2v2h2v1h2v1h1v1h3v1h2v1h4v1h11v-1h2v1h1v-1h4v-1h4v-1h1v-1h2v-1h4v-1h3v-1h2v-1h2v-1h1v-1h2v-1h3v-1h4v-1h3v-1h3v-1h5v-1h4v-1h3v-1h4v-1h6v-1h3v-1h3v-1h2v-1h9v-1h1v-1h1v-1h2v-1h1v1h1v-1h1v-1h3v-1h2v-1h1v1h1v-1h6v-1h2v-1h2v1h1v-1h3v1h1v-1h1v-1h2v1h-1v1h-1v1h-2v1h-1v-1h-6v1h-3v1h-2v-1h-1v1h-4v1h-2v1h-2v1h-3v2h-1v-1h-1v1h-1v1h-6v1h-1v-1h-1v1h-3v1h-2v1h-2v1h-6v1h-4v1h-3v1h-5v1h-5v1h-3v1h-3v1h-3v1h-5v1h-1v1h-2v1h-2v1h-2v1h-3v1h-3v1h-2v1h-2v1h-4v1h-3v1h-10v1h-1v-1h-6v-1h-4v-1h-3v-1h-2v-1h-1v-1h-2v-1h-2v-2h-2v-1h-1v-1h-1v-1h-1v-1h-1v-2h-1v-2h-1v-1h-1v-2h-1v-3h-1v-1h-1v-2h-1v-2h-1v-2h-1v-2h-1v-2h-1v-2h-1v-2h-1v-3h-1v-1h-1v-3h-1v-2h-1v-2h-1v-1h-1v-2h-1v-2h-1v-2h-1v-1h-1v-2h-1v-2h-1v-2h-1v-2h-1v-1h-1v-1h-1v-2h-1v-2h-1v-1h-1v-2h-1v-1h-1v-1h-1v-2h-1v-1h-1v-2h-1v-1h-1v-1h-1v-2h-1v-1h-1v-1h-1v-1h-1v-1h-1v-1h-1v-1h-1v-1h-1v-1h-1v-1h-1v-1h-1v-2h-1v-1h-1v-1h-1v-1h-1v-1h-2v-1h-1v-1h-1v-1h-2v-1h-2v-1h-6v-1h-1v1h-29v1h-9v1h-7v1h-10v1h-1v-1h-6v-1h-4v-1h-3v-1h-3v-1h-2v-1h-3v-1h-1v-1h-2v-1h-1v-1h-2v-1h-2v-1h-1v-1h-1v-1h-1v-1h-1v-1h-2v-1h-1v-2h-1v-1h-1v-1h-1v-1h-1v-1h-1v-1h-1v-1h-1v-2h-1v-1h-1v-1h-2v-1h-1v-2h-2v-1h-1v1h-1v-1h-3v-1h-4v-1h-7v1h-2v1h-2v-1h-1v-1h-2v1h-3v-1h-1v1h-3v-1h-2v1h-1v1h-4v-1h-1v1h-6v1h-3v-1h-1v1h-1v-1h-1v1h-1v1h-2v-1h-1v1h-6v1h-2v-1h-1v1h-1v-1h-2v1h-1v1h-1v-1h-1v-1h-2v1h-6v-1h-4v-1h-4v-1h-4v-1h-1v-1h-1v1h-3v-1h-1v-1h-5z"/>
<path fill="#ff00ff" d="M69 155h6v1h1v-1h1v2h3v1h7v1h1v1h9v-1h2v2h3v-1h3v-1h2v-1h2v1h1v-1h2v1h1v1h1v-1h3v-1h3v-1h4v1h2v-1h2v1h1v-1h4v-1h2v1h1v1h11v-1h4v1h3v1h1v-1h3v1h3v1h2v1h3v1h2v1h2v1h1v1h2v1h2v1h2v1h2v1h1v1h4v1h1v1h2v1h3v1h2v1h3v1h2v1h3v1h3v1h3v1h4v1h6v1h8v-1h8v-1h5v-1h7v-1h9v-1h6v-1h17v1h5v1h2v1h3v1h1v1h1v1h1v1h2v1h1v1h1v1h1v1h1v1h1v1h1v1h1v1h1v1h1v1h1v1h1v1h1v1h1v1h1v1h1v1h1v2h1v1h1v1h1v2h1v1h1v2h1v1h1v1h1v2h1v1h1v1h1v2h1v2h1v1h1v1h1v2h1v2h1v1h1v2h1v1h1v2h1v2h1v2h1v1h1v2h1v2h1v3h1v2h1v2h1v2h1v3h1v1h1v2h1v2h1v1h1v1h1v2h1v1h1v1h1v1h1v1h1v2h2v1h1v1h1v1h2v1h2v1h2v1h2v1h4v1h14v-1h2v-1h4v-1h1v-1h3v-1h1v-1h2v-1h3v-1h2v-1h3v-1h1v-1h3v-1h1v-1h2v-1h1v-1h3v-1h2v-1h3v-1h3v-1h2v-1h3v-1h5v-1h1v-1h5v-2h1v-1h3v-1h3v-1h2v-1h3v-1h2v-1h4v-2h7v-1h1v-1h4v-1h2v-1h3v-1h4v-1h2v-1h4v-1h3v-1h5v-1h2v1h-1v1h-2v1h-5v1h-2v1h-1v-1h-1v1h-2v1h-2v1h-1v-1h-2v1h-1v1h-3v1h-2v1h-2v-1h-1v1h-1v1h-3v1h-4v1h-2v1h-3v1h-3v1h-2v1h-3v1h-2v1h-2v1h-1v1h-5v1h-1v1h-4v1h-3v1h-3v1h-3v1h-3v1h-2v1h-2v1h-2v1h-2v1h-1v1h-3v1h-1v1h-2v1h-2v1h-3v1h-3v1h-1v1h-2v1h-2v1h-2v1h-4v1h-5v1h-8v-1h-5v-1h-2v-1h-3v-1h-2v-1h-1v-1h-2v-1h-1v-1h-1v-1h-2v-2h-1v-1h-1v-1h-1v-1h-1v-1h-1v-2h-1v-1h-1v-2h-1v-1h-1v-2h-1v-2h-1v-2h-1v-2h-1v-3h-1v-2h-1v-2h-1v-2h-1v-2h-1v-2h-1v-1h-1v-2h-1v-2h-1v-2h-1v-1h-1v-2h-1v-1h-1v-2h-1v-1h-1v-2h-1v-1h-1v-2h-1v-1h-1v-1h-1v-2h-1v-1h-1v-1h-1v-2h-1v-2h-1v-1h-1v-1h-1v-1h-1v-2h-1v-1h-1v-1h-1v-1h-1v-1h-1v-1h-1v-1h-1v-1h-1v-1h-1v-1h-1v-1h-1v-1h-1v-1h-1v-1h-1v-1h-1v-1h-1v-1h-2v-1h-1v-1h-1v-1h-2v-1h-2v-1h-2v-1h-9v-1h-5v1h-11v1h-10v1h-5v1h-5v1h-7v1h-16v-1h-4v-1h-3v-1h-3v-1h-3v-1h-3v-1h-2v-1h-4v-1h-1v-1h-1v1h-1v-1h-2v-1h-1v-1h-2v-1h-3v-1h-1v-1h-2v-1h-2v-1h-2v-1h-2v-1h-1v-1h-4v-1h-2v-1h-2v-1h-3v-1h-2v1h-2v-1h-2v-1h-2v1h-2v-1h-1v1h-6v-1h-3v1h-2v-1h-1v-1h-1v1h-1v-1h-2v2h-4v-1h-1v1h-3v-1h-3v1h-3v1h-5v-1h-2v1h-3v-1h-1v1h-1v1h-3v1h-1v-1h-1v1h-1v-1h-5v1h-3v-1h-3v-1h-1v-1h-1v1h-1v-1h-4v-1h-4v-1h-6v-1h-2z"/>
<path fill="#a00000" d="M69 154h2v1h2v1h3v1h10v1h2v-1h1v1h4v1h1v-1h3v-1h7v-1h1v1h3v-1h1v1h1v1h1v-1h1v-1h2v-1h4v-1h1v1h1v-1h3v-1h3v1h2v-1h9v-1h3v1h1v-1h2v-1h1v1h4v1h3v-1h2v2h2v1h3v1h1v-1h5v1h2v1h3v1h1v1h2v1h1v1h2v1h1v1h2v1h1v1h1v1h1v1h1v1h1v1h1v1h1v1h1v1h1v1h1v1h1v1h1v1h2v1h1v1h2v1h2v1h1v1h3v1h3v1h2v1h3v1h4v1h8v-1h4v-1h4v-1h3v-1h3v-1h2v-1h3v-1h3v-1h9v-1h21v1h5v1h4v1h1v1h3v1h1v1h2v1h2v1h1v1h2v1h1v1h1v1h2v1h1v1h1v1h1v1h2v1h1v1h1v1h1v1h1v1h2v1h1v1h1v1h1v1h1v1h1v1h1v1h1v1h2v1h1v1h1v1h1v1h1v1h1v1h1v2h1v1h1v1h1v2h1v2h1v2h1v2h1v2h1v2h1v2h1v2h1v2h1v2h1v2h1v2h1v1h1v2h1v2h1v1h1v2h1v2h1v1h1v1h1v2h2v2h1v1h1v1h1v1h1v1h2v1h2v1h2v1h2v1h3v1h1v-1h1v1h4v1h4v-1h6v-1h5v-1h2v-1h3v-1h2v-1h4v-1h1v-1h5v-1h3v-1h3v-1h2v-1h5v-1h4v-1h3v-1h4v-1h2v-1h6v-1h5v-1h1v1h6v-1h5v-1h1v1h1v-1h2v-1h6v-1h1v-1h1v1h1v-1h6v-1h1v1h1v-1h6v-1h4v1h1v-1h6v2h-1v-1h-1v1h-5v1h-1v-1h-1v-1h-1v1h-1v1h-1v-1h-1v1h-6v1h-6v1h-4v1h-5v1h-5v1h-4v1h-2v-1h-2v1h-2v-1h-1v1h-5v1h-6v1h-4v1h-4v1h-4v1h-4v1h-2v1h-4v1h-3v1h-3v1h-3v1h-3v1h-3v1h-3v1h-2v1h-3v1h-4v1h-6v1h-2v-1h-5v-1h-3v-1h-3v-1h-2v-1h-3v-1h-1v-1h-2v-1h-1v-1h-1v-1h-1v-2h-1v-1h-1v-1h-1v-1h-1v-1h-1v-1h-1v-2h-1v-2h-1v-1h-1v-2h-1v-2h-1v-1h-1v-2h-1v-2h-1v-2h-1v-2h-1v-2h-1v-2h-1v-2h-1v-2h-1v-2h-1v-3h-1v-1h-1v-2h-1v-1h-1v-2h-1v-1h-1v-1h-1v-1h-1v-1h-1v-1h-1v-1h-1v-1h-2v-1h-1v-1h-1v-1h-1v-1h-1v-1h-1v-1h-1v-1h-1v-1h-2v-1h-1v-1h-1v-1h-1v-1h-1v-1h-2v-1h-1v-1h-1v-1h-1v-1h-2v-1h-1v-1h-1v-1h-2v-1h-2v-1h-1v-1h-2v-1h-1v-1h-3v-1h-3v-1h-3v-1h-31v1h-3v1h-3v1h-3v1h-2v1h-3v1h-4v1h-4v1h-3v1h-5v-1h-4v-1h-3v-1h-3v-1h-3v-1h-2v-1h-3v-1h-1v-1h-2v-1h-2v-1h-2v-1h-1v-1h-1v-1h-1v-1h-1v-1h-1v-1h-1v-1h-1v-1h-1v-1h-1v-1h-1v-1h-1v-1h-1v-1h-2v-1h-1v-1h-1v-1h-2v-1h-2v-1h-1v-1h-3v-1h-3v-1h-1v-1h-1v1h-7v-2h-2v-1h-1v1h-3v-1h-7v1h-1v-1h-2v1h-2v1h-2v-1h-4v-1h-1v1h-1v1h-2v-1h-4v2h-3v-1h-1v1h-4v1h-2v1h-3v-1h-1v1h-3v-1h-1v2h-1v-1h-1v-1h-1v1h-5v1h-9v-1h-10v-1h-1v1h-1v-1h-2v-1h-2v-1h-2z"/>
<path fill="#00008b" d="M69 161h3v1h2v1h2v-1h2v1h1v1h1v-1h1v1h9v1h3v1h1v-1h2v-1h3v1h5v-1h3v-1h1v1h4v-1h2v-1h3v-1h5v-1h2v1h1v-1h5v1h1v-1h1v1h2v-1h3v-1h2v1h1v-1h1v1h11v1h4v-1h2v1h1v1h4v1h2v1h2v-1h2v1h1v1h2v2h2v1h1v1h1v1h1v1h1v1h1v1h1v1h1v2h1v1h1v1h1v1h1v1h1v1h1v1h1v1h1v1h1v1h1v1h1v1h1v1h2v1h2v1h3v1h3v1h2v1h2v1h4v1h2v1h2v1h1v1h8v-1h3v-1h4v-1h2v-1h5v-1h7v-1h5v-1h21v1h9v1h3v1h2v1h1v1h2v1h2v1h1v1h2v1h1v1h1v1h1v1h2v1h1v1h1v1h1v1h1v1h2v2h2v1h1v1h1v1h1v1h1v1h1v1h2v1h1v1h1v1h1v1h2v2h2v1h1v2h1v1h1v1h1v1h1v1h1v2h1v1h1v1h1v2h1v1h1v2h1v2h1v2h1v2h1v3h1v2h1v2h1v2h1v2h1v2h1v1h1v2h1v1h1v1h1v1h1v2h1v1h1v1h1v1h1v1h1v1h2v1h2v1h2v1h1v1h4v1h3v1h15v-1h3v-1h3v-1h3v-1h2v-1h2v-1h5v-1h2v-1h4v-1h5v-1h3v-1h2v-1h5v-1h3v-1h3v-1h3v-1h4v-1h4v-1h8v-1h2v1h1v-1h2v-1h6v-1h1v-1h5v-1h1v-1h1v1h1v-1h1v-1h2v-1h2v-1h6v-1h6v-1h5v-1h1v1h2v2h-4v-1h-1v1h-4v1h-2v-1h-1v1h-3v1h-5v1h-2v1h-2v1h-4v2h-4v1h-3v1h-3v1h-1v-1h-2v1h-1v1h-1v-1h-1v1h-1v-1h-4v1h-5v1h-1v-1h-1v1h-3v1h-3v1h-4v1h-2v1h-4v1h-3v1h-4v1h-2v1h-5v1h-4v1h-3v1h-4v1h-2v1h-2v1h-3v1h-3v1h-11v1h-2v-1h-6v-1h-2v-1h-4v-1h-2v-1h-2v-1h-1v-1h-2v-1h-1v-1h-1v-1h-1v-1h-1v-1h-1v-2h-1v-1h-1v-1h-1v-2h-1v-1h-1v-2h-1v-1h-1v-2h-1v-2h-1v-2h-1v-3h-1v-2h-1v-2h-1v-2h-1v-2h-1v-2h-1v-2h-1v-1h-1v-1h-1v-2h-1v-1h-1v-1h-1v-1h-1v-1h-1v-2h-1v-1h-1v-1h-2v-2h-2v-1h-1v-1h-1v-1h-1v-1h-2v-1h-1v-1h-1v-1h-1v-1h-1v-1h-1v-1h-1v-1h-1v-1h-2v-1h-1v-1h-1v-1h-1v-1h-1v-1h-2v-1h-1v-1h-1v-1h-1v-1h-2v-1h-1v-1h-2v-1h-2v-1h-2v-1h-1v-1h-5v-1h-14v-1h-3v1h-2v-1h-4v1h-6v1h-7v1h-5v1h-4v1h-3v1h-4v1h-3v1h-7v-2h-1v-1h-3v-1h-2v-1h-3v-1h-2v-1h-2v-1h-4v-1h-3v-1h-2v-1h-1v-1h-2v-2h-1v-1h-1v-1h-1v-1h-1v-1h-1v-1h-1v-1h-1v-1h-1v-1h-1v-1h-1v-2h-1v-1h-1v-1h-1v-1h-1v-1h-2v-2h-1v-1h-2v-2h-3v-1h-1v1h-4v-2h-4v-1h-1v-1h-1v1h-2v1h-2v-2h-4v1h-1v-1h-4v1h-1v-1h-2v-1h-1v1h-1v-1h-2v1h-3v1h-1v-1h-1v1h-4v-1h-1v-1h-1v1h-1v1h-7v1h-5v1h-7v1h-2v1h-1v-1h-1v1h-1v-1h-5v1h-6v-1h-9v-1h-5v-1h-3v-1h-1v1h-3z"/>
<path fill="#008b8b" d="M69 172h1v1h1v1h2v1h1v1h1v1h1v1h6v2h1v-1h1v1h3v-1h2v1h3v1h3v-1h2v1h1v-1h1v1h3v-1h7v-1h1v-1h2v1h3v-2h4v-1h1v-1h1v1h2v-1h3v-1h2v-1h8v-1h1v1h1v-1h4v-1h3v1h1v-1h4v-1h10v1h4v-1h1v1h7v1h2v1h2v1h1v1h1v1h1v1h1v1h1v1h1v2h1v1h1v1h2v2h2v1h1v1h1v1h1v1h2v1h1v1h1v1h2v1h3v1h5v1h3v1h5v1h5v1h7v-1h9v-1h5v-1h6v-1h15v-1h14v1h7v1h2v1h2v1h2v1h1v1h2v1h2v1h1v1h1v1h1v1h2v1h1v1h1v1h1v1h1v1h2v2h2v1h1v1h1v1h2v1h1v1h1v1h1v1h1v1h1v1h1v1h2v1h1v1h1v1h1v1h1v1h1v1h1v2h1v1h1v1h1v1h1v2h1v1h1v2h1v1h1v2h1v1h1v2h1v2h1v1h1v2h1v2h1v1h1v2h1v1h1v2h1v1h1v2h1v1h1v1h1v1h1v1h1v1h1v1h2v1h2v1h1v1h2v1h3v1h5v1h15v-1h4v-1h3v-1h1v-1h1v-1h2v-1h2v-1h3v-1h4v-1h4v-1h5v-1h4v-1h4v-1h2v-1h1v1h1v-1h2v-1h4v-1h5v-1h2v-1h2v1h1v-1h3v-1h9v-1h10v-1h15v-1h2v1h8v-1h1v1h5v2h-7v-1h-1v1h-5v-1h-3v1h-2v-1h-1v1h-2v-1h-1v1h-8v1h-4v-1h-2v1h-5v1h-2v-1h-1v1h-6v1h-7v1h-4v1h-3v1h-4v1h-3v1h-3v1h-4v1h-5v1h-4v1h-5v1h-3v1h-2v1h-3v1h-1v1h-1v1h-3v1h-1v1h-11v1h-3v-1h-7v-1h-4v-1h-3v-1h-2v-1h-2v-1h-1v-1h-2v-1h-1v-1h-1v-1h-1v-1h-1v-1h-1v-1h-1v-2h-1v-1h-1v-2h-1v-1h-1v-2h-1v-2h-1v-1h-1v-2h-1v-2h-1v-1h-1v-2h-1v-2h-1v-1h-1v-2h-1v-1h-1v-1h-1v-2h-1v-1h-1v-1h-1v-1h-1v-2h-1v-1h-1v-1h-1v-1h-1v-1h-1v-1h-1v-1h-2v-1h-1v-1h-1v-1h-1v-1h-1v-1h-1v-1h-1v-1h-2v-1h-1v-1h-1v-1h-1v-1h-1v-1h-2v-1h-1v-1h-1v-1h-1v-1h-1v-1h-2v-1h-1v-1h-1v-1h-2v-1h-1v-1h-2v-1h-2v-1h-1v-1h-2v-1h-4v-1h-26v1h-2v-1h-1v1h-8v1h-5v1h-7v1h-15v-1h-5v-1h-2v-1h-5v-1h-3v-1h-3v-1h-2v-1h-1v-1h-1v-1h-2v-1h-1v-1h-1v-1h-1v-1h-2v-2h-2v-2h-2v-2h-1v-1h-1v-1h-1v-1h-1v-1h-1v-1h-1v-1h-2v-1h-3v-1h-1v1h-3v-1h-6v1h-1v-1h-2v1h-1v-1h-6v1h-3v1h-2v-1h-1v1h-1v-1h-1v1h-1v1h-2v-1h-4v1h-8v1h-2v1h-1v1h-3v-1h-1v2h-1v-1h-1v2h-1v-1h-1v1h-1v1h-2v-1h-1v1h-4v1h-1v1h-1v-1h-7v1h-1v-1h-3v1h-2v-1h-8v-1h-4v-1h-2v-1h-4v-1h-1v-1h-1v-1h-2v-1h-2z"/>
<path fill="#0000ff" d="M69 166h1v1h1v1h2v1h2v-1h2v2h1v-1h1v1h4v-1h2v1h1v1h1v-1h3v1h2v-1h2v1h1v-1h5v1h4v-1h6v-1h1v-1h1v1h4v-2h3v1h1v-1h2v-1h10v1h1v-2h1v1h1v-1h3v-1h1v2h2v-1h2v-1h2v1h3v-1h1v1h2v1h4v1h1v1h3v1h2v1h3v2h3v1h1v1h2v1h2v1h2v1h1v1h1v1h2v1h1v1h1v2h1v1h1v2h1v2h1v2h1v2h1v1h1v2h1v2h1v1h1v1h1v1h1v1h1v1h1v1h1v1h1v1h1v1h2v1h2v1h1v1h2v1h3v1h3v1h4v1h8v-1h2v-1h4v-1h1v-1h2v-1h1v-1h2v-1h2v-1h1v-1h2v-1h2v-1h3v-1h4v-1h2v1h3v-1h7v1h2v-1h10v1h5v1h4v1h2v1h2v1h1v1h1v1h2v1h1v1h2v1h1v1h1v1h1v1h1v1h1v1h1v1h1v1h1v1h1v1h1v1h1v1h1v1h1v1h1v1h1v1h1v1h1v1h1v1h1v1h1v1h1v1h1v1h1v1h1v1h1v1h1v1h1v1h1v1h1v2h1v1h1v1h1v2h1v1h1v2h1v2h1v2h1v2h1v2h1v3h1v2h1v2h1v2h1v2h1v2h1v2h1v1h1v2h1v1h1v1h1v1h1v2h1v1h1v1h1v1h1v2h2v1h1v1h1v1h1v1h2v1h3v1h2v1h4v1h17v-1h3v-1h3v-1h4v-1h2v-1h4v-1h6v-1h3v-1h2v-1h5v-1h3v-1h5v-1h2v-1h1v1h2v-1h4v-1h3v-1h4v-1h5v1h1v-1h4v-1h1v1h1v-1h5v-1h2v1h1v-1h2v-1h2v-1h2v-1h1v-1h1v1h3v-1h1v1h1v-1h1v-1h1v-1h1v1h1v-1h1v-1h3v-1h2v-1h1v1h2v-1h4v-2h3v3h-4v1h-5v1h-3v1h-3v1h-3v1h-1v1h-5v1h-1v-1h-1v1h-2v1h-1v1h-3v1h-4v1h-8v1h-9v1h-3v1h-1v-1h-1v1h-2v1h-1v-1h-1v1h-5v1h-4v1h-3v1h-4v1h-5v1h-3v1h-4v1h-5v1h-3v1h-3v1h-4v1h-3v1h-4v1h-9v-1h-8v-1h-2v-1h-2v-1h-3v-1h-2v-1h-1v-1h-1v-1h-1v-1h-1v-1h-1v-1h-1v-1h-1v-1h-1v-2h-1v-1h-1v-1h-1v-1h-1v-1h-1v-2h-1v-1h-1v-2h-1v-2h-1v-2h-1v-2h-1v-2h-1v-2h-1v-3h-1v-2h-1v-2h-1v-2h-1v-2h-1v-2h-1v-1h-1v-2h-1v-1h-1v-1h-1v-2h-1v-1h-1v-1h-1v-1h-1v-1h-1v-1h-1v-1h-1v-1h-1v-1h-1v-1h-1v-1h-1v-1h-1v-1h-1v-1h-1v-1h-1v-1h-1v-1h-1v-1h-1v-1h-1v-1h-1v-1h-1v-1h-1v-1h-1v-1h-1v-1h-1v-1h-1v-1h-1v-1h-1v-1h-2v-1h-1v-1h-1v-1h-2v-1h-1v-1h-1v-1h-2v-1h-3v-1h-4v-1h-4v-1h-1v1h-23v1h-5v1h-1v1h-2v1h-2v1h-2v1h-2v1h-1v1h-2v1h-1v1h-2v1h-4v1h-4v1h-2v-1h-1v1h-1v-1h-3v-1h-4v-1h-2v-1h-3v-1h-2v-1h-2v-1h-2v-1h-1v-1h-1v-1h-1v-1h-1v-1h-1v-1h-1v-1h-1v-1h-1v-1h-1v-2h-1v-1h-1v-2h-1v-1h-1v-2h-1v-2h-1v-2h-1v-2h-1v-1h-1v-2h-1v-1h-1v-1h-2v-1h-1v-1h-2v-1h-1v-1h-4v-2h-3v-1h-1v-1h-1v-1h-3v-1h-2v1h-1v-2h-1v1h-1v-1h-3v-1h-1v-2h-3v1h-2v-1h-3v2h-3v-1h-3v1h-5v-1h-1v1h-2v1h-1v-1h-6v1h-3v1h-3v1h-1v-1h-3v1h-2v1h-1v-1h-2v1h-4v1h-2v-1h-3v1h-2v-1h-2v1h-5v-1h-1v1h-1v-1h-1v-1h-2v1h-3v-1h-1v1h-2v-1h-2v1h-1v-1h-1v-1h-1v-1h-2v-1h-1z"/>
<path fill="#a000ff" d="M69 171h1v1h2v1h1v1h1v1h2v1h4v2h3v1h1v1h1v-1h4v1h3v-1h2v1h2v-1h3v1h4v-1h2v1h4v-1h1v1h2v-1h1v-1h1v1h3v-1h2v-1h2v1h1v-1h2v-1h1v-1h6v-1h1v1h1v-1h2v-1h1v1h4v-1h8v-1h1v1h2v1h1v-1h2v1h1v-1h1v1h4v1h2v-1h2v1h3v1h2v1h2v1h3v1h2v1h2v1h1v1h1v1h1v1h1v1h1v2h1v1h1v2h1v1h1v1h1v2h2v1h1v1h1v1h2v1h1v1h2v1h1v1h2v1h1v1h2v1h1v1h1v1h2v1h2v1h2v1h3v1h5v1h3v-1h1v1h2v-1h3v-1h2v-1h1v-1h3v-1h8v-1h11v1h1v-1h7v1h2v-1h2v1h10v1h3v1h4v1h1v1h2v1h2v1h1v1h1v1h2v1h1v1h2v1h1v1h1v1h2v1h1v1h1v1h1v1h1v1h2v1h1v1h1v1h1v1h2v1h1v1h1v1h1v1h1v1h1v1h2v1h1v1h1v1h1v1h1v1h1v2h2v2h1v1h1v1h1v2h1v2h1v1h1v2h1v2h1v2h1v3h1v2h1v2h1v2h1v1h1v2h1v1h1v1h1v1h1v2h1v1h1v1h1v1h1v1h1v1h1v1h1v1h2v1h2v1h2v1h2v1h3v1h6v1h11v-1h9v-1h3v-1h2v-1h3v-1h2v-1h3v-1h4v-1h3v-1h2v-1h4v-1h7v-1h7v-1h7v-1h6v-1h8v-1h9v-1h3v-1h5v-1h5v-1h4v-1h8v-1h1v1h1v-1h2v-1h1v1h3v-1h1v2h-1v1h-4v-1h-1v2h-2v-1h-1v1h-3v1h-1v-1h-1v1h-10v1h-3v1h-6v1h-3v1h-7v1h-10v1h-4v1h-12v1h-3v1h-7v1h-4v1h-3v1h-4v1h-2v1h-3v1h-2v1h-3v1h-3v1h-2v1h-23v-1h-3v-1h-3v-1h-2v-1h-2v-1h-2v-1h-2v-1h-1v-1h-1v-1h-1v-1h-1v-1h-1v-1h-1v-2h-1v-1h-1v-1h-1v-1h-1v-2h-1v-1h-1v-1h-1v-2h-1v-2h-1v-3h-1v-2h-1v-2h-1v-2h-1v-2h-1v-2h-1v-1h-1v-2h-1v-1h-1v-1h-1v-2h-1v-1h-1v-1h-1v-1h-1v-1h-1v-1h-1v-1h-1v-1h-2v-1h-1v-1h-1v-1h-1v-1h-1v-1h-1v-1h-2v-1h-1v-1h-1v-1h-1v-1h-2v-1h-1v-1h-1v-1h-1v-1h-1v-1h-2v-1h-1v-1h-1v-1h-2v-1h-1v-1h-2v-1h-1v-1h-1v-1h-2v-1h-2v-1h-2v-1h-3v-1h-5v-1h-23v-1h-6v1h-8v1h-2v1h-2v1h-2v1h-2v1h-10v-1h-4v-1h-3v-1h-3v-1h-1v-1h-2v-1h-1v-1h-1v-1h-2v-1h-1v-1h-2v-1h-1v-1h-2v-1h-1v-1h-2v-1h-1v-1h-1v-1h-2v-2h-1v-1h-1v-1h-1v-2h-1v-2h-1v-1h-1v-1h-1v-1h-1v-1h-1v-1h-2v-1h-2v-1h-2v-1h-2v-1h-2v-1h-4v-1h-2v1h-1v-1h-5v-1h-1v1h-1v-1h-9v1h-1v-1h-5v1h-1v-1h-1v1h-1v-1h-1v1h-1v1h-2v-1h-1v1h-5v1h-2v1h-2v1h-4v1h-1v-1h-1v1h-1v-1h-1v1h-3v1h-1v-1h-7v1h-2v-1h-1v1h-1v-1h-4v1h-1v-1h-2v1h-2v1h-2v-1h-1v-1h-1v1h-2v-1h-1v-1h-2v-1h-2v-1h-1v1h-2v-1h-1v-1h-1v-1h-1v-1h-1v-1h-2v-1h-1z"/>
<path fill="#0064b4" d="M69 178h2v3h2v1h1v1h6v-1h2v2h3v-1h5v1h1v-1h1v1h1v-1h5v1h1v-1h4v-1h2v2h1v-1h1v-1h5v-1h6v-1h5v-1h4v1h1v-1h1v-1h1v1h4v-1h1v1h1v-1h1v-1h1v1h13v1h2v1h1v1h1v-1h1v1h1v1h2v-1h3v2h5v1h4v2h1v1h2v1h1v1h1v1h1v1h1v1h1v2h2v1h1v1h1v2h1v1h1v1h1v1h1v1h1v1h1v1h1v1h2v1h1v1h2v1h2v1h2v1h1v1h3v1h4v1h3v1h3v1h8v-1h3v-1h3v-1h2v-1h3v-1h2v-1h3v-1h3v-1h1v-1h4v-1h8v-1h14v1h1v-1h1v1h10v1h3v1h2v1h2v1h1v1h2v1h1v1h2v1h1v1h2v1h1v1h1v1h1v1h2v1h1v1h1v1h2v1h1v1h1v1h1v1h2v1h1v1h1v1h2v1h1v1h1v1h1v1h1v1h1v1h1v1h1v1h1v1h1v1h1v1h1v1h1v1h1v2h1v1h1v2h1v2h1v1h1v2h1v2h1v2h1v2h1v2h1v1h1v2h1v1h1v2h1v1h1v2h1v1h1v1h1v2h2v1h1v1h1v1h1v1h2v1h1v1h3v1h2v1h4v1h19v-1h5v-1h2v-1h2v-1h2v-1h3v-1h4v-1h2v-1h4v-1h3v-1h5v-1h5v-1h3v-1h4v-1h3v-1h5v-1h3v-1h4v-1h3v-1h4v-1h7v-1h2v-1h1v1h1v-1h3v-1h1v-1h2v-1h4v-1h3v-1h2v1h3v-1h5v-1h8v-1h1v2h-1v1h-8v1h-5v1h-2v-1h-3v1h-3v1h-5v1h-1v1h-2v1h-2v1h-1v-1h-2v1h-4v1h-5v1h-4v1h-2v1h-5v1h-3v1h-5v1h-4v1h-3v1h-4v1h-3v1h-6v1h-3v1h-3v1h-3v1h-5v1h-2v1h-2v1h-2v1h-5v1h-4v1h-1v-1h-2v1h-10v-1h-5v-1h-3v-1h-2v-1h-3v-1h-2v-1h-1v-1h-1v-1h-1v-1h-1v-1h-1v-1h-1v-1h-1v-1h-1v-2h-1v-1h-1v-1h-1v-2h-1v-1h-1v-2h-1v-1h-1v-2h-1v-2h-1v-2h-1v-2h-1v-2h-1v-2h-1v-1h-1v-2h-1v-2h-1v-1h-1v-1h-1v-1h-1v-1h-1v-1h-1v-1h-1v-1h-1v-1h-1v-1h-1v-1h-1v-1h-1v-1h-1v-1h-1v-1h-2v-1h-1v-1h-1v-1h-2v-1h-1v-1h-1v-1h-1v-1h-2v-1h-1v-1h-1v-1h-2v-1h-1v-1h-1v-1h-1v-1h-2v-1h-1v-1h-2v-1h-1v-1h-2v-1h-1v-1h-2v-1h-2v-1h-6v-1h-27v1h-4v1h-3v1h-3v1h-2v1h-3v1h-2v1h-2v1h-3v1h-3v1h-5v1h-1v-1h-6v-1h-3v-1h-3v-1h-5v-1h-1v-1h-2v-1h-2v-1h-2v-1h-1v-1h-1v-1h-2v-1h-1v-1h-1v-1h-1v-1h-2v-2h-1v-1h-1v-2h-1v-1h-1v-1h-1v-1h-1v-1h-2v-2h-1v-1h-1v-1h-2v-1h-1v-1h-2v-2h-4v1h-1v-1h-1v-1h-2v-1h-2v1h-2v-1h-2v-1h-2v-1h-3v-1h-7v-1h-1v1h-1v1h-1v-1h-2v-1h-1v1h-4v1h-10v1h-4v1h-1v-1h-1v1h-5v1h-5v1h-1v1h-2v-2h-1v1h-6v1h-1v-1h-3v1h-2v1h-1v-2h-2v1h-1v-1h-2v1h-2v-1h-8v-1h-1v1h-1v-2h-2v-1h-1v-1h-1z"/>
<path fill="#808080" d="M69 28h1v-1h5v1h1v2h1v1h1v1h1v-1h1v2h3v1h2v1h2v-1h2v2h1v-1h5v1h4v-1h9v1h1v-1h6v-1h2v-1h1v1h1v-1h7v-1h1v1h1v-1h3v-1h3v1h3v1h1v-1h2v-1h1v-1h2v1h1v-1h2v-1h2v1h5v-1h3v-1h4v-1h1v-1h3v1h1v-2h1v1h4v1h1v-1h3v1h2v1h1v1h2v1h1v1h1v1h2v1h1v1h2v1h1v1h1v1h2v1h1v1h2v1h1v1h2v1h1v1h1v1h1v1h2v1h1v1h1v1h2v1h2v1h2v1h2v1h2v1h2v1h4v1h2v1h1v1h5v-1h2v-1h2v-1h3v-1h3v-1h6v-1h6v-1h6v-1h5v-1h9v-1h16v1h5v1h2v1h1v1h1v1h2v1h1v1h1v1h1v1h1v1h1v1h1v1h1v1h1v1h1v2h1v1h1v1h1v1h1v1h2v2h2v2h2v1h1v1h1v1h1v1h1v1h1v1h1v1h1v1h1v1h1v1h2v1h1v1h1v1h1v1h1v2h1v2h1v2h1v2h1v3h1v2h1v3h1v2h1v4h1v2h1v3h1v3h1v3h1v3h1v3h1v3h1v3h1v3h1v4h1v2h1v2h1v2h1v2h1v1h1v2h1v1h1v2h1v1h1v1h1v1h2v1h2v1h2v1h3v1h7v1h4v-1h5v-1h3v-1h3v-1h2v-1h2v-1h2v-1h2v-1h2v-1h1v-1h2v-1h1v-1h2v-1h2v-1h2v-1h2v-1h3v-1h3v-1h1v-1h3v-1h2v-1h3v-1h7v-1h2v-1h4v-1h3v-1h3v-1h2v-1h4v-1h2v-1h2v-1h2v-1h1v-1h1v-1h1v-1h1v-1h1v-1h3v-1h2v-1h2v-1h2v-2h2v-1h4v-1h4v1h2v-1h1v1h2v1h2v2h-3v-1h-1v-1h-1v1h-3v-1h-3v1h-2v1h-1v-1h-1v1h-1v1h-1v1h-2v1h-3v1h-2v1h-2v2h-2v1h-1v1h-1v1h-2v1h-2v1h-2v1h-2v1h-3v1h-2v1h-4v1h-5v1h-2v1h-5v1h-4v1h-3v1h-1v1h-3v1h-1v1h-5v1h-2v1h-1v1h-2v1h-3v1h-1v1h-2v1h-1v1h-2v1h-2v1h-2v1h-2v1h-2v1h-3v1h-2v1h-5v1h-10v-1h-5v-1h-3v-1h-1v-1h-2v-1h-2v-1h-1v-1h-1v-1h-1v-2h-1v-2h-1v-1h-1v-1h-1v-2h-1v-2h-1v-2h-1v-3h-1v-3h-1v-3h-1v-3h-1v-3h-1v-3h-1v-3h-1v-3h-1v-3h-1v-3h-1v-3h-1v-3h-1v-2h-1v-3h-1v-2h-1v-3h-1v-3h-1v-2h-1v-2h-1v-1h-1v-1h-1v-1h-1v-1h-1v-1h-2v-1h-1v-1h-1v-1h-1v-1h-1v-1h-1v-1h-1v-1h-1v-1h-1v-1h-1v-1h-2v-2h-2v-2h-2v-1h-1v-1h-1v-1h-1v-2h-1v-1h-1v-1h-1v-1h-1v-1h-1v-1h-1v-1h-1v-1h-1v-1h-1v-1h-1v-1h-2v-1h-1v-1h-1v-1h-2v-1h-8v-1h-2v1h-12v1h-10v1h-6v1h-5v1h-8v1h-3v1h-3v1h-2v1h-2v1h-3v1h-1v-1h-3v-1h-2v-1h-2v-1h-3v-1h-3v-1h-1v-1h-2v-1h-2v-1h-2v-1h-2v-1h-1v-1h-1v-1h-2v-1h-1v-1h-1v-1h-1v-1h-2v-1h-1v-1h-2v-1h-1v-1h-2v-1h-1v-1h-1v-1h-2v-1h-1v-1h-2v-1h-2v-2h-2v-1h-3v-1h-1v1h-2v-1h-2v-1h-2v1h-2v1h-1v-1h-2v1h-2v1h-4v1h-1v1h-5v-1h-2v1h-2v1h-1v-1h-2v1h-1v1h-3v1h-1v-1h-5v-1h-1v1h-3v1h-3v1h-3v-1h-1v1h-1v-1h-2v1h-4v1h-5v1h-2v-1h-4v-1h-2v1h-3v1h-7v-1h-3v-1h-1v1h-1v-1h-2v-1h-3v-1h-3v-1h-1v-1h-1v-1h-1v-2h-3v-1h-1v1h-1v1h-1z"/>
<path fill="#000000" d="M132 130h2v1h2v-1h5v1h1v1h2v-1h4v1h1v-1h1v2h2v-1h1v2h1v-1h2v1h2v1h1v-1h1v1h3v-1h2v1h1v1h1v-1h2v1h4v1h1v1h2v2h2v1h1v1h1v1h2v2h1v1h1v1h1v1h1v1h1v1h2v1h1v1h2v1h1v1h3v1h1v1h4v1h2v1h3v1h2v1h6v1h16v1h2v-1h5v-1h4v-1h5v-1h6v-1h1v1h1v-1h2v1h1v-1h8v-1h1v1h2v-1h4v1h10v1h3v1h2v1h2v1h2v1h1v1h2v1h2v1h1v1h2v1h1v1h1v1h1v1h1v1h1v1h2v1h1v1h1v1h1v1h1v1h1v1h1v1h1v1h1v1h1v1h1v1h1v1h1v1h1v1h1v1h1v1h1v1h1v1h1v1h1v2h1v1h1v2h1v2h1v1h1v1h1v2h1v2h1v2h1v2h1v3h1v2h1v2h1v2h1v2h1v3h1v2h1v2h1v2h1v1h1v2h1v2h1v1h1v2h1v1h1v1h1v1h1v1h1v1h1v1h1v1h2v1h1v1h2v1h2v1h2v1h6v1h5v-1h7v-1h1v1h2v-1h3v-1h2v-1h2v-1h2v-1h2v-1h3v-1h2v-1h1v1h1v-1h1v-1h3v-1h2v-1h2v-1h2v-1h3v-1h1v-1h2v-1h2v-1h2v-1h3v-1h1v-1h2v-1h3v-1h1v-1h3v-1h1v-1h2v-1h2v-1h2v-2h2v-1h2v1h1v-1h2v-1h1v-1h3v-1h3v-1h2v-1h2v-1h3v-1h1v-1h3v-1h2v-1h2v-1h3v-1h2v-1h2v-1h2v-1h3v-1h3v-1h2v1h-1v1h-1v1h-4v1h-3v2h-3v1h-3v2h-2v-1h-1v1h-1v1h-4v1h-1v1h-3v1h-1v1h-3v1h-1v1h-4v1h-2v1h-1v1h-5v1h-1v1h-2v1h-2v1h-2v1h-1v1h-2v1h-2v1h-2v1h-2v1h-2v1h-2v1h-3v1h-1v1h-2v1h-2v1h-2v1h-3v1h-2v1h-2v1h-3v1h-1v1h-3v1h-2v1h-4v1h-2v1h-2v1h-2v1h-2v1h-7v1h-14v-1h-3v-1h-3v-1h-1v-1h-2v-1h-1v-1h-2v-1h-1v-1h-1v-1h-1v-1h-1v-1h-1v-1h-1v-1h-1v-2h-1v-1h-1v-2h-1v-2h-1v-1h-1v-2h-1v-2h-1v-3h-1v-2h-1v-2h-1v-2h-1v-2h-1v-2h-1v-3h-1v-2h-1v-2h-1v-2h-1v-2h-1v-1h-1v-2h-1v-2h-1v-1h-1v-1h-1v-2h-1v-1h-1v-1h-1v-1h-1v-1h-1v-1h-1v-1h-1v-1h-1v-1h-1v-1h-1v-1h-1v-1h-1v-1h-1v-1h-1v-1h-1v-1h-1v-1h-1v-1h-1v-1h-1v-1h-2v-1h-1v-1h-1v-1h-1v-1h-1v-1h-1v-1h-2v-1h-1v-1h-2v-1h-2v-1h-1v-1h-2v-1h-2v-1h-2v-1h-4v-1h-1v1h-1v-1h-1v1h-1v-1h-18v1h-10v1h-4v1h-5v1h-3v1h-14v-1h-2v1h-2v-1h-6v-1h-5v-1h-3v-1h-2v-1h-3v-1h-3v-1h-2v-1h-2v-1h-1v-1h-2v-1h-1v-1h-2v-1h-1v-1h-1v-1h-1v-1h-1v-1h-1v-2h-2v-1h-1v-1h-1v-1h-2v-2h-2v-1h-3v-1h-3v1h-1v-1h-1v-1h-3v1h-4v-1h-2v-1h-1v1h-1v-1h-4v-1h-2v-1h-3v1h-2v-1h-2v-1h-4v1h-1v-1h-2v1h-1v-1h-1z"/>
<path fill="#000000" d="M123 118h1v-1h2v1h2v-1h5v-1h6v1h1v-1h4v1h2v1h4v1h6v1h5v1h1v-1h3v1h3v1h3v1h2v1h2v1h2v2h2v1h2v1h1v1h1v1h1v1h1v1h1v1h1v1h1v1h2v1h2v1h1v1h2v1h3v1h3v1h3v1h5v1h9v1h1v-1h13v-1h4v-1h3v-1h3v-1h5v-1h6v-1h5v-1h8v-1h4v1h1v-1h1v1h13v1h3v1h1v1h3v1h2v1h1v1h2v1h2v1h1v1h2v1h1v1h1v1h1v1h2v1h1v1h1v1h2v1h1v1h1v1h1v1h1v1h1v1h1v1h2v1h1v1h1v1h1v1h1v1h1v1h1v1h1v1h1v1h1v2h1v1h1v1h1v2h1v1h1v2h1v2h1v2h1v2h1v1h1v3h1v2h1v2h1v2h1v2h1v2h1v2h1v2h1v2h1v2h1v1h1v1h1v2h1v1h1v1h1v1h1v1h2v1h1v1h2v1h2v1h5v1h11v-1h5v-1h4v-1h3v-1h2v-1h3v-1h3v-1h3v-1h3v-1h2v-1h3v-1h3v-1h2v-1h4v-1h2v-1h3v-1h2v-1h4v-1h4v-1h4v-1h3v-1h2v-1h6v-1h3v-1h3v-1h2v1h1v-1h1v1h1v-1h2v-1h3v-1h4v-1h3v-1h3v-1h2v-1h1v1h1v-1h2v-1h1v-1h1v-1h2v-1h2v-1h1v-2h2v-2h1v3h-2v1h-1v2h-1v1h-3v2h-2v1h-2v1h-4v1h-1v2h-1v-1h-2v1h-4v1h-3v1h-4v1h-6v1h-5v1h-1v1h-1v-1h-1v1h-5v1h-2v1h-3v1h-3v1h-7v1h-2v1h-2v1h-3v1h-3v1h-3v1h-2v1h-2v1h-4v1h-2v1h-3v1h-4v1h-2v1h-2v1h-2v1h-5v1h-4v1h-4v1h-4v-1h-9v-1h-3v-1h-2v-1h-2v-1h-2v-1h-1v-1h-1v-1h-1v-1h-1v-1h-1v-2h-1v-1h-1v-2h-1v-2h-1v-1h-1v-2h-1v-2h-1v-2h-1v-2h-1v-2h-1v-2h-1v-3h-1v-2h-1v-2h-1v-1h-1v-2h-1v-2h-1v-2h-1v-2h-1v-1h-1v-1h-1v-2h-1v-1h-1v-1h-1v-1h-1v-1h-1v-1h-1v-1h-1v-1h-1v-1h-1v-1h-1v-1h-2v-1h-1v-1h-1v-1h-1v-1h-1v-1h-1v-1h-1v-1h-2v-1h-1v-1h-1v-1h-2v-1h-1v-1h-1v-1h-1v-1h-2v-1h-1v-1h-2v-1h-2v-1h-1v-1h-3v-1h-2v-1h-1v-1h-3v-1h-22v1h-7v1h-5v1h-6v1h-4v1h-3v1h-4v1h-5v1h-2v-1h-3v1h-9v-1h-7v-1h-4v-1h-4v-1h-3v-1h-2v-1h-2v-1h-1v-1h-2v-1h-2v-1h-1v-1h-1v-1h-1v-1h-1v-1h-1v-1h-1v-1h-3v-2h-2v-1h-1v-1h-1v-1h-2v-1h-2v-1h-6v-1h-7v1h-2v-2h-3v-1h-3v-1h-6v-1h-12v1h-7v1h-1z"/>
</g></g>
<rect x="256" y="1260" width="1688" height="27" fill="#fff"/>
<g fill="#000">
<rect x="270" y="30" width="7.6" height="1238"/>
<rect x="262" y="1252.7" width="1679" height="4" fill="#ccc"/>
<rect x="258" y="1256.7" width="1683" height="3.9"/>
<rect x="246" y="1166.5" width="25" height="4"/>
<rect x="258" y="1079.0" width="13" height="4"/>
<rect x="246" y="991.6" width="25" height="4"/>
<rect x="258" y="904.1" width="13" height="4"/>
<rect x="246" y="816.7" width="25" height="4"/>
<rect x="258" y="729.2" width="13" height="4"/>
<rect x="246" y="641.8" width="25" height="4"/>
<rect x="258" y="554.3" width="13" height="4"/>
<rect x="246" y="466.9" width="25" height="4"/>
<rect x="258" y="379.4" width="13" height="4"/>
<rect x="246" y="292.0" width="25" height="4"/>
<rect x="258" y="204.5" width="13" height="4"/>
<rect x="246" y="117.1" width="25" height="4"/>
<rect x="258" y="29.7" width="13" height="4"/>
<rect x="273.0" y="1257" width="4" height="15"/>
<rect x="391.9" y="1257" width="4" height="27"/>
<rect x="510.8" y="1257" width="4" height="15"/>
<rect x="629.7" y="1257" width="4" height="27"/>
<rect x="748.6" y="1257" width="4" height="15"/>
<rect x="867.5" y="1257" width="4" height="27"/>
<rect x="986.5" y="1257" width="4" height="15"/>
<rect x="1105.4" y="1257" width="4" height="27"/>
<rect x="1224.3" y="1257" width="4" height="15"/>
<rect x="1343.2" y="1257" width="4" height="27"/>
<rect x="1462.1" y="1257" width="4" height="15"/>
<rect x="1581.0" y="1257" width="4" height="27"/>
<rect x="1699.9" y="1257" width="4" height="15"/>
<rect x="1818.8" y="1257" width="4" height="27"/>
<rect x="1937.7" y="1257" width="4" height="15"/>
</g>
<text x="230" y="1186.3" font-size="63" text-anchor="end" textLength="63.6" lengthAdjust="spacingAndGlyphs">10</text>
<text x="230" y="1011.4" font-size="63" text-anchor="end" textLength="63.6" lengthAdjust="spacingAndGlyphs">20</text>
<text x="230" y="836.5" font-size="63" text-anchor="end" textLength="63.6" lengthAdjust="spacingAndGlyphs">30</text>
<text x="230" y="661.6" font-size="63" text-anchor="end" textLength="63.6" lengthAdjust="spacingAndGlyphs">40</text>
<text x="230" y="486.7" font-size="63" text-anchor="end" textLength="63.6" lengthAdjust="spacingAndGlyphs">50</text>
<text x="230" y="311.8" font-size="63" text-anchor="end" textLength="63.6" lengthAdjust="spacingAndGlyphs">60</text>
<text x="230" y="136.9" font-size="63" text-anchor="end" textLength="63.6" lengthAdjust="spacingAndGlyphs">70</text>
<text x="393.4" y="1347" font-size="63" text-anchor="middle" textLength="127.2" lengthAdjust="spacingAndGlyphs">1000</text>
<text x="631.2" y="1347" font-size="63" text-anchor="middle" textLength="127.2" lengthAdjust="spacingAndGlyphs">1100</text>
<text x="869.0" y="1347" font-size="63" text-anchor="middle" textLength="127.2" lengthAdjust="spacingAndGlyphs">1200</text>
<text x="1106.9" y="1347" font-size="63" text-anchor="middle" textLength="127.2" lengthAdjust="spacingAndGlyphs">1300</text>
<text x="1344.7" y="1347" font-size="63" text-anchor="middle" textLength="127.2" lengthAdjust="spacingAndGlyphs">1400</text>
<text x="1582.5" y="1347" font-size="63" text-anchor="middle" textLength="127.2" lengthAdjust="spacingAndGlyphs">1500</text>
<text x="1820.3" y="1347" font-size="63" text-anchor="middle" textLength="127.2" lengthAdjust="spacingAndGlyphs">1600</text>
<text x="1106.5" y="1449.5" font-size="55" text-anchor="middle" textLength="479" lengthAdjust="spacingAndGlyphs">Wavelength (nm)</text>
<text transform="translate(73.6 682.7) rotate(-90)" font-size="61.5" text-anchor="middle" textLength="343" lengthAdjust="spacingAndGlyphs">Reflectance</text>
</svg></body></html>
